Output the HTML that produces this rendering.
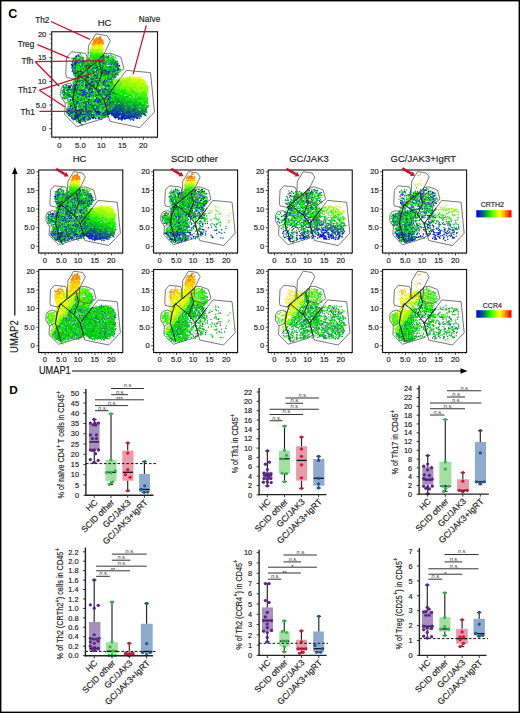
<!DOCTYPE html><html><head><meta charset="utf-8"><style>html,body{margin:0;padding:0;background:#fff;}svg{display:block;} .b{stroke:#1a1a1a;stroke-width:0.16px;}</style></head><body>
<svg width="520" height="713" viewBox="0 0 520 713" font-family='"Liberation Sans", sans-serif'>
<rect x="0" y="0" width="520" height="713" fill="#fff"/>
<defs>
<g id="hc1" stroke-linecap="round" stroke-width="7.5" fill="none">
<path stroke="#0004e5" d="M106 123h0m-6 12h0m53-5h0m4 3h0m93 4h0m-113 0h0m-4 14h0m118 6h0m-94-3h0m-30 9h0m92 8h0m-108-3h0m119 23h0m-16-2h0m-27-1h0m-68-1h0m55 8h0m67-1h0m-3 8h0m-27 14h0m-117 3h0m-2-3h0m11 15h0m-22 1h0m-5 6h0m101 17h0m-68-6h0m-3 14h0m132 5h0m-132 4h0m0 7h0m-9 10h0m13 5h0m12-1h0m116 15h0m-4 6h0m-8 3h0m-6 0h0m-42-4h0m-3 3h0m-30-3h0m-6 6h0m-70 0h0m115 7h0m-89 17h0m26-3h0m181 4h0m-158 4h0m-59-3h0m21 11h0"/>
<path stroke="#000ce3" d="M125 116h0m45 3h0m11-2h0m-85 9h0m-4 4h0m85 9h0m-79 12h0m0-4h0m150 6h0m-82 3h0m-36 0h0m-30 11h0m24-1h0m108 8h0m-22-1h0m21 3h0m-8 12h0m-13-3h0m-95 4h0m-13 8h0m121 8h0m19 5h0m-4 13h0m-102 4h0m111 5h0m-147 3h0m-1 12h0m73-6h0m13 12h0m-131-3h0m-2 10h0m44-4h0m106 4h0m41 3h0m5 1h0m-11 6h0m-116-2h0m-10-2h0m-11 11h0m59 1h0m48 9h0m-13-5h0m-27 5h0m-1-1h0m-2-4h0m-4 4h0m-64-2h0m-2-2h0m-18 5h0m6 7h0m19-6h0m22 4h0m27 6h0m-64 11h0m161 7h0m-166 1h0m-18 6h0m65 0h0m4 0h0m37 4h0m27-4h0m-16 8h0m-5-2h0m-26-1h0m-12 6h0m20 6h0m3 1h0m91-1h0m-75 6h0m-62 18h0"/>
<path stroke="#0015df" d="M106 94h0m63 23h0m0 2h0m17-1h0m-106 14h0m149-3h0m-10 11h0m-52 1h0m-18-2h0m-25 0h0m-1 6h0m6 2h0m75 7h0m-7-2h0m-91 1h0m62 13h0m27-5h0m13 10h0m-69 12h0m70-7h0m33 1h0m13 4h0m-125 6h0m-16 0h0m-12-2h0m98 14h0m-110 16h0m73 2h0m-58 13h0m74-5h0m23 4h0m-67 5h0m-36 0h0m-14 2h0m-25-3h0m21 11h0m22 1h0m39 0h0m24-4h0m7 3h0m67 1h0m9-3h0m-168 21h0m2-4h0m111-2h0m42 6h0m-28 8h0m-3-4h0m-58 7h0m76 3h0m3-5h0m-6 12h0m-65-4h0m-10 1h0m-16-1h0m-36 6h0m58 2h0m64 5h0m15 9h0m-107 6h0m63-1h0m53 6h0m-90 1h0m-37-1h0m-31 2h0m2 8h0m3 0h0m17 4h0m5-7h0m12 2h0m4 2h0m26-4h0m65 4h0m17 1h0m9 0h0m-12 3h0m-80 1h0m-1 5h0m-7-5h0m-38 13h0m10-4h0m44-1h0m46 4h0m1-5h0m1 5h0m8-2h0m68 3h0m-151 7h0m-30-5h0m-18 2h0"/>
<path stroke="#0324cb" d="M228 108h0m-134-2h0m-11 14h0m182 23h0m-101-4h0m-38 0h0m83 6h0m35 14h0m-84-7h0m-46 13h0m118-4h0m-13 7h0m-83 0h0m60 18h0m-103 3h0m127 7h0m-83 11h0m105 15h0m-110 0h0m-59-1h0m50 10h0m94 0h0m-23 1h0m-35 4h0m-59 1h0m-34 3h0m175 2h0m-72 7h0m-9 12h0m53-5h0m-1 11h0m-109-3h0m4 10h0m77 2h0m-86 9h0m-28 4h0m123 1h0m52 3h0m-67 6h0m68 18h0m-5-5h0m-71 6h0m-13-2h0m-9 3h0m-36-4h0m-50 6h0m24 3h0m58 1h0m42-2h0m44 2h0m10 1h0m49 0h0m-22 8h0m-20 1h0m-83 0h0m-44 8h0m28-3h0m17-4h0m127 9h0m-14 1h0m-130 5h0"/>
<path stroke="#0532b7" d="M271 318h0m-34-4h0m2 11h0m1 0h0m19-1h0m16 3h0m69 2h0m-6 5h0m-55-5h0m-35 6h0m31 3h0m3 2h0m2-4h0m4 5h0m1-2h0m3-1h0m16-1h0m1 2h0m6-2h0m5 0h0m6 4h0m-39 3h0"/>
<path stroke="#0841a3" d="M236 291h0m18 11h0m-16 7h0m39 8h0m-19 1h0m-5-3h0m-12 1h0m3 9h0m109 2h0m-44 4h0m-3 7h0m35 6h0m-16 6h0m-17-4h0"/>
<path stroke="#0a4f8e" d="M218 103h0m-20 13h0m-88 5h0m-15 3h0m-14 19h0m57 4h0m22 3h0m-61 46h0m103 12h0m-21 27h0m-20-1h0m-1 5h0m-2-5h0m-46-2h0m114 45h0m-133 14h0m193 5h0m-30 6h0m-32 7h0m6-3h0m3-1h0m2 4h0m3-1h0m38-1h0m16 4h0m35 3h0m-20 5h0m-1-2h0m-18-4h0m-11-1h0m-22 3h0m-161-3h0m172 14h0m21-3h0m4 3h0m2-3h0m42 0h0m24 2h0m-70 5h0m-79 2h0m-130 7h0m247 14h0"/>
<path stroke="#0d5d7a" d="M201 125h0m-41 2h0m-11 0h0m-51 7h0m6-4h0m16 1h0m5 4h0m69-6h0m22 2h0m39 9h0m-56 10h0m26-1h0m43 5h0m-3-1h0m-51 0h0m-8 3h0m-117 6h0m7 3h0m19 7h0m94 6h0m35 3h0m-61 13h0m42-2h0m-9 15h0m-21-6h0m0 0h0m-17-1h0m-13 2h0m-62 11h0m33-4h0m12 2h0m9 4h0m10-6h0m5 0h0m17 4h0m35-2h0m-92 7h0m-6 1h0m-22 4h0m-6 0h0m-31 0h0m-16 6h0m41-3h0m18 5h0m53 7h0m-32-3h0m-44-1h0m-40 6h0m19 7h0m51-2h0m112 10h0m-74-5h0m-88 0h0m70 13h0m11-6h0m72 13h0m-107-3h0m-21 6h0m65 4h0m36 0h0m6 0h0m49-5h0m-13 12h0m-12 0h0m-19-2h0m-84 2h0m104 7h0m8 3h0m32 0h0m4-2h0m23 5h0m-7 0h0m-4 2h0m-1 1h0m-5 2h0m-10-1h0m-2 0h0m-5 0h0m-7 1h0m-15-6h0m-2 2h0m-117 2h0m-23-4h0m49 15h0m31-3h0m52-2h0m23-2h0m9 2h0m5 0h0m4 0h0m3 4h0m10-5h0m9 0h0m1 6h0m76 4h0m-34-3h0m-21 7h0m-7-1h0m-64 0h0m-152 3h0m16-1h0m24 7h0m86-5h0m90 3h0m1-3h0m30 5h0m11-7h0m21 9h0m-14 2h0m-224 1h0m-17-1h0m202 5h0m11 3h0m27 7h0m-153 4h0m-66 3h0m2 6h0"/>
<path stroke="#0f6c66" d="M116 103h0m33 5h0m-32 9h0m137 10h0m-132-3h0m44 5h0m69 11h0m-72-2h0m-7 1h0m-52 3h0m-20 7h0m20-2h0m95 3h0m14-6h0m60 7h0m-85 5h0m-77 1h0m41 9h0m11-1h0m12 0h0m3-5h0m22 2h0m15 11h0m-29 0h0m-87 0h0m3 5h0m104-1h0m25 11h0m-26-4h0m-76 14h0m-42 6h0m-29 10h0m48 0h0m32 0h0m1 7h0m-84 3h0m163 7h0m-88 2h0m-64 1h0m75 13h0m5 7h0m-89-4h0m46 11h0m149 1h0m-132 6h0m-75-3h0m82 9h0m70 4h0m47 8h0m-164 0h0m22 6h0m37-2h0m66-1h0m28 1h0m27 5h0m1-5h0m1 4h0m18-2h0m3-4h0m27 13h0m-40 2h0m-8-1h0m-11-3h0m-144-1h0m-46 12h0m120-3h0m18-1h0m38 0h0m13 1h0m8 3h0m39-6h0m13 7h0m51-5h0m2-2h0m-16 12h0m-16 0h0m-10 2h0m-93-5h0m-14 5h0m-58-2h0m-43-2h0m-28 13h0m124 0h0m14 0h0m75-4h0m19 4h0m41 1h0m-19 6h0m-48-1h0m-68 1h0m-88-4h0m-14 4h0m-5-5h0m-40-1h0m51 9h0m13 14h0m-53-4h0m19 11h0m0-3h0"/>
<path stroke="#0e7f54" d="M219 100h0m-105 7h0m57 10h0m23-5h0m16 5h0m32 6h0m-116 3h0m-4 1h0m137 10h0m-44 5h0m-71-4h0m-22 3h0m-4-2h0m-18 5h0m147 6h0m11 4h0m-51 4h0m-20-1h0m-92 2h0m52 4h0m89 3h0m3 2h0m-33 0h0m-89 9h0m58 6h0m56-4h0m18 4h0m-91 2h0m84 10h0m-130 19h0m29-5h0m9 2h0m64 6h0m-95 14h0m82-3h0m31 6h0m-154-1h0m-13 5h0m-16-6h0m119 11h0m16-1h0m20-1h0m-48 14h0m-17-7h0m-32 7h0m131 1h0m1 0h0m7 2h0m75 7h0m-98 6h0m-21-5h0m-11-2h0m-3 2h0m-23 5h0m70 3h0m12 0h0m10-1h0m20 3h0m10 8h0m-26-1h0m-12 1h0m-19 1h0m-48-3h0m-6-2h0m-92 10h0m76 1h0m48 2h0m26-3h0m1 2h0m18-2h0m9 4h0m20-2h0m9 3h0m38 0h0m31 8h0m-20-5h0m-28 1h0m-23 0h0m-33 4h0m-20-4h0m-78-3h0m-87 15h0m4-5h0m10 0h0m80 4h0m37-1h0m76-2h0m27-1h0m37 2h0m19-3h0m11 12h0m-1 0h0m-30 2h0m-3-4h0m-10 3h0m-3-6h0m-30 2h0m-4 5h0m-199 8h0m64-4h0m42-2h0m9 3h0m112-3h0m36 6h0m23-5h0"/>
<path stroke="#0b9543" d="M229 110h0m-135-2h0m48 10h0m54-1h0m33-2h0m7 7h0m-1 0h0m-26 0h0m-8 3h0m-5-5h0m-45 6h0m-25-6h0m48 9h0m89 5h0m-58 5h0m-1-1h0m-101 10h0m118-2h0m-33 16h0m18 2h0m-91 8h0m-6-4h0m22 10h0m0 5h0m85 3h0m-11 21h0m-21 4h0m65 7h0m-187 1h0m64 12h0m84 0h0m-167 13h0m165 9h0m0 1h0m-86-6h0m41 12h0m71 3h0m74 7h0m0-4h0m-50 2h0m-21-4h0m-73 3h0m-57 4h0m28 7h0m6-6h0m33 0h0m59 5h0m9-1h0m60 2h0m43 6h0m-65-1h0m-31-1h0m-3 1h0m-33 1h0m-58 2h0m-48 3h0m27 0h0m137 5h0m32-2h0m21 0h0m3 2h0m7 1h0m11 0h0m5-3h0m-9 11h0m-5-7h0m-68 6h0m-71-4h0m-50 4h0m-49-1h0m-4-3h0m133 7h0m79 3h0m6 0h0m21-3h0m2 4h0m5-4h0m34 6h0m2-4h0m0 3h0m-268 6h0m-47 3h0m148 6h0m1-5h0m148 0h0m-239 31h0"/>
<path stroke="#08ab32" d="M235 255h0m26 6h0m11-1h0m0-1h0m10 3h0m30 6h0m-11 2h0m-24 0h0m-12 0h0m-3 1h0m-4-4h0m-12-2h0m-10 4h0m45 5h0m10-2h0m-23 11h0m114 19h0m-42-5h0m-72-1h0m66 9h0m5-1h0m24 2h0m3 1h0m9-2h0"/>
<path stroke="#05c121" d="M217 100h0m-55 11h0m-64-2h0m-1-1h0m57 6h0m107 5h0m-39 3h0m-70 0h0m-23 2h0m-13-2h0m-32 5h0m82 1h0m74 5h0m9 0h0m-64 4h0m-54 4h0m-41 1h0m60 4h0m6 5h0m28-1h0m16-3h0m-2 6h0m-18 3h0m-50 6h0m31 3h0m11-4h0m29 1h0m40 5h0m18 5h0m-85-2h0m-13-2h0m-4 6h0m-47 3h0m48 0h0m4 4h0m32 1h0m26-3h0m-59 7h0m-29-1h0m-25 10h0m3 3h0m4-4h0m51-2h0m77 6h0m-144 6h0m99 8h0m43 2h0m-174 5h0m31 10h0m22-4h0m37 2h0m28-2h0m22 1h0m5 3h0m36-4h0m-129 14h0m-2-7h0m-73 8h0m7 0h0m7 7h0m35-7h0m48 3h0m65 1h0m3-2h0m17 4h0m16-4h0m77 10h0m-32 2h0m-2-6h0m-14 0h0m-32 2h0m-185 2h0m8 9h0m140-4h0m33 0h0m10 3h0m79 1h0m15 10h0m-14-2h0m-10-2h0m-2 4h0m-7-2h0m-14 2h0m-33-4h0m-10 2h0m-146 5h0m43-1h0m23 4h0m61 2h0m2-4h0m49-3h0m17 7h0m8-6h0m21 2h0m22 3h0m-12 5h0m-1 1h0m-37-3h0m-13 4h0m15 6h0m29 1h0m14 1h0m15 1h0m10-2h0m3 1h0m0 8h0m-234 6h0m11 2h0m87-1h0m-73 4h0m-19 0h0m78 12h0m1 1h0m-2 4h0m-14 1h0m-52 10h0m-19 5h0m-37 5h0m9 12h0"/>
<path stroke="#03d70f" d="M181 95h0m-6-6h0m-61-1h0m108 22h0m-25-1h0m-36 1h0m-35-5h0m36 12h0m56-3h0m8 1h0m26 6h0m-47 5h0m-22-4h0m-9-2h0m-8 7h0m-1-7h0m-9 5h0m-25 0h0m-45 7h0m43-2h0m28-1h0m8-1h0m100 9h0m-87-1h0m-82 12h0m111-1h0m54 11h0m-17-2h0m-144-3h0m106 7h0m29 7h0m-20 5h0m-13 2h0m-8-2h0m12 13h0m-5 1h0m-1 4h0m-32-5h0m-1 5h0m-17-6h0m-37 9h0m9 2h0m8 0h0m23-2h0m-13 14h0m-14-7h0m-19 6h0m-3-5h0m42 10h0m19-1h0m36-2h0m1 5h0m23 2h0m-128 4h0m-50-1h0m25 13h0m94-5h0m98 13h0m-8-4h0m-108-1h0m-61 4h0m-23-5h0m-12 1h0m-9 0h0m13 11h0m19-2h0m156-3h0m43 2h0m26 6h0m-11 2h0m-3 4h0m-12-1h0m-1 1h0m-18-3h0m-11 4h0m-1 0h0m-155 0h0m-21-5h0m7 7h0m31 2h0m40 0h0m91-1h0m9-2h0m7 1h0m8 1h0m4 4h0m43-3h0m44 2h0m3 1h0m9-1h0m9 8h0m-45 0h0m-104-2h0m-109 5h0m31 2h0m44-1h0m18 1h0m103 3h0m25-3h0m2 1h0m11-3h0m30 6h0m-1 5h0m-2 3h0m-131 0h0m-13-2h0m-2 0h0m-16 2h0m-61-2h0m233 12h0m-19 4h0m-5-3h0m-20 3h0m-114 3h0m-14-5h0m-54 2h0m-21 2h0m-39 3h0m-29 11h0m43 6h0m99 12h0m-88 9h0m25-3h0m1 6h0"/>
<path stroke="#02eb00" d="M170 95h0m-14-2h0m4 3h0m2 2h0m27 2h0m7-1h0m32-3h0m17 3h0m-3 10h0m-16 1h0m-63 1h0m-60-1h0m-8 0h0m3 9h0m39-4h0m28 2h0m18 2h0m68-2h0m-15 8h0m-19 2h0m-20-1h0m-18-6h0m-6 5h0m-18 3h0m31 1h0m57 0h0m23 8h0m-71-1h0m-6 3h0m-23 2h0m-26-5h0m-13 4h0m-10 1h0m6 6h0m5 0h0m12 3h0m10-3h0m22 0h0m61 8h0m-102 0h0m80 11h0m8-4h0m5 0h0m38 7h0m-22 4h0m-116-1h0m-13-4h0m0 3h0m-12 10h0m109 1h0m44-2h0m-32 6h0m-28-1h0m-56 3h0m77 14h0m-38-1h0m-50 6h0m-35-5h0m22 10h0m-25 9h0m74 8h0m73 2h0m32-3h0m21 11h0m-26-4h0m-5-1h0m-145 6h0m63 7h0m8 0h0m24-4h0m34-2h0m78 11h0m-137-2h0m-25 2h0m-68 0h0m-7 10h0m1-5h0m16 1h0m84 0h0m85 0h0m11 3h0m16 1h0m24-5h0m15 5h0m14 1h0m7-5h0m4 6h0m-14 6h0m-11-5h0m-27 2h0m-59-1h0m-52 4h0m-59-6h0m-48 14h0m12-4h0m206 1h0m11 3h0m13-5h0m10-1h0m1 1h0m23 2h0m9 5h0m-14 6h0m-186-5h0m-97 10h0m151-3h0m146 9h0m-183 6h0m-94 0h0m-3 5h0m93-3h0m-90 15h0m54 15h0m-10 0h0m-47-2h0m93 14h0m-75 7h0"/>
<path stroke="#19ef00" d="M179 86h0m18 0h0m-26 9h0m-9-5h0m-1 11h0m42-2h0m34 5h0m-13 1h0m-45 4h0m-19-5h0m-12 4h0m29 11h0m30-6h0m-51 13h0m-37-3h0m-22 0h0m28 10h0m20-2h0m8 0h0m13-1h0m10 0h0m19 2h0m54-1h0m-86 5h0m-73 10h0m18-1h0m102 0h0m48 14h0m-94-5h0m-63 4h0m20 7h0m2-4h0m90 6h0m34-1h0m20-4h0m-16 13h0m-4 0h0m-18-2h0m-1-2h0m-44-3h0m-6 7h0m-38 2h0m15-1h0m41 22h0m6-2h0m44 9h0m-6 1h0m-11-3h0m-31 1h0m-29-3h0m-77 14h0m4-7h0m12 4h0m142 5h0m-165 5h0m33 7h0m132-1h0m42 4h0m-29 2h0m-5-1h0m-21 4h0m0-5h0m-60 4h0m-5-1h0m-8 7h0m65 2h0m31-3h0m2 2h0m1 3h0m68-5h0m-19 8h0m0 4h0m-27-3h0m-26 3h0m-150-1h0m-19 0h0m-17 2h0m-16-6h0m77 14h0m185 0h0m17 0h0m30-4h0m12 11h0m-41-3h0m-73 5h0m-16-2h0m-173 9h0m19-4h0m63-2h0m35 3h0m14 2h0m173-4h0m0 3h0m-149 9h0m-96-2h0m-56 0h0m13 11h0m84-4h0m4 4h0m65-5h0m-61 13h0m-33-5h0m-24 5h0m72 7h0m-75 10h0m-17-5h0m80 13h0m30-7h0m-115 15h0m-3-7h0m7 11h0m30 2h0"/>
<path stroke="#30f200" d="M173 84h0m45 10h0m-15-4h0m-18 7h0m6 1h0m45 4h0m-38 5h0m-46 1h0m16 4h0m12 0h0m66 8h0m-14 1h0m-28 4h0m-34-5h0m-23 2h0m-45 7h0m31 12h0m-43-3h0m-8 7h0m160 0h0m-110 9h0m5 9h0m95 4h0m-12 2h0m-58 0h0m-1-1h0m-7 1h0m-30-1h0m-10 15h0m88-2h0m-52 5h0m-57 0h0m49 13h0m5-6h0m71 6h0m-61 8h0m-4-4h0m-32 6h0m18 5h0m74-4h0m47 3h0m1-1h0m40 3h0m12 5h0m-9-1h0m-124 3h0m-128 2h0m43 1h0m46 1h0m154-2h0m-9 12h0m-51-3h0m-84 4h0m-21-4h0m-2 2h0m-23 9h0m18 0h0m126 1h0m72 1h0m6-4h0m42 4h0m-13 6h0m-15-4h0m-1 5h0m-26-3h0m-8 0h0m-134 3h0m-121-2h0m20 10h0m251-4h0m30 2h0m13 4h0m18 6h0m-4-5h0m-4 1h0m-8 2h0m-28-2h0m-202 3h0m-52 0h0m42 8h0m2 3h0m24-7h0m18 2h0m182 0h0m-99 8h0m-105-1h0m-61 0h0m22 10h0m54-1h0m63-1h0m10 0h0m-14 13h0m-42-5h0m-58 2h0m-7 7h0m66 9h0m44 13h0m-14 0h0m-16 6h0m-97 2h0m1 13h0"/>
<path stroke="#47f600" d="M186 101h0m-10 8h0m-5-2h0m98 105h0m58 8h0m-1 1h0m-51-1h0m13 9h0m7 1h0m2-5h0m6 0h0m14 4h0m4-2h0m61 3h0m-2 9h0m-57-3h0m-10 0h0m-7-4h0m-11 1h0m-21 5h0m-9-6h0m-12 6h0m41 5h0m11 2h0m0-5h0m3 1h0m7 1h0m7 2h0m4 0h0m12 2h0m31 1h0m3-5h0m-8 8h0m-3 0h0m-7 3h0m27 14h0"/>
<path stroke="#5efa00" d="M154 82h0m30 6h0m75 111h0m4 3h0m-10 5h0m-8 5h0m1-2h0m24 1h0m6 1h0m1 3h0m6-5h0m9 4h0m70-6h0m-11 9h0m-5 0h0m-78 3h0m17 6h0m31 0h0m36 1h0m5 3h0m3-2h0m22 9h0m-3-3h0m-45 2h0m-26 1h0m-20-3h0m-2 7h0m22-1h0m36 1h0m19 1h0m2 4h0m0-4h0m5 17h0"/>
<path stroke="#75fd00" d="M182 77h0m-6 2h0m-21 6h0m103 108h0m13 6h0m19-1h0m28 6h0m-23-4h0m-34 4h0m2 5h0m18 2h0m39 0h0m43 0h0m-22 8h0m-6-2h0m-13 1h0m-8 2h0m-8 2h0m-11-4h0m-5-2h0m-19 0h0m68 10h0m13 0h0m1 5h0m14-7h0m6 10h0m-5-1h0m-7 6h0m-5 0h0m-32-4h0m43 10h0"/>
<path stroke="#0004e5" d="M99 101h0m140 4h0m-155 29h0m101-5h0m21 4h0m-22 7h0m-55 5h0m10 0h0m76 6h0m-114 1h0m-17 6h0m53 6h0m21-1h0m34 11h0m-48 5h0m48 3h0m34 1h0m10-2h0m-76 9h0m35 16h0m-38-6h0m60 9h0m40 11h0m-195 3h0m34 3h0m60 4h0m100 7h0m-192 7h0m26 1h0m20-4h0m8 4h0m-17 5h0m-45 8h0m94 10h0m-54 2h0m141 7h0m-17 22h0m-93-3h0m85 21h0m-3-2h0m-112 1h0m-12 2h0m-8 8h0m8-5h0m29 0h0m117 5h0m-14 6h0m-96-1h0m-27 4h0m77 1h0m39 5h0m-21 4h0m-23 0h0m-43 2h0m-4 2h0"/>
<path stroke="#000ce3" d="M98 98h0m18 4h0m-18 12h0m5 4h0m92-4h0m54 3h0m-54 4h0m-34 4h0m-28-5h0m-9 2h0m-27 2h0m0 4h0m50 6h0m44 0h0m6 1h0m48 8h0m-61-4h0m-74-2h0m66 9h0m42 6h0m-98 7h0m57 7h0m37-4h0m4 6h0m-1 6h0m-30 1h0m-64-5h0m-4 7h0m25 2h0m47 11h0m-32-5h0m-12 7h0m-22 17h0m27 1h0m7-2h0m82 3h0m-135 9h0m-7 0h0m-15 8h0m66 0h0m34 1h0m-59 13h0m5 2h0m58 1h0m47-5h0m-8 12h0m-120-3h0m-44 3h0m-4-2h0m25 11h0m3 2h0m83-6h0m50 3h0m28 4h0m-8 2h0m-110 5h0m-2-1h0m-27-1h0m8 5h0m39 0h0m-37 19h0m44 0h0m26 1h0m56 8h0m-100 0h0m-41 0h0m43 5h0m65 0h0m1 8h0m-44 0h0m-17-2h0m-77 2h0m0 11h0m9-2h0m20 0h0m6 2h0m7-3h0m71 0h0m0 0h0m57-2h0m1 3h0m-49 6h0m-55 3h0m-49 2h0m1 6h0m17-4h0m47 4h0m0-4h0m28-1h0m12 1h0m108 8h0m-134-1h0m-60 6h0m-17 1h0"/>
<path stroke="#0015df" d="M198 102h0m48 8h0m-42 6h0m31-1h0m1 10h0m-83 5h0m100 4h0m17 2h0m-70 6h0m-57 1h0m-22 6h0m11 0h0m135-1h0m-45 8h0m-69 2h0m-43-4h0m105 12h0m39-2h0m9 6h0m-158 2h0m83 7h0m8 3h0m30-5h0m1-1h0m22 7h0m-14 4h0m-89-3h0m1 12h0m102 1h0m2 1h0m-21 2h0m-45 5h0m-23-2h0m-50 8h0m27-1h0m69 2h0m22 4h0m-62 2h0m-20 3h0m-79-3h0m-1 4h0m156 14h0m-22 2h0m-15-4h0m-65 0h0m-22 3h0m-19-4h0m-32 8h0m86 5h0m74-2h0m7 0h0m1-4h0m3 12h0m-47 2h0m-5 0h0m-77-2h0m-5 3h0m-24-4h0m34 10h0m43 1h0m103 2h0m-131 7h0m-5 7h0m19 0h0m105 6h0m-25-4h0m-19 11h0m20-1h0m37 13h0m-54-2h0m-55 2h0m-24-1h0m-10 9h0m37-1h0m13-3h0m74 8h0m-11 2h0m-87-1h0m-23-1h0m18 7h0m11 0h0m38-1h0m7-1h0m15 4h0m18 2h0m11-5h0m50 7h0m-8 4h0m-6 3h0m-8-7h0m-2 5h0m-4-4h0m-31 5h0m-19-4h0m-19 0h0m-23 4h0m-1-1h0m-56 4h0m0 2h0m161-3h0m6 6h0m25-4h0m7 10h0m-11 0h0m-14 1h0m-14-5h0m-127 2h0m-25-2h0"/>
<path stroke="#0324cb" d="M92 115h0m86 2h0m48 0h0m-53 18h0m27 2h0m-54 2h0m-32 0h0m-14 5h0m106 0h0m15 4h0m-78 15h0m71 2h0m-37 10h0m-50-2h0m-7 1h0m-16-4h0m-8 11h0m21-1h0m51-4h0m-15 12h0m-43 11h0m100-4h0m-54 19h0m78 7h0m-173 4h0m71 6h0m22-4h0m13 21h0m-120 5h0m7 10h0m58-4h0m80 0h0m50 3h0m-14 14h0m-72 11h0m-18 0h0m31 10h0m-6 9h0m8 17h0m21 4h0m5-6h0m38-1h0m31 6h0m32 2h0m-28 4h0m-8-2h0m-22 1h0m0 1h0m-104 2h0m-5-3h0m-17-3h0m-8 3h0m-26 7h0m21 0h0m69 3h0m21 2h0m15-4h0m58 3h0m16-2h0m4-1h0m4 2h0m32 3h0m-28 3h0m-19-2h0m-155 12h0"/>
<path stroke="#0532b7" d="M242 308h0m17 10h0m-13 1h0m64 13h0m-30-1h0m-27 8h0m38-2h0m11 4h0m29 2h0m3-4h0m-2 5h0m-52 8h0"/>
<path stroke="#0841a3" d="M254 295h0m-24 9h0m26 1h0m40 10h0m-9 1h0m-26 0h0m-6 3h0m-3-7h0m-19 11h0m20 2h0m0-2h0m0-1h0m7 3h0m2-3h0m6 3h0m18-5h0m8 7h0m28 0h0m24 7h0m-13 1h0m-18-1h0m-9 0h0m-25-6h0m-22 3h0m33 6h0m10 2h0m16 2h0m11-4h0m19-1h0m-40 9h0"/>
<path stroke="#0a4f8e" d="M204 106h0m60 47h0m-21 3h0m-13 26h0m-152 51h0m149 22h0m-34-5h0m-89 17h0m10 6h0m56 7h0m-62 5h0m152 7h0m-19 9h0m3 5h0m26-2h0m17 1h0m39 14h0m-20-2h0m-1-1h0m-23 2h0m-7-2h0m-7-3h0m-13 1h0m-14-2h0m-3 1h0m25 12h0m4-3h0m22 4h0m5 1h0m11 0h0m0-3h0m10-1h0m26 0h0m17 2h0m17 9h0m-21-4h0m-6 5h0m-29-1h0m-1-3h0m0 3h0m-9-3h0m-167 3h0m161 4h0m25 3h0m27-3h0"/>
<path stroke="#0d5d7a" d="M203 112h0m25 2h0m-15 10h0m-9-3h0m-20 0h0m-3 4h0m-28 4h0m92 13h0m-4-4h0m-117 5h0m0 5h0m47 3h0m13-5h0m49 7h0m-9-1h0m-110 7h0m-13 6h0m40-4h0m38 1h0m29 2h0m5-2h0m42 2h0m-13 8h0m0 1h0m-59-1h0m-54-4h0m-18 6h0m-21-4h0m4 6h0m11 3h0m15 4h0m15-5h0m44 8h0m-61 8h0m1 10h0m31 11h0m-20 5h0m85 18h0m-121 4h0m3-1h0m48 2h0m49-3h0m47 10h0m-10 1h0m-10-3h0m-37 7h0m-97-1h0m61 2h0m12 4h0m8-4h0m0 4h0m87 3h0m-136 2h0m57 7h0m16 5h0m1 2h0m54-1h0m-4 3h0m-11 4h0m-45 0h0m-47-3h0m-7-1h0m-2 4h0m-62 5h0m76 4h0m58-1h0m10-5h0m19 7h0m5-2h0m5 0h0m66 7h0m-8-4h0m-6 1h0m-11-1h0m-3 0h0m-12 2h0m-199 10h0m138-2h0m53 4h0m16-1h0m15 1h0m9-5h0m11 0h0m11 4h0m9 9h0m-5-5h0m-33 0h0m-10 2h0m-9-3h0m-135 4h0m-68 2h0m153 7h0m76-5h0m2 0h0m66 7h0m-19 6h0m-8 2h0m-5-2h0m-8-5h0m-3 7h0m-28 0h0m-176-4h0m-7 6h0m24 1h0m38-1h0m-96 7h0m20 12h0"/>
<path stroke="#0f6c66" d="M87 113h0m10 3h0m67-4h0m14 3h0m5-2h0m24 7h0m-24 6h0m-30-4h0m-31 9h0m0 1h0m9-4h0m76 9h0m-73 6h0m-36 3h0m9-1h0m35 1h0m44 5h0m49-2h0m16 0h0m-47 10h0m-40-4h0m-50-2h0m27 7h0m1 0h0m47 5h0m23 0h0m41 8h0m-13-3h0m-14 5h0m-4-4h0m-5-1h0m-95 5h0m-2 8h0m64-7h0m-71 38h0m52-4h0m-14 13h0m-27-7h0m-31 1h0m83 22h0m-69-5h0m-25-2h0m-1 10h0m30 2h0m59-2h0m16 0h0m24-1h0m19 1h0m25 13h0m-6-7h0m-34 3h0m-67 3h0m-5-3h0m-67 8h0m27 3h0m27-5h0m33 4h0m11-3h0m3-1h0m54 1h0m16 0h0m-119 9h0m-11 5h0m78 4h0m49-2h0m5 5h0m43 1h0m-54 6h0m-52-6h0m7 12h0m16-1h0m28-1h0m4-1h0m2 5h0m3 0h0m3-5h0m8 3h0m7-2h0m6 4h0m23 1h0m38 6h0m-34-3h0m-23 0h0m-12 5h0m-1-7h0m-71 1h0m-114 8h0m56 2h0m16 2h0m52-4h0m88 3h0m16 1h0m74 3h0m-30 7h0m-6-6h0m-2 1h0m-17 3h0m-7 1h0m-2-2h0m-7-4h0m-105 2h0m-112 13h0m227-2h0m46 0h0m-16 4h0m-154 3h0m-15-2h0m-74 2h0m25 5h0m9 2h0m44-2h0m19 5h0m25-2h0m-99 12h0"/>
<path stroke="#0e7f54" d="M242 109h0m-62 1h0m-69 0h0m107 9h0m-6 6h0m-27-2h0m-26 2h0m-49-1h0m1 4h0m76 6h0m23-6h0m30 9h0m-31 3h0m-3 3h0m-1-1h0m-97-1h0m117 12h0m-38 1h0m-65 5h0m-2-5h0m-16-1h0m-8 8h0m8 2h0m24 0h0m111 9h0m-16-1h0m-15 1h0m-91 5h0m93 0h0m37-1h0m-18 14h0m-133 9h0m124 8h0m-98 4h0m24 3h0m1-5h0m106 11h0m-110-2h0m-4 5h0m-46 7h0m37 3h0m-23-1h0m-13 15h0m42 0h0m86-6h0m-58 8h0m-110 3h0m-3 10h0m205 5h0m-149 2h0m-50-4h0m66 9h0m123 2h0m25 5h0m-20 4h0m-3-3h0m-101 0h0m-24-2h0m-27 4h0m23 8h0m38-3h0m6 6h0m5-1h0m22 1h0m16-2h0m23 0h0m10-5h0m14 0h0m34 7h0m1 0h0m48 6h0m-18-4h0m-20 5h0m-7-6h0m-11 7h0m-6-1h0m-28 0h0m-10-3h0m-1-3h0m-54 7h0m-24 0h0m-18-2h0m-4 1h0m-60-4h0m198 7h0m37 3h0m6 0h0m3 2h0m29-2h0m7-3h0m22 14h0m-17-1h0m-33-4h0m-110 0h0m-84 4h0m-16-6h0m-11 5h0m-10-5h0m-4 3h0m-19 10h0m43 0h0m101-2h0m144-1h0m6-2h0m-8 8h0m-12 5h0m-4-3h0m-131-2h0m-60 5h0m-59-3h0m-15 8h0m26 15h0m10 3h0m7-2h0"/>
<path stroke="#0b9543" d="M224 111h0m-34-5h0m-21 8h0m3 3h0m7-3h0m33 3h0m-3 5h0m-12 1h0m-85 1h0m148 16h0m-52-3h0m-94 10h0m22 3h0m49-5h0m24 6h0m53-4h0m-14 10h0m-28-2h0m-13 0h0m-81 1h0m-14-2h0m37 10h0m53 3h0m60 3h0m-118-2h0m-34 5h0m58 9h0m76-4h0m-122 14h0m3 6h0m13-4h0m18 3h0m22 0h0m12-4h0m43 8h0m6 12h0m-12 6h0m-28 2h0m-58-3h0m90 18h0m-126-4h0m-56 3h0m176 10h0m-105 7h0m-33 1h0m164 10h0m8-4h0m40 10h0m-31-2h0m-6 3h0m-97-3h0m54 8h0m27-3h0m1 4h0m5-3h0m32 6h0m7-7h0m67 12h0m-24-3h0m-19 6h0m-11-3h0m-9 1h0m-15-1h0m-1 1h0m-28 2h0m-133-2h0m-24 6h0m178 2h0m20-4h0m34-1h0m2 5h0m10-2h0m1-1h0m-29 6h0m-12 5h0m-18-5h0m-69 5h0m-8 1h0m-2 0h0m-19-4h0m-96 5h0m87 7h0m141-5h0m20-1h0m5 1h0m39 6h0m-191 2h0m-21 6h0m9 7h0m179 4h0m-137 3h0m-11 3h0m-79 21h0"/>
<path stroke="#08ab32" d="M164 126h0m83 124h0m-14 8h0m28-2h0m25 2h0m12 3h0m20 7h0m-10 3h0m-10-6h0m-33 1h0m-5 0h0m-4-2h0m-5 1h0m-8 0h0m4 10h0m21-2h0m4 3h0m1 1h0m5 1h0m6-1h0m12 2h0m29 2h0m-12-1h0m-1 3h0m-15 2h0m-35-4h0m27 10h0m32 1h0m25-2h0m5 1h0m6 2h0m25 5h0m-28 5h0m-23-2h0m-37 2h0m39 4h0m15 16h0"/>
<path stroke="#05c121" d="M173 103h0m22-7h0m38 13h0m-26-2h0m-54 8h0m38 6h0m-28 6h0m-11 0h0m-31 1h0m10 6h0m13-2h0m94 7h0m-34 1h0m-82 0h0m-30 2h0m46 4h0m101 4h0m5 2h0m-93 7h0m74 13h0m-39 2h0m-3 1h0m-45-2h0m-14-2h0m-4-1h0m-4 1h0m-9 2h0m119 3h0m-85 8h0m-19 2h0m-19 7h0m68 4h0m13-4h0m-57 13h0m-24-3h0m-16 0h0m69 6h0m84 0h0m-12 13h0m-15-3h0m-17-1h0m-34 1h0m-2-2h0m-16 4h0m-74 7h0m36 2h0m153 9h0m-4-2h0m-24 2h0m-92 0h0m82 3h0m21 1h0m-7 5h0m-56 6h0m-43 1h0m-73 0h0m-13 1h0m186 5h0m6-1h0m14-1h0m42 2h0m-4 3h0m-4 3h0m-6-3h0m-5 4h0m-6 2h0m-7 1h0m-13 0h0m-3-4h0m-3-3h0m-8 7h0m-5-1h0m-145 9h0m6-5h0m64 5h0m69-2h0m28-3h0m21-1h0m7 0h0m25-1h0m63 12h0m-19 2h0m-4-5h0m-40 1h0m-34-2h0m-26 0h0m-62 7h0m-20-2h0m-2-3h0m-58 6h0m41 2h0m218 2h0m3 7h0m-1 4h0m-22-5h0m-163-2h0m-41 2h0m-22 5h0m-37-5h0m-1 2h0m8 11h0m72-7h0m0 7h0m48-2h0m25-1h0m92-3h0m40 1h0m-134 10h0m-11 3h0m13 2h0m-149 21h0"/>
<path stroke="#03d70f" d="M237 93h0m-51 1h0m-12 0h0m-19 8h0m0-5h0m12 3h0m8 1h0m21-1h0m20 1h0m4 6h0m-16 2h0m-32 0h0m-10-4h0m-69 4h0m-4 10h0m19-3h0m72 2h0m6-4h0m0 3h0m5-5h0m65 15h0m-37-4h0m-30 1h0m-13 0h0m-1 0h0m-13-3h0m-7 1h0m-3-2h0m-25 10h0m60-2h0m-2 11h0m-61 10h0m2 1h0m37-5h0m53 5h0m10-3h0m7-2h0m-111 17h0m2 5h0m2-3h0m51 1h0m30-2h0m47-2h0m3 8h0m-17 6h0m-5-1h0m-17 1h0m-7-1h0m-2-5h0m-88 6h0m-1-6h0m35 8h0m32 6h0m14 0h0m10 0h0m-100 8h0m-2 0h0m30 6h0m15 0h0m103 10h0m-24-2h0m-4-5h0m-132 8h0m144 9h0m-80 3h0m-101 9h0m103-3h0m14 3h0m1 0h0m1-3h0m6 1h0m65 12h0m-26-7h0m-140 3h0m-7 1h0m-32 7h0m17 0h0m6 3h0m23-1h0m2 2h0m25-4h0m86 3h0m16-6h0m21 7h0m126-1h0m-76 3h0m-21 6h0m-4 0h0m-2-6h0m-1 3h0m-1 0h0m-20 0h0m-61-4h0m-116 2h0m85 10h0m12-3h0m38 2h0m28-3h0m6 1h0m43 4h0m0 2h0m1-1h0m7-3h0m12 0h0m49 10h0m-31 2h0m0-2h0m-15-5h0m-14 0h0m-5 7h0m-6-3h0m-46 0h0m-6-4h0m-23 7h0m-135 2h0m103 4h0m44-4h0m33 3h0m10 3h0m116-3h0m1 2h0m-4 2h0m-20 1h0m-73 4h0m-71 2h0m-56 0h0m-18-7h0m-2 7h0m-13 0h0m-9 5h0m80 1h0m31 1h0m97-6h0m51 3h0m1 3h0m3-1h0m0-2h0m1 1h0m-1 8h0m-161 1h0m-11-5h0m-27 3h0m-57 5h0m15 0h0m94 1h0m17 4h0m4 10h0m-156-3h0m124 11h0m-59 1h0m-65 10h0m54-2h0m-18 17h0"/>
<path stroke="#02eb00" d="M201 91h0m-10 1h0m0-3h0m-18 1h0m12 12h0m13 1h0m35 5h0m-23-3h0m-17 4h0m-3-5h0m-3 2h0m-13-2h0m-81 3h0m-12 0h0m5 7h0m101 5h0m22-6h0m9 1h0m47 13h0m-79-3h0m-84-2h0m32 7h0m24 3h0m32 1h0m21 0h0m10-3h0m-12 13h0m-76-7h0m-6 1h0m-19 13h0m7-6h0m9 7h0m28-1h0m61-6h0m57 10h0m-80 0h0m-21 4h0m-3-6h0m-12 3h0m-5-3h0m-12 4h0m-6-2h0m-4 2h0m-13 4h0m4 5h0m32-3h0m42-2h0m27 7h0m12-5h0m32 2h0m-17 6h0m-37 0h0m-39 3h0m-44-1h0m86 10h0m3-3h0m-108 8h0m-4 6h0m61 2h0m4 3h0m78 5h0m-29-1h0m-22 0h0m-27 0h0m-35-1h0m-2 2h0m-6-2h0m-25 3h0m0 2h0m54 7h0m45-5h0m19 0h0m30 11h0m-8 2h0m-2-1h0m-8 2h0m-142 0h0m10 2h0m37 5h0m12 2h0m10-1h0m47-2h0m85 3h0m6 3h0m-5 5h0m-22-7h0m-85 2h0m-4 0h0m-110-1h0m156 13h0m49-6h0m5 2h0m37 3h0m23 5h0m-61-1h0m-19 5h0m-27-2h0m-2 2h0m-104-5h0m-17 0h0m-41 14h0m45-3h0m30 3h0m38 0h0m42 0h0m26-1h0m41-1h0m14 0h0m29-4h0m43 3h0m-7 10h0m-77 0h0m-17 1h0m-34-4h0m-8-3h0m-1 6h0m-23-2h0m-47-4h0m-38 3h0m-27-1h0m24 10h0m5-2h0m213-1h0m-20 14h0m-250 0h0m130 2h0m-134 17h0m49-2h0m7 2h0m78 4h0m41-4h0m-90 6h0m41 10h0m-78 15h0m98 3h0m-96 6h0m-5 5h0m-13-1h0m10 2h0"/>
<path stroke="#19ef00" d="M195 86h0m-22 17h0m63 4h0m-43 3h0m-1-4h0m-5 2h0m-31-4h0m-36 6h0m-30 6h0m102 0h0m12 5h0m-17 4h0m-5-1h0m-25-4h0m-55 14h0m105-2h0m41 1h0m-9 10h0m-27-6h0m-63-1h0m23 13h0m18-1h0m31 3h0m40 4h0m-148-3h0m11 11h0m13 1h0m94 8h0m-42 0h0m-53 5h0m3 2h0m24-2h0m69 6h0m2-3h0m-25 10h0m-34-1h0m-23 0h0m-51 4h0m29 5h0m81 4h0m-113 7h0m154 2h0m-14 5h0m-40 6h0m-9-5h0m-77 5h0m-9-2h0m134 6h0m3 0h0m10 2h0m30-3h0m38 12h0m-27 0h0m0 1h0m-9-5h0m-5 3h0m-36-2h0m-1 5h0m-38-3h0m-21-1h0m-5 1h0m-70 6h0m133-2h0m125 8h0m-35 1h0m-33-1h0m-22 3h0m-11 1h0m-55-4h0m-36 4h0m-90-1h0m-11 3h0m-15-1h0m-2 8h0m25-1h0m18 0h0m159-4h0m106 4h0m10 5h0m-9 1h0m-14 1h0m-7 4h0m-24-1h0m-169-4h0m100 10h0m64-2h0m21 2h0m14-4h0m18 2h0m1 5h0m5-5h0m-11 11h0m-157 1h0m-34-6h0m-67 7h0m-11-5h0m-22 9h0m8 0h0m73 2h0m12-3h0m52-2h0m-8 10h0m-48 3h0m-53-5h0m49 12h0m75-2h0m-97 14h0m64 1h0m26 10h0m-25 4h0m-136-7h0m64 9h0m51 0h0m23 3h0"/>
<path stroke="#30f200" d="M163 89h0m-2 10h0m2-2h0m77 11h0m-144-3h0m71 14h0m4-4h0m24 0h0m59 4h0m-70 1h0m-23 2h0m-10 1h0m32 7h0m84 13h0m-12-1h0m-131-2h0m-24 11h0m32-1h0m-25 9h0m2 6h0m7-2h0m2 2h0m85 2h0m18-3h0m-62 5h0m-33 5h0m57 6h0m0 1h0m6-3h0m22 10h0m-8-4h0m-9 0h0m-30 0h0m-45 3h0m58 19h0m-34-5h0m104 12h0m20 0h0m-24 6h0m-2 1h0m-41 0h0m-69-3h0m-1 6h0m-8-2h0m-21-3h0m-31 5h0m-5-2h0m-6 6h0m43-3h0m16 1h0m4 3h0m24 0h0m115 1h0m4-1h0m3 0h0m44 2h0m10 7h0m-18 2h0m-32-3h0m-14 1h0m-16-3h0m-25 7h0m96 4h0m1 2h0m4-1h0m5-3h0m18-2h0m27 6h0m2-3h0m5 3h0m-14 7h0m-18 0h0m-42-5h0m-5 0h0m-86 0h0m-92 1h0m-16 0h0m-14-1h0m-20 4h0m21 9h0m20-3h0m8 2h0m3 1h0m1-6h0m7 0h0m35 6h0m18 0h0m55-5h0m110 5h0m27-6h0m-13 8h0m-1 1h0m-4 4h0m-7-5h0m-216 1h0m-4 12h0m12-3h0m204-2h0m26 4h0m7-1h0m-211 5h0m-92 15h0m31-6h0m75 3h0m34-4h0m33 0h0m0 4h0m-81 11h0m-13-3h0m-52 8h0m3 3h0m12-1h0m3-2h0m26 1h0m65 3h0m-6 3h0m-108-1h0m6 9h0"/>
<path stroke="#47f600" d="M148 85h0m39 2h0m13 2h0m-11 1h0m-30-2h0m116 115h0m-36 5h0m59 8h0m-26 7h0m-9-1h0m-14-1h0m-1 5h0m60 4h0m32 2h0m-15 6h0m-1-3h0m-8-1h0m-19 2h0m-4-4h0m-11 0h0m1 9h0m35 2h0m20-1h0m24 0h0m-11 13h0m-43-5h0m41 6h0m24 5h0"/>
<path stroke="#5efa00" d="M178 84h0m109 111h0m16 7h0m-30 0h0m-5 1h0m10 6h0m24 6h0m70 7h0m-68-1h0m-13-3h0m-1 4h0m-1-4h0m-4 3h0m-24 3h0m24 1h0m12-1h0m18 1h0m44 11h0m-17 3h0m0 5h0m29 3h0m-2 15h0"/>
<path stroke="#75fd00" d="M172 79h0m-8 6h0m9 4h0m150 112h0m-8 0h0m-10 1h0m-3 2h0m-14 2h0m-16 3h0m11 1h0m10 4h0m32-6h0m25 7h0m4-3h0m3 3h0m10-1h0m-16 7h0m-7-1h0m-15 2h0m-39-5h0m-21-1h0m42 15h0m32-5h0m29 1h0m10-1h0m-5 11h0m-3 1h0m-52-6h0"/>
<path stroke="#0004e5" d="M260 127h0m-68-6h0m-31 1h0m-1 1h0m-68 2h0m146 14h0m-143-3h0m169 16h0m-37 7h0m-12-5h0m-93 3h0m-16 3h0m111 2h0m25 11h0m-16 2h0m-1-4h0m-53 4h0m-50-3h0m22 9h0m53-4h0m51-1h0m-111 13h0m79 12h0m-9 1h0m-44 17h0m-77 2h0m-17 1h0m92 13h0m-45-1h0m44 9h0m41 7h0m-140-1h0m88 7h0m77 12h0m-36 3h0m-105 8h0m66-7h0m24 3h0m64-2h0m-38 14h0m-104 11h0m-15 12h0m138 4h0m-36 5h0m-13-6h0m-21 6h0m-29-3h0m-11 2h0m76 5h0m5 2h0m-96 16h0m70-1h0m-71 8h0"/>
<path stroke="#000ce3" d="M205 97h0m-82 13h0m-18 3h0m-5 9h0m43 11h0m95-4h0m-4 10h0m-93-3h0m-1 1h0m24 13h0m-38 9h0m-37 5h0m61-4h0m51 6h0m44 9h0m-111 0h0m-12-1h0m-27-6h0m13 15h0m11-1h0m12-1h0m52 0h0m66 0h0m-73 4h0m13 8h0m13 7h0m-51 7h0m-6-3h0m-5-2h0m81 9h0m-80 8h0m-23-1h0m-47 1h0m166 19h0m-106-1h0m-42 0h0m-19 1h0m160 4h0m16 3h0m-78 8h0m-110 6h0m15-2h0m152 14h0m11 15h0m-135-1h0m121 10h0m5 4h0m-21-2h0m-42 2h0m-69 1h0m-17-3h0m155 22h0m-20 0h0m-4-1h0m-5-1h0m-78-4h0m-59 4h0m49 10h0m2-2h0m6-1h0m19 3h0m14-5h0m12 5h0m13-4h0m42 4h0m41-4h0m-36 5h0m-4 1h0m-32 0h0m-44 1h0m-8-2h0m-33 7h0m27 3h0m-18 13h0m-22-4h0m-3 0h0"/>
<path stroke="#0015df" d="M248 132h0m14 1h0m-86 8h0m-50 8h0m75 2h0m52 5h0m0-3h0m-39 2h0m-99 3h0m15 6h0m96 2h0m7-4h0m11 0h0m-84 29h0m55 8h0m34-4h0m-28 8h0m-56-3h0m-67 11h0m38 3h0m72-6h0m19 12h0m-153 3h0m14 7h0m6-2h0m10 0h0m48 2h0m1-5h0m7 6h0m-10 4h0m-84-3h0m26 10h0m61 2h0m72-1h0m0-1h0m30 5h0m-22 3h0m-56 3h0m-24 1h0m-12 1h0m-8-3h0m-8-1h0m-9 3h0m-11 9h0m16-5h0m30 1h0m47 3h0m34 1h0m4 0h0m-57 2h0m-94 5h0m30 5h0m55 2h0m15 4h0m-37 4h0m93 15h0m-89 1h0m-18-3h0m-57-1h0m40 11h0m1 2h0m122 8h0m-51 0h0m-18-1h0m-5-3h0m-61 1h0m-32 3h0m-7 6h0m20 3h0m53-7h0m85 9h0m-26 2h0m-38 0h0m-21-3h0m-70 6h0m26 2h0m14 4h0m2 0h0m20 2h0m31-6h0m98 5h0m-132 7h0m-27 1h0m-6-5h0"/>
<path stroke="#0324cb" d="M224 104h0m-16 2h0m-4 20h0m-47-4h0m22 20h0m-24-4h0m-13-2h0m-58 3h0m108 15h0m-69 4h0m-33-2h0m28 4h0m5 2h0m74 3h0m-89 6h0m-1 9h0m134 18h0m13 7h0m-90 9h0m66-4h0m-14 7h0m-2 12h0m35-3h0m-60 11h0m-42-5h0m0 0h0m62 19h0m-86 3h0m-52-2h0m-5 4h0m124 5h0m40-3h0m-50 11h0m-64-1h0m-41 4h0m162 3h0m7 8h0m-103-2h0m-67 3h0m79 7h0m-84 17h0m84-2h0m15 0h0m132 13h0m-71-1h0m-5-3h0m-127 0h0m-24 4h0m43 1h0m23 2h0m68 3h0m37 2h0m20-3h0m8 10h0m-62 0h0m-9-5h0m-31 6h0m-60-3h0m-38-3h0m186 12h0m24-1h0m8 3h0m20 1h0m-41 1h0m-115 3h0m-55 3h0m-3-4h0m17 9h0"/>
<path stroke="#0532b7" d="M250 315h0m15 10h0m27 1h0m11 9h0m-17-7h0m-14 1h0m-16 3h0m-3-4h0m35 11h0m28 3h0m7-4h0m17 5h0m4 0h0m-29 8h0m-37-1h0"/>
<path stroke="#0841a3" d="M240 291h0m-6 17h0m96 6h0m-15 5h0m-16 0h0m-7-3h0m-23 2h0m-24 1h0m-7-1h0m24 4h0m21 0h0m63 12h0m-13-1h0m-25 0h0m-16 0h0m-21 2h0m-26-2h0m19 5h0m42 2h0m10-2h0m8-2h0m18 10h0m-38-1h0"/>
<path stroke="#0a4f8e" d="M226 102h0m-65 12h0m17 13h0m25 8h0m-111 12h0m123 17h0m-18 8h0m-11 2h0m-6 28h0m-16 22h0m-53 26h0m-59-1h0m182 38h0m-98 8h0m103-6h0m37 12h0m-39 1h0m-6-1h0m-95 0h0m46 6h0m76-1h0m21 1h0m3 2h0m13 9h0m-168 4h0m67 2h0m81 1h0m34 1h0m1-4h0m7 1h0m13 3h0m27 0h0m-10 8h0m-7 1h0m-1-2h0m-6-3h0m-12 4h0m14 5h0m21-1h0"/>
<path stroke="#0d5d7a" d="M226 99h0m-75 12h0m-28-6h0m-28 2h0m-7 0h0m114 7h0m54 5h0m-12 6h0m-51 1h0m-85 8h0m70-5h0m48 13h0m-30-6h0m-107 1h0m2 7h0m77 1h0m15-1h0m82 4h0m-128 7h0m80 11h0m-71 5h0m-46 5h0m38 5h0m95-4h0m4 11h0m-69 0h0m-49 2h0m-7 9h0m2-7h0m60 6h0m73 4h0m-61 13h0m-1 6h0m-14-4h0m-12 0h0m-5 2h0m-51 3h0m-55 1h0m6 1h0m18 7h0m14-6h0m90 1h0m8-1h0m24 12h0m-96 0h0m-56 9h0m164-1h0m5-2h0m21 3h0m-4 7h0m-18-4h0m-124 0h0m-6 0h0m113 21h0m-27 0h0m-76 6h0m137 5h0m-126 12h0m7 0h0m42 2h0m52-5h0m8 2h0m11-3h0m6 6h0m14-4h0m27 5h0m-24 7h0m-26-7h0m-24 7h0m-37-7h0m-13 4h0m-45 11h0m132-1h0m14-3h0m10 4h0m2-1h0m4-5h0m49 5h0m4 2h0m-20 7h0m-27-6h0m-4 2h0m-11 0h0m-51 1h0m-7 2h0m-97 6h0m74 3h0m146-6h0m11 5h0m4 0h0m7-4h0m1-2h0m16 6h0m2 2h0m-23 2h0m-40-1h0m-144 3h0m-48 1h0m27 19h0m-24 19h0"/>
<path stroke="#0f6c66" d="M107 98h0m3 1h0m92 4h0m7-6h0m-45 14h0m95 10h0m-43 0h0m-45 6h0m-61-7h0m32 11h0m35-2h0m75-1h0m7 13h0m-38 0h0m-34-3h0m-38 4h0m-1 0h0m-15-5h0m118 10h0m15-1h0m-60 10h0m-25-3h0m-57 6h0m-7-7h0m-15 2h0m-19 4h0m24 5h0m57-3h0m5 2h0m9-2h0m13 0h0m47 1h0m20 3h0m-47 6h0m-112 4h0m-1 9h0m28-3h0m108 0h0m-89 9h0m-52 4h0m13 6h0m27-4h0m9-3h0m55 12h0m-58 2h0m-61 9h0m13-4h0m53-2h0m4 4h0m39-1h0m48-3h0m-83 10h0m-6 2h0m-59-3h0m56 6h0m31 5h0m6-1h0m49 1h0m3 1h0m-154 9h0m-25 4h0m65 1h0m46-2h0m85 4h0m-93 8h0m-11-6h0m-65 13h0m126 5h0m-117 13h0m9-5h0m35 5h0m146 6h0m-22-1h0m-1 3h0m-9-1h0m-6 0h0m0-4h0m-42-1h0m-70 4h0m-30 8h0m75 0h0m60 0h0m3 2h0m10 0h0m19-2h0m7 0h0m36 2h0m-23 8h0m-23-6h0m-9 0h0m-1 3h0m-63 3h0m-8-4h0m-29 4h0m-81 6h0m95-1h0m112-4h0m23 1h0m2 0h0m29 1h0m5 10h0m-7-3h0m-2-1h0m-27 4h0m-7-2h0m-6-2h0m-198 6h0m58 5h0m6 0h0m136 1h0m3 2h0m52-3h0m8 10h0m-4 0h0m-1-2h0m-135-3h0m-70 0h0m-40 4h0m-18 0h0m32 6h0m23 1h0m8 0h0m207-2h0m-255 11h0"/>
<path stroke="#0e7f54" d="M123 105h0m49 10h0m71 11h0m-121-5h0m-2 0h0m-16 11h0m42 3h0m110 1h0m-105 1h0m24 8h0m-31 9h0m-26 11h0m8-3h0m68 0h0m11 2h0m9 9h0m-83-4h0m-27 8h0m42 0h0m81 7h0m-103 2h0m-1 6h0m71 5h0m46 0h0m-19 7h0m-37-2h0m-59-1h0m80 10h0m13 4h0m2 0h0m-4 7h0m9 9h0m-21 2h0m-53 3h0m-60-3h0m92 14h0m20-3h0m2 9h0m-53 0h0m-6-1h0m-75 3h0m-12-4h0m71 10h0m7-4h0m129 14h0m-126-6h0m113 14h0m13-5h0m-1 6h0m-7 3h0m-12-1h0m-3 2h0m83 14h0m-14 4h0m-9-1h0m-2 1h0m-19-4h0m-30 4h0m-16-2h0m-6 0h0m-43 2h0m-69-6h0m0 0h0m-28 4h0m-9-3h0m89 9h0m138 3h0m8-1h0m46 5h0m-5 1h0m-7 5h0m-123-5h0m-147-2h0m-8 14h0m34-1h0m4 0h0m43 0h0m1-2h0m17 2h0m151-5h0m30 5h0m13-5h0m6 12h0m-217-1h0m-8 1h0m-48-1h0m5 6h0m112 0h0m-96 13h0"/>
<path stroke="#0b9543" d="M150 113h0m79 4h0m9 1h0m13 5h0m-85-3h0m-37 6h0m19 2h0m28 1h0m49 13h0m-102-2h0m-38 8h0m40 3h0m113 3h0m-76-1h0m-5-1h0m-20 7h0m-3 3h0m42 4h0m33-3h0m47 4h0m-150 4h0m58 10h0m78 24h0m6 15h0m-168 11h0m67-5h0m-60 9h0m-19 6h0m25 6h0m25-2h0m65 3h0m-20 7h0m-75-1h0m-27-1h0m72 9h0m23-5h0m77-1h0m17 2h0m36 9h0m-3 0h0m-21 3h0m-18-5h0m-6 3h0m-5 1h0m-11 1h0m-24 0h0m-28 1h0m-54 0h0m-30-6h0m-33 3h0m167 5h0m15 3h0m58 3h0m-9 5h0m-11 0h0m-1-2h0m-57 0h0m-104 4h0m-23 9h0m161-5h0m54-1h0m29 5h0m35 2h0m-26 0h0m-24 4h0m-2-1h0m-26-2h0m-102 2h0m-119 10h0m134-5h0m144 0h0m10 0h0m13 6h0m-1 7h0m-10-3h0m-19 3h0m-47 1h0m-154 8h0m17-2h0m10-3h0m192 1h0m22-1h0m-215 14h0m-47 2h0m15 1h0m32 0h0"/>
<path stroke="#08ab32" d="M175 115h0m65 134h0m32 10h0m5-1h0m3-2h0m-29 9h0m19 10h0m12 0h0m7-2h0m19 1h0m30 8h0m-17 1h0m-4-1h0m-10-2h0m-51 3h0m-17 3h0m23 5h0m44-2h0m5 5h0m24-6h0m3 4h0m4 1h0m11-5h0m29 8h0m-16 3h0m-1-2h0m-49 13h0m44-6h0m5 1h0m7 8h0"/>
<path stroke="#05c121" d="M115 102h0m95-3h0m-32 12h0m-83-7h0m52 8h0m14 7h0m82-3h0m18 8h0m-20 3h0m-13-7h0m-10 0h0m-48 7h0m-53-7h0m-30 8h0m85 1h0m11 3h0m32 0h0m-28 11h0m-44-2h0m-38 2h0m49 7h0m67-5h0m8 1h0m9 3h0m-12 5h0m-27-1h0m-7 2h0m-68 2h0m-26-3h0m-3 4h0m-6 3h0m40 2h0m117 0h0m-130 6h0m5 8h0m77 1h0m51 3h0m-24 7h0m-52-4h0m0 5h0m-30 2h0m-12-4h0m-40 7h0m42 2h0m22-3h0m14 4h0m70-1h0m5-1h0m-103 10h0m77 5h0m-125 12h0m-42 3h0m64 0h0m18 1h0m37 1h0m3 3h0m63-6h0m18 12h0m-122-4h0m-58 11h0m13-2h0m13 0h0m83-1h0m1 3h0m15 3h0m24-1h0m40 9h0m-11 1h0m-4-3h0m-5-2h0m-5-2h0m-66 3h0m-3-3h0m-74 5h0m-18 3h0m36 2h0m2 3h0m2-2h0m43-2h0m85 6h0m0-5h0m10-2h0m3 3h0m45-1h0m-13 9h0m-33-2h0m-18-1h0m-33 1h0m-19-1h0m-98 1h0m-6 9h0m77-2h0m1 0h0m57 5h0m66 0h0m22-3h0m4-1h0m3-1h0m2 2h0m5 5h0m18 0h0m0-7h0m0 0h0m44 11h0m-46 1h0m-5 0h0m-34-2h0m-12 0h0m-59 0h0m-27 3h0m-122 5h0m21 5h0m19-7h0m32 7h0m87-2h0m15-3h0m56 4h0m24-3h0m13-1h0m24 4h0m3-6h0m-11 12h0m-6 0h0m-14 1h0m-20 1h0m-4-6h0m-18 4h0m-68 1h0m-5-1h0m-35 3h0m-79-7h0m37 11h0m10-1h0m187 4h0m-165 2h0m-19 2h0m-17 4h0m-58-5h0m84 11h0m-97 13h0m39 5h0"/>
<path stroke="#03d70f" d="M164 91h0m-51 9h0m74-2h0m2 1h0m1-1h0m2 2h0m35 7h0m-2 1h0m-58 3h0m-10-1h0m-55 7h0m68-3h0m4-2h0m66 2h0m-5 12h0m-51-6h0m-84 12h0m28 0h0m71 1h0m0-5h0m-74 15h0m24 4h0m54 0h0m-8 5h0m-46 5h0m-11-2h0m-10 3h0m109 17h0m-2 0h0m-133 7h0m14-6h0m130 9h0m-51-1h0m53 22h0m-2-5h0m-134 6h0m128 15h0m-28-5h0m-106 10h0m11 2h0m56 0h0m70 9h0m-137-4h0m-29 7h0m39 1h0m31-2h0m106 2h0m8 5h0m2 0h0m7-3h0m13 1h0m36 10h0m-38-4h0m-23 1h0m-34 1h0m-3-5h0m-13 5h0m-30-5h0m-59 11h0m11 1h0m30-1h0m94-2h0m22-1h0m31 0h0m51 12h0m-7-3h0m-3 3h0m-4 0h0m-7 3h0m-15-1h0m-20 0h0m-1-4h0m-6 2h0m-1 3h0m-6-7h0m-3 3h0m-44-2h0m-141 9h0m53 1h0m57 2h0m31-4h0m69 2h0m12 4h0m8-2h0m2 1h0m11-6h0m16 10h0m-1 0h0m-3 0h0m-61 0h0m-86 5h0m-31 0h0m-92 2h0m31 4h0m69-2h0m131-1h0m63 6h0m-153 4h0m-160-1h0m51 7h0m26 0h0m4 1h0m45 4h0m6-6h0m167-1h0m-134 10h0m-23 4h0m-9 0h0m-129 3h0m16 6h0m1 16h0m110-2h0m18-1h0m-74 9h0"/>
<path stroke="#02eb00" d="M162 89h0m12 13h0m4-1h0m61 2h0m16 0h0m-64 3h0m-1 2h0m-3-1h0m-19-3h0m-43 7h0m-23 0h0m-12 3h0m3 5h0m50-4h0m39 0h0m70 2h0m-39 3h0m-43 5h0m-1 0h0m-14-5h0m-21 5h0m21 3h0m13 1h0m16 1h0m66 5h0m-6 7h0m-24-1h0m-17-4h0m-6 1h0m-24 0h0m-66 3h0m-7 7h0m2 1h0m9 2h0m54 0h0m57-1h0m-67 9h0m36 1h0m56 14h0m-57 1h0m-37-4h0m-27-2h0m-27 3h0m-8 1h0m32 3h0m7 2h0m33 4h0m35-2h0m18-1h0m14 1h0m2 2h0m1-1h0m1-1h0m-46 11h0m-43-2h0m-47 4h0m150 7h0m-30 3h0m-24 0h0m-46 0h0m-33 10h0m65-3h0m53-1h0m-46 11h0m-11-3h0m-29 2h0m-62 6h0m135-1h0m8 0h0m11 0h0m6 1h0m38 12h0m-28-4h0m-5 4h0m-16-3h0m-76 0h0m73 8h0m50 2h0m5-4h0m11 3h0m1-1h0m15 12h0m-24-6h0m-20 2h0m-86-1h0m-13 1h0m-27 2h0m-43 1h0m-19 0h0m-27 5h0m191 4h0m20-4h0m13 2h0m71 3h0m20 8h0m-40-4h0m-27-1h0m-93 5h0m-45-5h0m-64 2h0m-36 6h0m102-2h0m154 1h0m38-1h0m22 2h0m3 11h0m-8-2h0m-173-1h0m-39 1h0m-22 1h0m-71-2h0m99 7h0m205-1h0m1 2h0m10 6h0m-29 5h0m-156-2h0m-114-3h0m125 15h0m-86 6h0m6 7h0m6 11h0m-52 0h0m69 4h0m53 1h0m-86 17h0"/>
<path stroke="#19ef00" d="M191 95h0m-20-1h0m-53 7h0m44-2h0m22 4h0m65 6h0m-19-3h0m-13 5h0m-17-5h0m-40 2h0m-3 2h0m-38-2h0m-9 11h0m27-1h0m55-4h0m31 3h0m9 0h0m-35 10h0m-18-3h0m-3-3h0m-10 5h0m0-1h0m-24 4h0m25 0h0m71 8h0m-129 2h0m-8 1h0m-1 1h0m-10-4h0m18 12h0m14 0h0m10 1h0m122-2h0m-17 15h0m21-2h0m-143 12h0m-18 9h0m31 1h0m26-2h0m8 1h0m39 6h0m-85 0h0m86 11h0m-105 5h0m28 4h0m39 0h0m35 1h0m36 3h0m15 9h0m-85 1h0m-44-2h0m-7-1h0m166 8h0m37 12h0m-19 0h0m-7 0h0m-24-5h0m-2-2h0m-176 9h0m4 5h0m17-5h0m56 6h0m29-1h0m64-4h0m7 0h0m25 4h0m82 8h0m-14-3h0m-3-3h0m-23 3h0m-1 2h0m-13-3h0m-18 1h0m-4-3h0m-58 7h0m-44 0h0m-51-2h0m-54-5h0m-34 0h0m5 11h0m26 0h0m77 4h0m24-3h0m5 3h0m6-1h0m8-6h0m36 3h0m23 1h0m80-2h0m23 4h0m12 3h0m-5 6h0m-8 0h0m-26-1h0m-21-4h0m-154 3h0m-53-5h0m-50 3h0m142 11h0m10 1h0m129-3h0m17-1h0m10-1h0m8 0h0m-3 11h0m-286 2h0m-17-5h0m166 21h0m-86-4h0m-62-1h0m103 8h0m16 2h0m-142 13h0m100 4h0m28 4h0m-24 3h0m-85-4h0m31 15h0m-18 9h0"/>
<path stroke="#30f200" d="M157 82h0m0 3h0m28 8h0m-1 0h0m-3-4h0m-63 9h0m53-1h0m70 7h0m-10 4h0m-70 1h0m-3 2h0m21 2h0m1 8h0m-72 10h0m81 4h0m12-6h0m42 5h0m-116 7h0m13 6h0m-11 12h0m-7-4h0m-15-3h0m29 9h0m1 1h0m22 2h0m15 3h0m65 4h0m-9 3h0m-39-4h0m-57-1h0m-1-1h0m55 11h0m33-1h0m-17 13h0m-1-6h0m-81 4h0m-7 1h0m39 4h0m67 13h0m-2 0h0m-115-2h0m93 6h0m33-3h0m51 14h0m-13-2h0m-10-3h0m-1 4h0m-3-5h0m-79 1h0m10 7h0m61 2h0m8 1h0m0-2h0m12 0h0m4 6h0m48-2h0m-50 9h0m-33-2h0m-161 2h0m-5-1h0m103 3h0m57 6h0m40-5h0m65 3h0m14 1h0m31 3h0m-24 4h0m-1 1h0m-75-3h0m-29 2h0m-53 3h0m-149 4h0m67 1h0m56-4h0m194 2h0m-41 12h0m-17 0h0m-112-5h0m-85 1h0m-18 0h0m-8 12h0m24-4h0m27 1h0m103-1h0m16 11h0m-100 1h0m-83-2h0m33 10h0m20 0h0m122 2h0m-39 1h0m-34 2h0m-52-3h0m86 21h0m-5 2h0m-34-2h0m-45 8h0m52 14h0m15-1h0m-86 17h0"/>
<path stroke="#47f600" d="M173 85h0m20-3h0m9 3h0m-7 6h0m-33 0h0m26 14h0m-28 3h0m100 94h0m12 11h0m13-1h0m-9 10h0m-10 1h0m-21-4h0m-4 5h0m19 7h0m68 0h0m29 6h0m-1-1h0m-1-3h0m-13 6h0m-17-4h0m-11 4h0m-2-5h0m-12 2h0m0 3h0m0-5h0m-43 6h0m49 2h0m3 3h0m7 2h0m6-6h0m25-1h0m18 7h0m14 3h0m-10 3h0m-7-4h0m-1 3h0m-78-1h0m60 6h0m37 5h0"/>
<path stroke="#5efa00" d="M169 86h0m16-6h0m8 7h0m55 106h0m4 4h0m6-1h0m4 2h0m34-6h0m-1 9h0m-40 4h0m7 8h0m16-5h0m59 3h0m-69 5h0m-1 1h0m-4 1h0m45 8h0m28 0h0m4 2h0m13 2h0m-41 3h0m-8-1h0m53 18h0m-4 0h0m-5 1h0m31 5h0"/>
<path stroke="#75fd00" d="M179 75h0m13 9h0m56 113h0m12-2h0m36 8h0m-13 3h0m-34-6h0m-2 7h0m63 5h0m3 1h0m37 4h0m-21-1h0m-53 4h0m60 6h0m9 4h0m23 1h0m-17 12h0"/>
<path stroke="#8aff00" d="M178 71h0m-18 4h0m15 5h0m99 117h0m12-1h0m17-2h0m63 13h0m-44 0h0m-7-1h0m-54 9h0m36-3h0m3-3h0m13 3h0m2 0h0m31 1h0m0 2h0m2 0h0m32 1h0m-11 6h0m-9-3h0m-2 1h0m-31 7h0m23 1h0m5 0h0m12 0h0m11 1h0m-27 12h0"/>
<path stroke="#9eff00" d="M161 68h0m17 2h0m10 7h0m-12-3h0m-7 0h0m-1 4h0m-12-6h0m156 115h0m-2 1h0m-22 11h0m9-2h0m1-3h0m72 11h0m-4-2h0m-20-3h0m-11 1h0m-31-1h0m-10 11h0m19 1h0m23-1h0m13 3h0m35 8h0m-37-4h0m22 7h0m2-1h0m-5 9h0m-1 1h0m-9-2h0"/>
<path stroke="#b2ff00" d="M175 70h0m10 6h0m128 103h0m10 9h0m-17-1h0m-26 8h0m37 2h0m18-5h0m12 6h0m14 0h0m-2 3h0m-9 1h0m-10 0h0m0 1h0m-2 2h0m-4-4h0m-4-1h0m-43 10h0m42-2h0m29 2h0m9 4h0m-11 12h0"/>
<path stroke="#c5ff00" d="M168 67h0m16 2h0m1 2h0m170 119h0m-6 0h0m-10-4h0m-1 3h0m-23 2h0m6 1h0m35 5h0m5 0h0m3-5h0m-7 10h0m-21 6h0m36 2h0m-20 12h0m8 3h0"/>
<path stroke="#d9ff00" d="M194 57h0m-20 2h0m-13 3h0m14 3h0m169 125h0m-7-1h0m-12 0h0m-4-1h0m43 15h0"/>
<path stroke="#edff00" d="M179 66h0m171 124h0m-10 3h0"/>
<path stroke="#fffd00" d="M163 51h0m30 4h0m0 5h0m-7 2h0m10 10h0m144 112h0m-2 12h0"/>
<path stroke="#ffed00" d="M169 54h0m3-1h0m6 2h0m2 1h0"/>
<path stroke="#ffcd00" d="M180 49h0m16 2h0"/>
<path stroke="#ffbd00" d="M189 25h0m-11 7h0m25 2h0m-3 9h0m-13 2h0m-24 2h0m9 8h0"/>
<path stroke="#ffad00" d="M184 30h0m22 16h0m-29-4h0m-14 8h0m6 0h0"/>
<path stroke="#ff9900" d="M171 39h0m19-2h0m1 0h0m0-2h0m5-3h0m5 3h0m-7 9h0m-15 4h0"/>
<path stroke="#ff8100" d="M190 31h0m-4-3h0m1 11h0m7-4h0"/>
<path stroke="#ff6800" d="M195 30h0m-16-4h0m21 13h0m3-3h0"/>
<path stroke="#8aff00" d="M201 73h0m-34 3h0m-2 2h0m-1-5h0m-1 4h0m122 120h0m61 7h0m-11 2h0m-7-4h0m-15 4h0m0-1h0m-17 2h0m-26-6h0m39 9h0m9 2h0m3 0h0m11-2h0m42 11h0m-3-3h0m-10-2h0m-2 5h0m-8-5h0m-2 2h0m-3 4h0m-12-3h0m-1-1h0m0 3h0m-5-5h0m-44 9h0m17 2h0m6 3h0m15-4h0m25-1h0m14-1h0m20 8h0m-22 5h0m-21 4h0"/>
<path stroke="#9eff00" d="M315 187h0m-46 7h0m19 1h0m14-1h0m12 1h0m0-3h0m1 5h0m9-5h0m3 4h0m23-2h0m-5 9h0m-43-1h0m-7 0h0m16 6h0m34 7h0m13-2h0m16 2h0m5 8h0m-31-5h0m-20-1h0m-25-1h0m0 1h0m56 13h0"/>
<path stroke="#b2ff00" d="M164 70h0m18 4h0m163 116h0m-16-4h0m-19 10h0m0-3h0m58 6h0m-5 2h0m-43-1h0m-2 1h0m28 7h0m3 1h0m22 1h0m7 10h0m-7 0h0m0 3h0"/>
<path stroke="#c5ff00" d="M171 66h0m14 4h0m7 0h0m7-4h0m2 2h0m148 117h0m-24 6h0m-6-4h0m-32-1h0m-5 6h0m16 2h0m63 5h0m-10 4h0m-42-2h0m43 14h0m15-2h0"/>
<path stroke="#d9ff00" d="M188 63h0m0 4h0m137 115h0m10 4h0m-31 5h0m0-6h0m46 10h0m16 5h0m10 16h0"/>
<path stroke="#edff00" d="M187 63h0m-19 1h0m32 0h0m160 118h0m-13 2h0m17 8h0"/>
<path stroke="#fffd00" d="M176 52h0m-2 9h0m-10-4h0m171 126h0"/>
<path stroke="#ffed00" d="M174 48h0m9 13h0m-7-4h0m-5 0h0"/>
<path stroke="#ffdd00" d="M187 54h0"/>
<path stroke="#ffcd00" d="M180 47h0m-3-2h0"/>
<path stroke="#ffbd00" d="M184 43h0m-1 4h0m-16 7h0m11-5h0"/>
<path stroke="#ffad00" d="M167 29h0m32 11h0m6 9h0"/>
<path stroke="#ff9900" d="M184 31h0m-10 0h0m19 1h0m-3 15h0m-3-5h0m-14 3h0m-6 1h0m3 2h0"/>
<path stroke="#ff8100" d="M177 38h0m7 8h0m-15-1h0"/>
<path stroke="#ff6800" d="M170 39h0m29 2h0"/>
<path stroke="#ff5000" d="M194 25h0m-2 2h0"/>
<path stroke="#8aff00" d="M189 76h0m-6 0h0m-9 0h0m-2 6h0m32-2h0m66 110h0m-5 1h0m13 8h0m9-7h0m49 15h0m-30-2h0m-5 0h0m-45-1h0m-5-1h0m124 9h0m-63 4h0m-31 1h0m68 7h0m9 5h0m12-5h0m1 6h0m8 6h0m-67-4h0m71 8h0"/>
<path stroke="#9eff00" d="M197 75h0m-12 2h0m-10-3h0m-7 0h0m138 117h0m-8-6h0m-11 6h0m-40 7h0m7-1h0m38-5h0m12 3h0m8-3h0m12 1h0m19 9h0m-14 1h0m-2-1h0m-1 4h0m-12-1h0m-6-3h0m-19 11h0m30-4h0m57 3h0m0 7h0m-1-2h0m-59 3h0"/>
<path stroke="#b2ff00" d="M170 69h0m19 2h0m-15 2h0m124 118h0m-20-1h0m5 5h0m39 4h0m17-6h0m7 4h0m14-3h0m1 0h0m-10 6h0m21 18h0m-4-1h0m-24 1h0m-2 7h0"/>
<path stroke="#c5ff00" d="M186 64h0m128 119h0m30 7h0m0-2h0m-11 3h0m-17-3h0m-27 0h0m34 6h0m11 5h0m34-3h0m7 5h0m-51-1h0m25 13h0m24-4h0m-6 9h0"/>
<path stroke="#d9ff00" d="M178 63h0m12 1h0m6 6h0m9-1h0m153 122h0m4 8h0m-5 1h0m-33 1h0"/>
<path stroke="#edff00" d="M200 63h0m0-3h0m-5-4h0m-17 3h0m-7 4h0m-12 2h0m17 2h0m22-3h0m1 3h0m139 122h0m-12-1h0m12 6h0"/>
<path stroke="#fffd00" d="M204 63h0m-4-6h0m0 2h0m-20 4h0m168 120h0"/>
<path stroke="#ffed00" d="M174 55h0m18 1h0m-30 8h0"/>
<path stroke="#ffdd00" d="M190 53h0m4-1h0m7 5h0"/>
<path stroke="#ffcd00" d="M195 46h0m-32 9h0m10 0h0"/>
<path stroke="#ffbd00" d="M168 35h0m15-2h0m18 6h0m-19 5h0m-3 4h0m14 1h0m0-1h0"/>
<path stroke="#ffad00" d="M179 32h0m-8 11h0"/>
<path stroke="#ff9900" d="M189 28h0m-5 0h0m-5 8h0m-5 8h0m-1 4h0"/>
<path stroke="#ff8100" d="M194 20h0m-6 8h0m-6 0h0m-10 6h0m11 0h0m0 0h0m10-2h0m4 1h0m3 4h0m4 5h0m-1 3h0m-5-5h0"/>
<path stroke="#ff6800" d="M172 39h0"/>
<path stroke="#ff5000" d="M190 45h0"/>
</g>
</defs>
<use href="#hc1" transform="translate(51.75,31.75) scale(0.25,0.25)"/>
<polygon points="95.81,33.83 106.91,35.53 110.38,40.82 103.81,54.67 99.96,59.68 88.4,68.9 87.68,62.09 88.48,45.83" fill="none" stroke="#555" stroke-width="0.8" stroke-linejoin="round"/>
<polygon points="71.52,51.79 85.38,53.35 86.93,56.33 86.64,68.95 75.66,79.25 66.62,77.45 65.78,73.82 66.62,57.27" fill="none" stroke="#555" stroke-width="0.8" stroke-linejoin="round"/>
<polygon points="103.52,53.78 110.38,53.16 120.81,57.18 124,68.85 114.99,75.14 102.3,71.64" fill="none" stroke="#555" stroke-width="0.8" stroke-linejoin="round"/>
<polygon points="126.3,70.37 150.51,72.63 151.3,80.2 154.48,112.01 139.78,127.65 109.8,121.32 108.08,114.89 104.02,99.86 119.01,80.2" fill="none" stroke="#555" stroke-width="0.8" stroke-linejoin="round"/>
<polygon points="63.52,85.02 69.3,83.27 74.49,85.58 72.82,99.43 65.32,103.54 60.71,96.03 61.01,88.99" fill="none" stroke="#555" stroke-width="0.8" stroke-linejoin="round"/>
<polyline points="65.32,103.54 64.69,114.51 76.79,126.66 102.8,118.62 108.08,114.89" fill="none" stroke="#555" stroke-width="0.8" stroke-linejoin="round"/>
<polyline points="79.68,123.25 72.82,100.05 74.99,87.9 79.1,75.14" fill="none" stroke="#111" stroke-width="0.9" stroke-linejoin="round"/>
<polyline points="75.66,79.25 86.93,69.56 103.81,54.67" fill="none" stroke="#111" stroke-width="0.9" stroke-linejoin="round"/>
<polyline points="99.2,60.91 100.79,70.13 102.3,71.64" fill="none" stroke="#111" stroke-width="0.9" stroke-linejoin="round"/>
<polyline points="79.1,75.14 95.81,88.99 104.02,99.86 108.08,114.89" fill="none" stroke="#111" stroke-width="0.9" stroke-linejoin="round"/>
<polyline points="95.81,88.99 101.59,75.14 102.3,71.64" fill="none" stroke="#111" stroke-width="0.9" stroke-linejoin="round"/>
<polyline points="104.02,99.86 119.01,80.2" fill="none" stroke="#111" stroke-width="0.9" stroke-linejoin="round"/>
<rect x="51.75" y="31.75" width="105.75" height="105.4" fill="none" stroke="#111" stroke-width="1.1"/>
<line x1="50.55" y1="133.37" x2="51.75" y2="133.37" stroke="#111" stroke-width="0.8" />
<line x1="49.35" y1="128.64" x2="51.75" y2="128.64" stroke="#111" stroke-width="0.8" />
<line x1="50.55" y1="123.92" x2="51.75" y2="123.92" stroke="#111" stroke-width="0.8" />
<line x1="50.55" y1="119.19" x2="51.75" y2="119.19" stroke="#111" stroke-width="0.8" />
<line x1="50.55" y1="114.46" x2="51.75" y2="114.46" stroke="#111" stroke-width="0.8" />
<line x1="50.55" y1="109.74" x2="51.75" y2="109.74" stroke="#111" stroke-width="0.8" />
<line x1="49.35" y1="105.01" x2="51.75" y2="105.01" stroke="#111" stroke-width="0.8" />
<line x1="50.55" y1="100.28" x2="51.75" y2="100.28" stroke="#111" stroke-width="0.8" />
<line x1="50.55" y1="95.56" x2="51.75" y2="95.56" stroke="#111" stroke-width="0.8" />
<line x1="50.55" y1="90.83" x2="51.75" y2="90.83" stroke="#111" stroke-width="0.8" />
<line x1="50.55" y1="86.1" x2="51.75" y2="86.1" stroke="#111" stroke-width="0.8" />
<line x1="49.35" y1="81.38" x2="51.75" y2="81.38" stroke="#111" stroke-width="0.8" />
<line x1="50.55" y1="76.65" x2="51.75" y2="76.65" stroke="#111" stroke-width="0.8" />
<line x1="50.55" y1="71.92" x2="51.75" y2="71.92" stroke="#111" stroke-width="0.8" />
<line x1="50.55" y1="67.2" x2="51.75" y2="67.2" stroke="#111" stroke-width="0.8" />
<line x1="50.55" y1="62.47" x2="51.75" y2="62.47" stroke="#111" stroke-width="0.8" />
<line x1="49.35" y1="57.75" x2="51.75" y2="57.75" stroke="#111" stroke-width="0.8" />
<line x1="50.55" y1="53.02" x2="51.75" y2="53.02" stroke="#111" stroke-width="0.8" />
<line x1="50.55" y1="48.29" x2="51.75" y2="48.29" stroke="#111" stroke-width="0.8" />
<line x1="50.55" y1="43.57" x2="51.75" y2="43.57" stroke="#111" stroke-width="0.8" />
<line x1="50.55" y1="38.84" x2="51.75" y2="38.84" stroke="#111" stroke-width="0.8" />
<line x1="49.35" y1="34.11" x2="51.75" y2="34.11" stroke="#111" stroke-width="0.8" />
<line x1="55.52" y1="137.15" x2="55.52" y2="138.35" stroke="#111" stroke-width="0.8" />
<line x1="59.71" y1="137.15" x2="59.71" y2="139.55" stroke="#111" stroke-width="0.8" />
<line x1="63.9" y1="137.15" x2="63.9" y2="138.35" stroke="#111" stroke-width="0.8" />
<line x1="68.08" y1="137.15" x2="68.08" y2="138.35" stroke="#111" stroke-width="0.8" />
<line x1="72.27" y1="137.15" x2="72.27" y2="138.35" stroke="#111" stroke-width="0.8" />
<line x1="76.46" y1="137.15" x2="76.46" y2="138.35" stroke="#111" stroke-width="0.8" />
<line x1="80.65" y1="137.15" x2="80.65" y2="139.55" stroke="#111" stroke-width="0.8" />
<line x1="84.84" y1="137.15" x2="84.84" y2="138.35" stroke="#111" stroke-width="0.8" />
<line x1="89.02" y1="137.15" x2="89.02" y2="138.35" stroke="#111" stroke-width="0.8" />
<line x1="93.21" y1="137.15" x2="93.21" y2="138.35" stroke="#111" stroke-width="0.8" />
<line x1="97.4" y1="137.15" x2="97.4" y2="138.35" stroke="#111" stroke-width="0.8" />
<line x1="101.59" y1="137.15" x2="101.59" y2="139.55" stroke="#111" stroke-width="0.8" />
<line x1="105.78" y1="137.15" x2="105.78" y2="138.35" stroke="#111" stroke-width="0.8" />
<line x1="109.96" y1="137.15" x2="109.96" y2="138.35" stroke="#111" stroke-width="0.8" />
<line x1="114.15" y1="137.15" x2="114.15" y2="138.35" stroke="#111" stroke-width="0.8" />
<line x1="118.34" y1="137.15" x2="118.34" y2="138.35" stroke="#111" stroke-width="0.8" />
<line x1="122.53" y1="137.15" x2="122.53" y2="139.55" stroke="#111" stroke-width="0.8" />
<line x1="126.72" y1="137.15" x2="126.72" y2="138.35" stroke="#111" stroke-width="0.8" />
<line x1="130.91" y1="137.15" x2="130.91" y2="138.35" stroke="#111" stroke-width="0.8" />
<line x1="135.09" y1="137.15" x2="135.09" y2="138.35" stroke="#111" stroke-width="0.8" />
<line x1="139.28" y1="137.15" x2="139.28" y2="138.35" stroke="#111" stroke-width="0.8" />
<line x1="143.47" y1="137.15" x2="143.47" y2="139.55" stroke="#111" stroke-width="0.8" />
<line x1="147.66" y1="137.15" x2="147.66" y2="138.35" stroke="#111" stroke-width="0.8" />
<line x1="151.85" y1="137.15" x2="151.85" y2="138.35" stroke="#111" stroke-width="0.8" />
<line x1="156.03" y1="137.15" x2="156.03" y2="138.35" stroke="#111" stroke-width="0.8" />
<text x="46.35" y="131.24" font-size="7.6" text-anchor="end" fill="#1a1a1a" class="b" >0</text>
<text x="59.41" y="147.55" font-size="7.6" text-anchor="middle" fill="#1a1a1a" class="b" >0</text>
<text x="46.35" y="107.61" font-size="7.6" text-anchor="end" fill="#1a1a1a" class="b" >5.0</text>
<text x="80.35" y="147.55" font-size="7.6" text-anchor="middle" fill="#1a1a1a" class="b" >5.0</text>
<text x="46.35" y="83.98" font-size="7.6" text-anchor="end" fill="#1a1a1a" class="b" >10</text>
<text x="101.29" y="147.55" font-size="7.6" text-anchor="middle" fill="#1a1a1a" class="b" >10</text>
<text x="46.35" y="60.35" font-size="7.6" text-anchor="end" fill="#1a1a1a" class="b" >15</text>
<text x="122.23" y="147.55" font-size="7.6" text-anchor="middle" fill="#1a1a1a" class="b" >15</text>
<text x="46.35" y="36.71" font-size="7.6" text-anchor="end" fill="#1a1a1a" class="b" >20</text>
<text x="143.17" y="147.55" font-size="7.6" text-anchor="middle" fill="#1a1a1a" class="b" >20</text>
<text x="104.5" y="25.8" font-size="9.5" text-anchor="middle" fill="#222" class="b" >HC</text>
<text x="8.2" y="17.7" font-size="12.5" text-anchor="start" fill="#000" font-weight="bold" >C</text>
<text x="35.2" y="22.6" font-size="8.2" text-anchor="start" fill="#222" class="b" >Th2</text>
<text x="17.7" y="47" font-size="8.2" text-anchor="start" fill="#222" class="b" >Treg</text>
<text x="21.4" y="64.1" font-size="8.2" text-anchor="start" fill="#222" class="b" >Tfh</text>
<text x="17.9" y="93.4" font-size="8.2" text-anchor="start" fill="#222" class="b" >Th17</text>
<text x="20.6" y="114.5" font-size="8.2" text-anchor="start" fill="#222" class="b" >Th1</text>
<text x="138.8" y="22.2" font-size="8.2" text-anchor="start" fill="#222" class="b" >Naïve</text>
<line x1="51" y1="21.5" x2="90" y2="39.4" stroke="#c8102e" stroke-width="1.25" />
<line x1="37.5" y1="44.6" x2="69.6" y2="58.1" stroke="#c8102e" stroke-width="1.25" />
<line x1="35.2" y1="61.7" x2="105" y2="60.6" stroke="#c8102e" stroke-width="1.25" />
<line x1="35.2" y1="61.7" x2="59.2" y2="86.2" stroke="#c8102e" stroke-width="1.25" />
<line x1="39.4" y1="90.2" x2="92.7" y2="73.3" stroke="#c8102e" stroke-width="1.25" />
<line x1="39.4" y1="90.2" x2="65" y2="106.9" stroke="#c8102e" stroke-width="1.25" />
<line x1="39.4" y1="111.3" x2="90" y2="111.3" stroke="#c8102e" stroke-width="1.25" />
<line x1="146.3" y1="25.4" x2="133.1" y2="74.4" stroke="#c8102e" stroke-width="1.25" />
<use href="#hc1" transform="translate(38.75,170) scale(0.2)"/>
<polygon points="73.75,171.64 82.56,172.98 85.32,177.15 80.1,188.05 77.04,192 67.86,199.25 67.29,193.9 67.93,181.09" fill="none" stroke="#555" stroke-width="0.8" stroke-linejoin="round"/>
<polygon points="54.45,185.78 65.46,187.01 66.69,189.35 66.46,199.29 57.75,207.41 50.56,205.99 49.89,203.13 50.56,190.1" fill="none" stroke="#555" stroke-width="0.8" stroke-linejoin="round"/>
<polygon points="79.87,187.34 85.32,186.86 93.61,190.02 96.14,199.22 88.98,204.17 78.9,201.41" fill="none" stroke="#555" stroke-width="0.8" stroke-linejoin="round"/>
<polygon points="97.97,200.41 117.19,202.2 117.83,208.15 120.35,233.2 108.68,245.52 84.86,240.53 83.49,235.47 80.27,223.63 92.18,208.15" fill="none" stroke="#555" stroke-width="0.8" stroke-linejoin="round"/>
<polygon points="48.1,211.95 52.69,210.57 56.81,212.39 55.48,223.3 49.53,226.54 45.87,220.62 46.1,215.07" fill="none" stroke="#555" stroke-width="0.8" stroke-linejoin="round"/>
<polyline points="49.53,226.54 49.03,235.17 58.64,244.74 79.3,238.41 83.49,235.47" fill="none" stroke="#555" stroke-width="0.8" stroke-linejoin="round"/>
<polyline points="60.94,242.06 55.48,223.78 57.21,214.22 60.47,204.17" fill="none" stroke="#111" stroke-width="0.9" stroke-linejoin="round"/>
<polyline points="57.75,207.41 66.69,199.78 80.1,188.05" fill="none" stroke="#111" stroke-width="0.9" stroke-linejoin="round"/>
<polyline points="76.44,192.96 77.71,200.22 78.9,201.41" fill="none" stroke="#111" stroke-width="0.9" stroke-linejoin="round"/>
<polyline points="60.47,204.17 73.75,215.07 80.27,223.63 83.49,235.47" fill="none" stroke="#111" stroke-width="0.9" stroke-linejoin="round"/>
<polyline points="73.75,215.07 78.34,204.17 78.9,201.41" fill="none" stroke="#111" stroke-width="0.9" stroke-linejoin="round"/>
<polyline points="80.27,223.63 92.18,208.15" fill="none" stroke="#111" stroke-width="0.9" stroke-linejoin="round"/>
<rect x="38.75" y="170" width="84" height="83" fill="none" stroke="#111" stroke-width="1.1"/>
<line x1="37.55" y1="250.02" x2="38.75" y2="250.02" stroke="#111" stroke-width="0.8" />
<line x1="36.35" y1="246.3" x2="38.75" y2="246.3" stroke="#111" stroke-width="0.8" />
<line x1="37.55" y1="242.58" x2="38.75" y2="242.58" stroke="#111" stroke-width="0.8" />
<line x1="37.55" y1="238.86" x2="38.75" y2="238.86" stroke="#111" stroke-width="0.8" />
<line x1="37.55" y1="235.13" x2="38.75" y2="235.13" stroke="#111" stroke-width="0.8" />
<line x1="37.55" y1="231.41" x2="38.75" y2="231.41" stroke="#111" stroke-width="0.8" />
<line x1="36.35" y1="227.69" x2="38.75" y2="227.69" stroke="#111" stroke-width="0.8" />
<line x1="37.55" y1="223.97" x2="38.75" y2="223.97" stroke="#111" stroke-width="0.8" />
<line x1="37.55" y1="220.25" x2="38.75" y2="220.25" stroke="#111" stroke-width="0.8" />
<line x1="37.55" y1="216.52" x2="38.75" y2="216.52" stroke="#111" stroke-width="0.8" />
<line x1="37.55" y1="212.8" x2="38.75" y2="212.8" stroke="#111" stroke-width="0.8" />
<line x1="36.35" y1="209.08" x2="38.75" y2="209.08" stroke="#111" stroke-width="0.8" />
<line x1="37.55" y1="205.36" x2="38.75" y2="205.36" stroke="#111" stroke-width="0.8" />
<line x1="37.55" y1="201.64" x2="38.75" y2="201.64" stroke="#111" stroke-width="0.8" />
<line x1="37.55" y1="197.91" x2="38.75" y2="197.91" stroke="#111" stroke-width="0.8" />
<line x1="37.55" y1="194.19" x2="38.75" y2="194.19" stroke="#111" stroke-width="0.8" />
<line x1="36.35" y1="190.47" x2="38.75" y2="190.47" stroke="#111" stroke-width="0.8" />
<line x1="37.55" y1="186.75" x2="38.75" y2="186.75" stroke="#111" stroke-width="0.8" />
<line x1="37.55" y1="183.03" x2="38.75" y2="183.03" stroke="#111" stroke-width="0.8" />
<line x1="37.55" y1="179.3" x2="38.75" y2="179.3" stroke="#111" stroke-width="0.8" />
<line x1="37.55" y1="175.58" x2="38.75" y2="175.58" stroke="#111" stroke-width="0.8" />
<line x1="36.35" y1="171.86" x2="38.75" y2="171.86" stroke="#111" stroke-width="0.8" />
<line x1="41.74" y1="253" x2="41.74" y2="254.2" stroke="#111" stroke-width="0.8" />
<line x1="45.07" y1="253" x2="45.07" y2="255.4" stroke="#111" stroke-width="0.8" />
<line x1="48.4" y1="253" x2="48.4" y2="254.2" stroke="#111" stroke-width="0.8" />
<line x1="51.72" y1="253" x2="51.72" y2="254.2" stroke="#111" stroke-width="0.8" />
<line x1="55.05" y1="253" x2="55.05" y2="254.2" stroke="#111" stroke-width="0.8" />
<line x1="58.38" y1="253" x2="58.38" y2="254.2" stroke="#111" stroke-width="0.8" />
<line x1="61.7" y1="253" x2="61.7" y2="255.4" stroke="#111" stroke-width="0.8" />
<line x1="65.03" y1="253" x2="65.03" y2="254.2" stroke="#111" stroke-width="0.8" />
<line x1="68.36" y1="253" x2="68.36" y2="254.2" stroke="#111" stroke-width="0.8" />
<line x1="71.68" y1="253" x2="71.68" y2="254.2" stroke="#111" stroke-width="0.8" />
<line x1="75.01" y1="253" x2="75.01" y2="254.2" stroke="#111" stroke-width="0.8" />
<line x1="78.34" y1="253" x2="78.34" y2="255.4" stroke="#111" stroke-width="0.8" />
<line x1="81.66" y1="253" x2="81.66" y2="254.2" stroke="#111" stroke-width="0.8" />
<line x1="84.99" y1="253" x2="84.99" y2="254.2" stroke="#111" stroke-width="0.8" />
<line x1="88.32" y1="253" x2="88.32" y2="254.2" stroke="#111" stroke-width="0.8" />
<line x1="91.65" y1="253" x2="91.65" y2="254.2" stroke="#111" stroke-width="0.8" />
<line x1="94.97" y1="253" x2="94.97" y2="255.4" stroke="#111" stroke-width="0.8" />
<line x1="98.3" y1="253" x2="98.3" y2="254.2" stroke="#111" stroke-width="0.8" />
<line x1="101.63" y1="253" x2="101.63" y2="254.2" stroke="#111" stroke-width="0.8" />
<line x1="104.95" y1="253" x2="104.95" y2="254.2" stroke="#111" stroke-width="0.8" />
<line x1="108.28" y1="253" x2="108.28" y2="254.2" stroke="#111" stroke-width="0.8" />
<line x1="111.61" y1="253" x2="111.61" y2="255.4" stroke="#111" stroke-width="0.8" />
<line x1="114.93" y1="253" x2="114.93" y2="254.2" stroke="#111" stroke-width="0.8" />
<line x1="118.26" y1="253" x2="118.26" y2="254.2" stroke="#111" stroke-width="0.8" />
<line x1="121.59" y1="253" x2="121.59" y2="254.2" stroke="#111" stroke-width="0.8" />
<text x="34.85" y="248.9" font-size="7.6" text-anchor="end" fill="#1a1a1a" class="b" >0</text>
<text x="44.77" y="262.6" font-size="7.6" text-anchor="middle" fill="#1a1a1a" class="b" >0</text>
<text x="34.85" y="230.29" font-size="7.6" text-anchor="end" fill="#1a1a1a" class="b" >5.0</text>
<text x="61.4" y="262.6" font-size="7.6" text-anchor="middle" fill="#1a1a1a" class="b" >5.0</text>
<text x="34.85" y="211.68" font-size="7.6" text-anchor="end" fill="#1a1a1a" class="b" >10</text>
<text x="78.04" y="262.6" font-size="7.6" text-anchor="middle" fill="#1a1a1a" class="b" >10</text>
<text x="34.85" y="193.07" font-size="7.6" text-anchor="end" fill="#1a1a1a" class="b" >15</text>
<text x="94.67" y="262.6" font-size="7.6" text-anchor="middle" fill="#1a1a1a" class="b" >15</text>
<text x="34.85" y="174.46" font-size="7.6" text-anchor="end" fill="#1a1a1a" class="b" >20</text>
<text x="111.31" y="262.6" font-size="7.6" text-anchor="middle" fill="#1a1a1a" class="b" >20</text>
<line x1="56.2" y1="168.8" x2="64.94" y2="174.27" stroke="#c8102e" stroke-width="2.6" />
<polygon points="68.5,176.5 63.56,176.48 66.32,172.07" fill="#c8102e"/>
<g transform="translate(38.75,269.5) scale(0.2)">
<g stroke-linecap="round" stroke-width="7.5" fill="none">
<path stroke="#0841a3" d="M321 265h0"/>
<path stroke="#0a4f8e" d="M301 215h0m81 15h0m-133 12h0m-72 13h0m177 7h0m-42 6h0m-4 2h0m-114 12h0m97 15h0m-53 11h0m123-2h0m-115 11h0m-5-5h0m-63 1h0"/>
<path stroke="#0d5d7a" d="M186 118h0m23 58h0m22 0h0m82 3h0m10 9h0m-13 0h0m-110 11h0m71 0h0m19-1h0m13-4h0m67 11h0m-4-2h0m-74 11h0m88 2h0m-39 3h0m-139 10h0m155 1h0m23 9h0m-88-7h0m-28 7h0m-8-5h0m-84 7h0m146 11h0m-18-4h0m-16 0h0m-99 5h0m17 7h0m34 3h0m46-1h0m41-1h0m49 8h0m-124-5h0m-89 14h0m167-3h0m22 3h0m0-6h0m30 6h0m-91 6h0m-80 3h0m-62-6h0m-49 3h0m119 9h0m46-3h0m22-2h0m67 4h0m10 11h0m-20-5h0m-60 1h0m-26 3h0m-24 0h0m-107 6h0m165-3h0m4 6h0m55 5h0m-40 3h0m-54-4h0m-19-1h0m-59 2h0m-94 1h0m160 8h0m48 1h0m46-3h0m10-3h0m-62 9h0m-188 14h0m62-3h0m3 1h0m160-4h0m-144 9h0m-32 2h0"/>
<path stroke="#0f6c66" d="M219 171h0m-11 0h0m34 6h0m102 13h0m-130-1h0m-4-4h0m-36 10h0m67-1h0m33 3h0m23 0h0m20 0h0m30 1h0m-7 4h0m-6-1h0m-4-1h0m-107 5h0m19 5h0m35 5h0m23-6h0m46 6h0m2 0h0m10-5h0m14 0h0m-14 10h0m-52 2h0m-38-2h0m-30 3h0m-27-7h0m-48 1h0m154 12h0m35-3h0m15 2h0m11 1h0m-44 7h0m-87-4h0m-112 2h0m38 10h0m67 1h0m0-4h0m129 6h0m-8 3h0m-5 2h0m-83 2h0m-79 3h0m49 6h0m51-1h0m24-5h0m4 0h0m61 12h0m-39 1h0m-11-5h0m-56 5h0m-19-3h0m-20 1h0m-1 2h0m-32-3h0m-84 1h0m-15 4h0m0 7h0m41-5h0m76 3h0m12-3h0m100 0h0m29 1h0m15 1h0m-43 7h0m-56 0h0m-60 1h0m-56-2h0m-63 6h0m9 6h0m13-2h0m137 3h0m2-1h0m29 1h0m54 0h0m23-3h0m17 4h0m-3 6h0m-41 1h0m-1-6h0m-76 4h0m-78 6h0m62-3h0m18 2h0m3 4h0m10-5h0m97 5h0m-38 5h0m-61-3h0m-19 6h0m-17-2h0m-21 1h0m-81 2h0m-70 0h0m115 7h0m56 0h0m53-3h0m-4 7h0m-22 4h0m41 3h0m18 4h0m-1 9h0m-33-5h0m-207 0h0m21 11h0"/>
<path stroke="#0e7f54" d="M195 161h0m14 17h0m131 6h0m-117 4h0m-36 0h0m51 14h0m23 13h0m33-4h0m42-3h0m26 0h0m-183 17h0m39 6h0m147 3h0m-112 4h0m-16-1h0m25 6h0m105 2h0m14 22h0m-14 0h0m-28-2h0m-228 1h0m-11 11h0m253-3h0m-186 13h0m-1-1h0m-6 0h0m-5-6h0m-26 0h0m-36 6h0m4 3h0m25 4h0m113-1h0m36 2h0m102 3h0m-2 4h0m-103 1h0m-118-4h0m-64 11h0m172 1h0m81-6h0m-113 13h0m78 5h0m13 5h0m2-6h0m36 6h0m-11 2h0m-5 5h0m-218 6h0m192-4h0m14 17h0"/>
<path stroke="#0b9543" d="M243 129h0m-44 21h0m-11 6h0m67 25h0m-25 10h0m-14-5h0m4 10h0m43 6h0m-23 4h0m-45-5h0m29 10h0m128 11h0m-25-2h0m-78-2h0m-113 9h0m81 4h0m143-6h0m-179 10h0m-20-1h0m-30 1h0m10 12h0m27-4h0m61 12h0m-92 8h0m23-2h0m78-5h0m8 2h0m18 13h0m-44-1h0m-8-3h0m-10-1h0m-95 5h0m67 1h0m23 6h0m109-3h0m-83 9h0m-10 0h0m-9-2h0m-106 3h0m138 6h0m50 5h0m-18 0h0m-161 2h0m-14-2h0m-8 10h0m57 5h0m82-2h0m23 7h0m-102-3h0m-64 2h0m22 12h0m29-4h0m54 0h0m44 2h0m108 9h0m-109-6h0m-65 7h0m-15-7h0m-46 14h0m17 1h0m45-7h0m38 5h0m1-5h0m98 8h0m-202 0h0"/>
<path stroke="#08ab32" d="M237 104h0m12 29h0m12 25h0m-10-1h0m-44 1h0m-20-1h0m32 11h0m-9 5h0m-35 10h0m31-6h0m-1 7h0m-9 2h0m-28-1h0m15 9h0m42-2h0m17 3h0m119 3h0m-26 3h0m-13 6h0m-61-3h0m-45 3h0m-21-6h0m-17-1h0m-13 2h0m2 7h0m5 0h0m12 2h0m85 1h0m1-1h0m6 1h0m70 1h0m38 9h0m-109-2h0m-33 2h0m53 8h0m2-5h0m55 2h0m27 7h0m-6 0h0m-5-1h0m-45 3h0m-129-4h0m-34 7h0m-1-3h0m7 5h0m18 1h0m90 11h0m-36-3h0m-30 4h0m-27-4h0m-12-1h0m-14 1h0m-9 4h0m-7-6h0m9 9h0m65-1h0m26 0h0m68 3h0m56 2h0m-5 3h0m-44 3h0m-6-1h0m-3 3h0m-4 1h0m-93 1h0m-43 0h0m-45-3h0m-7-1h0m-6 7h0m86 3h0m6 0h0m27 0h0m21-3h0m34 0h0m96 9h0m-133 3h0m-62-4h0m-62 2h0m-27 7h0m9 1h0m5-3h0m98 0h0m27 5h0m32 0h0m16-2h0m91 1h0m-193 6h0m-20-3h0m-42 4h0m-22-2h0m71 12h0m16-3h0m18-1h0m34-1h0m128 0h0m2-1h0m2 11h0m-38-1h0m-21 3h0m-29 0h0m-6 1h0m-101 0h0m-13-2h0m-45-1h0m-26 9h0m22-4h0m19 7h0m1-4h0m16 2h0m6-5h0m46 3h0m11 1h0m8 0h0m138 3h0m13 2h0m-186 2h0m-31-2h0m-1 5h0m-7-5h0m-4 5h0m-32 5h0m8-1h0m44-1h0m48 4h0m8-2h0m38 1h0m30 2h0m-133 9h0m-18-2h0"/>
<path stroke="#05c121" d="M236 102h0m-36 45h0m73 4h0m-73 11h0m39 6h0m-53 5h0m164 17h0m-29-2h0m-90 0h0m-26 19h0m-55 4h0m7 4h0m32-2h0m13-5h0m161 3h0m-16 7h0m-1-1h0m-20 4h0m-13-1h0m-9-1h0m-14-3h0m-40 1h0m-36 0h0m-73 9h0m60 2h0m49 0h0m35-2h0m39 9h0m-38 1h0m-49-4h0m-5 2h0m-74 0h0m-35 10h0m19 1h0m62-4h0m37 1h0m0 0h0m74 0h0m7 2h0m4 0h0m12 2h0m-20 6h0m-6 1h0m-42-5h0m-26 7h0m-88 0h0m89 1h0m7 6h0m8-4h0m7 0h0m5 2h0m79 1h0m14 2h0m-142 4h0m-32-3h0m-3 2h0m-61 8h0m18-1h0m12 4h0m27-1h0m42-4h0m7 5h0m44-1h0m3-4h0m22 6h0m39-5h0m4 11h0m-96 0h0m0-2h0m-19 3h0m-54-5h0m-37 10h0m21 1h0m33-1h0m15 3h0m16-2h0m3-2h0m7 1h0m11 3h0m17 1h0m6-2h0m14 0h0m47 3h0m37 5h0m-77-1h0m-5-2h0m-5 3h0m-5 2h0m-18 0h0m-5-3h0m-24 4h0m-4-1h0m-26-4h0m-99 3h0m104 8h0m23-3h0m10 3h0m2-3h0m13 1h0m7-1h0m21 1h0m27-1h0m37 2h0m33-3h0m-44 7h0m-182 2h0m-1 5h0m-36-6h0m-18-1h0m-11 11h0m2 4h0m1-4h0m6 4h0m28-5h0m4 2h0m45 3h0m17 0h0m37 0h0m52 0h0m59 0h0m25-2h0m19-3h0m-130 13h0m-1 0h0m-72-6h0m-35 6h0m-64-7h0m208 8h0m4 5h0m21-2h0m6-2h0m-233 9h0m29 8h0m3 10h0"/>
<path stroke="#03d70f" d="M226 110h0m-40 19h0m54 4h0m-33 14h0m-19 15h0m44-1h0m35 1h0m-5 7h0m-15 6h0m-27-6h0m-18 12h0m6 1h0m-7 4h0m-9-1h0m10 11h0m164 11h0m-2-4h0m-46 1h0m-23-4h0m-66 3h0m-32 9h0m16-2h0m47 3h0m1-1h0m59-1h0m31 6h0m-195 10h0m10-1h0m18-1h0m82 3h0m29-4h0m26 3h0m39 1h0m7-4h0m15 13h0m-95 2h0m-26-4h0m-84 1h0m-14 2h0m-23 5h0m34 4h0m100-5h0m34-2h0m23 1h0m38 5h0m3-4h0m-83 8h0m-3 4h0m0 0h0m-114-1h0m-16-1h0m-102-2h0m80 12h0m29-2h0m19-2h0m19-1h0m33 6h0m27-2h0m11-2h0m6 2h0m69 2h0m7-5h0m12 0h0m4 1h0m8 10h0m-40 2h0m-14-2h0m-12 2h0m-54-3h0m-10 1h0m-11-5h0m-14 7h0m-59-4h0m-62 7h0m12-2h0m13 4h0m79 1h0m23 2h0m2-4h0m17-3h0m9 1h0m34-1h0m14 1h0m30 11h0m-50 1h0m-50-1h0m-4 0h0m-1 1h0m-17 1h0m-58 0h0m-71 4h0m7 4h0m60-6h0m13 2h0m139 2h0m21 0h0m3 2h0m7 1h0m24-1h0m-22 2h0m-24 3h0m-2 2h0m-40 2h0m-8-2h0m-6 2h0m-20-4h0m-1-3h0m-54 1h0m-34 5h0m-24-3h0m50 9h0m54-3h0m11 4h0m24-3h0m14 1h0m13 4h0m8-7h0m43 1h0m23 1h0m11 5h0m2-4h0m-4 10h0m-1 0h0m-40-1h0m-3 2h0m-25 0h0m-8-4h0m-7-1h0m-33 2h0m-16-2h0m-2 1h0m-9-1h0m-46 2h0m-74 1h0m-2-2h0m-19 7h0m69 2h0m54-3h0m3 2h0m9 3h0m10 0h0m7 0h0m1 0h0m19-1h0m28-1h0m4 3h0m67 2h0m-6 3h0m-43 0h0m-86 3h0m-3-5h0m-119 6h0m-3-7h0m-18 11h0m68 1h0m1 0h0m130-2h0m3 2h0m7-1h0m3-1h0m14 0h0m35 6h0m-54 0h0m-9 2h0m-80 4h0m-12-3h0m-36-1h0m-15-1h0m-29 10h0"/>
<path stroke="#02eb00" d="M229 110h0m32 9h0m-9 2h0m-16 1h0m-39 4h0m69 11h0m-77 2h0m-4-2h0m59 22h0m-9 8h0m-6 6h0m-23-5h0m-12 4h0m-10-4h0m-6 7h0m16 7h0m161 8h0m-6 0h0m-10-4h0m-27 1h0m-6 0h0m-86-1h0m-20 4h0m-39-4h0m4 6h0m77 6h0m16-5h0m1 6h0m27-3h0m12-2h0m37-2h0m21 5h0m8-5h0m-5 9h0m-9 1h0m-4-2h0m-31 6h0m-11-6h0m-51 7h0m-55-3h0m-29-3h0m-12 6h0m8 3h0m36-2h0m24 7h0m56-4h0m2-1h0m86 12h0m-9-3h0m-25-2h0m-13 1h0m-142 4h0m-113 1h0m-15 1h0m182 7h0m69-6h0m13 1h0m39 2h0m-42 8h0m-7-4h0m-11 1h0m-32 1h0m-5-1h0m-110 1h0m-70-1h0m-29-1h0m133 15h0m24-4h0m2-1h0m21 2h0m2-4h0m29 1h0m61 5h0m6-4h0m17-1h0m19 1h0m2 4h0m0-4h0m-1 8h0m-10 3h0m-13-5h0m-1 5h0m-26-3h0m-2-1h0m-57 2h0m-12 4h0m-8 0h0m-113-7h0m-49 6h0m72 5h0m89-2h0m2 1h0m8 2h0m8-3h0m12 5h0m55 0h0m14 0h0m3 0h0m16-3h0m27 5h0m-4 1h0m-48 4h0m-21-2h0m-15 4h0m-26-1h0m-3 1h0m-4-4h0m-12-2h0m-10 4h0m-100-5h0m-36 10h0m35 4h0m10-4h0m8-2h0m4 0h0m11 5h0m24-2h0m15-1h0m103 3h0m27-2h0m3-3h0m39 1h0m-4 13h0m-2-6h0m-75 1h0m-30 2h0m-7 0h0m-7-1h0m-8 1h0m-2 3h0m-15-2h0m-80-3h0m-15 8h0m99 1h0m20 0h0m76 2h0m14 1h0m-81 9h0m-5-1h0m-7 1h0m-17-4h0m-20 0h0m-23 5h0m-7-1h0m-33-5h0m-54 6h0m-3 5h0m23-2h0m21 1h0m93-1h0m8 2h0m68 0h0m4 3h0m2-3h0m21-3h0m2 4h0m31-2h0m-25 12h0m-16-7h0m-4 6h0m-11 1h0m-71-1h0m-25 0h0m-101-4h0m-10 6h0m10 2h0m96 5h0m0-2h0m12-1h0m23 1h0m22 1h0m32-3h0m5 2h0m55-5h0m-67 13h0m-79 1h0m-62 1h0m-15-5h0m-7 2h0m-12-3h0m-5 2h0m-18 2h0m31 10h0m11-2h0m189-2h0m27 7h0m-43 0h0m-189 5h0m-19-2h0m-2 1h0m-11-3h0"/>
<path stroke="#19ef00" d="M242 109h0m-24 5h0m33 3h0m-5 3h0m-37 2h0m56 21h0m0-6h0m-70-1h0m-17 0h0m47 13h0m33 10h0m0-5h0m-10-1h0m-15 2h0m-53 1h0m31 10h0m30 1h0m6-1h0m4 9h0m-19-1h0m-4-3h0m3 8h0m13 2h0m94 8h0m-1 0h0m-22 2h0m-109-6h0m-39 5h0m-25 9h0m54-1h0m22 1h0m70 0h0m33-7h0m40 5h0m-4 5h0m-17 1h0m-2 2h0m-92 0h0m-33-3h0m-38-1h0m27 12h0m38 1h0m5-2h0m1-2h0m17-1h0m34 3h0m16 0h0m2 0h0m14-4h0m7 3h0m13 3h0m18 0h0m-53 6h0m-19-2h0m-24-2h0m-224 2h0m4 11h0m67 0h0m1-4h0m42 4h0m45-3h0m4 5h0m37-6h0m41 4h0m39-2h0m12-1h0m11 2h0m3 3h0m16-6h0m2-1h0m-5 9h0m-5 6h0m-5 0h0m-48-2h0m-43-5h0m-9 3h0m-84 0h0m-21 2h0m-85 3h0m98 2h0m41 2h0m20 2h0m38 0h0m42-1h0m0-5h0m3 1h0m-2 9h0m-21 0h0m-77 3h0m-151-5h0m-4 4h0m284 14h0m-89 3h0m-1-3h0m-52 4h0m-150-5h0m84 14h0m12-7h0m30 2h0m18-1h0m53 3h0m55 3h0m20-1h0m13-5h0m29 13h0m-207-2h0m-18-1h0m-46-2h0m87 9h0m4 4h0m48-6h0m10 1h0m63 2h0m61 6h0m-20 3h0m-203 2h0m-12 0h0m22 7h0m38-4h0m12 4h0m37-1h0m99-3h0m-43 14h0m-129-7h0m-6 4h0m-13-4h0m-20 7h0m-53-3h0m128 5h0m18-1h0m-4 8h0m-2 4h0m-4-2h0m-10 4h0m-75 0h0m33 6h0m-14 11h0m-34 7h0m26-5h0m2 6h0"/>
<path stroke="#30f200" d="M217 100h0m-7 17h0m16-2h0m28 12h0m-19-5h0m-34 3h0m28 4h0m20 2h0m10 6h0m-9 0h0m-45 2h0m-21 11h0m63 0h0m21 4h0m-3-1h0m-21 3h0m-40-2h0m-6-1h0m-30 13h0m10-6h0m28 4h0m53 8h0m-44 0h0m5 7h0m32 1h0m73 9h0m-45 6h0m60-2h0m-187 10h0m-12 6h0m7 2h0m165 1h0m-240 9h0m-11-2h0m149 10h0m145-3h0m0 6h0m-68 2h0m-14 4h0m-39-5h0m-123-1h0m-36 6h0m-33 6h0m7-4h0m6 5h0m10 2h0m183-2h0m37-4h0m8 2h0m57-2h0m-92 12h0m-150-4h0m-52 1h0m39 6h0m10 7h0m31 5h0m36 13h0m-93 5h0m30 5h0m134-2h0m-85 11h0m-60 5h0m-3 15h0m130 8h0m-99 9h0m-20 25h0"/>
<path stroke="#47f600" d="M218 94h0m0 9h0m10 5h0m-21 5h0m22 2h0m13 8h0m-6 2h0m-32 0h0m-8-5h0m67 14h0m-28 6h0m-16 0h0m-4 2h0m-6 3h0m12 1h0m-7 7h0m-8 3h0m7 11h0m23-1h0m4 7h0m-83 1h0m92 9h0m-99 3h0m-11 28h0m148-4h0m-157 23h0m-49-1h0m-15 2h0m-2-1h0m-21 1h0m0 6h0m74 5h0m-56 16h0m10 0h0m3-4h0m8 37h0m17 42h0"/>
<path stroke="#5efa00" d="M245 99h0m-96 9h0m83 13h0m-27 5h0m-4-1h0m-7 4h0m-17 10h0m22 11h0m43-5h0m-111 10h0m93 7h0m8 5h0m-79 26h0m185 3h0m-201 11h0m-71 12h0m-11 5h0m17 7h0m51 0h0m7 2h0m-70 0h0m-8 1h0m29 10h0m26 11h0m-56-4h0m27 32h0m-8 6h0m6 2h0m-5 20h0m4-5h0"/>
<path stroke="#75fd00" d="M219 100h0m9-4h0m-6 14h0m-41 7h0m15 0h0m2-1h0m24 6h0m-5 5h0m-43 2h0m21 3h0m-28 9h0m-40 22h0m45-2h0m34-1h0m-44 9h0m-1-1h0m1 13h0m-60 16h0m38 10h0m-82 7h0m58 18h0m-69 8h0m28 3h0m30 1h0m6-4h0m-2 12h0m-42-2h0m0 0h0m36 11h0m2-2h0m-17 19h0m6 4h0m-33 37h0m1 2h0"/>
<path stroke="#0a4f8e" d="M184 140h0m119 62h0m51 10h0m13 2h0m-78 17h0m-101 14h0m110 16h0m78-1h0m-85 12h0m-154 30h0m-23 19h0m103 11h0"/>
<path stroke="#0d5d7a" d="M185 129h0m15 13h0m-8 40h0m123 5h0m-30 10h0m61 7h0m-161 1h0m-23-2h0m163 5h0m46 10h0m-20 3h0m-53-5h0m-18 9h0m32 5h0m28 2h0m-49 6h0m-89 0h0m-77 4h0m10 4h0m74-2h0m114-1h0m39-1h0m6 5h0m-39 2h0m-82 1h0m-27 2h0m-47 2h0m60 4h0m18 5h0m82-6h0m29 3h0m10 5h0m-3 5h0m-23-1h0m-38 2h0m-52-4h0m-8-3h0m-137 7h0m14 7h0m118-4h0m5 5h0m123-3h0m-3 4h0m-43 1h0m-10 6h0m-83-2h0m-77 8h0m105-1h0m32 3h0m34-7h0m10 13h0m-18-4h0m-50 1h0m-27 3h0m-145 1h0m43 5h0m103 1h0m28-4h0m107 8h0m-71 5h0m-47 1h0m-98-3h0m161 12h0m36-2h0m10 2h0m-121 6h0m-161 8h0m92-5h0m32 5h0m-21 4h0m-85 5h0"/>
<path stroke="#0f6c66" d="M184 139h0m33 35h0m-29 5h0m137 3h0m-134 8h0m58 7h0m61-1h0m4-1h0m0-3h0m36 3h0m-37 11h0m-83-6h0m-73 0h0m51 12h0m9-3h0m24 2h0m42-1h0m62 5h0m-12 3h0m-29 3h0m-14 1h0m-1-4h0m-40 3h0m-19-5h0m-80 12h0m6 2h0m28-1h0m56-3h0m28 2h0m36 11h0m-7-3h0m-41 1h0m-32-1h0m-8 8h0m19-4h0m78 5h0m5 1h0m20-4h0m-60 7h0m-14 0h0m-1 3h0m-124 10h0m81-2h0m58 2h0m7-3h0m19 2h0m42 1h0m14 2h0m-70 3h0m-4-3h0m-13 6h0m-22-5h0m-11 1h0m-90 2h0m-20 3h0m-24 7h0m3-4h0m39 0h0m89 3h0m9-5h0m1 4h0m30-3h0m1 5h0m31-6h0m44 14h0m-58-1h0m-15-1h0m-43 2h0m-32-6h0m-94 13h0m70 1h0m51 1h0m4-5h0m85 2h0m44-1h0m-55 5h0m-50 0h0m-17 7h0m-54-2h0m-79 1h0m27 8h0m62-5h0m5 2h0m56 3h0m43-1h0m7-1h0m9 2h0m28 9h0m-135-2h0m-3-2h0m-4 0h0m-108 1h0m-20 10h0m8-5h0m146 5h0m6-5h0m1 3h0m67 3h0m44 6h0m-8 2h0m-13-7h0m-9 6h0m-10-3h0m-29 0h0m-18-1h0m-168 5h0m9 2h0m68-1h0m90 6h0m41-1h0m30 3h0m-64 5h0m-14-5h0m-88 1h0m-2-1h0m-41 3h0m-4 2h0"/>
<path stroke="#0e7f54" d="M195 121h0m-4 13h0m22 28h0m5 6h0m-31 7h0m9 7h0m30-5h0m23 6h0m86 0h0m-31 2h0m-17 1h0m-77 9h0m41 3h0m-56 8h0m-43 4h0m7-2h0m189 10h0m-45-2h0m-46 4h0m-89-2h0m-20 3h0m100 5h0m74 0h0m37 4h0m-229 14h0m97 8h0m-59 2h0m2 3h0m189 8h0m-11-1h0m-56 6h0m-11 1h0m-15 0h0m-13 0h0m-11-7h0m-114 6h0m206 6h0m32-2h0m11 1h0m-102 5h0m-107 14h0m18-3h0m20-1h0m160 4h0m3-1h0m-71 8h0m-18-5h0m-43 6h0m-17-3h0m-93-3h0m-27 15h0m50-4h0m164-2h0m-1 11h0m-39-4h0m-189 6h0m-9 6h0m20 0h0m84-1h0m117 12h0m-176-4h0m181 8h0"/>
<path stroke="#0b9543" d="M205 142h0m59 11h0m-52 12h0m51 5h0m-24 2h0m-13 3h0m-9-5h0m-25 4h0m-15 1h0m7 1h0m103 19h0m63-1h0m-117 7h0m-88 42h0m25-1h0m24-2h0m173 6h0m-3 2h0m-137 7h0m-79 1h0m14 5h0m6-1h0m8-3h0m70 1h0m10-2h0m5 0h0m57 12h0m-19 1h0m-1-4h0m-104 11h0m53 2h0m4 7h0m-2-5h0m-19 4h0m-45-4h0m-52 1h0m24 8h0m46 13h0m-68 0h0m72 4h0m6 11h0m-69-4h0m-35 10h0m12-1h0m76-1h0m13 5h0m165 8h0m-21-4h0m-8 4h0m-97-6h0m-75 2h0m-38 4h0m-42 5h0m56-2h0m20 4h0m116-3h0m12 7h0m-171 1h0m-25-2h0"/>
<path stroke="#08ab32" d="M183 113h0m2 10h0m-1-2h0m-1 5h0m4 8h0m-3 12h0m2 5h0m3 14h0m51 5h0m-32 2h0m-25 0h0m52 15h0m-6 3h0m-50-4h0m-1 11h0m137 0h0m12-1h0m-39 10h0m-20-3h0m-48 4h0m-74 7h0m4 1h0m89-7h0m54 6h0m68 2h0m-2 5h0m-10-3h0m-96 2h0m-19 1h0m-35 0h0m-45 6h0m143-3h0m77 14h0m-159 0h0m-28-4h0m-51 13h0m81-7h0m12 2h0m132 12h0m-65-6h0m-42 7h0m-6-7h0m-13 0h0m-4 3h0m-17 0h0m-30 4h0m-17-7h0m-3 1h0m-22 2h0m50 8h0m63 4h0m42-4h0m76-3h0m-58 15h0m-50-5h0m-9-2h0m-15 3h0m-122-2h0m-12 4h0m7 4h0m9 1h0m105 2h0m18 0h0m103 5h0m-45 3h0m-13-4h0m-87 6h0m-57-4h0m-16 3h0m-8-5h0m-15 5h0m-12-1h0m23 8h0m26 2h0m18 1h0m27 0h0m2-3h0m14 1h0m2-2h0m21 2h0m8 0h0m17 2h0m9-5h0m76 0h0m7 0h0m-46 6h0m-20 0h0m-44 3h0m-1-3h0m-46 1h0m-19 2h0m-1-2h0m-12 6h0m-18-2h0m-5 2h0m13 6h0m83-5h0m10 2h0m47-1h0m4 5h0m43-6h0m14 4h0m7-3h0m-16 9h0m-8 4h0m-76 1h0m-9 0h0m-22-4h0m-157 11h0m35 0h0m30-4h0m39 1h0m9 0h0m12 4h0m74-1h0m101-6h0m-69 8h0m-27 0h0m-8 4h0m-70-2h0m-16 0h0m-27 3h0m-16 0h0m-28-2h0m-21 4h0m-5 3h0m110-1h0m10 3h0m91-3h0m38 0h0m2 6h0m-213 14h0"/>
<path stroke="#05c121" d="M209 113h0m44 21h0m17 2h0m-25 6h0m-60 3h0m77 2h0m-1 8h0m-74-1h0m76 10h0m-6 5h0m-56 14h0m29-1h0m-40 11h0m133 8h0m-5 0h0m-16 1h0m-73-2h0m-34 2h0m-41 11h0m2 1h0m0-5h0m9 1h0m146-2h0m7 4h0m54 10h0m-1-2h0m-25 2h0m-77-6h0m-71 6h0m-37-2h0m-10 3h0m-8-5h0m61 10h0m111-3h0m-20 9h0m-5 5h0m-31 0h0m-57-3h0m112 11h0m2-2h0m2-2h0m52 1h0m1 3h0m-32 3h0m-48-1h0m-21 6h0m-28-3h0m-1-2h0m-48 0h0m-46 4h0m-18 3h0m31 3h0m3 2h0m5-6h0m5 2h0m57 0h0m12 4h0m14-3h0m3 0h0m27-1h0m-18 9h0m-21-3h0m-120 3h0m-3 0h0m-8 5h0m60 0h0m36 1h0m35 2h0m25 1h0m1 1h0m75-5h0m24 12h0m-14 0h0m-24-3h0m-37 4h0m-26-4h0m-9 0h0m-11 6h0m-3-5h0m-61 3h0m-17-5h0m-14 7h0m-16-5h0m-2 5h0m-23 0h0m-23-5h0m15 6h0m56 2h0m50-2h0m27 1h0m98 2h0m19 2h0m12-2h0m13 7h0m-52 3h0m-22-1h0m-10 2h0m-4-5h0m-11-1h0m-37 6h0m-45 0h0m-19-4h0m-1 5h0m-50 4h0m32-1h0m93-1h0m44 0h0m11 0h0m11 4h0m4 10h0m0-6h0m-4 4h0m-7 1h0m-10-2h0m-9-1h0m-9 1h0m-5 2h0m-7-2h0m-14 0h0m-20-4h0m-138 3h0m30 5h0m37 1h0m5 5h0m17-2h0m25-1h0m4-2h0m14-1h0m18 3h0m0-1h0m10 3h0m26 1h0m5 1h0m21-4h0m26 0h0m13 7h0m-6 5h0m-12-2h0m-3 2h0m-23-3h0m-53 3h0m-14-6h0m-3 3h0m-28 2h0m-23-4h0m-58 1h0m-17-3h0m-21 2h0m1 7h0m7 1h0m49 3h0m26-4h0m15 6h0m64-7h0m33 5h0m15-3h0m31 1h0m14-3h0m-28 8h0m-12 1h0m-15 3h0m-11 0h0m-195 3h0"/>
<path stroke="#03d70f" d="M191 121h0m-8 9h0m72 12h0m-10 1h0m-29 7h0m19-1h0m0 25h0m-13-3h0m-13-2h0m-20 3h0m43 11h0m113 7h0m-134-2h0m104 13h0m-6 0h0m-4 1h0m-3 2h0m-27-1h0m-42 2h0m-65-3h0m79 11h0m20 0h0m83 2h0m7 0h0m19 1h0m-2 5h0m-71-4h0m-55 2h0m-8 2h0m-2-5h0m-49 1h0m-54 12h0m11-1h0m17-2h0m14 3h0m1 0h0m204-3h0m-23 10h0m-37 1h0m-4 0h0m-36-4h0m-14-1h0m-18 7h0m-19 0h0m-55 0h0m10 3h0m24-1h0m7 0h0m4 1h0m1-1h0m17-1h0m35 0h0m67 1h0m34 6h0m-112 5h0m-42-4h0m-11 1h0m-2-1h0m-29 6h0m-7-2h0m-52 0h0m-66 11h0m174-7h0m70 5h0m-4 3h0m-10 0h0m-22 6h0m-2-4h0m-10 1h0m-17-3h0m-1 6h0m-32 1h0m-38-7h0m-3 15h0m9-2h0m24 0h0m1 2h0m26-4h0m30 1h0m35 3h0m86-3h0m2 2h0m-59 2h0m-1 3h0m-33 2h0m-36-4h0m-95 6h0m-54 4h0m86 1h0m19-3h0m4 4h0m11-5h0m3 6h0m25-1h0m6-4h0m8 3h0m13 2h0m18 1h0m5-6h0m36 4h0m23-2h0m15 1h0m-70 6h0m-2 5h0m-3-7h0m-80 5h0m-125 2h0m18 8h0m9-7h0m15 0h0m45 6h0m57-4h0m14 0h0m32 3h0m57-2h0m6-2h0m39 6h0m-1 8h0m-17-1h0m-19-5h0m-48 0h0m-25 0h0m-13 1h0m-3-2h0m-65 1h0m-21 6h0m-40-3h0m-30-4h0m81 8h0m20 1h0m14 6h0m49-2h0m2-3h0m6 3h0m18-5h0m14 0h0m2 0h0m3 4h0m11 1h0m46 0h0m-44 6h0m0 3h0m-3 0h0m-9 0h0m-25-6h0m-11 4h0m-30-1h0m-48 1h0m-40 1h0m-1 1h0m-9 0h0m-39-2h0m-25 6h0m35-1h0m13 0h0m11 2h0m44-2h0m19 5h0m6-3h0m58 3h0m16-2h0m4-1h0m34 2h0m10 0h0m27-3h0m-63 9h0m-19-2h0m-158 1h0m-11 7h0m19 0h0m157-1h0"/>
<path stroke="#02eb00" d="M237 93h0m5 16h0m-56 8h0m50 8h0m-46 8h0m77 10h0m-7-3h0m-20-3h0m-50 11h0m61 1h0m-26 4h0m-7-1h0m-26 8h0m27 7h0m35-6h0m-14 14h0m-15-3h0m-39 2h0m-3 1h0m0 5h0m0 1h0m4 2h0m2-5h0m22 5h0m1-1h0m137 3h0m-20 1h0m-126-2h0m-9 0h0m-30 11h0m4 3h0m16-5h0m118 1h0m22-2h0m44 7h0m-5 2h0m-18 2h0m-10 3h0m-7-4h0m-15 3h0m-40-3h0m-16 5h0m-11-4h0m-69 3h0m62 7h0m1-4h0m38 0h0m24 6h0m7-5h0m23 0h0m26 3h0m16 2h0m-23 1h0m-7 4h0m-10-1h0m-5 3h0m-38-4h0m-6 3h0m-13 2h0m-29-4h0m-2-2h0m-3 3h0m-8 2h0m-2 0h0m-15-3h0m-13 1h0m-4-2h0m-136 11h0m87 2h0m90-5h0m13 2h0m11 1h0m4-1h0m43 2h0m35-4h0m18-2h0m11 3h0m5 10h0m-35 2h0m-17-1h0m-1-3h0m-8-1h0m-25 3h0m-14-1h0m-22 1h0m-14-3h0m-1 5h0m-9-3h0m-50-1h0m-2-1h0m-3 2h0m-127 5h0m155 5h0m16-6h0m21 7h0m38-5h0m64 12h0m-77 1h0m-4-3h0m-30 0h0m-106-3h0m-70 4h0m57 7h0m4 1h0m3 1h0m30-2h0m31 3h0m19-4h0m36-2h0m0 4h0m6-1h0m35 1h0m0 2h0m96-2h0m-10 5h0m-14 1h0m-34 2h0m-15-5h0m-21 4h0m-36-3h0m-14 3h0m-103 6h0m2 3h0m117-1h0m7-3h0m3 6h0m13-6h0m16 4h0m0-4h0m12 6h0m43-6h0m28 6h0m5-5h0m-24 7h0m-39 1h0m-122 5h0m-20-2h0m-39 2h0m-25 0h0m2 2h0m134-1h0m3 6h0m3 0h0m8-6h0m19 5h0m16 2h0m1-4h0m81 1h0m-1 7h0m-1 4h0m-14 0h0m-8-5h0m-15 3h0m-51 2h0m-6-1h0m-1-4h0m-12 5h0m-54-5h0m-10-2h0m-14 0h0m-17 7h0m-24-5h0m-22 5h0m-14-7h0m-16 15h0m31-5h0m24 3h0m10-1h0m7-4h0m48 5h0m25-1h0m4 1h0m34-4h0m14 3h0m29 0h0m51-2h0m-40 8h0m-21-2h0m-23 3h0m-40 4h0m-5-6h0m-28-1h0m-6 3h0m-3-1h0m-51-2h0m-33 0h0m-21 2h0m-25 4h0m2 7h0m16 2h0m144-4h0m2-2h0m18 4h0m14-3h0m27 5h0m67-5h0m-2 6h0m-13 1h0m-3 1h0m-18 5h0m-66-4h0m-42 2h0m-96-2h0m7 6h0m10 1h0m3-2h0m36 1h0m29-1h0m19 4h0m28-1h0m39-2h0m-182 14h0m-10 5h0m14 0h0"/>
<path stroke="#19ef00" d="M246 110h0m-6-2h0m-31 14h0m-12 13h0m12 8h0m-5-3h0m-19-1h0m24 12h0m4-7h0m57 10h0m-22 3h0m-4-5h0m-54 2h0m18 10h0m6-2h0m17 0h0m15 8h0m-37 0h0m6 9h0m11 4h0m18-5h0m116 4h0m-13 2h0m-12 2h0m-10 5h0m-6-4h0m-144 2h0m-22-1h0m116 6h0m19 1h0m22-2h0m51 6h0m-10 4h0m-31-3h0m-24 7h0m-26-6h0m-53 1h0m-6 0h0m-12 6h0m53 3h0m20-2h0m49 3h0m25-4h0m3 1h0m22 1h0m8 13h0m-1-3h0m-45 1h0m-5-4h0m0-1h0m-38 1h0m-27 5h0m-22-2h0m-14-1h0m-67-2h0m-3 13h0m104-6h0m24 1h0m26 6h0m36-6h0m34 7h0m-88 0h0m-11 0h0m-10 4h0m-14 1h0m-16-3h0m-18-2h0m-41 2h0m-44 5h0m-17-5h0m-58 10h0m161 2h0m0-1h0m17-2h0m41-2h0m59 3h0m9 11h0m-50-6h0m-5 0h0m-22 2h0m-15 3h0m-29 0h0m-94 1h0m-18-5h0m-47 4h0m-3-1h0m60 3h0m15 7h0m91-6h0m56 4h0m59-5h0m20 6h0m-14 7h0m-13 2h0m-67-3h0m-36 3h0m-5-1h0m-25-2h0m-44-1h0m-16-1h0m79 11h0m28-3h0m57 0h0m31-2h0m17 13h0m-191-5h0m-4 0h0m-1 2h0m-59 10h0m42-2h0m3 3h0m35 0h0m29-5h0m32 0h0m67 0h0m55 12h0m-161 1h0m-49 0h0m-6-1h0m-70-2h0m-1 2h0m19 8h0m15 2h0m46 1h0m37-1h0m23-5h0m11 11h0m-11 3h0m-5-5h0m-78 2h0m-6 2h0m-27-1h0m-14-2h0m24 10h0m108 0h0m123 8h0m-124-2h0m-11-3h0m-126 14h0m28-5h0m97 3h0m-104 12h0m14 2h0m5-2h0m1 5h0"/>
<path stroke="#30f200" d="M216 101h0m8 10h0m-4-4h0m-16 2h0m-9 6h0m40 0h0m19 4h0m11 8h0m-9 0h0m-45 6h0m4 18h0m6-3h0m46 0h0m-24 8h0m-21 0h0m-53 2h0m38 5h0m47 1h0m8 6h0m-9 3h0m-11-1h0m0 1h0m-24 2h0m-8 2h0m16-1h0m1 0h0m7 4h0m70 11h0m-145-6h0m-20 12h0m32 0h0m111-5h0m16 2h0m66-2h0m2 8h0m-71 2h0m-176 2h0m99 4h0m134 7h0m15-2h0m4 10h0m-209-4h0m-18 2h0m-75-3h0m-1 4h0m50 3h0m61 1h0m6 1h0m116 0h0m6 3h0m52 7h0m-37-5h0m-277 11h0m23 3h0m50-1h0m190 5h0m-127-2h0m-127 13h0m43-1h0m5 2h0m7-3h0m12-3h0m41 1h0m19 5h0m42 1h0m26-1h0m69 8h0m-43 1h0m-143-6h0m-75 0h0m64 11h0m19-2h0m179 13h0m-44-2h0m-71 2h0m-74-7h0m-12 5h0m129 7h0m-182 14h0m49-2h0m5 4h0m208-3h0m-240 11h0m15 7h0m89-1h0m157 1h0m-150 12h0m-46-7h0m-90 0h0m25 10h0m10 12h0"/>
<path stroke="#47f600" d="M236 107h0m-3 1h0m0 1h0m-54 5h0m16 0h0m23 0h0m10 0h0m21 3h0m-36 7h0m-16-1h0m-21 1h0m34 4h0m38 5h0m-7 5h0m-2 5h0m-30-3h0m24 13h0m-26 2h0m-5 12h0m1 0h0m18-3h0m34 0h0m-24 8h0m-61 1h0m39 17h0m-45-6h0m-4 6h0m-6 7h0m-93 28h0m223 0h0m-206 8h0m-1 3h0m-8-3h0m-20 2h0m289 6h0m-236 9h0m-20 1h0m-32 5h0m62 3h0m-11 10h0m-4-3h0m-32 7h0m5 18h0"/>
<path stroke="#5efa00" d="M198 102h0m41 3h0m-59 5h0m-2 5h0m13-3h0m13 4h0m22 1h0m-14 8h0m-5-5h0m-26 5h0m26 7h0m31 7h0m-32 4h0m-6-6h0m26 10h0m7-2h0m-9 7h0m-47 14h0m38 0h0m-47 16h0m-21 14h0m-4 5h0m4 8h0m-17 11h0m-8 1h0m-34 1h0m-23-1h0m-6 6h0m11 1h0m52 0h0m-59 24h0m0 3h0m-1-4h0m-15 2h0m9 5h0m19 1h0m148 5h0m-127 6h0m-7 9h0m-9 65h0"/>
<path stroke="#75fd00" d="M204 106h0m8 11h0m6 2h0m1 4h0m-88 11h0m75-1h0m15-3h0m-9 7h0m-86 13h0m80-6h0m15 7h0m2 20h0m-64-2h0m4 8h0m5-1h0m-16 13h0m-5 3h0m9 5h0m-94 26h0m38 14h0m-19-4h0m30 11h0m-2 5h0m-2 0h0m-6 1h0m-36 0h0m-6 0h0m-5 2h0m-3 10h0m17 1h0m36 4h0m-35 41h0"/>
<path stroke="#0a4f8e" d="M226 175h0m-73 69h0m127 12h0m3 11h0m-57 1h0m74 51h0"/>
<path stroke="#0d5d7a" d="M192 121h0m-9 60h0m6 12h0m135 0h0m36 1h0m-153 8h0m-56 5h0m57 1h0m77 4h0m25 0h0m19 4h0m-72 5h0m-3-5h0m-15 8h0m41 3h0m60 1h0m15 5h0m-30 2h0m-8 4h0m-34-2h0m-18-5h0m-22 6h0m-18 4h0m5 0h0m31 5h0m9-3h0m13 1h0m3-5h0m62 5h0m11 6h0m-107 4h0m-12-6h0m-39 1h0m-24 3h0m-9 0h0m-19 3h0m49 6h0m57-6h0m48 2h0m-37 13h0m-22-6h0m-65 0h0m60 8h0m69 1h0m72 0h0m-42 8h0m-102 4h0m-2 1h0m-33 0h0m-100-2h0m172 8h0m92 4h0m-39 1h0m-192 0h0m-37 0h0m-15 12h0m242 0h0m-115 8h0m-25 1h0m-13-6h0m-21 6h0m-7 8h0m149-1h0m65 0h0m-24 7h0m-108-4h0m-117 6h0"/>
<path stroke="#0f6c66" d="M201 166h0m24 5h0m89 12h0m30 7h0m-66 0h0m-8 0h0m-55 9h0m77-7h0m83 9h0m-46 2h0m-2-1h0m-21 3h0m-51 0h0m-39-4h0m-14-1h0m19 11h0m57-3h0m35 5h0m6-4h0m49 8h0m-102 6h0m-103-4h0m-10 6h0m7 6h0m176-5h0m43 10h0m-67-2h0m-12 2h0m-9 3h0m-54-1h0m-76-3h0m-30 2h0m29 6h0m65 0h0m21 2h0m9 2h0m128-7h0m-64 10h0m-18 1h0m-4-3h0m-28 2h0m-11 2h0m-25-2h0m-80 4h0m-12 1h0m-8-3h0m-12 6h0m124 0h0m13 1h0m18-3h0m2 4h0m90 11h0m-31 0h0m-8-4h0m-27 3h0m-14-6h0m-3 3h0m-23 3h0m-11-5h0m-26 6h0m-110 4h0m55 2h0m5-2h0m163 4h0m5-7h0m29 2h0m8 0h0m-49 10h0m-58 0h0m-27-2h0m-5 0h0m-19 13h0m12-2h0m72-4h0m5 5h0m21 0h0m3-6h0m6 8h0m-29 6h0m-58-5h0m-13 3h0m-35-3h0m-54 4h0m-57-1h0m22 8h0m1 2h0m141-3h0m12 3h0m4-5h0m27 0h0m14 3h0m30-4h0m14 0h0m2 9h0m-5 1h0m-26-1h0m-2-1h0m-27 4h0m-69 3h0m-13-5h0m-16 3h0m-83-1h0m65 7h0m5 2h0m53 2h0m86-1h0m1-5h0m21 4h0m27-4h0m-70 8h0m-53 3h0m-107-2h0m-54 11h0m70-1h0m141 0h0m29-1h0m7 7h0m-225 5h0m-22-4h0m-1 1h0"/>
<path stroke="#0e7f54" d="M217 162h0m-20 15h0m129 11h0m-150-3h0m71 13h0m110 2h0m-101 4h0m-9 3h0m102 6h0m24-4h0m-57 11h0m-164 10h0m89-6h0m-37 9h0m112 14h0m35-4h0m2 7h0m-202 22h0m34 9h0m169 19h0m-127-1h0m-63 0h0m105 12h0m20 1h0m-179 6h0m6 9h0m2-2h0m64-2h0m89 12h0m-78-6h0m-101 18h0"/>
<path stroke="#0b9543" d="M201 151h0m-10 9h0m6 5h0m43 32h0m8-4h0m47 8h0m-98 3h0m-17-2h0m-15-2h0m21 15h0m62 5h0m-32-3h0m9 14h0m7-1h0m-81 6h0m32 11h0m196 1h0m-23 0h0m-151 5h0m-89 1h0m116 9h0m4 0h0m41-5h0m-87 13h0m-50-6h0m80 8h0m17 2h0m145 8h0m-138 0h0m-45-2h0m-63 14h0m17-4h0m63-1h0m31 5h0m62 0h0m58 1h0m-11 5h0m-120-1h0m-6 0h0m-40 3h0m-100-3h0m240 14h0m-80 1h0m-10 3h0m-16-3h0m-98-2h0m-21 2h0m64 12h0m96-4h0m-126 5h0m-44 8h0m14 4h0m2 0h0m-10 9h0"/>
<path stroke="#08ab32" d="M225 142h0m-38-4h0m19 18h0m-14-2h0m-11-1h0m36 13h0m-20 6h0m-11 2h0m120 17h0m-132 7h0m20-1h0m47 1h0m3-3h0m43-3h0m25 0h0m34 5h0m-92 8h0m-7-3h0m-26 1h0m-37-1h0m34 13h0m2 0h0m52-2h0m4 9h0m-18-5h0m-31 3h0m-11 2h0m-45-5h0m-17 2h0m-2 0h0m-5 0h0m29 7h0m8-1h0m30 4h0m15 0h0m20-3h0m87 0h0m-38 13h0m-31-5h0m-120-2h0m73 13h0m5-2h0m21 3h0m3 0h0m4-4h0m28 2h0m84 3h0m8 7h0m-84-6h0m-8 3h0m-38-1h0m-1 3h0m-18-4h0m-68 5h0m-4-1h0m-7-5h0m-20 3h0m12 6h0m93 1h0m139 13h0m-47-1h0m-115 0h0m-9 0h0m-18-1h0m-64-1h0m-12 8h0m29 3h0m156-6h0m4 6h0m22-5h0m43-2h0m-3 10h0m-34 1h0m-4-1h0m-33 2h0m-26-1h0m-1 1h0m-10 2h0m-48-1h0m-51 0h0m-7-4h0m33 12h0m66-2h0m128 3h0m14 2h0m-130 6h0m-44 1h0m-26-4h0m-29 4h0m-17-2h0m32 5h0m77 4h0m34-3h0m54-1h0m36 4h0m-31 6h0m-10-4h0m-13 7h0m-7 0h0m-79-1h0m-16 1h0m-47-5h0m-69 1h0m-24 3h0m0 1h0m13 8h0m30-7h0m23 2h0m18 0h0m67 5h0m40-3h0m78 2h0m30 2h0m-143 0h0m-28 1h0m-3 2h0m-57-3h0m-31 4h0m-38-3h0m40 13h0m19 0h0m4-4h0m27-2h0m120 4h0m41-2h0m-195 10h0m-29 3h0m-3-4h0m-1-3h0"/>
<path stroke="#05c121" d="M232 117h0m-48 13h0m13 8h0m-14 6h0m46 2h0m-35 16h0m22 17h0m17 2h0m0-4h0m83 11h0m-79 0h0m-69 0h0m34 11h0m47-4h0m5 2h0m42-5h0m38 7h0m-33 6h0m-53-5h0m-2 1h0m-25 6h0m-2 0h0m-1-4h0m-54 11h0m16-4h0m7 2h0m10-1h0m2-2h0m31 1h0m5-1h0m-50 12h0m-26-4h0m-16 7h0m21 0h0m9 6h0m7-2h0m74-1h0m0-2h0m117 5h0m-71 4h0m-46 2h0m-46 1h0m-19 0h0m-42-5h0m17 10h0m39 2h0m56-2h0m7 0h0m25 4h0m6-3h0m9-1h0m51 8h0m-38 5h0m-95-2h0m-15-2h0m-63 1h0m-23 2h0m-4 5h0m11 2h0m60 0h0m55 2h0m135-1h0m-29 3h0m-30 1h0m-19 0h0m-16 1h0m-29-2h0m-18-1h0m-33 2h0m-26 4h0m-16-4h0m71 10h0m31-2h0m18 3h0m38 2h0m8-2h0m-45 5h0m-6 3h0m-38-4h0m-112 4h0m-18 1h0m-20 1h0m-3 8h0m11-2h0m16 0h0m7 0h0m42 2h0m60-3h0m13 3h0m2-6h0m16 2h0m83 1h0m36-4h0m-92 8h0m-6 5h0m-89 1h0m-29-2h0m-40-4h0m0 0h0m-32 0h0m84 10h0m64 2h0m24-2h0m24 3h0m74-5h0m9 1h0m-66 14h0m-7-3h0m-15-1h0m-75 4h0m-13-1h0m-18-1h0m-91-5h0m-14 12h0m40 1h0m43-2h0m6 1h0m14 1h0m25-1h0m13 1h0m58 0h0m10 0h0m78-3h0m1-2h0m16 6h0m-23 8h0m-1 0h0m-13-4h0m-12 4h0m-18 1h0m-17-7h0m-14 6h0m-48-5h0m-14 5h0m-40 1h0m-10-4h0m-16-3h0m-46 3h0m-12 1h0m-17 2h0m191 7h0m30 2h0m26-1h0m8-6h0m16 7h0m4 0h0m12-5h0m-41 13h0m-5-7h0m-156 4h0m-53 0h0m12 8h0"/>
<path stroke="#03d70f" d="M255 103h0m6 21h0m-26 2h0m-17-6h0m25 14h0m19-1h0m-6 3h0m-53 11h0m19 3h0m29-3h0m2 6h0m-54 0h0m-8 7h0m18 3h0m49-2h0m0 3h0m-28 10h0m-40 1h0m8 5h0m0-2h0m34 4h0m2-2h0m15 1h0m0 0h0m-45 10h0m-9-7h0m-7 7h0m64 6h0m6-1h0m2 6h0m-18 3h0m-21-1h0m-27-1h0m-46 10h0m16-5h0m41 3h0m84 2h0m48-2h0m38 1h0m-25 5h0m-6 1h0m-63 4h0m-135-1h0m28 8h0m11-5h0m133 5h0m24-4h0m15 12h0m-1-1h0m-44-4h0m-57 1h0m-105 2h0m-18-3h0m15 8h0m19 7h0m29-1h0m4 0h0m99-4h0m36 2h0m13-4h0m32 10h0m-24 2h0m-23 1h0m-19 1h0m-50 0h0m-13-2h0m-2 0h0m-9 3h0m-61-7h0m-15 7h0m-19-2h0m-29 8h0m0-1h0m36-1h0m99-1h0m22 1h0m35-3h0m39 2h0m3 5h0m20-1h0m12 3h0m-23 3h0m-10 0h0m-4 0h0m-122 2h0m-13 1h0m-3-6h0m-39 4h0m-53-5h0m21 11h0m25-3h0m46 6h0m12-1h0m20-3h0m3-1h0m12 6h0m67 0h0m18-7h0m0 0h0m-2 12h0m-29-4h0m-35 2h0m-7-2h0m-9 7h0m-2-2h0m-13 1h0m-15-4h0m-18 5h0m-45-4h0m-14 12h0m86-6h0m6 6h0m25-2h0m37-4h0m4 5h0m46-6h0m18 0h0m-5 11h0m-50-3h0m-18 4h0m-12 3h0m-28 0h0m-18 0h0m-3-1h0m-5-6h0m-1 5h0m-5-1h0m-55-4h0m-24 11h0m6-1h0m14 2h0m15-1h0m20-3h0m9 7h0m0-3h0m93-3h0m41 5h0m23 7h0m-73 1h0m-14-5h0m-12 5h0m-31 0h0m-23-2h0m-7 2h0m-122-5h0m25 11h0m12 1h0m1-1h0m3-2h0m11 4h0m1-6h0m15 3h0m108-1h0m21 0h0m26 4h0m1-4h0m7 1h0m29 0h0m0 3h0m19-6h0m-16 11h0m0-1h0m-9 5h0m-1-2h0m-31 0h0m-16 0h0m-20-4h0m-19-1h0m-39 0h0m-17 1h0m-24 3h0m-19-1h0m-17 4h0m-33-3h0m-17 11h0m16-6h0m38 2h0m56 2h0m10-1h0m8 0h0m0-3h0m43 4h0m30-2h0m28-1h0m-47 7h0m-150 5h0"/>
<path stroke="#02eb00" d="M226 99h0m-44 16h0m47 2h0m9 1h0m18 1h0m4 8h0m-19 0h0m-7 12h0m31 9h0m1-2h0m-40 8h0m-31-2h0m-3 3h0m45 8h0m2 8h0m-48-1h0m-3 9h0m156 9h0m-46-3h0m-11 6h0m-41-6h0m-21 3h0m-24 0h0m-28-4h0m0 5h0m-4 8h0m70-1h0m9 1h0m12-2h0m2 3h0m42-3h0m35-2h0m22 1h0m7 2h0m-17 4h0m-8 2h0m-7 5h0m-10-1h0m-30-3h0m-48 3h0m-18 2h0m3 1h0m29 4h0m114-1h0m-1 5h0m-107 3h0m-92-3h0m-1 0h0m-28 9h0m81-2h0m17 1h0m21 0h0m4 6h0m38-5h0m20 5h0m25-1h0m15 1h0m2-7h0m-28 15h0m-92-2h0m-15-1h0m-1-2h0m-76 0h0m-71 1h0m85 5h0m91 7h0m106 6h0m-7-4h0m-8 4h0m-21-2h0m-95-3h0m-55 1h0m-11 2h0m-3-3h0m-108 5h0m-2-2h0m-5 7h0m59 0h0m43-1h0m4 2h0m0-2h0m4 6h0m7-7h0m22 7h0m6-1h0m8-6h0m26 0h0m10 3h0m122-1h0m11 13h0m-69-1h0m-6-4h0m-6 2h0m-1 3h0m-4-4h0m-52 1h0m-5 1h0m-38-4h0m-8-1h0m-71 7h0m-63-3h0m11 6h0m44 0h0m45 1h0m57 2h0m6 2h0m54-4h0m12 0h0m24-1h0m4 1h0m0-2h0m3-1h0m7 1h0m12 5h0m30-3h0m21 10h0m-8-2h0m-16-1h0m-1 0h0m-61 0h0m-54 2h0m-28-2h0m-61 4h0m-13-2h0m-43 11h0m6-1h0m20 0h0m45-5h0m67 4h0m95-2h0m11 2h0m2-3h0m31 0h0m4 6h0m-19 4h0m-20 1h0m-23-1h0m-2-1h0m-12 2h0m-2 1h0m-12-5h0m-7 1h0m-19-1h0m-10 3h0m-7-4h0m-59 3h0m-33 0h0m-33-3h0m-29 2h0m66 8h0m34 5h0m3-5h0m3-1h0m81-1h0m29 5h0m64 4h0m-14 1h0m-8 5h0m-11-2h0m-44-3h0m-29 1h0m-21 4h0m-18-5h0m-19 4h0m-9 0h0m-31-1h0m-7-3h0m-36 3h0m-56 4h0m3 5h0m59-2h0m22 1h0m17-1h0m187-2h0m14 10h0m-17 1h0m-4 0h0m-185-1h0m-1 3h0m-18-3h0m-58-4h0m-3 7h0m-12 2h0m44 0h0m1 1h0m14 0h0m17 1h0m15-1h0m26 0h0m74 0h0m92-1h0m-52 8h0m-26 5h0m-137-1h0m-40 3h0m3 3h0m17 2h0"/>
<path stroke="#19ef00" d="M225 108h0m26 15h0m-8 3h0m-54 9h0m61 0h0m2-7h0m-26 14h0m-6-1h0m-17-4h0m35 24h0m6 1h0m-2 11h0m-21 5h0m9 2h0m4 0h0m14-4h0m110 15h0m-25 0h0m-35 0h0m-33 0h0m-62-6h0m-58 4h0m133 10h0m5-4h0m39 4h0m1-5h0m39 5h0m-48 6h0m-6-3h0m-25 4h0m-34-6h0m-31 10h0m158 9h0m-4-1h0m-60-2h0m-36 4h0m-8-4h0m-1 1h0m-4 1h0m-18 1h0m-5 3h0m-28-5h0m-141 2h0m-23 4h0m32 8h0m93-2h0m47-5h0m26 2h0m14 5h0m85-1h0m4-6h0m9 5h0m-44 10h0m-2-6h0m-8-1h0m-4 7h0m-32-1h0m-212 8h0m60-4h0m67-2h0m46 6h0m40-5h0m40 4h0m13-4h0m39 11h0m-13-1h0m-127-3h0m-13 5h0m-11 2h0m-2 0h0m-12-7h0m-40 4h0m-72 0h0m46 7h0m13 1h0m124-3h0m11 1h0m78-1h0m36-1h0m-37 14h0m-101-5h0m-131 1h0m56 6h0m179 4h0m32 9h0m-83-3h0m-38 1h0m-54-1h0m-25 5h0m-61 6h0m1-5h0m68 3h0m64-1h0m67 0h0m69 6h0m-65 6h0m-90-1h0m-23-4h0m-17 6h0m-17-4h0m-30 7h0m5 1h0m168 3h0m49-6h0m-158 13h0m-27-5h0m-36 6h0m-74 3h0m16 6h0m24-2h0m55-4h0m6 4h0m120-1h0m3 2h0m28-6h0m-77 13h0m-128 0h0m2 10h0m35-4h0m-10 13h0m-24 19h0"/>
<path stroke="#30f200" d="M205 97h0m4 0h0m30 6h0m-8 5h0m-4-1h0m-3-3h0m-16 2h0m44 11h0m7 4h0m-15 21h0m-57 1h0m-11-2h0m78 7h0m10 4h0m-26 2h0m-1 21h0m111 8h0m-10 6h0m-49-1h0m-144 1h0m179 11h0m0 1h0m-73 2h0m-173 12h0m58-1h0m99-2h0m132 6h0m-86-1h0m-31 4h0m-85 1h0m-93 9h0m98-4h0m66-3h0m-162 19h0m36-2h0m74 2h0m39 2h0m8-3h0m26-2h0m26 11h0m-4-1h0m-109 0h0m-114-2h0m2 11h0m75 3h0m112 0h0m21-2h0m58 10h0m-154 1h0m-70-3h0m-8-2h0m-7 13h0m76-7h0m78 14h0m12 4h0m11 1h0m-37 9h0m-25-1h0m-89-3h0m-30 1h0m211 21h0m-61-4h0m-140 4h0m64 5h0m30 4h0m-10 12h0"/>
<path stroke="#47f600" d="M249 109h0m-8-5h0m-18 13h0m21 8h0m-31-5h0m-10 15h0m12-3h0m23 5h0m0 2h0m-17 6h0m32 11h0m-39-1h0m-36 5h0m37 4h0m11 2h0m20-3h0m10 4h0m-21 8h0m-93 17h0m12 2h0m1-1h0m183 1h0m-151 26h0m-70 9h0m-47 9h0m-1-1h0m49 8h0m-52 11h0m11 0h0m3 5h0m108-1h0m-99 5h0m-25 2h0m11 5h0m-1 10h0m-8 17h0m6 10h0m41 2h0m4-5h0"/>
<path stroke="#5efa00" d="M230 106h0m-13 5h0m-17-5h0m-36 5h0m15 2h0m61 1h0m-12 6h0m-12 1h0m-12 5h0m-56 2h0m51 0h0m39 1h0m10 3h0m11 9h0m-38 0h0m17 8h0m-23 5h0m-10 10h0m42 10h0m-36-4h0m-78-2h0m-2 13h0m96 3h0m-84 7h0m-45 2h0m50 10h0m-7 2h0m-90 20h0m23 13h0m-21 5h0m15-2h0m43 9h0m-40 5h0m-10 4h0m12-2h0m11 21h0m5 1h0m-12 11h0m-9 19h0"/>
<path stroke="#75fd00" d="M226 102h0m-33 24h0m-16 3h0m22 4h0m-3 3h0m-52 18h0m89 8h0m-19 11h0m-91 3h0m41 5h0m-50 11h0m31 12h0m-6 2h0m-18 14h0m-47 3h0m-20 1h0m79 2h0m-21 11h0m-34 2h0m-12-7h0m52 12h0m-28 4h0m-29 1h0m-9 0h0m-4 10h0m57 4h0m-22 11h0m17 0h0m-26 10h0"/>
<path stroke="#8aff00" d="M168 112h0m11 8h0m37 11h0m39 9h0m-92-2h0m-7 1h0m-32 0h0m86 6h0m3-1h0m-38 21h0m26-3h0m18 0h0m-17 12h0m-41-6h0m-6 8h0m-5 8h0m-25 23h0m13 7h0m1 7h0m-7-3h0m-6 1h0m0 12h0m2 4h0m-41-1h0m-22 4h0m-8 9h0m46-2h0m-15 7h0m-36 8h0m31-1h0m-7 28h0m-13 36h0"/>
<path stroke="#9eff00" d="M224 105h0m-62 6h0m-8 3h0m40-2h0m-72 29h0m11 10h0m-37 14h0m41-2h0m26 2h0m52 8h0m-41-3h0m-50 2h0m7 6h0m27 7h0m-22 24h0m10 2h0m-54 5h0m18 15h0m-7 33h0m-18 4h0m9 6h0"/>
<path stroke="#b2ff00" d="M175 89h0m-6 28h0m0 2h0m-3 8h0m-21 4h0m59 7h0m-41-2h0m-3 14h0m37 2h0m-43 17h0m-39 3h0m0 0h0m43 5h0m-43 12h0m-22-3h0m20 7h0m16 5h0m18-5h0m-43 8h0m-1 12h0m-11 13h0m27 5h0m-1 8h0m-33-3h0m14 11h0m-1 11h0"/>
<path stroke="#c5ff00" d="M137 115h0m28 5h0m-13 2h0m5 7h0m9-1h0m-43 19h0m49 0h0m-6 9h0m-2-2h0m-41 7h0m7 1h0m17 1h0m-48 18h0m11-4h0m4 6h0m3-6h0m22 6h0m1-6h0m-38 8h0m-9 4h0m17 9h0m4-4h0m8 1h0m-26 13h0m12 4h0m4 2h0m9-5h0m-26 16h0m10 5h0m-6 4h0m-11 21h0m-13 23h0m17-5h0m-31 37h0"/>
<path stroke="#d9ff00" d="M197 86h0m-35 31h0m8 2h0m7 0h0m6 3h0m-27 3h0m-5 1h0m-4-4h0m-21 4h0m-6 5h0m45-3h0m1 2h0m0-1h0m-2 10h0m-24-3h0m-23 5h0m11 6h0m10 0h0m12-1h0m10 6h0m-3 2h0m-46 3h0m-10 1h0m-6 1h0m5 8h0m21-2h0m15 3h0m-12 0h0m-13 3h0m-2-3h0m22 15h0m5 5h0m-4-3h0m-2 2h0m-31 9h0m8-1h0m-9 9h0m14 8h0m20 10h0m-28 1h0m-17-2h0m5 19h0m-11 23h0m0-1h0"/>
<path stroke="#edff00" d="M179 86h0m18 23h0m-71-4h0m48 15h0m-1 5h0m-47-5h0m-16 1h0m-12 13h0m27 1h0m0-2h0m28-2h0m0-1h0m2-2h0m11 13h0m-39-1h0m-43 9h0m14 2h0m0-4h0m6 0h0m4-2h0m42 2h0m-20 9h0m-24-3h0m8 12h0m-3 3h0m-12 5h0m20 14h0m-5 0h0m12 13h0m-39 4h0m19 10h0m-8 9h0m-1-4h0m-3 0h0m3 10h0m3 6h0m0 2h0m-13 1h0m-5 19h0"/>
<path stroke="#fffd00" d="M163 51h0m30 4h0m1 2h0m-20 2h0m-13 9h0m17 3h0m-5 13h0m8 11h0m-19 3h0m1 13h0m-21 7h0m23-1h0m6 0h0m12 2h0m-23 8h0m-11 0h0m27 3h0m-27 9h0m-5-1h0m-7-1h0m-6 4h0m-13-2h0m-14 3h0m-8 6h0m4-4h0m40 6h0m16 1h0m-32 15h0m37-1h0m-50 3h0m19 27h0m-40 20h0m-5 7h0m18 9h0"/>
<path stroke="#ffed00" d="M178 70h0m4 7h0m-22-2h0m-4-3h0m-2 10h0m49 8h0m-33 5h0m-8-5h0m-6 3h0m4 3h0m29 4h0m7-1h0m-35 11h0m-58 0h0m14 7h0m39 9h0m-40-4h0m-16 13h0m29-5h0m28 3h0m-24 8h0m-51 4h0m50 9h0m-25 52h0m-15 9h0m-2 37h0"/>
<path stroke="#ffdd00" d="M178 32h0m25 2h0m-3 9h0m-28 10h0m-11 9h0m14 8h0m1 9h0m27 20h0m-24 10h0m-19-5h0m-12 4h0m-26 16h0m-16-1h0m-9 0h0m-1 3h0m-1-2h0m-11 3h0m8 3h0m10-1h0m2 1h0m-14 16h0m33-1h0m-23 8h0m52 13h0m-62 36h0"/>
<path stroke="#ffcd00" d="M189 25h0m-2 20h0m-10-3h0m-8 12h0m9 1h0m2-6h0m13 11h0m-25 7h0m7-2h0m13 12h0m-12-3h0m-7 0h0m2 21h0m-65-1h0m55 7h0m37 6h0m-73 9h0m4 8h0m-46-4h0m3 12h0m-5 11h0m48 4h0m-27 31h0"/>
<path stroke="#ffbd00" d="M184 30h0m-13 9h0m19-2h0m1-2h0m-28 12h0m33 4h0m-10 11h0m-6-6h0m4 13h0m-16 9h0m7 2h0m9 8h0m-70 0h0m71 9h0m6 1h0m-39 10h0m-58 0h0m4 11h0m82-7h0m-10 8h0m-39 5h0m-9 2h0m-3-4h0m-29 19h0m0-4h0m-1 24h0"/>
<path stroke="#ffad00" d="M191 37h0m10-2h0m5 11h0m-12-2h0m-15 22h0m6 5h0m0 5h0m-30 9h0m-39 18h0m60 6h0m-5-2h0m-57 0h0m-16 2h0m-4-3h0m32 33h0m-23 9h0"/>
<path stroke="#ff9900" d="M187 39h0m9-7h0m-33 18h0m23 51h0m-89 7h0m-2 2h0m-15 22h0"/>
<path stroke="#ff8100" d="M190 31h0m-4-3h0m8 7h0m6 4h0m3-3h0m-34 14h0m10-2h0"/>
<path stroke="#ff6800" d="M195 30h0m-16-4h0m-7 29h0"/>
<path stroke="#ff5000" d="M196 72h0"/>
<path stroke="#8aff00" d="M203 112h0m1 9h0m0 0h0m-32 28h0m67 1h0m-19 5h0m-16 4h0m-50-4h0m-28 9h0m24-2h0m64 3h0m22 16h0m11-5h0m-136 15h0m-11 13h0m39 6h0m-69 13h0m11 19h0m29-1h0m-23 13h0m9 7h0m-22 34h0m-7 20h0"/>
<path stroke="#9eff00" d="M210 105h0m-3 2h0m-17-1h0m-12 11h0m-14 9h0m44 11h0m-1 0h0m-80 0h0m12 8h0m37 1h0m-49 10h0m-18 9h0m70-3h0m32 12h0m-82-6h0m-3 4h0m-30 9h0m21-4h0m3 6h0m0 0h0m35-6h0m-9 7h0m-46 22h0m-2 3h0m27 0h0m16 9h0m-2 5h0m-8-6h0m1 14h0m-2 2h0m-68 10h0m32 4h0m12-5h0m-17 20h0m6 12h0m-20 24h0m0 7h0"/>
<path stroke="#b2ff00" d="M167 119h0m4-4h0m-12 10h0m-6 5h0m20 5h0m-49 14h0m8 0h0m4 1h0m27-5h0m8 6h0m-40 3h0m-17-1h0m2 10h0m2 2h0m19-1h0m5-4h0m16 3h0m19 2h0m-51 9h0m-3-4h0m-1 5h0m-12-2h0m7 7h0m19-3h0m-27 14h0m-6 2h0m0 10h0m27 20h0m-46 5h0m9 2h0m13 0h0m1 2h0m-2 0h0m-23 0h0m12 10h0m24 1h0m-34 18h0m3 2h0m-18 27h0"/>
<path stroke="#c5ff00" d="M161 125h0m-8-3h0m-1-2h0m-8 12h0m9-3h0m5 3h0m-25 4h0m-25 5h0m-1 4h0m25 5h0m20 0h0m14 2h0m-13 6h0m-4-6h0m-29 2h0m-16 9h0m10-3h0m14 3h0m-1 10h0m-7-3h0m-9 4h0m-4-1h0m-3-3h0m15 7h0m-22 31h0m25 3h0m2 5h0m-12 6h0m-6-2h0m-7 0h0m3 4h0m5 10h0m-16 11h0m6-4h0m-11 14h0"/>
<path stroke="#d9ff00" d="M173 103h0m22-7h0m-42 19h0m16-1h0m11 4h0m6-4h0m3 10h0m-14 0h0m-12 3h0m-1-6h0m-7 1h0m32 6h0m-38 8h0m-15 7h0m-10 8h0m14-5h0m4 0h0m-5 10h0m-11 0h0m-4 3h0m-2 0h0m-6 0h0m-2-5h0m-8-1h0m-3 12h0m23-2h0m19 0h0m-5 10h0m-18 1h0m-26 2h0m11 3h0m39 0h0m-3 5h0m-19 2h0m3 12h0m6 5h0m-44 0h0m25 8h0m1 3h0m-17 12h0m-12 9h0m9 12h0m-2 5h0m-3-3h0m-1 4h0m-9 38h0"/>
<path stroke="#edff00" d="M195 86h0m6 5h0m-10 1h0m0-3h0m-5 5h0m-12 0h0m-19 3h0m20 4h0m21-1h0m-24 9h0m-8 3h0m8 5h0m15 2h0m-54 1h0m-36 8h0m34 0h0m3 1h0m12 10h0m-32 0h0m-22 3h0m8 9h0m8-1h0m16-2h0m5-3h0m-28 7h0m21 10h0m15 2h0m4-4h0m0 1h0m8 3h0m-5 4h0m-20 3h0m-3 4h0m-1-6h0m-15 3h0m30 6h0m9 1h0m-37 8h0m11 7h0m4-2h0m16 2h0m-11 12h0m-24 14h0m-2-2h0m-8-1h0m-3 28h0m-21 42h0"/>
<path stroke="#fffd00" d="M174 48h0m2 4h0m-3 38h0m-18 12h0m12-2h0m31 3h0m-5 6h0m-31-4h0m24 19h0m-74 0h0m-2 0h0m1 4h0m16 2h0m20 4h0m-4 9h0m-19-3h0m-2 0h0m-12-3h0m41 22h0m-55 2h0m28 6h0m-8 4h0m-26-1h0m49 9h0m-43 20h0m5-6h0m29 5h0m3 3h0m-54 59h0"/>
<path stroke="#ffed00" d="M164 70h0m35-4h0m2 7h0m-37 0h0m-16 12h0m37 17h0m7 4h0m-2-2h0m-3 2h0m-13-2h0m-66 12h0m84 0h0m-5 9h0m-5-1h0m-30 3h0m-31 1h0m1 4h0m2 11h0m-26 3h0m23 3h0m43 6h0m-51-3h0m-3 2h0m-3 5h0m-4 34h0m7 6h0m15 2h0m-27 23h0"/>
<path stroke="#ffdd00" d="M184 43h0m-4 4h0m-3-2h0m11 18h0m-24-6h0m7 9h0m1 13h0m-5-3h0m-4 1h0m15 7h0m9 3h0m-24 2h0m10 14h0m20 7h0m-6-2h0m-67 2h0m-27-1h0m-4 10h0m9-5h0m59 6h0m-57 24h0m15 0h0m-31 14h0m35 29h0"/>
<path stroke="#ffcd00" d="M199 40h0m-12 14h0m0 9h0m-19 1h0m17 6h0m16-2h0m-1 21h0m-41-1h0m-3 16h0m-45 6h0m-14 6h0m87 4h0m-23 2h0m-10 1h0m-27-1h0m-27 2h0m-13 10h0m34 31h0"/>
<path stroke="#ffbd00" d="M167 29h0m16 18h0m-7 10h0m-2 4h0m14 6h0m4 3h0m8-6h0m-18 10h0m-17 4h0m24 12h0m-28 9h0m2-2h0m-67 8h0m-9 8h0m5 2h0m11 3h0m19 13h0m-8 16h0"/>
<path stroke="#ffad00" d="M184 31h0m-10 0h0m19 1h0m-6 10h0m-9 7h0m-7 8h0m-7 28h0m-78 29h0m16 8h0m0 12h0"/>
<path stroke="#ff9900" d="M173 45h0m-6 1h0m16 15h0m-10 28h0m-75 9h0m18 4h0m-23 5h0"/>
<path stroke="#ff8100" d="M177 38h0m22 3h0m-9 6h0m-23 7h0m38-5h0m-115 67h0"/>
<path stroke="#ff6800" d="M170 39h0m14 7h0m-15-1h0m1 3h0m-71 53h0"/>
<path stroke="#ff5000" d="M81 107h0"/>
<path stroke="#ff3800" d="M194 25h0m-2 2h0"/>
<path stroke="#8aff00" d="M202 103h0m0 11h0m41 2h0m-64 8h0m-1 3h0m-2 2h0m2 0h0m-37 7h0m23 14h0m63 9h0m18 16h0m-73 0h0m-18 6h0m8 1h0m-2 9h0m-67 2h0m19 6h0m32 10h0m-3 10h0m-72 3h0m47 12h0m-16 19h0m0-4h0m-15 21h0m13 4h0m-29 34h0m-2 9h0"/>
<path stroke="#9eff00" d="M210 99h0m-35 16h0m-15 8h0m-26 2h0m67 4h0m-68 8h0m42 8h0m-13 8h0m12 14h0m-66 16h0m11-1h0m7-2h0m-33 42h0m13 12h0m-21 55h0m-7 8h0m-1 0h0"/>
<path stroke="#b2ff00" d="M143 115h0m29 0h0m-2 12h0m0-2h0m-41 1h0m-1 6h0m55 0h0m-4 10h0m-28-5h0m-9-1h0m-19 4h0m-12 11h0m43-1h0m3 2h0m-8 5h0m-11-2h0m-1 4h0m-9-1h0m-2 1h0m-36-3h0m28 9h0m16-3h0m2-1h0m1 1h0m32 0h0m7 4h0m-30 5h0m-15-2h0m-9 3h0m-6-3h0m-25 4h0m25 3h0m8 10h0m-2 3h0m-7 1h0m8 2h0m10 3h0m-29 33h0m-15 9h0m3 5h0"/>
<path stroke="#c5ff00" d="M178 111h0m-21-1h0m4 9h0m9-5h0m-9 8h0m-21 15h0m25 14h0m-10 8h0m-31 0h0m-2-2h0m-33 4h0m34 1h0m3 0h0m4 2h0m20-4h0m14 0h0m-30 9h0m-13 8h0m7 6h0m16-2h0m19 1h0m-44 8h0m-3-2h0m-25 6h0m49 8h0m-36 3h0m10 14h0m-11 3h0m-18 3h0m21 2h0m-15 6h0m-14 8h0m10 0h0m2 0h0m4 5h0m2 7h0m-14 0h0"/>
<path stroke="#d9ff00" d="M164 91h0m-17 21h0m24 15h0m-5-7h0m-9 2h0m-57 10h0m42-1h0m0-2h0m1 4h0m25-4h0m4 0h0m-45 12h0m-2 2h0m-23 6h0m38-2h0m-11 12h0m30 5h0m-25 11h0m-12-1h0m-7-1h0m-16 1h0m38 15h0m-4 7h0m-8 5h0m-27 10h0m27-3h0m-7 10h0m-32 3h0m0 4h0m2 5h0m6-2h0m-1 19h0m7-6h0m-12 13h0m-2 11h0m-16 17h0"/>
<path stroke="#edff00" d="M157 82h0m5 7h0m25 9h0m2 1h0m-22 12h0m-16 0h0m-14 7h0m13-5h0m11 1h0m13-2h0m10 8h0m-15 5h0m-14-5h0m-51 12h0m4-1h0m38 4h0m9-7h0m18 10h0m-18 0h0m-7 4h0m-56 5h0m8 1h0m8 1h0m14 0h0m4 0h0m6 1h0m17-3h0m-25 10h0m-1 1h0m-6-6h0m-2 6h0m-8-6h0m-1 8h0m1 3h0m11-3h0m35 11h0m-45 0h0m-9 1h0m-4-4h0m3 15h0m2-7h0m2 6h0m36-1h0m-7 6h0m-34 17h0m18 21h0m-21 24h0m-23 35h0"/>
<path stroke="#fffd00" d="M179 75h0m-22 10h0m36-3h0m-19 20h0m16-4h0m2 2h0m-1 6h0m-1 2h0m-3-1h0m-30 3h0m-64 9h0m104 8h0m-54 14h0m-38 2h0m20 8h0m12 4h0m-15 0h0m-20-1h0m-7 4h0m-6 6h0m40-1h0m-3 6h0m-22 8h0m26 1h0m-24 21h0m6 8h0m3 6h0m-28 5h0m0 41h0"/>
<path stroke="#ffed00" d="M168 35h0m27 21h0m-17 3h0m8 5h0m-1 16h0m17 5h0m-21 4h0m-63 9h0m60 3h0m-10 3h0m-45 1h0m0 0h0m53 16h0m-10 5h0m0-1h0m-46-4h0m-3-1h0m50 9h0m-18 13h0m-40-3h0m-8 1h0m-17-1h0m1 9h0m-2 10h0m23 13h0m-9 11h0m10-2h0m-16 31h0"/>
<path stroke="#ffdd00" d="M183 33h0m18 6h0m-6 7h0m-13-2h0m-8 11h0m20-3h0m6 5h0m0 3h0m-22 3h0m-8 6h0m19 2h0m1-7h0m-1 12h0m-6 0h0m-10 9h0m-2 9h0m-9 5h0m22 4h0m-24 5h0m-41 0h0m-24-4h0m-5 10h0m102 0h0m-12 7h0m-58 0h0m-35 7h0m21 6h0m-1 7h0m-12-5h0m73 9h0m-22 32h0"/>
<path stroke="#ffcd00" d="M171 43h0m19 10h0m10 10h0m0-4h0m-29 4h0m26 12h0m-22-1h0m-1-1h0m0 3h0m-6-2h0m36 6h0m-13 15h0m-6-2h0m-27 18h0m-33 0h0m-35 26h0m-1 0h0m2 7h0m7 10h0"/>
<path stroke="#ffbd00" d="M179 36h0m0-4h0m0 16h0m14 1h0m-1 7h0m-33 9h0m39-1h0m7 5h0m-20 8h0m-16 9h0m23-2h0m1 3h0m-9 6h0m-22-2h0m-47 11h0m46 7h0m-59 8h0m-2 24h0"/>
<path stroke="#ffad00" d="M189 28h0m-5 0h0m-10 16h0m-11 11h0m30-7h0m11 15h0m-3-6h0m-21 6h0m-4 4h0m20 3h0m3-3h0m-27 15h0m23 9h0m-88 7h0m11 3h0m53-4h0m-11 11h0m-37 2h0m-13 10h0m-18 5h0"/>
<path stroke="#ff9900" d="M182 28h0m-10 6h0m11 0h0m10-2h0m4 1h0m3 4h0m4 5h0m-6-2h0m-25 15h0m-63 44h0m78 6h0m-86 6h0m-14-4h0m22 12h0m-10 3h0"/>
<path stroke="#ff8100" d="M194 20h0m-6 8h0m-5 6h0m20 11h0m-30 3h0m-11 16h0m-49 36h0m-18 7h0m10 6h0"/>
<path stroke="#ff6800" d="M172 39h0"/>
<path stroke="#ff2000" d="M190 45h0"/>
</g>
</g>
<polygon points="73.75,271.14 82.56,272.48 85.32,276.65 80.1,287.55 77.04,291.5 67.86,298.75 67.29,293.4 67.93,280.59" fill="none" stroke="#555" stroke-width="0.8" stroke-linejoin="round"/>
<polygon points="54.45,285.28 65.46,286.51 66.69,288.85 66.46,298.79 57.75,306.91 50.56,305.49 49.89,302.63 50.56,289.6" fill="none" stroke="#555" stroke-width="0.8" stroke-linejoin="round"/>
<polygon points="79.87,286.84 85.32,286.36 93.61,289.52 96.14,298.72 88.98,303.67 78.9,300.91" fill="none" stroke="#555" stroke-width="0.8" stroke-linejoin="round"/>
<polygon points="97.97,299.91 117.19,301.7 117.83,307.65 120.35,332.7 108.68,345.02 84.86,340.03 83.49,334.97 80.27,323.13 92.18,307.65" fill="none" stroke="#555" stroke-width="0.8" stroke-linejoin="round"/>
<polygon points="48.1,311.45 52.69,310.07 56.81,311.89 55.48,322.8 49.53,326.04 45.87,320.12 46.1,314.57" fill="none" stroke="#555" stroke-width="0.8" stroke-linejoin="round"/>
<polyline points="49.53,326.04 49.03,334.67 58.64,344.24 79.3,337.91 83.49,334.97" fill="none" stroke="#555" stroke-width="0.8" stroke-linejoin="round"/>
<polyline points="60.94,341.56 55.48,323.28 57.21,313.72 60.47,303.67" fill="none" stroke="#111" stroke-width="0.9" stroke-linejoin="round"/>
<polyline points="57.75,306.91 66.69,299.28 80.1,287.55" fill="none" stroke="#111" stroke-width="0.9" stroke-linejoin="round"/>
<polyline points="76.44,292.46 77.71,299.72 78.9,300.91" fill="none" stroke="#111" stroke-width="0.9" stroke-linejoin="round"/>
<polyline points="60.47,303.67 73.75,314.57 80.27,323.13 83.49,334.97" fill="none" stroke="#111" stroke-width="0.9" stroke-linejoin="round"/>
<polyline points="73.75,314.57 78.34,303.67 78.9,300.91" fill="none" stroke="#111" stroke-width="0.9" stroke-linejoin="round"/>
<polyline points="80.27,323.13 92.18,307.65" fill="none" stroke="#111" stroke-width="0.9" stroke-linejoin="round"/>
<rect x="38.75" y="269.5" width="84" height="83" fill="none" stroke="#111" stroke-width="1.1"/>
<line x1="37.55" y1="349.52" x2="38.75" y2="349.52" stroke="#111" stroke-width="0.8" />
<line x1="36.35" y1="345.8" x2="38.75" y2="345.8" stroke="#111" stroke-width="0.8" />
<line x1="37.55" y1="342.08" x2="38.75" y2="342.08" stroke="#111" stroke-width="0.8" />
<line x1="37.55" y1="338.36" x2="38.75" y2="338.36" stroke="#111" stroke-width="0.8" />
<line x1="37.55" y1="334.63" x2="38.75" y2="334.63" stroke="#111" stroke-width="0.8" />
<line x1="37.55" y1="330.91" x2="38.75" y2="330.91" stroke="#111" stroke-width="0.8" />
<line x1="36.35" y1="327.19" x2="38.75" y2="327.19" stroke="#111" stroke-width="0.8" />
<line x1="37.55" y1="323.47" x2="38.75" y2="323.47" stroke="#111" stroke-width="0.8" />
<line x1="37.55" y1="319.75" x2="38.75" y2="319.75" stroke="#111" stroke-width="0.8" />
<line x1="37.55" y1="316.02" x2="38.75" y2="316.02" stroke="#111" stroke-width="0.8" />
<line x1="37.55" y1="312.3" x2="38.75" y2="312.3" stroke="#111" stroke-width="0.8" />
<line x1="36.35" y1="308.58" x2="38.75" y2="308.58" stroke="#111" stroke-width="0.8" />
<line x1="37.55" y1="304.86" x2="38.75" y2="304.86" stroke="#111" stroke-width="0.8" />
<line x1="37.55" y1="301.14" x2="38.75" y2="301.14" stroke="#111" stroke-width="0.8" />
<line x1="37.55" y1="297.41" x2="38.75" y2="297.41" stroke="#111" stroke-width="0.8" />
<line x1="37.55" y1="293.69" x2="38.75" y2="293.69" stroke="#111" stroke-width="0.8" />
<line x1="36.35" y1="289.97" x2="38.75" y2="289.97" stroke="#111" stroke-width="0.8" />
<line x1="37.55" y1="286.25" x2="38.75" y2="286.25" stroke="#111" stroke-width="0.8" />
<line x1="37.55" y1="282.53" x2="38.75" y2="282.53" stroke="#111" stroke-width="0.8" />
<line x1="37.55" y1="278.8" x2="38.75" y2="278.8" stroke="#111" stroke-width="0.8" />
<line x1="37.55" y1="275.08" x2="38.75" y2="275.08" stroke="#111" stroke-width="0.8" />
<line x1="36.35" y1="271.36" x2="38.75" y2="271.36" stroke="#111" stroke-width="0.8" />
<line x1="41.74" y1="352.5" x2="41.74" y2="353.7" stroke="#111" stroke-width="0.8" />
<line x1="45.07" y1="352.5" x2="45.07" y2="354.9" stroke="#111" stroke-width="0.8" />
<line x1="48.4" y1="352.5" x2="48.4" y2="353.7" stroke="#111" stroke-width="0.8" />
<line x1="51.72" y1="352.5" x2="51.72" y2="353.7" stroke="#111" stroke-width="0.8" />
<line x1="55.05" y1="352.5" x2="55.05" y2="353.7" stroke="#111" stroke-width="0.8" />
<line x1="58.38" y1="352.5" x2="58.38" y2="353.7" stroke="#111" stroke-width="0.8" />
<line x1="61.7" y1="352.5" x2="61.7" y2="354.9" stroke="#111" stroke-width="0.8" />
<line x1="65.03" y1="352.5" x2="65.03" y2="353.7" stroke="#111" stroke-width="0.8" />
<line x1="68.36" y1="352.5" x2="68.36" y2="353.7" stroke="#111" stroke-width="0.8" />
<line x1="71.68" y1="352.5" x2="71.68" y2="353.7" stroke="#111" stroke-width="0.8" />
<line x1="75.01" y1="352.5" x2="75.01" y2="353.7" stroke="#111" stroke-width="0.8" />
<line x1="78.34" y1="352.5" x2="78.34" y2="354.9" stroke="#111" stroke-width="0.8" />
<line x1="81.66" y1="352.5" x2="81.66" y2="353.7" stroke="#111" stroke-width="0.8" />
<line x1="84.99" y1="352.5" x2="84.99" y2="353.7" stroke="#111" stroke-width="0.8" />
<line x1="88.32" y1="352.5" x2="88.32" y2="353.7" stroke="#111" stroke-width="0.8" />
<line x1="91.65" y1="352.5" x2="91.65" y2="353.7" stroke="#111" stroke-width="0.8" />
<line x1="94.97" y1="352.5" x2="94.97" y2="354.9" stroke="#111" stroke-width="0.8" />
<line x1="98.3" y1="352.5" x2="98.3" y2="353.7" stroke="#111" stroke-width="0.8" />
<line x1="101.63" y1="352.5" x2="101.63" y2="353.7" stroke="#111" stroke-width="0.8" />
<line x1="104.95" y1="352.5" x2="104.95" y2="353.7" stroke="#111" stroke-width="0.8" />
<line x1="108.28" y1="352.5" x2="108.28" y2="353.7" stroke="#111" stroke-width="0.8" />
<line x1="111.61" y1="352.5" x2="111.61" y2="354.9" stroke="#111" stroke-width="0.8" />
<line x1="114.93" y1="352.5" x2="114.93" y2="353.7" stroke="#111" stroke-width="0.8" />
<line x1="118.26" y1="352.5" x2="118.26" y2="353.7" stroke="#111" stroke-width="0.8" />
<line x1="121.59" y1="352.5" x2="121.59" y2="353.7" stroke="#111" stroke-width="0.8" />
<text x="34.85" y="348.4" font-size="7.6" text-anchor="end" fill="#1a1a1a" class="b" >0</text>
<text x="44.77" y="362.1" font-size="7.6" text-anchor="middle" fill="#1a1a1a" class="b" >0</text>
<text x="34.85" y="329.79" font-size="7.6" text-anchor="end" fill="#1a1a1a" class="b" >5.0</text>
<text x="61.4" y="362.1" font-size="7.6" text-anchor="middle" fill="#1a1a1a" class="b" >5.0</text>
<text x="34.85" y="311.18" font-size="7.6" text-anchor="end" fill="#1a1a1a" class="b" >10</text>
<text x="78.04" y="362.1" font-size="7.6" text-anchor="middle" fill="#1a1a1a" class="b" >10</text>
<text x="34.85" y="292.57" font-size="7.6" text-anchor="end" fill="#1a1a1a" class="b" >15</text>
<text x="94.67" y="362.1" font-size="7.6" text-anchor="middle" fill="#1a1a1a" class="b" >15</text>
<text x="34.85" y="273.96" font-size="7.6" text-anchor="end" fill="#1a1a1a" class="b" >20</text>
<text x="111.31" y="362.1" font-size="7.6" text-anchor="middle" fill="#1a1a1a" class="b" >20</text>
<text x="79.55" y="162.2" font-size="9.5" text-anchor="middle" fill="#1a1a1a" class="b" >HC</text>
<g transform="translate(153.6,170) scale(0.2)">
<g stroke-linecap="round" stroke-width="7.5" fill="none">
<path stroke="#0004e5" d="M102 110h0m16 4h0m-19 6h0m10 9h0m37 1h0m78 6h0m-10 7h0m-101-3h0m18 9h0m-38 4h0m21 26h0m35 11h0m90 5h0m-24 6h0m-35-1h0m30 18h0m10 9h0m-120 7h0m-11 2h0m80 17h0m-44-5h0m-23 25h0m43 2h0m7 26h0m-50 5h0m32 5h0m48 1h0m-95 14h0m17 0h0m106 9h0m-37-4h0m-21 1h0m-20 8h0m16-3h0m-57 7h0m10 8h0"/>
<path stroke="#000ce3" d="M111 98h0m89 9h0m-78 10h0m30-1h0m113 3h0m-131 1h0m39 12h0m65-2h0m16 7h0m-24 1h0m-81 5h0m-43-6h0m64 14h0m37 3h0m-31-1h0m-20 5h0m-52 8h0m101-3h0m26 2h0m-5 9h0m-10-4h0m-107-2h0m82 17h0m-83 5h0m-12-1h0m23 4h0m124 1h0m-65 9h0m-33 1h0m37 5h0m6 4h0m69 6h0m-74 1h0m-27 2h0m39 5h0m5 9h0m-91-4h0m-10 2h0m-38 3h0m-5 2h0m84 8h0m99-6h0m-56 14h0m-99 7h0m39-2h0m88-2h0m-108 15h0m109 7h0m-35 7h0m66 30h0m-141 10h0m9-5h0m122 2h0m-66 4h0m-13 3h0m-78 0h0m-3 4h0m58 10h0m-10-1h0m-11 12h0m19 4h0"/>
<path stroke="#0015df" d="M208 101h0m14 6h0m-17-2h0m7 9h0m-91 8h0m33 21h0m-30-5h0m-23 3h0m-2-1h0m26 6h0m112-2h0m-150 12h0m159 10h0m-40 13h0m18 10h0m-44-5h0m-56 15h0m87 0h0m-58 6h0m-44-3h0m33 8h0m33 5h0m6 7h0m-4 1h0m-96 7h0m126 7h0m-5-1h0m-102 0h0m-49 9h0m38 4h0m141 20h0m-100-4h0m68 20h0m1 6h0m-68 7h0m-62 9h0m66 4h0m44 1h0m-36 5h0m-22-3h0m-30 5h0m-4-5h0m-11-1h0m37 8h0m2 0h0m3 0h0m11 5h0m4-3h0m5 2h0m22-4h0m39 13h0m-116 8h0m35-3h0m16-1h0m19 1h0m-8 6h0m-29 8h0"/>
<path stroke="#0324cb" d="M100 108h0m142 19h0m-95-1h0m14 30h0m7 11h0m89-2h0m-161 8h0m15 7h0m132 24h0m-101 5h0m54 13h0m-82-3h0m-11 8h0m9 1h0m75-4h0m-109 16h0m29 4h0m146-1h0m-88 12h0m-98 4h0m-2 10h0m15 8h0m7-2h0m52 16h0m20 5h0m-5 16h0m-2 7h0m-64-4h0m-24 0h0m7 8h0m45-2h0m12 2h0m26 0h0m91-1h0m-77 24h0m-4 3h0m-43 14h0"/>
<path stroke="#0841a3" d="M292 331h0m55 9h0"/>
<path stroke="#0a4f8e" d="M214 99h0m-125 42h0m40 34h0m-26 2h0m125 16h0m-92 58h0m-70-2h0m76 23h0m198 27h0m-158 4h0m145 7h0m14 6h0m-25 1h0m-175 4h0m195 19h0"/>
<path stroke="#0d5d7a" d="M101 101h0m93 0h0m31-4h0m-30 11h0m-43 0h0m-68 10h0m115-6h0m-20 9h0m-16 6h0m-15-5h0m32 7h0m19 25h0m-8 3h0m-12 1h0m-19-4h0m-13 5h0m-8 3h0m78 5h0m31-7h0m-48 12h0m-97-2h0m72 19h0m-1 0h0m-50 4h0m-3 21h0m13-4h0m100 9h0m-111-2h0m-17 6h0m-20-1h0m145 7h0m-95 5h0m-67 2h0m128 6h0m-40 7h0m-69 7h0m28 5h0m13-2h0m82 4h0m58 5h0m-165 0h0m17 7h0m17 1h0m165-3h0m-139 14h0m-73 15h0m-6-3h0m99 13h0m-28 3h0m-99 2h0m63 6h0m117 6h0m-106 11h0m15 5h0m-35 15h0"/>
<path stroke="#0f6c66" d="M223 109h0m-86 10h0m95-2h0m-84 18h0m103 6h0m17 9h0m-72 7h0m-37-4h0m18 9h0m19 2h0m58-2h0m10 6h0m-98 11h0m31 2h0m-64 3h0m72 8h0m-93 23h0m-4 8h0m-11 3h0m33 1h0m124 2h0m-60 9h0m-21-4h0m-74 5h0m-13 4h0m60 9h0m113 15h0m-139 1h0m70 23h0m126 6h0m-79-1h0m-94 7h0m-39 6h0m46 5h0m-80 0h0m-2 2h0m59 8h0m92 11h0m-77 5h0m-53 13h0m5 0h0m1 2h0"/>
<path stroke="#0e7f54" d="M157 113h0m4 1h0m90 1h0m-122 11h0m0 7h0m4 2h0m14-6h0m100-1h0m-65 11h0m-26 4h0m-64 0h0m36 1h0m67 7h0m28-5h0m25 1h0m2-2h0m13 8h0m-104 0h0m-26 2h0m27 7h0m71 8h0m-15 3h0m-58-1h0m63 4h0m18 15h0m-61-4h0m-25 3h0m-57 9h0m95 1h0m-53 0h0m24 11h0m5 2h0m16 0h0m12-2h0m-79 16h0m102 4h0m-31 4h0m-8-3h0m-113 10h0m18 2h0m-27 9h0m88 9h0m3-3h0m-5 6h0m-57 1h0m74 11h0m0 3h0m-33 10h0m41 0h0m80 7h0m-57 4h0m-20 1h0m-11 1h0m-23-1h0m-47 5h0m27-2h0m62 13h0m5 4h0m-23 6h0m-80 8h0m44 11h0m-16 3h0m-20 7h0m28-4h0"/>
<path stroke="#0b9543" d="M252 111h0m-61-5h0m-94 4h0m99 17h0m-27-7h0m-91 12h0m89 0h0m-47 5h0m-5-1h0m57 26h0m36 1h0m18 0h0m9 0h0m-44 6h0m-13 2h0m-31-1h0m-40 6h0m11 6h0m64 7h0m-27 18h0m-42-2h0m-12 6h0m26-1h0m4 2h0m49-2h0m-2 10h0m-66 1h0m-25 5h0m50 3h0m18 1h0m87 2h0m-79 7h0m-49-3h0m-23 0h0m-7-3h0m-35 5h0m65 3h0m14 4h0m22-4h0m-84 11h0m0 4h0m27 9h0m-3 1h0m60 21h0m-20 6h0m8 7h0m-2 2h0m-24-2h0m-42 3h0m22 2h0m41 5h0m-10 6h0m26 10h0m-52 28h0"/>
<path stroke="#08ab32" d="M255 253h0m80 8h0m20 51h0"/>
<path stroke="#05c121" d="M228 95h0m-70 3h0m16 13h0m-60 1h0m40 2h0m3 7h0m-4 4h0m16 5h0m48 0h0m-3 10h0m-4-3h0m-72 12h0m20 0h0m-21 3h0m-40 5h0m5 6h0m60 4h0m70 5h0m-101 2h0m-31 6h0m83 3h0m42 23h0m-51-5h0m-64 2h0m-11 12h0m23-3h0m18-4h0m116 12h0m-30-2h0m-117-1h0m-38 6h0m25 7h0m24-4h0m72 9h0m-106 2h0m-43-5h0m30 15h0m68 0h0m6-3h0m-10 5h0m-21-1h0m-30 5h0m-1 0h0m242 8h0m-100 9h0m-30-1h0m-81-2h0m-49 2h0m-4-4h0m56 13h0m36 8h0m-73 3h0m66 1h0m-17 12h0m-39-5h0m-26 13h0m14 16h0m36-5h0m16 17h0m40 5h0"/>
<path stroke="#03d70f" d="M167 96h0m11 3h0m75 5h0m-42 1h0m-19 1h0m-35 5h0m-15 3h0m13 1h0m37 3h0m15 4h0m-6 1h0m-74 7h0m1-1h0m114 22h0m-21 6h0m-18-1h0m-11-2h0m-81 10h0m6 2h0m118 7h0m-12-1h0m-27 1h0m-93 0h0m61 6h0m79 9h0m-131-3h0m-7 30h0m92 1h0m-18 6h0m-21-4h0m-41 2h0m-22 2h0m-41 5h0m1 0h0m71 0h0m19 3h0m64-5h0m-3 11h0m-50-4h0m-112 0h0m16 11h0m5 2h0m12-4h0m138 1h0m98 1h0m-113 7h0m-114 3h0m-8-5h0m91 19h0m-65 11h0m5-3h0m38-3h0m158 3h0m-138 6h0m-30 5h0m-5-6h0m-17 4h0m-9-2h0m-31 3h0m-3 1h0m154 6h0m-133 7h0m1 7h0m22 2h0m15-4h0m10 5h0m14 9h0m-35 28h0"/>
<path stroke="#02eb00" d="M184 87h0m-74 5h0m67 5h0m62 8h0m-62 6h0m-57-7h0m31 10h0m32 5h0m3-3h0m1-2h0m28 6h0m-30 6h0m-1-6h0m0 5h0m-24-3h0m-54 4h0m-19 3h0m157 1h0m-18 12h0m-40-2h0m0 1h0m-37-3h0m-52 7h0m22 5h0m108 9h0m-93-4h0m20 8h0m8 1h0m11-2h0m20-2h0m21 5h0m3-3h0m23 2h0m-14 6h0m-33 4h0m-8-6h0m-9 5h0m-33-2h0m-49 8h0m66-2h0m32 5h0m37 7h0m-38 0h0m-51 2h0m-4 3h0m24 3h0m85 2h0m-128 3h0m-31-1h0m20 8h0m58 5h0m17-2h0m48 3h0m17 6h0m-55 0h0m-33-5h0m-30 0h0m-67 0h0m91 13h0m98-4h0m16 4h0m-11 8h0m-99-4h0m-12 5h0m-46-6h0m-20 4h0m4 8h0m172 0h0m70 6h0m-231 2h0m-31 0h0m-14 10h0m15-3h0m257 9h0m-154 15h0m-57 1h0m-16-4h0m25 10h0m14 3h0m57 5h0m-44 5h0m-60 3h0m37 0h0m46 2h0m2 2h0m21-6h0m-88 24h0m-25 1h0m11 12h0m2 10h0m33 1h0m8 3h0"/>
<path stroke="#19ef00" d="M179 89h0m-6 5h0m-2 6h0m13 3h0m9-5h0m-18 13h0m-15 3h0m49 3h0m-18 10h0m-102-2h0m0 1h0m15 5h0m21-2h0m2 5h0m17-4h0m76-1h0m-12 11h0m-42-3h0m-10 3h0m-11 3h0m-63-3h0m-1 0h0m16 10h0m69-5h0m88 7h0m-37 7h0m-8-3h0m-57 2h0m9 4h0m18 1h0m89 0h0m-58 5h0m-39 1h0m-9 11h0m58 1h0m25-4h0m-112 13h0m-31-5h0m92 8h0m-53 13h0m-51-1h0m81 7h0m79 5h0m-132-1h0m-60 15h0m102-3h0m65 0h0m-74 4h0m-5 4h0m-14 0h0m-87 9h0m40 2h0m125-2h0m-100 3h0m-28 2h0m-13-1h0m30 7h0m12 1h0m29 6h0m2 5h0m-25-3h0m-28 22h0m-1 8h0m18-3h0m6-2h0m17-2h0m-30 11h0m-27 11h0m0-3h0m2-1h0m78 8h0m-53-1h0m69 19h0m-3 2h0m0-6h0m-50 15h0m-12 10h0"/>
<path stroke="#30f200" d="M160 83h0m30 3h0m11-1h0m-43 4h0m55 12h0m-95 10h0m124 11h0m-54 5h0m-17-1h0m-16 5h0m108 9h0m-78 0h0m-33 7h0m9-3h0m3 5h0m8-3h0m90 7h0m-21 0h0m-21 0h0m-56 5h0m-29-1h0m98 8h0m23 6h0m-73 7h0m16 7h0m-59 2h0m43 10h0m37-2h0m-12 7h0m-66 2h0m82 5h0m26 2h0m6 7h0m-74-2h0m-86 15h0m85 1h0m-121 6h0m49 5h0m147 4h0m-19 4h0m-69-3h0m-23 3h0m-21-2h0m-9 5h0m-3-2h0m-44-2h0m39 13h0m51 7h0m-63 4h0m22-1h0m14 4h0m47 3h0m-35 1h0m-50 5h0m-15 9h0m119 0h0m-105 25h0m7 10h0m-1 5h0m-2 10h0"/>
<path stroke="#47f600" d="M168 79h0m16 6h0m11 6h0m-1-3h0m120 117h0m-32-2h0m50 14h0m-22 8h0m68 29h0"/>
<path stroke="#5efa00" d="M323 220h0"/>
<path stroke="#75fd00" d="M188 78h0m-33-3h0m29 6h0m67 113h0"/>
<path stroke="#0004e5" d="M221 119h0m-27 3h0m-112 12h0m44-5h0m52 12h0m6 24h0m26-5h0m5 13h0m-115-1h0m59 5h0m56 10h0m-78 4h0m-18 5h0m66-2h0m-34 15h0m-42 15h0m23 13h0m-61 5h0m114 3h0m-24 21h0m-34 2h0m106 11h0m-126 4h0m-39 12h0m90 6h0m-13 14h0m-5-1h0m-2 1h0m-63 12h0m55-3h0m109-4h0"/>
<path stroke="#000ce3" d="M210 104h0m-80 9h0m48 1h0m-55 16h0m3 6h0m-27 7h0m-11 6h0m43 2h0m12-2h0m95 2h0m26 5h0m-8 0h0m-22-2h0m-24 1h0m-22 2h0m-3-4h0m-68 6h0m87 8h0m10-3h0m2 3h0m2 0h0m12 2h0m-23-1h0m-117 7h0m5 2h0m62 4h0m57-1h0m3-3h0m-48 9h0m-63 10h0m41 3h0m20 6h0m-95 12h0m-16 3h0m5 7h0m59-3h0m68 9h0m-110 18h0m11 9h0m69-4h0m31 9h0m-96 1h0m82 13h0m-55 2h0m5 14h0m98 5h0m-75-2h0m-64 5h0m67 12h0m-4-1h0m-31 3h0m-40-5h0m-3 2h0m-5-1h0m51 9h0m2 0h0m36 9h0m-12 2h0m-53-2h0m13 18h0m-10-1h0"/>
<path stroke="#0015df" d="M120 100h0m105 17h0m-141 16h0m68 5h0m-13 12h0m9-3h0m33 1h0m7 3h0m35 0h0m-52 15h0m63 3h0m-69-1h0m56 11h0m15 1h0m18-3h0m-33 12h0m-10 0h0m-83-4h0m-16 6h0m-11-5h0m65 10h0m85-4h0m-96 15h0m-67 3h0m-32 18h0m106-2h0m14 5h0m-18 14h0m-40 4h0m44 14h0m-99 4h0m-10-1h0m82 6h0m-10 9h0m-11 1h0m4 21h0m-18 3h0m140 5h0m-156 3h0m0 2h0m25 9h0m0-2h0m12-1h0m47 7h0m-67 0h0m27 11h0m27-1h0m35 2h0m-54 10h0m3 8h0m4-5h0"/>
<path stroke="#0324cb" d="M198 135h0m54 24h0m-130-1h0m-26 5h0m106 2h0m-27 7h0m-61-2h0m22 9h0m115 2h0m-6 8h0m-79-4h0m-51 1h0m-66 45h0m189-3h0m-166 34h0m41-3h0m16 25h0m-17 2h0m26 6h0m-61 18h0m80-6h0m81 15h0m-55-7h0m-71 6h0m-52 0h0m90 8h0m-68 12h0m79 1h0m-1 7h0m-69 2h0m-2-3h0"/>
<path stroke="#0532b7" d="M252 300h0m-21 7h0"/>
<path stroke="#0841a3" d="M262 306h0m25 19h0"/>
<path stroke="#0a4f8e" d="M234 113h0m-132 11h0m-15 19h0m83 1h0m44 10h0m-56 3h0m-31 3h0m56 25h0m-83 74h0m-3 34h0m177-4h0m-137 24h0"/>
<path stroke="#0d5d7a" d="M237 104h0m-110 1h0m-28 8h0m103 3h0m-113 16h0m41-3h0m86 4h0m40-2h0m8 5h0m-142 5h0m-23 0h0m65 9h0m7-3h0m1 0h0m30 4h0m-83 2h0m-23 11h0m63-4h0m70 7h0m17 6h0m-42 2h0m-47-6h0m-55 5h0m40 6h0m6 0h0m4 0h0m2 0h0m38-1h0m-21 7h0m-30 5h0m-25-7h0m22 15h0m8-4h0m19 16h0m2 3h0m29 7h0m-54 1h0m-67-4h0m-15-1h0m126 11h0m66-2h0m-68 10h0m-70 1h0m-15 1h0m-4-3h0m-16 2h0m29 6h0m30 12h0m24 1h0m-71 21h0m155-2h0m-152 11h0m31 3h0m4-1h0m13 13h0m-36 6h0m19 10h0m-53-2h0m67 6h0m-26 9h0m56 12h0m-27 2h0m-1 3h0m-42 13h0"/>
<path stroke="#0f6c66" d="M107 107h0m-14 5h0m43 3h0m50 10h0m-52 10h0m72-7h0m-36 8h0m-69 14h0m87-5h0m-57 13h0m-18 9h0m113 2h0m-6 5h0m-1 0h0m-20-3h0m-26 1h0m-74-4h0m5 10h0m3 1h0m7-1h0m56 10h0m-48 1h0m-12-4h0m65 13h0m33 8h0m-14-1h0m-1 0h0m-59-1h0m11 12h0m-89 5h0m106 20h0m83 0h0m-106 11h0m-58-1h0m11 11h0m31-1h0m16 0h0m27 5h0m-4-1h0m-64 3h0m11 4h0m180 14h0m-139 0h0m-26-6h0m106 12h0m84 11h0m-147-5h0m-16 5h0m-32-4h0m62 18h0m-79-5h0m-19 12h0m22-4h0m113 14h0m-108 7h0m14 4h0m-18 17h0"/>
<path stroke="#0e7f54" d="M125 116h0m86-2h0m13 4h0m-12 4h0m-83 1h0m46 7h0m8-2h0m50 6h0m26-1h0m-42 7h0m-134 9h0m127-1h0m-4 8h0m-66 7h0m26-2h0m-13 8h0m-22 11h0m111-4h0m-36 15h0m-87-5h0m-9-1h0m-4 6h0m4 2h0m56 4h0m50-5h0m6 0h0m-34 15h0m37 1h0m1 3h0m23 12h0m-54-3h0m-15 0h0m-6 3h0m-8-3h0m-72 14h0m-32 1h0m-8 1h0m14 7h0m167-3h0m-89 22h0m68-6h0m22 3h0m-122 18h0m1-1h0m18 2h0m8 7h0m-22-1h0m9 10h0m105-1h0m-134 15h0m127-4h0m22 7h0m-68 18h0m-54 5h0m-34-4h0m36 8h0m27-2h0m-2 10h0m-9 4h0m-48-6h0m31 9h0m32-1h0"/>
<path stroke="#0b9543" d="M230 111h0m-142 2h0m5 6h0m60 0h0m19 10h0m35 7h0m-89 2h0m18 6h0m46 2h0m4-1h0m9 1h0m29 3h0m-99 4h0m-10 0h0m-2 2h0m-4 19h0m61 5h0m5 0h0m18-1h0m-52 7h0m-50 14h0m29-5h0m14 4h0m112-4h0m-3 11h0m-116-2h0m101 13h0m-101 3h0m-21 0h0m7 6h0m0 0h0m102 3h0m-29 11h0m-44 0h0m-17-2h0m-48 24h0m26-4h0m34 4h0m104 0h0m5 6h0m-67-3h0m-47 7h0m-42-5h0m196 9h0m29-2h0m-6 10h0m-189 0h0m26 27h0m-24 5h0m104 15h0m-129 1h0m-5-1h0m35 10h0m17 1h0m-24 5h0m-19 1h0"/>
<path stroke="#05c121" d="M163 95h0m-54 7h0m130 0h0m-59 2h0m-1 7h0m-13-1h0m-64 7h0m22 0h0m43 1h0m17-1h0m42-5h0m9 5h0m23 1h0m-89 8h0m-5-6h0m-2 12h0m29 2h0m23-2h0m30 7h0m-71 4h0m-36 0h0m-41-6h0m49 11h0m3 1h0m34-3h0m-28 12h0m-42 9h0m33-1h0m43 5h0m-31 3h0m-22-5h0m-24 0h0m-11 7h0m79 1h0m61 1h0m-4 11h0m-9 2h0m-36-6h0m-2 4h0m-52-2h0m-8 0h0m-26 8h0m40-2h0m15 1h0m0 4h0m10-4h0m81 7h0m-138 4h0m18 7h0m5 0h0m5-4h0m16 2h0m0-2h0m35 8h0m-28 4h0m-47 11h0m13-3h0m55-1h0m38 3h0m-76 9h0m-62-5h0m-34 2h0m89 11h0m92-3h0m18-3h0m-138 7h0m-10 1h0m-21 0h0m-11 14h0m69-5h0m12 5h0m7 8h0m-64 8h0m39-7h0m114 12h0m-5-1h0m-152 8h0m135 9h0m-90-1h0m-30-1h0m-40 0h0m40 9h0m19-1h0m11-1h0m14 1h0m1-2h0m15 9h0m-59 4h0m-35 6h0m7 9h0m35 4h0"/>
<path stroke="#03d70f" d="M171 102h0m9 1h0m56 8h0m-67-6h0m-64 3h0m9 5h0m6 5h0m9 0h0m83-1h0m3-1h0m42 4h0m-64 7h0m0-3h0m-24 1h0m-12 1h0m-28-4h0m-22 0h0m49 6h0m9 3h0m19-3h0m67 15h0m-63-7h0m-46 14h0m105-6h0m-122 9h0m-3 5h0m-6-4h0m20 8h0m42-2h0m4 2h0m36 3h0m23 6h0m-1 4h0m-54-3h0m-24-2h0m-12 0h0m-10 2h0m0 1h0m-42-3h0m11 11h0m2 2h0m118 0h0m-2 2h0m-135 7h0m103 0h0m26 0h0m30 0h0m-65 9h0m-69 6h0m-18-3h0m45 7h0m-41 8h0m38 10h0m42 0h0m0-5h0m2 2h0m6-1h0m-33 11h0m-52-1h0m-55 4h0m54 3h0m151 1h0m31 7h0m-181 3h0m-3 2h0m-27-4h0m-21 4h0m54 5h0m55-1h0m55 7h0m-51 5h0m-25 0h0m-4-7h0m-33 7h0m26 7h0m42-3h0m-23 5h0m-32 7h0m-15-7h0m-10 2h0m-16 13h0m9-7h0m131 7h0m13-7h0m-162 22h0m2 0h0m27-1h0m20-3h0m16-1h0m20 13h0m-7-3h0m-76 9h0m45-2h0m36 10h0m34 6h0m-53 13h0m-43 3h0"/>
<path stroke="#02eb00" d="M187 93h0m-97 7h0m73 0h0m13 2h0m11-1h0m12-2h0m45 10h0m-87 0h0m3 9h0m1-5h0m26 2h0m3 1h0m66-1h0m-5 11h0m-88 1h0m-4-6h0m-2-1h0m-46 0h0m-10 15h0m166 1h0m-56 5h0m-61-3h0m-44 0h0m20 6h0m-41 19h0m44 4h0m20-4h0m4 1h0m37-2h0m31 3h0m0-2h0m31 10h0m-30-1h0m-7 2h0m-6 0h0m-5-3h0m-8 4h0m-5-3h0m-40 0h0m-53 10h0m23 0h0m26 0h0m18 0h0m69 6h0m-36 2h0m-22-1h0m-68-5h0m-3 5h0m-5 6h0m51 7h0m-31 2h0m53 9h0m55 10h0m-21-5h0m-82 0h0m-36 3h0m103 7h0m9-1h0m5-2h0m44 14h0m-149 2h0m10 4h0m20-3h0m78 3h0m118 0h0m-120 8h0m-72-2h0m-6 3h0m-8-4h0m-4 1h0m-26 2h0m-4 2h0m78 12h0m-25-2h0m-47 8h0m5 5h0m133 7h0m-38 2h0m-75-7h0m20 20h0m-14-1h0m-54 3h0m35 9h0m40-5h0m-56 18h0m28 2h0m52 2h0m-99 4h0m23 10h0m53 0h0m-67 5h0"/>
<path stroke="#19ef00" d="M218 95h0m-29-5h0m-10 1h0m-7-1h0m-8 2h0m-2-3h0m39 14h0m50 7h0m-40 1h0m-9-5h0m-43 2h0m-47-1h0m0 5h0m54 7h0m17-1h0m13 7h0m-7-4h0m-5 3h0m-9 0h0m-11 0h0m-11 2h0m26 6h0m7 2h0m60-6h0m11 5h0m2 9h0m-22-1h0m-124 6h0m9 4h0m93-4h0m-22 15h0m38 3h0m21-1h0m-17 8h0m-22 0h0m-7 2h0m-10-5h0m-71-1h0m-9 1h0m-29 0h0m105 34h0m-98 1h0m93 8h0m21 10h0m-42-4h0m-25 3h0m-6-2h0m-14 2h0m-14 1h0m-38-6h0m-21 15h0m64-4h0m4-1h0m20-1h0m57 12h0m-11-2h0m-61-2h0m-26 4h0m-35-4h0m10 7h0m100 2h0m-58 12h0m-7-5h0m-49 6h0m9 2h0m41 1h0m51 7h0m-67 14h0m35 0h0m83 0h0m-50 7h0m-12 1h0m20 3h0m-7 10h0m-42 3h0m-27 0h0m-28 6h0m13 0h0m65 0h0m-34 5h0m-25 12h0m41 22h0"/>
<path stroke="#30f200" d="M196 84h0m-13 18h0m2 8h0m-104 5h0m99 0h0m2-1h0m18 3h0m39-3h0m-66 11h0m-10 9h0m61 4h0m-67 5h0m-14-5h0m-10 10h0m20-4h0m10 2h0m21 3h0m-15 9h0m-21 1h0m-22 8h0m7 0h0m15-2h0m86 9h0m-21-6h0m29 10h0m0 0h0m-5 8h0m-50-2h0m-33 1h0m-11 0h0m-2 13h0m37-2h0m33-1h0m-42 7h0m-50 7h0m51 4h0m25-2h0m19-1h0m-45 8h0m-97 4h0m70 9h0m48-7h0m121 11h0m-68 2h0m-113 6h0m-60 11h0m-19 9h0m46-2h0m60-5h0m176 14h0m-98-3h0m-10-3h0m-66 0h0m-40 3h0m-26 12h0m10 5h0m-35 5h0m33 2h0m3 4h0m1-5h0m14 1h0m14 1h0m-7 11h0m-24-2h0m-24 4h0m37 2h0m41-1h0m94 2h0m-173 17h0m67 0h0m70 8h0m-112 10h0m62 7h0"/>
<path stroke="#47f600" d="M163 86h0m78 125h0m24 23h0"/>
<path stroke="#5efa00" d="M198 79h0m-27 6h0m140 115h0m-52 7h0m33 2h0"/>
<path stroke="#75fd00" d="M325 207h0m47 22h0"/>
<path stroke="#0004e5" d="M126 119h0m112 9h0m16 13h0m-98-3h0m51 25h0m12 12h0m-16-5h0m-74 4h0m67 6h0m-56 6h0m-23 0h0m36 11h0m-51 7h0m50 8h0m-5 8h0m-41 4h0m17 7h0m-47 10h0m47 9h0m43 33h0m79 15h0m-111 2h0m-14 25h0m1-5h0m37 21h0m-50 10h0"/>
<path stroke="#000ce3" d="M241 98h0m-14 10h0m2 18h0m-99 2h0m117 6h0m7 22h0m-123-3h0m-40 5h0m129 6h0m-86 9h0m102 6h0m-117 8h0m-32 7h0m162 6h0m-16 0h0m-16 5h0m-25 0h0m-129 10h0m145 4h0m-72 1h0m102 10h0m-71 6h0m-78 4h0m-45 13h0m107 7h0m80-3h0m14 14h0m-122-7h0m-19 14h0m-30 26h0m40 5h0m4-2h0m21 1h0m96 6h0m-114 5h0m-34-5h0m-31 1h0m78 8h0m7 0h0m52 2h0m47-4h0m-21 12h0m-18-1h0m-72 3h0m-14-6h0m-3 6h0m-19 7h0m53 0h0m63 1h0m-125 3h0m41 8h0"/>
<path stroke="#0015df" d="M244 99h0m2 8h0m-6 3h0m-35 10h0m-75 5h0m-22 9h0m135 8h0m-51-2h0m-35 23h0m8-3h0m30 1h0m15 6h0m20-2h0m24 8h0m-61 0h0m-27 4h0m63 14h0m-118-2h0m117 25h0m17 5h0m-80 1h0m-18 3h0m-22-6h0m-71 4h0m148 8h0m44 7h0m-97 29h0m-44 13h0m28 1h0m68 2h0m-79 14h0m-14 12h0m3 4h0m39 6h0m-32-3h0m-51-2h0m-2 4h0m1 8h0m28-3h0m5 4h0m88-1h0m-65 7h0m11 9h0m0 2h0m163-4h0m-152 7h0m-20 6h0m-10 1h0m42 1h0m3 0h0"/>
<path stroke="#0324cb" d="M209 101h0m-66 11h0m53 7h0m-8 3h0m-60 3h0m119 13h0m-148 4h0m2 4h0m157 7h0m5 14h0m-6 8h0m-162 4h0m79 4h0m69-6h0m-53 7h0m-54 7h0m39 38h0m35 3h0m-79 7h0m-18-5h0m-11 13h0m22-3h0m-8 10h0m45 14h0m-6 11h0m-44 32h0m60 2h0m-25 2h0m-8 0h0m-10-3h0m-22 9h0m23 2h0m18 3h0m147 11h0m-132 11h0m-3-4h0"/>
<path stroke="#0532b7" d="M260 316h0"/>
<path stroke="#0a4f8e" d="M151 159h0m79 1h0m34 5h0m-135 3h0m36 8h0m37 38h0m-38 12h0m79 13h0m-185 21h0m114 2h0m-69 8h0m-26 35h0m0 8h0m85 34h0"/>
<path stroke="#0d5d7a" d="M160 116h0m19 15h0m-84 6h0m4 7h0m12 5h0m131-2h0m-28 12h0m-101 0h0m-2-1h0m-29-2h0m17 10h0m10-1h0m93-4h0m47 7h0m-72 5h0m-5-1h0m-23 3h0m-19-4h0m-18 9h0m64 3h0m66-2h0m8-5h0m-11 10h0m-66 3h0m21 13h0m-69 7h0m117 0h0m-10 13h0m-46-1h0m-67-2h0m-23-1h0m-9 5h0m-1-7h0m-27 4h0m121 7h0m47 11h0m-97-6h0m-86 7h0m204 3h0m-74 6h0m-32 1h0m-65 0h0m56 14h0m-24 3h0m-8 5h0m-11 0h0m-18-7h0m9 15h0m66-2h0m20 9h0m-39-4h0m-6-1h0m12 13h0m172 7h0m-186-3h0m52 8h0m159 7h0m-263 7h0m6 5h0m186 0h0m-84 15h0m-60 12h0"/>
<path stroke="#0f6c66" d="M254 107h0m-78 8h0m59 9h0m-50 2h0m-3 0h0m-32-2h0m-59 5h0m131 14h0m-73 1h0m68 2h0m-23 12h0m0-2h0m-81-1h0m-14 5h0m10 7h0m8-5h0m28 1h0m6 9h0m-6-3h0m32 8h0m-26 8h0m44 10h0m46 2h0m-120 7h0m-32 2h0m7 3h0m51 3h0m26 0h0m14-3h0m2 4h0m40 9h0m-20-3h0m21 14h0m-165 7h0m7 5h0m87 8h0m-21 0h0m-58-4h0m65 13h0m-18 15h0m13-2h0m36 9h0m-78-1h0m-8 8h0m139 4h0m1 0h0m-122 1h0m-13 0h0m25 8h0m27 1h0m74 14h0m-48-7h0m-12 1h0m-9 0h0m-37 1h0m42 10h0m5 7h0m-57 3h0m48 8h0m-11 6h0m-17-1h0"/>
<path stroke="#0e7f54" d="M209 110h0m-108 7h0m128 0h0m-142 15h0m47 0h0m49 8h0m-1-1h0m-80-1h0m-5 11h0m50 0h0m9 1h0m-15 7h0m-15 1h0m61 5h0m3 3h0m6-1h0m11-5h0m38 3h0m-19 8h0m-14 4h0m-12-1h0m-44 8h0m16 1h0m6-7h0m49 13h0m-53-1h0m-48 2h0m-29-1h0m16 8h0m0 2h0m5-7h0m23 1h0m16 2h0m68-1h0m-53 14h0m19 5h0m29 5h0m-36 3h0m-39-5h0m-25 7h0m-54 5h0m67 1h0m33-1h0m59 10h0m-20-5h0m-42 2h0m-19-3h0m-56 4h0m-9 4h0m63 10h0m-17 3h0m-57-5h0m11 10h0m76 1h0m12 11h0m22 2h0m15 5h0m-96 5h0m203 21h0m-152-4h0m-61 3h0m132 4h0m-126 7h0m-33 7h0m84 12h0m-27 6h0m81 4h0m-74 7h0m-27 0h0m5 7h0m39-2h0"/>
<path stroke="#0b9543" d="M226 111h0m-42 0h0m42 8h0m-94 4h0m-47 8h0m90 3h0m80 2h0m-64 1h0m-83 13h0m74-3h0m4 7h0m-8 11h0m19-4h0m37 24h0m-31-1h0m-84 1h0m-17 12h0m102 13h0m-90 10h0m-42 10h0m5 11h0m15 1h0m4 2h0m-21 5h0m7 13h0m52-6h0m102 3h0m77 26h0m-104-1h0m-38-3h0m-41 12h0m23 4h0m-30 14h0m15-6h0m7 0h0m-44 10h0m12 7h0m-9 9h0m-21 3h0m42 20h0"/>
<path stroke="#08ab32" d="M168 115h0m-14 6h0m101 138h0m14-1h0m64 21h0m28 15h0"/>
<path stroke="#05c121" d="M112 103h0m122-1h0m4 2h0m-34 4h0m-12 2h0m-33-6h0m36 8h0m31 4h0m18-1h0m-81 9h0m-8 1h0m1 4h0m1 2h0m9 3h0m43 1h0m23 8h0m-115 6h0m66 0h0m-11 3h0m-21 3h0m-25 5h0m34 6h0m10 1h0m89-5h0m-58 8h0m-29 5h0m-44 7h0m68-6h0m49 2h0m-49 6h0m-53 1h0m-3 20h0m-18-3h0m34 11h0m22-3h0m23 9h0m-70 2h0m-21-5h0m-2 9h0m134 12h0m-27-3h0m-95-2h0m-27 13h0m71-5h0m62 0h0m24 4h0m17-2h0m-6 7h0m-5 2h0m-23 4h0m-174-7h0m18 12h0m88 11h0m-60 4h0m4 4h0m49-3h0m14 0h0m191 7h0m-234-3h0m-12 0h0m-8 7h0m-19-1h0m12 2h0m48 4h0m-73 14h0m52 0h0m39-1h0m41 1h0m28 3h0m-35 8h0m11 4h0m26 0h0m-70 20h0m-37 13h0"/>
<path stroke="#03d70f" d="M155 98h0m3 5h0m16-6h0m13 13h0m-5-2h0m-18-4h0m-77 4h0m-4 6h0m71 1h0m12 1h0m5 0h0m12-1h0m61 7h0m-71 3h0m8 4h0m18 1h0m44-1h0m-127 7h0m27 12h0m6 2h0m30-2h0m5-1h0m8-1h0m10 5h0m11 8h0m-17 0h0m-9-7h0m-31 6h0m-20 0h0m-38 4h0m63-1h0m-12 22h0m22-1h0m22-2h0m37 2h0m-88 2h0m-23 7h0m-24-6h0m22 11h0m41 0h0m36 0h0m9-3h0m16 1h0m18 12h0m-80-3h0m-26 7h0m99 10h0m-136 11h0m6-2h0m-19 3h0m-14 2h0m186 20h0m-114-6h0m-2 3h0m-12 0h0m-54 1h0m-14 4h0m4 4h0m74-1h0m11 2h0m34 2h0m112 5h0m-198-3h0m17 12h0m12-1h0m1 1h0m75 10h0m-39-1h0m-11-2h0m-36-3h0m32 12h0m2-4h0m17 2h0m4 0h0m21-2h0m-21 14h0m-19-5h0m-8 18h0m-68-2h0m68 7h0m5 5h0m73 7h0m-62-3h0m-33 6h0m21 0h0m0 3h0m26-1h0"/>
<path stroke="#02eb00" d="M192 105h0m-32 0h0m-1 4h0m-7 9h0m14-3h0m7 3h0m14-3h0m-1 11h0m-15-1h0m-2 1h0m-8 0h0m-10-4h0m-10-1h0m-58-1h0m21 9h0m61-1h0m1 0h0m59 0h0m18 12h0m-72-2h0m-30 5h0m-27-2h0m-1 1h0m-7 0h0m-19 1h0m8 4h0m33 0h0m34-1h0m93 7h0m-40 0h0m-24 1h0m-26-2h0m-36 3h0m-18 12h0m18-2h0m26 1h0m11-3h0m65 0h0m15 1h0m6 3h0m5-5h0m-47 7h0m-44 7h0m67 4h0m-55 15h0m10 6h0m-31 4h0m-22 0h0m-25 2h0m37 14h0m-16-1h0m-12-3h0m-23 3h0m-8-1h0m-31-2h0m43 13h0m76-2h0m-8 8h0m-116 4h0m15 0h0m6 0h0m80 6h0m10-1h0m37-1h0m59 1h0m45-2h0m13 6h0m-182 4h0m-38 2h0m0 5h0m220 8h0m-145-3h0m-20 3h0m-13 5h0m31 6h0m-29 6h0m0-5h0m-39 3h0m-34 8h0m10 12h0m-6-3h0m15 6h0m43-1h0m28 1h0m-6 32h0m0 5h0m-35 3h0m-4 9h0"/>
<path stroke="#19ef00" d="M196 94h0m-17 1h0m-9 4h0m28 12h0m-112-2h0m81 7h0m45 0h0m16 2h0m-29 2h0m-7 7h0m-14-3h0m-5-1h0m-43 3h0m42 5h0m97 9h0m-123-3h0m-48 3h0m-1 5h0m24-1h0m3 3h0m3 10h0m35 3h0m21 3h0m21 1h0m1 3h0m33-2h0m-7 7h0m-64 3h0m-11-1h0m-22-3h0m-5 3h0m-15-1h0m-25 4h0m7 1h0m41-1h0m29 0h0m77 1h0m-110 13h0m-50 4h0m91 9h0m-20-4h0m-24 11h0m16 3h0m39 0h0m38-6h0m20 3h0m-195 16h0m17 4h0m47-7h0m133 5h0m-81 8h0m-61 2h0m-33-7h0m-7 6h0m-3-1h0m21 3h0m3 7h0m81 5h0m-48 3h0m-27-2h0m-24 7h0m41 7h0m-7 1h0m-5 10h0m5-3h0m27-3h0m35 4h0m-20 4h0m-37 4h0m16 6h0m-13 11h0m-40-2h0m-3 0h0m-3 3h0m21 2h0m26 5h0m30-4h0m-65 33h0m64 6h0m-12 11h0"/>
<path stroke="#30f200" d="M163 78h0m21 3h0m10 6h0m-14 1h0m-1 3h0m-5-3h0m-2 0h0m12 9h0m-29 7h0m-55 14h0m66 1h0m11-7h0m63 10h0m-41 4h0m-37 0h0m-75 9h0m12-5h0m15 5h0m15-2h0m29-3h0m32 6h0m-47 0h0m-25 8h0m126 5h0m23 10h0m-97-7h0m-10 2h0m-24-2h0m-18 3h0m-33 1h0m81 8h0m28-1h0m32 10h0m-11-4h0m-26 1h0m-77 3h0m-24-3h0m10 10h0m55 3h0m-20 4h0m-2 8h0m18 4h0m-10 4h0m-11-3h0m-17 4h0m-19 6h0m55-1h0m134 5h0m-5 4h0m-24 3h0m-61 1h0m-37-2h0m-97 4h0m22 5h0m8 3h0m26 15h0m46-3h0m-9 5h0m-8 9h0m29 4h0m-27 22h0m-40 2h0m-26 5h0m22-3h0m83 10h0m-108 7h0m144 3h0m-96 29h0"/>
<path stroke="#47f600" d="M172 83h0m4 4h0m199 175h0"/>
<path stroke="#5efa00" d="M192 78h0m-21 9h0m164 133h0"/>
<path stroke="#75fd00" d="M161 82h0m28-1h0"/>
<path stroke="#8aff00" d="M159 77h0m14 5h0m209 135h0"/>
<path stroke="#9eff00" d="M175 67h0m27 3h0m-5 7h0"/>
<path stroke="#c5ff00" d="M194 61h0m-5 3h0m10 3h0m-6 6h0m-28-1h0m146 111h0"/>
<path stroke="#d9ff00" d="M184 64h0m15 2h0m-28 7h0"/>
<path stroke="#edff00" d="M179 60h0m12 9h0"/>
<path stroke="#fffd00" d="M185 61h0m-6-4h0m-13 4h0"/>
<path stroke="#ffed00" d="M194 62h0"/>
<path stroke="#ffdd00" d="M201 47h0m-4 5h0m8-2h0m-1 7h0m0-1h0"/>
<path stroke="#ffcd00" d="M185 45h0m-16 10h0m4-1h0m18-5h0m13 0h0m-6 11h0"/>
<path stroke="#ffbd00" d="M177 37h0m26 5h0m-41 11h0m14 2h0m1-4h0m18 1h0"/>
<path stroke="#ffad00" d="M174 30h0m-2 2h0m24 14h0"/>
<path stroke="#ff9900" d="M192 38h0m-14 3h0"/>
<path stroke="#ff8100" d="M191 20h0m6 1h0m-10 10h0m-16 4h0m9 4h0m9-3h0m-2 4h0m-10 2h0"/>
<path stroke="#ff6800" d="M194 38h0"/>
<path stroke="#ff5000" d="M190 38h0"/>
<path stroke="#8aff00" d="M202 77h0m-34-3h0m-9 1h0m-1 6h0"/>
<path stroke="#9eff00" d="M198 72h0m-13 2h0m-2 0h0m-3 5h0m-6-5h0m-5 1h0m-5-2h0m-3 0h0"/>
<path stroke="#b2ff00" d="M184 64h0m-4 8h0"/>
<path stroke="#c5ff00" d="M164 70h0m3-5h0m1 4h0m1 0h0m24-1h0m12 5h0"/>
<path stroke="#d9ff00" d="M163 68h0m37-4h0m1 4h0m4-1h0"/>
<path stroke="#edff00" d="M165 63h0"/>
<path stroke="#fffd00" d="M184 58h0"/>
<path stroke="#ffed00" d="M187 55h0m23-5h0m-14 11h0m-13-5h0m-8 2h0m-8 3h0"/>
<path stroke="#ffdd00" d="M204 54h0m-28 3h0m-1 2h0m-4-2h0"/>
<path stroke="#ffcd00" d="M190 50h0"/>
<path stroke="#ffbd00" d="M197 21h0m-25 31h0m13 3h0m20-1h0"/>
<path stroke="#ffad00" d="M169 35h0m12-1h0"/>
<path stroke="#ff9900" d="M181 37h0m10 2h0m6 4h0m-31-3h0m17 11h0"/>
<path stroke="#ff8100" d="M194 21h0m-6 4h0m-11 8h0m28-1h0"/>
<path stroke="#ff6800" d="M167 39h0m22-6h0m-14 9h0"/>
<path stroke="#ff2000" d="M188 32h0"/>
<path stroke="#8aff00" d="M193 77h0m0 9h0"/>
<path stroke="#9eff00" d="M195 70h0m130 119h0m-14 0h0"/>
<path stroke="#b2ff00" d="M165 67h0m27 12h0m-32-3h0"/>
<path stroke="#c5ff00" d="M165 70h0m0-5h0"/>
<path stroke="#d9ff00" d="M173 67h0m4-3h0m12 2h0"/>
<path stroke="#edff00" d="M208 63h0"/>
<path stroke="#fffd00" d="M203 57h0m-3 1h0m-25 2h0m-5 0h0m8 4h0m24 1h0"/>
<path stroke="#ffed00" d="M177 58h0"/>
<path stroke="#ffdd00" d="M184 57h0m-24 9h0"/>
<path stroke="#ffcd00" d="M169 50h0"/>
<path stroke="#ffbd00" d="M194 36h0m-27 18h0"/>
<path stroke="#ffad00" d="M173 46h0m-6-1h0m9 7h0"/>
<path stroke="#ff9900" d="M187 38h0m3 1h0m10 1h0"/>
<path stroke="#ff8100" d="M180 32h0m7 6h0m7-4h0m10 4h0m-9 4h0"/>
</g>
</g>
<polygon points="188.6,171.64 197.41,172.98 200.17,177.15 194.95,188.05 191.89,192 182.71,199.25 182.14,193.9 182.78,181.09" fill="none" stroke="#555" stroke-width="0.8" stroke-linejoin="round"/>
<polygon points="169.3,185.78 180.31,187.01 181.54,189.35 181.31,199.29 172.6,207.41 165.41,205.99 164.74,203.13 165.41,190.1" fill="none" stroke="#555" stroke-width="0.8" stroke-linejoin="round"/>
<polygon points="194.72,187.34 200.17,186.86 208.46,190.02 210.99,199.22 203.83,204.17 193.75,201.41" fill="none" stroke="#555" stroke-width="0.8" stroke-linejoin="round"/>
<polygon points="212.82,200.41 232.04,202.2 232.68,208.15 235.2,233.2 223.53,245.52 199.71,240.53 198.34,235.47 195.12,223.63 207.03,208.15" fill="none" stroke="#555" stroke-width="0.8" stroke-linejoin="round"/>
<polygon points="162.95,211.95 167.54,210.57 171.66,212.39 170.33,223.3 164.38,226.54 160.72,220.62 160.95,215.07" fill="none" stroke="#555" stroke-width="0.8" stroke-linejoin="round"/>
<polyline points="164.38,226.54 163.88,235.17 173.49,244.74 194.15,238.41 198.34,235.47" fill="none" stroke="#555" stroke-width="0.8" stroke-linejoin="round"/>
<polyline points="175.79,242.06 170.33,223.78 172.06,214.22 175.32,204.17" fill="none" stroke="#111" stroke-width="0.9" stroke-linejoin="round"/>
<polyline points="172.6,207.41 181.54,199.78 194.95,188.05" fill="none" stroke="#111" stroke-width="0.9" stroke-linejoin="round"/>
<polyline points="191.29,192.96 192.56,200.22 193.75,201.41" fill="none" stroke="#111" stroke-width="0.9" stroke-linejoin="round"/>
<polyline points="175.32,204.17 188.6,215.07 195.12,223.63 198.34,235.47" fill="none" stroke="#111" stroke-width="0.9" stroke-linejoin="round"/>
<polyline points="188.6,215.07 193.19,204.17 193.75,201.41" fill="none" stroke="#111" stroke-width="0.9" stroke-linejoin="round"/>
<polyline points="195.12,223.63 207.03,208.15" fill="none" stroke="#111" stroke-width="0.9" stroke-linejoin="round"/>
<rect x="153.6" y="170" width="84" height="83" fill="none" stroke="#111" stroke-width="1.1"/>
<line x1="152.4" y1="250.02" x2="153.6" y2="250.02" stroke="#111" stroke-width="0.8" />
<line x1="151.2" y1="246.3" x2="153.6" y2="246.3" stroke="#111" stroke-width="0.8" />
<line x1="152.4" y1="242.58" x2="153.6" y2="242.58" stroke="#111" stroke-width="0.8" />
<line x1="152.4" y1="238.86" x2="153.6" y2="238.86" stroke="#111" stroke-width="0.8" />
<line x1="152.4" y1="235.13" x2="153.6" y2="235.13" stroke="#111" stroke-width="0.8" />
<line x1="152.4" y1="231.41" x2="153.6" y2="231.41" stroke="#111" stroke-width="0.8" />
<line x1="151.2" y1="227.69" x2="153.6" y2="227.69" stroke="#111" stroke-width="0.8" />
<line x1="152.4" y1="223.97" x2="153.6" y2="223.97" stroke="#111" stroke-width="0.8" />
<line x1="152.4" y1="220.25" x2="153.6" y2="220.25" stroke="#111" stroke-width="0.8" />
<line x1="152.4" y1="216.52" x2="153.6" y2="216.52" stroke="#111" stroke-width="0.8" />
<line x1="152.4" y1="212.8" x2="153.6" y2="212.8" stroke="#111" stroke-width="0.8" />
<line x1="151.2" y1="209.08" x2="153.6" y2="209.08" stroke="#111" stroke-width="0.8" />
<line x1="152.4" y1="205.36" x2="153.6" y2="205.36" stroke="#111" stroke-width="0.8" />
<line x1="152.4" y1="201.64" x2="153.6" y2="201.64" stroke="#111" stroke-width="0.8" />
<line x1="152.4" y1="197.91" x2="153.6" y2="197.91" stroke="#111" stroke-width="0.8" />
<line x1="152.4" y1="194.19" x2="153.6" y2="194.19" stroke="#111" stroke-width="0.8" />
<line x1="151.2" y1="190.47" x2="153.6" y2="190.47" stroke="#111" stroke-width="0.8" />
<line x1="152.4" y1="186.75" x2="153.6" y2="186.75" stroke="#111" stroke-width="0.8" />
<line x1="152.4" y1="183.03" x2="153.6" y2="183.03" stroke="#111" stroke-width="0.8" />
<line x1="152.4" y1="179.3" x2="153.6" y2="179.3" stroke="#111" stroke-width="0.8" />
<line x1="152.4" y1="175.58" x2="153.6" y2="175.58" stroke="#111" stroke-width="0.8" />
<line x1="151.2" y1="171.86" x2="153.6" y2="171.86" stroke="#111" stroke-width="0.8" />
<line x1="156.59" y1="253" x2="156.59" y2="254.2" stroke="#111" stroke-width="0.8" />
<line x1="159.92" y1="253" x2="159.92" y2="255.4" stroke="#111" stroke-width="0.8" />
<line x1="163.25" y1="253" x2="163.25" y2="254.2" stroke="#111" stroke-width="0.8" />
<line x1="166.57" y1="253" x2="166.57" y2="254.2" stroke="#111" stroke-width="0.8" />
<line x1="169.9" y1="253" x2="169.9" y2="254.2" stroke="#111" stroke-width="0.8" />
<line x1="173.23" y1="253" x2="173.23" y2="254.2" stroke="#111" stroke-width="0.8" />
<line x1="176.55" y1="253" x2="176.55" y2="255.4" stroke="#111" stroke-width="0.8" />
<line x1="179.88" y1="253" x2="179.88" y2="254.2" stroke="#111" stroke-width="0.8" />
<line x1="183.21" y1="253" x2="183.21" y2="254.2" stroke="#111" stroke-width="0.8" />
<line x1="186.53" y1="253" x2="186.53" y2="254.2" stroke="#111" stroke-width="0.8" />
<line x1="189.86" y1="253" x2="189.86" y2="254.2" stroke="#111" stroke-width="0.8" />
<line x1="193.19" y1="253" x2="193.19" y2="255.4" stroke="#111" stroke-width="0.8" />
<line x1="196.51" y1="253" x2="196.51" y2="254.2" stroke="#111" stroke-width="0.8" />
<line x1="199.84" y1="253" x2="199.84" y2="254.2" stroke="#111" stroke-width="0.8" />
<line x1="203.17" y1="253" x2="203.17" y2="254.2" stroke="#111" stroke-width="0.8" />
<line x1="206.5" y1="253" x2="206.5" y2="254.2" stroke="#111" stroke-width="0.8" />
<line x1="209.82" y1="253" x2="209.82" y2="255.4" stroke="#111" stroke-width="0.8" />
<line x1="213.15" y1="253" x2="213.15" y2="254.2" stroke="#111" stroke-width="0.8" />
<line x1="216.48" y1="253" x2="216.48" y2="254.2" stroke="#111" stroke-width="0.8" />
<line x1="219.8" y1="253" x2="219.8" y2="254.2" stroke="#111" stroke-width="0.8" />
<line x1="223.13" y1="253" x2="223.13" y2="254.2" stroke="#111" stroke-width="0.8" />
<line x1="226.46" y1="253" x2="226.46" y2="255.4" stroke="#111" stroke-width="0.8" />
<line x1="229.78" y1="253" x2="229.78" y2="254.2" stroke="#111" stroke-width="0.8" />
<line x1="233.11" y1="253" x2="233.11" y2="254.2" stroke="#111" stroke-width="0.8" />
<line x1="236.44" y1="253" x2="236.44" y2="254.2" stroke="#111" stroke-width="0.8" />
<text x="149.7" y="248.9" font-size="7.6" text-anchor="end" fill="#1a1a1a" class="b" >0</text>
<text x="159.62" y="262.6" font-size="7.6" text-anchor="middle" fill="#1a1a1a" class="b" >0</text>
<text x="149.7" y="230.29" font-size="7.6" text-anchor="end" fill="#1a1a1a" class="b" >5.0</text>
<text x="176.25" y="262.6" font-size="7.6" text-anchor="middle" fill="#1a1a1a" class="b" >5.0</text>
<text x="149.7" y="211.68" font-size="7.6" text-anchor="end" fill="#1a1a1a" class="b" >10</text>
<text x="192.89" y="262.6" font-size="7.6" text-anchor="middle" fill="#1a1a1a" class="b" >10</text>
<text x="149.7" y="193.07" font-size="7.6" text-anchor="end" fill="#1a1a1a" class="b" >15</text>
<text x="209.52" y="262.6" font-size="7.6" text-anchor="middle" fill="#1a1a1a" class="b" >15</text>
<text x="149.7" y="174.46" font-size="7.6" text-anchor="end" fill="#1a1a1a" class="b" >20</text>
<text x="226.16" y="262.6" font-size="7.6" text-anchor="middle" fill="#1a1a1a" class="b" >20</text>
<line x1="171.2" y1="168.8" x2="179.9" y2="174.03" stroke="#c8102e" stroke-width="2.6" />
<polygon points="183.5,176.2 178.56,176.26 181.24,171.81" fill="#c8102e"/>
<g transform="translate(153.6,269.5) scale(0.2)">
<g stroke-linecap="round" stroke-width="7.5" fill="none">
<path stroke="#0a4f8e" d="M206 179h0m33 16h0m-24 6h0m-76 90h0m-7 49h0"/>
<path stroke="#0d5d7a" d="M175 215h0m157 2h0m-155 6h0m10 1h0m33 3h0m-20 9h0m-60 11h0m99-6h0m14 2h0m60 0h0m-130 12h0m-18 0h0m46 3h0m-109 15h0m1 0h0m42 2h0m67 5h0m-78 31h0m48 1h0m-95 14h0m17 0h0m106 9h0m-56-4h0m-2 1h0m-4 5h0m-57 7h0"/>
<path stroke="#0f6c66" d="M226 174h0m-15 25h0m32 5h0m-63-4h0m-2 3h0m-25 2h0m29 4h0m6 4h0m8 9h0m-13-2h0m-27 2h0m39 5h0m12 10h0m-5-1h0m122 14h0m-201 10h0m7 5h0m47 22h0m22 4h0m-40 5h0m-7 5h0m-50 5h0m131 18h0m-132 28h0"/>
<path stroke="#0e7f54" d="M224 189h0m-33-4h0m-11-1h0m63 10h0m14 25h0m-47-1h0m-29 4h0m-56 26h0m195 20h0m-90 1h0m73 4h0m-105 12h0m-67 13h0m2 12h0m-31 17h0m71 4h0m163 9h0m-207 20h0"/>
<path stroke="#0b9543" d="M196 157h0m30 6h0m5 7h0m-31 2h0m-26 17h0m44 42h0m-21 11h0m-28 11h0m-12-4h0m-21 2h0m75 12h0m-51 14h0m0 3h0m-5 6h0m-5 1h0m-20 6h0m60-2h0m-53 11h0m-1 0h0m-51-3h0m19 10h0m31 2h0m220 1h0m-212 5h0m-22-3h0m-34 0h0m31 7h0m81 13h0m-123-3h0m88 18h0m-43-5h0m-11 12h0m6-3h0"/>
<path stroke="#08ab32" d="M182 139h0m14 25h0m21 3h0m4 9h0m18 15h0m-34 1h0m-14 8h0m-24 13h0m13-3h0m70 7h0m-72 3h0m53 9h0m23 0h0m-12 3h0m-63 0h0m-33 4h0m-10-2h0m-8 11h0m22-4h0m-4 11h0m-30 9h0m13-2h0m16 3h0m124 6h0m-72 1h0m-77-1h0m1 7h0m17 1h0m4-4h0m22 15h0m-37 3h0m213 9h0m-149 2h0m-31 2h0m-17 0h0m-31-3h0m-22 7h0m2-2h0m224 12h0m-73 0h0m-89-5h0m-63 7h0m22 2h0m15 2h0m1 3h0m4-3h0m5 2h0m16-2h0m-20 15h0m19 1h0m15 7h0m-37-1h0m-28 8h0m18 10h0"/>
<path stroke="#05c121" d="M252 111h0m11 42h0m-64 1h0m-8 3h0m17 6h0m8 10h0m-20 0h0m-5-4h0m-13 2h0m5 12h0m9-1h0m5-1h0m114 2h0m-129 6h0m-4-2h0m-3 2h0m139 16h0m-119 6h0m39 8h0m-55 3h0m-42 7h0m18 1h0m39 8h0m-2-3h0m-5 0h0m-14-1h0m37 11h0m5-3h0m22 9h0m-89 8h0m187 2h0m-76 6h0m-116-2h0m-26 0h0m-1 2h0m-12 11h0m43-6h0m21 18h0m80 7h0m-66 6h0m-11-1h0m-26 1h0m-7-3h0m-47 2h0m26 3h0m210 5h0m14 6h0m-162-4h0m-27 7h0m-64-4h0m-12-2h0m-5 10h0m40-1h0m4-1h0m1 0h0m44 0h0m24 1h0m61 0h0m-78 6h0m-2 6h0m-67 1h0m-25 0h0m10 7h0m6-1h0m29-2h0m27 6h0m-36 5h0m-20 3h0m22 7h0"/>
<path stroke="#03d70f" d="M184 125h0m67 16h0m-65 0h0m6 13h0m56 6h0m8 11h0m-71-3h0m44 21h0m-30-4h0m-5 8h0m34 0h0m-73 14h0m7 4h0m21 2h0m73 5h0m0 2h0m-30-2h0m-29-2h0m-39 0h0m0 2h0m-13 12h0m15-2h0m49-3h0m57 4h0m-85 3h0m-18 7h0m-12-7h0m-73 4h0m177 17h0m-87-5h0m-23 3h0m-5 12h0m187-2h0m-100 9h0m-58-3h0m-60 8h0m22 2h0m36 4h0m-61 11h0m210 5h0m-79-1h0m-138 3h0m-5 7h0m97-2h0m-41 10h0m-30 9h0m7 1h0m-24 4h0m12 15h0m17-5h0m-7 9h0m-29-2h0m-5 6h0m6 3h0"/>
<path stroke="#02eb00" d="M192 118h0m40-1h0m19-2h0m14 4h0m-80 7h0m53 4h0m9-2h0m-61 12h0m-1 0h0m83 10h0m-37 15h0m26 0h0m7 3h0m-38 2h0m-43 8h0m37 3h0m23 7h0m2 11h0m37 4h0m-57 3h0m-17-4h0m-34-1h0m-10 13h0m7-2h0m58 3h0m153 2h0m-59 3h0m-77 1h0m-55 0h0m-9-5h0m-124 15h0m167-3h0m25-3h0m60 0h0m-55 12h0m-49-1h0m-50-3h0m0-1h0m-12 6h0m-12-2h0m-87 9h0m96 2h0m6-3h0m109 3h0m-119 2h0m5 19h0m-25 5h0m2 5h0m59 2h0m-41 6h0m-5-6h0m-23 4h0m-3-2h0m-13 4h0m25 4h0m11-2h0m19 2h0m78 2h0m-95 10h0m-39-5h0m-7 9h0m37 0h0m9-2h0m10 5h0m27-1h0m11 10h0m-80-5h0m-19 13h0m12-6h0m24 1h0m176 10h0m-124 1h0m-3-4h0m-87 1h0m3 7h0m50 4h0m41 3h0m175-3h0m-258 17h0m5-4h0m30-1h0m8 3h0"/>
<path stroke="#19ef00" d="M239 105h0m-34 0h0m-19 11h0m15 7h0m53 14h0m-28 5h0m-2-6h0m24 11h0m2-2h0m-9 8h0m-62 10h0m14-3h0m24 2h0m18 1h0m19-1h0m-19 11h0m-42 1h0m-17-1h0m-12 6h0m2 0h0m-6 18h0m23 0h0m37-2h0m31-1h0m-106 10h0m36 8h0m43-3h0m-163 7h0m-7 11h0m1 0h0m6 10h0m5 5h0m188 2h0m124 10h0m-178-4h0m-76-1h0m-38 4h0m-20-4h0m92 21h0m-91-1h0m238 6h0m-139 8h0m-51 1h0m-27 11h0m24-5h0m20 3h0m57 5h0m-73 10h0m68 4h0m-28 3h0m-4-1h0m-29 2h0m18 5h0m96 8h0m-18 6h0m-58-7h0m-62 2h0m43 10h0m-47 15h0m22-2h0"/>
<path stroke="#30f200" d="M225 97h0m28 7h0m-31 3h0m20 15h0m0 5h0m21 13h0m-49 0h0m-19 11h0m42-7h0m17 8h0m-45 4h0m-30 2h0m-2 4h0m28 1h0m63 0h0m-52 7h0m29 7h0m-54 12h0m59 22h0m-122 5h0m2 11h0m22 2h0m-40 23h0m-46 0h0m-3 7h0m4 0h0m40 4h0m-27 14h0m15-3h0m48 7h0m54 14h0m-104 4h0m-21 11h0m98 0h0m-15 8h0m-9 27h0m-26 1h0"/>
<path stroke="#47f600" d="M228 95h0m-14 4h0m-3 6h0m4 15h0m-8 2h0m-27 7h0m64 1h0m-34 7h0m13 9h0m19 5h0m20 2h0m-35 6h0m-10 0h0m23 5h0m6 2h0m-23 6h0m-83 36h0m2 1h0m-28 27h0m-54 2h0m-11 0h0m2 7h0m9-2h0m5 2h0m13-5h0m32 8h0m-28 2h0m-4-2h0m-10 2h0m-6 2h0m-5 1h0m-9 9h0m51-6h0m-34 13h0m22 6h0m6 5h0m-18 5h0m7 4h0m-12 25h0m-13 3h0m92 9h0"/>
<path stroke="#5efa00" d="M194 101h0m29 8h0m-32-3h0m21 8h0m-16 13h0m24 2h0m-13 25h0m-39 13h0m4-5h0m42 3h0m19 0h0m-1 7h0m-22-4h0m-39 1h0m-9 11h0m-21 26h0m1 4h0m-71 13h0m-2 13h0m-13 3h0m-12-7h0m-1 0h0m30 15h0m41-6h0m-45 8h0m35 19h0m-14-2h0m-27-1h0m26 22h0m-17-1h0m-8 29h0"/>
<path stroke="#75fd00" d="M213 101h0m-18 7h0m-34 6h0m48 3h0m21 21h0m-16 5h0m7 14h0m-86 0h0m27 10h0m-4 5h0m-27 2h0m18 16h0m-27 22h0m-38 21h0m-7 8h0m30 3h0m-41 12h0m45 1h0m-18 8h0m-15 30h0m-12 15h0m8-4h0m-6 10h0"/>
<path stroke="#0a4f8e" d="M184 165h0m-26 80h0"/>
<path stroke="#0d5d7a" d="M188 151h0m0 6h0m16 10h0m13 10h0m28 12h0m-24 0h0m-6-2h0m-46-1h0m-3 10h0m-15 13h0m87 19h0m-49 37h0m-60 19h0m-4 11h0m13-3h0m114 8h0m-104-2h0m3 17h0m-11-1h0m-24 3h0m-43-3h0m57 10h0m27 7h0"/>
<path stroke="#0f6c66" d="M185 153h0m31 14h0m-2 13h0m7-1h0m-10 10h0m-26 5h0m-18 11h0m125 4h0m-130 17h0m-30 11h0m53 8h0m-72 14h0m14 9h0m8 4h0m40 7h0m-50 2h0m-13 5h0m-5-3h0m116 17h0m-65 1h0m-40 2h0m-34 0h0m73 1h0m105 2h0m-117 9h0m-7 0h0m-63 12h0m44-5h0m26 11h0m-40 16h0"/>
<path stroke="#0e7f54" d="M204 175h0m47 6h0m0 11h0m-96 15h0m21 24h0m12 2h0m-30 23h0m4 7h0m-1 3h0m72 13h0m-113 2h0m-6 1h0m-14 24h0m60 40h0m-65 2h0"/>
<path stroke="#0b9543" d="M183 128h0m-1 18h0m-7 33h0m-5 9h0m-4 9h0m12-1h0m65 9h0m-18 3h0m-51 15h0m91 11h0m-79 5h0m-47 13h0m-2 9h0m42 3h0m-17 1h0m-47 11h0m131-1h0m69-2h0m-82 20h0m6 27h0m-84 19h0m-19 12h0m3 8h0"/>
<path stroke="#08ab32" d="M257 120h0m-71 5h0m0 20h0m2 0h0m7 1h0m25 28h0m-1 0h0m-20-3h0m-11 0h0m4 8h0m50-3h0m-36 15h0m-35-5h0m51 6h0m-28 13h0m-6 2h0m-33 3h0m12 4h0m59-3h0m23 12h0m-53-2h0m-30-1h0m20 8h0m35 2h0m31-4h0m59 9h0m-127 1h0m-39 3h0m17 2h0m68 3h0m57 6h0m-149 5h0m-15 6h0m26 2h0m13-7h0m52 0h0m-82 15h0m-23 1h0m5 5h0m131 7h0m-104 1h0m-17-5h0m-4 3h0m-1 1h0m-15-4h0m-10 6h0m3 7h0m31 1h0m1-6h0m101 4h0m-63 6h0m-16 5h0m-9-2h0m-65 9h0m29-3h0m132 12h0m-55-7h0m-36 2h0m-35 4h0m-36-6h0m25 17h0m-9 2h0m-10 7h0m108 3h0m-99 7h0m-2-3h0"/>
<path stroke="#05c121" d="M184 124h0m75 18h0m-8 1h0m-14-2h0m-35 10h0m-9 27h0m-10 7h0m-8 13h0m71-4h0m13 13h0m-51-1h0m-15-1h0m-28 6h0m76 0h0m-33 11h0m-13-2h0m-15 0h0m-35-4h0m-3 6h0m41 5h0m2-1h0m30 2h0m-22 9h0m-35-1h0m-16 3h0m93 1h0m10 1h0m11 2h0m-117 18h0m7 1h0m100 5h0m-80-1h0m-33 12h0m176 5h0m-159 3h0m-4 1h0m-21 2h0m149 0h0m-171 9h0m-5 11h0m7 2h0m29-6h0m12 5h0m1-4h0m93 5h0m-156 3h0m0 2h0m25 9h0m0-2h0m12-1h0m0 0h0m29 4h0m18 3h0m-7 10h0m-19 5h0m-1 3h0m2 7h0m-37 8h0"/>
<path stroke="#03d70f" d="M230 111h0m-6 7h0m2-6h0m-42 16h0m7 6h0m55-6h0m21 8h0m-15 23h0m-39 9h0m-4 6h0m-13 1h0m-5-3h0m-12 5h0m63 1h0m-6 11h0m-45-4h0m-4-1h0m-29 14h0m53-3h0m5-3h0m5 0h0m30 0h0m60 8h0m-138 13h0m55 3h0m-59 2h0m-44 0h0m11 7h0m2 22h0m110-6h0m79 4h0m-192 6h0m-6 3h0m-73 1h0m180 4h0m5 2h0m-16 3h0m-6 2h0m-54 1h0m-9 4h0m-16-6h0m-42 13h0m191 8h0m-96 1h0m-88 3h0m113 5h0m96 8h0m-155-3h0m-26-1h0m-14 0h0m-44 10h0m3-4h0m21 3h0m4-1h0m15-1h0m27 0h0m86 1h0m-68 6h0m-94 10h0m2 1h0m46 2h0m22-5h0m-26 9h0m-16 1h0m-27 1h0m32 11h0m9-7h0m17 2h0m0 2h0m16 1h0m2 1h0m-2 8h0m-11 1h0m-34 9h0"/>
<path stroke="#02eb00" d="M221 119h0m18-5h0m12 12h0m-39-4h0m21 12h0m24-1h0m-69 3h0m-4 13h0m80 7h0m-82 6h0m8 0h0m3 0h0m28 1h0m31 10h0m-66-1h0m56 6h0m-5 8h0m-3 2h0m-7 3h0m0-6h0m-29 5h0m-9-1h0m-13 0h0m-8 5h0m27-2h0m130 15h0m-139-6h0m-42 10h0m84 12h0m-66-3h0m-21 1h0m-85 7h0m85 1h0m42 0h0m8-4h0m1 3h0m9-1h0m5-2h0m166 4h0m-312 4h0m147 20h0m-86-3h0m-40 1h0m56 7h0m20-2h0m7 3h0m169 11h0m-98-3h0m-67 4h0m-25 0h0m-4-7h0m-20 3h0m55 8h0m112 0h0m-46 8h0m-82 3h0m-39 1h0m-1-7h0m-17 11h0m3 4h0m15-4h0m14 1h0m-9 7h0m-2 7h0m11-1h0m7 4h0m8-5h0m8 2h0m70-2h0m22 7h0m-67 6h0m-27 1h0m-52-6h0m-19 12h0m6 0h0m16-4h0m11 2h0m28 3h0m143 0h0m-69 9h0m-49-6h0m-43 6h0m-34-4h0m0 0h0m77 12h0m17-4h0m-33 8h0m-29-1h0m-28-1h0m-17 3h0m80 5h0"/>
<path stroke="#19ef00" d="M182 114h0m1 4h0m7-2h0m21-2h0m23-1h0m1 4h0m21-2h0m2 3h0m1 15h0m5 3h0m-40 13h0m23-5h0m-29 21h0m3 0h0m8 2h0m17 6h0m-11-1h0m-20 2h0m-9 0h0m-10-5h0m-34 1h0m87 31h0m-57 2h0m-23-1h0m-14 6h0m15 5h0m17-1h0m27-2h0m-48 8h0m-94-1h0m-12 0h0m-11 14h0m12-4h0m81 4h0m41-7h0m7 0h0m60 15h0m-68-4h0m-128 1h0m-3 3h0m79 4h0m1-1h0m39 0h0m39 3h0m-137 17h0m28-3h0m57 6h0m-64 14h0m32 0h0m106 6h0m-65 5h0m57 10h0m-85 0h0m-21 3h0m-15-2h0m148 7h0m-103 7h0m-10-2h0m-15 2h0m-16-1h0m-2 3h0m-32-2h0m5 10h0m4 1h0m99 3h0m-28 3h0m-76 0h0m17 10h0m62-6h0m9 14h0m-42-2h0m-21-1h0m-11 7h0m37-1h0"/>
<path stroke="#30f200" d="M251 110h0m-15 1h0m-58 3h0m38 19h0m40-2h0m-45 10h0m-29 5h0m56 5h0m18 5h0m-46-1h0m-4 1h0m8 8h0m20 5h0m-5 14h0m25-6h0m-100 8h0m-25 27h0m66-1h0m12 7h0m-17-2h0m-55 3h0m-8 0h0m-6 2h0m-42 16h0m-17-2h0m8 5h0m47 11h0m-7-3h0m-45 9h0m12 4h0m15 1h0m67 2h0m-53 7h0m-53-5h0m79 12h0m76 1h0m-57 1h0m-48 4h0m128 4h0m-105 15h0m-36 0h0m-20-1h0m45 5h0m10 10h0m101 13h0m-12 3h0m-104 8h0m10 5h0"/>
<path stroke="#47f600" d="M237 104h0m-27 0h0m-10 13h0m2-1h0m10 1h0m3-1h0m10 1h0m-29 8h0m-2-3h0m50 17h0m-20-1h0m-9 9h0m19 7h0m-65 4h0m-3 3h0m41 7h0m-34 4h0m67 6h0m-102 21h0m3-1h0m-7 14h0m-59 6h0m-3 4h0m-16-1h0m-8 10h0m72-7h0m123 13h0m-122-4h0m-53 10h0m3-1h0m34 7h0m-26 0h0m-9 5h0m-15 1h0m-4 8h0m17 0h0m23 14h0m2-4h0m38-1h0m-37 10h0m-26 13h0m0-6h0m20 2h0m-19 19h0m58 30h0"/>
<path stroke="#5efa00" d="M239 102h0m5 7h0m-42-3h0m-36 13h0m40 9h0m8 4h0m3 8h0m-7 8h0m13 3h0m-21 14h0m50-1h0m-11 7h0m-1 4h0m-6-1h0m-12-2h0m-18-1h0m-52 9h0m2 0h0m82 0h0m-121 6h0m31 9h0m-7 13h0m-70 8h0m-13 4h0m69 17h0m-76-1h0m56 6h0m-29 9h0m22 17h0m-35-1h0m29 12h0m-29 19h0"/>
<path stroke="#75fd00" d="M167 118h0m8 12h0m32 6h0m-29 5h0m-25 3h0m28 4h0m37 19h0m12 2h0m-4 0h0m-11 4h0m-50-5h0m-8 6h0m13 5h0m-4 6h0m-23 8h0m-9 11h0m-19 27h0m13-3h0m-22 7h0m2 8h0m3 2h0m1 9h0m-9 1h0m-3-6h0m-3 12h0m-7 5h0m0 13h0m-12 16h0m-16 14h0m9 1h0"/>
<path stroke="#0841a3" d="M249 200h0"/>
<path stroke="#0a4f8e" d="M165 220h0m-54 91h0"/>
<path stroke="#0d5d7a" d="M193 173h0m-3 11h0m43 16h0m-41 5h0m89 9h0m-134 9h0m91 7h0m29 12h0m-22 29h0m-122-7h0m78 17h0m-67 19h0m126 16h0m-139 3h0m-1 6h0"/>
<path stroke="#0f6c66" d="M196 119h0m-8 3h0m31 53h0m-23 5h0m40-1h0m89 10h0m-108 16h0m28 14h0m-37 0h0m-61 1h0m28 9h0m-8 7h0m-36 3h0m-7 5h0m180-1h0m-188 11h0m35 6h0m80-3h0m38 1h0m-108 10h0m-12-3h0m-45 13h0m1 0h0m28 1h0m22 0h0m178 0h0m-211 16h0m239-1h0m-116 4h0m-137 9h0m10 0h0m21 1h0m192 5h0m-210 7h0m13 3h0m7 0h0m52 2h0m16 18h0"/>
<path stroke="#0e7f54" d="M192 140h0m3 21h0m-21 22h0m55 8h0m-77 21h0m76 2h0m-26 15h0m44 7h0m-36-4h0m-87 18h0m169 18h0m-126 15h0m-52 26h0m15 26h0m17 7h0m12-1h0m-50 10h0m-24-5h0"/>
<path stroke="#0b9543" d="M194 156h0m-8-2h0m-14 29h0m6-7h0m49 13h0m-32 6h0m46 2h0m-85 16h0m16-5h0m1 4h0m14-3h0m17 1h0m38-1h0m-41 10h0m-17 2h0m-20 5h0m61 12h0m-81-6h0m-19 21h0m2 24h0m-7 27h0m110 2h0m-80 11h0m-51 8h0m7-4h0m41 5h0m93-5h0m20 4h0m-41 8h0m-104-4h0m47 19h0m-6 5h0"/>
<path stroke="#08ab32" d="M244 99h0m-52 11h0m-7 16h0m-3 0h0m87 14h0m-78-3h0m23 22h0m-20-1h0m-7 5h0m3 3h0m7-5h0m55 6h0m-52 7h0m-24 9h0m1-6h0m19-1h0m46 5h0m-3 5h0m-5-1h0m-9 9h0m-31 8h0m-47 10h0m42 1h0m2 0h0m11 1h0m30 8h0m-3 0h0m-20-3h0m-23 2h0m-41-5h0m35 11h0m50 6h0m-25 0h0m43 9h0m-74 6h0m-15 5h0m-17-3h0m-8 6h0m11 6h0m10-3h0m16 3h0m1 0h0m-5 8h0m-58-4h0m-4 9h0m42 2h0m25-1h0m-1 5h0m-4 5h0m-25-6h0m-14 2h0m-6-1h0m-32 10h0m40 2h0m4 1h0m95 1h0m-70 4h0m-6-2h0m-58-1h0m16 15h0m34-6h0m2 0h0m88 9h0m-89 1h0m-8 0h0m-10-3h0m-41 2h0m-21 10h0m63-1h0m58 1h0m14 8h0m-79-1h0m-29 11h0m40 0h0m163-4h0m-137 6h0m-15 1h0m-20 6h0m-10 1h0m11 2h0"/>
<path stroke="#05c121" d="M241 98h0m5 9h0m-62 4h0m60 11h0m-61 18h0m-1-1h0m0 8h0m60 0h0m-46 18h0m67 2h0m-32 5h0m-54 1h0m68 5h0m5-2h0m-47 8h0m-7 0h0m-22 4h0m-1 1h0m21 7h0m-9 18h0m35 4h0m-54 10h0m79 1h0m-2 10h0m-80-4h0m1 5h0m-26 13h0m98 6h0m-84 9h0m-43 11h0m18-7h0m13 3h0m49-3h0m15 5h0m5 7h0m-33 0h0m-47-4h0m-21 2h0m-6 1h0m-4 0h0m132 12h0m-62 8h0m-19-5h0m-29 0h0m-12-2h0m-10 6h0m-21 3h0m10 1h0m51-1h0m34 1h0m30 11h0m-31-4h0m-77 8h0m119 0h0m-101 14h0m-8-4h0m19 6h0m10 3h0m19 3h0m7 10h0"/>
<path stroke="#03d70f" d="M199 120h0m44 20h0m-53-4h0m-7 13h0m1-2h0m73 15h0m-3 11h0m-39-4h0m15 13h0m-27 11h0m-46 12h0m86 6h0m-189 10h0m173 17h0m-12-4h0m-47 2h0m58 4h0m24 4h0m-108 5h0m-5 2h0m-2 2h0m-2 10h0m13-2h0m34 2h0m-69 14h0m13 0h0m189 8h0m-164-1h0m-32-4h0m-8 7h0m-4-3h0m-1 2h0m17 4h0m24 3h0m19-2h0m4 0h0m138 10h0m-123-3h0m-75 3h0m-31 5h0m32 3h0m14 2h0m6-5h0m39-1h0m41 1h0m12 13h0m-103-5h0m-3 0h0m-42 0h0m-2 6h0m148 13h0m-57-2h0m-57 3h0m19 2h0m21 0h0m7 2h0m19 0h0m5 2h0m33 2h0m85-5h0m-132 10h0m-54 2h0m44 5h0"/>
<path stroke="#02eb00" d="M234 102h0m-8 14h0m3 1h0m-4 11h0m29 13h0m-11 1h0m-11 1h0m-40 3h0m21 13h0m-22-5h0m13 10h0m34 1h0m26 0h0m-15 3h0m-23 3h0m0 2h0m-16-4h0m-21 1h0m44 10h0m-55 15h0m41-1h0m-31 7h0m-42 13h0m32-4h0m45-2h0m112 12h0m-59-2h0m-46 2h0m-39 2h0m-15 6h0m66 9h0m-129-3h0m-48 6h0m88 6h0m6-2h0m4 1h0m37-1h0m117 5h0m-56 0h0m-5 2h0m-23 4h0m-68-3h0m-15-3h0m-11-1h0m-14 3h0m-66-3h0m196 11h0m-83 6h0m-7 6h0m-58-4h0m32 6h0m19 3h0m4 0h0m8 3h0m193 4h0m-164 4h0m-58-2h0m-28-4h0m-13 7h0m2 0h0m209 15h0m-228 1h0m75 2h0m61 2h0m-78 8h0m-40-1h0m-27 10h0m83-1h0m82-3h0m-156 13h0m45 4h0m14 10h0m-4-4h0m-13 3h0m-12 8h0m3-3h0m9 2h0"/>
<path stroke="#19ef00" d="M254 107h0m-50 1h0m-6 3h0m46 4h0m-52 12h0m-6-1h0m69 10h0m-11 13h0m14 4h0m-4 3h0m-58 3h0m-9-7h0m-4 11h0m11 0h0m8-2h0m29 2h0m14 0h0m-74 19h0m22-2h0m50-2h0m68 11h0m-74 17h0m-63-2h0m-17-1h0m95 18h0m-98-1h0m-97 4h0m3 13h0m12 8h0m5-4h0m2-1h0m180 5h0m-6 9h0m-136 1h0m25 3h0m175 10h0m-157 18h0m-16-2h0m-3-4h0m6 9h0m42 0h0m-117 11h0m58 5h0m9 0h0m98 4h0m-64 3h0m-12 1h0m-9 0h0m-48 0h0m-27 0h0m-9 7h0m73 1h0m16 9h0m-2 2h0m-81 6h0m71 1h0m8 3h0m16-1h0m-34 8h0m-18-3h0m9 9h0m6-1h0"/>
<path stroke="#30f200" d="M238 104h0m-12 7h0m-49 1h0m51 6h0m-49 13h0m68 3h0m0 4h0m-30 8h0m-16 24h0m-34 5h0m76 2h0m-104 26h0m-76 12h0m84 6h0m-88-1h0m-2-3h0m8 14h0m7-1h0m7-1h0m85 8h0m-94-5h0m-3 2h0m-15 6h0m28 9h0m-22 11h0m3 0h0m18-2h0m56 1h0m240 3h0m-252 14h0m-56 36h0m46 10h0m33 4h0m-33 30h0"/>
<path stroke="#47f600" d="M240 110h0m-28 6h0m28 6h0m3 7h0m-28 24h0m-45 14h0m8-2h0m52 0h0m16-1h0m13-2h0m-110 21h0m2 2h0m-10 8h0m12 4h0m1 3h0m-24 11h0m1 9h0m-65 8h0m67 1h0m-70 9h0m4 2h0m9 1h0m-1 8h0m-18 7h0m37 9h0m-22-1h0m28 11h0m50 17h0m-82 7h0m6 5h0"/>
<path stroke="#5efa00" d="M209 110h0m20 16h0m-24-6h0m-73 3h0m43 11h0m34 1h0m29-7h0m17 25h0m-90 7h0m42 3h0m23-3h0m27 15h0m-54-5h0m-47 4h0m-3 9h0m3-1h0m-7 17h0m-9 6h0m-96 34h0m29 1h0m29 7h0m-31 5h0m-3-4h0m-2 12h0m16 2h0m21 8h0m-8 8h0m-5 8h0m-25 13h0m10 6h0"/>
<path stroke="#75fd00" d="M209 101h0m18 7h0m-1 11h0m9 5h0m-13 19h0m45 16h0m-62 8h0m2-7h0m3 7h0m10-3h0m-8 11h0m-40 0h0m-15 20h0m-10 14h0m-16 12h0m-83 6h0m75 4h0m-42 1h0m-4 17h0m20 11h0m4 11h0m-11 0h0m-9 8h0"/>
<path stroke="#8aff00" d="M175 111h0m4 10h0m29 19h0m12 13h0m-17 3h0m-30 6h0m-77 11h0m64 4h0m-7 13h0m-51-5h0m36 15h0m-4 10h0m-11 7h0m-28 5h0m-8 4h0m29 1h0m10 0h0m-41 20h0m31 1h0m-1 6h0m-31 8h0m-14 41h0m2 4h0"/>
<path stroke="#9eff00" d="M208 101h0m-8 6h0m-31 13h0m-40 13h0m15-3h0m73 0h0m-61 10h0m-59 5h0m79 8h0m-34 51h0m-29 1h0m-1 16h0m-12 13h0m-2-2h0m-16 12h0m27-1h0m-23 10h0m-17 54h0"/>
<path stroke="#b2ff00" d="M154 114h0m3-1h0m42-1h0m-36 15h0m-15-5h0m-1 4h0m-1 4h0m23 0h0m-20 13h0m-21 1h0m33 0h0m9 7h0m-36 4h0m-1 0h0m-29 11h0m56-4h0m-13 8h0m-18 5h0m-33 24h0m23-6h0m5 6h0m3 11h0m4 2h0m-17 7h0m-5-2h0m-6 10h0m17-1h0m-31 23h0"/>
<path stroke="#c5ff00" d="M184 87h0m-29 28h0m-8 14h0m-2 14h0m-25-6h0m5 9h0m6 3h0m33 9h0m-17 1h0m7 4h0m8 1h0m-68 15h0m17 1h0m7 2h0m22 9h0m-7-7h0m-21 1h0m-4 5h0m9 12h0m-31-1h0m32 15h0m-37 14h0m15 1h0m3 8h0m-15 5h0m1 9h0m3 3h0"/>
<path stroke="#d9ff00" d="M168 79h0m6 32h0m-22 5h0m5 5h0m-28 5h0m38 6h0m-43 6h0m28 9h0m6 2h0m14-3h0m-12 8h0m-1-1h0m-3 5h0m-4 0h0m-15-6h0m-20 14h0m22-4h0m4 9h0m-40 2h0m11 6h0m26 8h0m-4 7h0m-26 9h0m2 12h0m9-1h0m-13 9h0m-22-1h0m26 6h0m-23 8h0m4 16h0m-7 14h0"/>
<path stroke="#edff00" d="M175 67h0m-15 16h0m-2 15h0m9-2h0m-10 15h0m-20 8h0m46 0h0m-30 6h0m-66 4h0m38 0h0m30 2h0m18 1h0m-7 5h0m-12 6h0m-5-5h0m-50 2h0m67 5h0m-5 11h0m-2-3h0m-48 11h0m50-2h0m-28 28h0m-37-1h0m28 4h0m-15 9h0m-19 3h0m11 6h0m5-2h0m11 11h0m-11 3h0m3 9h0m-10 2h0"/>
<path stroke="#fffd00" d="M194 61h0m-39 14h0m46 10h0m-22 4h0m-1 10h0m14 7h0m-74 8h0m24 0h0m42 6h0m-24 2h0m-12 13h0m-67 5h0m38 10h0m19-1h0m-36 14h0m7 5h0m-9 12h0m5 35h0m-9 15h0m4 6h0m-9 0h0"/>
<path stroke="#ffed00" d="M177 37h0m24 10h0m-16-2h0m-6 15h0m10 4h0m13 6h0m-18 15h0m6 1h0m-79 12h0m66 13h0m-25-3h0m-38 4h0m37 2h0m36 0h0m4 13h0m-92-7h0m5 11h0m23 3h0m1-5h0m5 6h0m23 8h0m-41-7h0m-26 5h0m-7-1h0m15 10h0m67-1h0m-67 8h0m-4-4h0m10 17h0m-4 45h0m-13 22h0"/>
<path stroke="#ffdd00" d="M203 42h0m-6 10h0m8-2h0m-26 7h0m5 7h0m4 14h0m-29-1h0m25 4h0m-11 13h0m-15-5h0m13 11h0m6-3h0m7 6h0m-64 1h0m-20 4h0m22 9h0m38-3h0m28 13h0m-99-1h0m20 3h0m18 1h0m-14 10h0m-7-3h0m-14 6h0m11 34h0m4-1h0m-10 50h0m-11 17h0"/>
<path stroke="#ffcd00" d="M174 30h0m-2 2h0m19 17h0m13 0h0m-5 17h0m0 1h0m-5 21h0m-1 10h0m-96 12h0m74 16h0m-37-6h0m-13 2h0m-43 10h0m23 9h0"/>
<path stroke="#ffbd00" d="M196 46h0m-18-5h0m7 20h0m-19 0h0m31 16h0m-2 14h0m-89 35h0"/>
<path stroke="#ffad00" d="M189 36h0m3 2h0m12 19h0m0-1h0m-11 17h0m-28-1h0m8 10h0m-72 19h0m-17 17h0m3 38h0"/>
<path stroke="#ff9900" d="M191 20h0m-4 11h0m-16 4h0m9 4h0m7 1h0m-18 15h0m4-1h0m4-3h0m18 1h0m-24 21h0m-61 19h0m8 19h0m-16-1h0m-13 15h0"/>
<path stroke="#ff8100" d="M194 38h0m-17 4h0m-15 11h0m14 2h0m18 7h0m-3 7h0"/>
<path stroke="#ff6800" d="M197 21h0m1 39h0"/>
<path stroke="#ff5000" d="M190 38h0"/>
<path stroke="#8aff00" d="M218 95h0m-19 4h0m-30 27h0m2 21h0m43 7h0m-102 13h0m98-7h0m21 5h0m-136 12h0m36 3h0m28-3h0m6 5h0m-7 12h0m-7 8h0m-37 35h0m-36 14h0m28 7h0m3 2h0m-49 58h0"/>
<path stroke="#9eff00" d="M211 111h0m-38 14h0m-43 4h0m24 29h0m-6 1h0m-32-5h0m29 12h0m26 0h0m-71 6h0m48 8h0m9 1h0m-20 10h0m-27-6h0m-5 4h0m-4-3h0m16 21h0m-6-2h0m-23 5h0m31-1h0m-10 15h0m-10 14h0m-16-4h0m35 15h0m-12 4h0m-15 0h0m-2 7h0m14-3h0m-16 31h0m-19 25h0"/>
<path stroke="#b2ff00" d="M136 115h0m48 2h0m14 18h0m-46 3h0m-21 13h0m17-2h0m-52 14h0m40-1h0m12 3h0m11-5h0m19 0h0m35 12h0m-99-2h0m-3-1h0m-9 5h0m-4-4h0m13 13h0m25-4h0m7 6h0m-31 6h0m-21 8h0m1-7h0m11 3h0m3 1h0m4-3h0m37 6h0m-53 35h0"/>
<path stroke="#c5ff00" d="M180 104h0m-1 7h0m-26 8h0m40 8h0m-70 3h0m11 5h0m28-3h0m1 2h0m10 9h0m-3-7h0m-13 7h0m-7-5h0m-24-2h0m19 12h0m3-1h0m-26 11h0m4 9h0m7 0h0m16-4h0m26 9h0m-18-3h0m-4 0h0m-28-1h0m-16 6h0m12 8h0m20 9h0m-4-4h0m-9-2h0m-6 4h0m-3-3h0m-9-1h0m9 11h0m8 7h0m-7 1h0m-31 17h0m24 4h0m3 1h0m-21 11h0m0-2h0m-2 31h0"/>
<path stroke="#d9ff00" d="M163 95h0m3 15h0m27 14h0m-24 1h0m-6 2h0m-4-6h0m-2 5h0m-31 3h0m30-1h0m9 3h0m-59 7h0m20 6h0m16 6h0m1-1h0m20-3h0m7-2h0m-39 14h0m-9 0h0m-9 9h0m16 0h0m24-3h0m-2 8h0m-11 0h0m-24-3h0m-9 10h0m7-1h0m15 9h0m-23 4h0m-6 4h0m20-1h0m-26 10h0m9 15h0m9 8h0m1-2h0"/>
<path stroke="#edff00" d="M184 64h0m12 20h0m-16 19h0m-11 2h0m-9 13h0m1-5h0m11 16h0m-54 9h0m-19 3h0m23 10h0m11-3h0m3-4h0m22 13h0m-39-4h0m21 10h0m10 7h0m-10 3h0m-41-5h0m-9 7h0m14 3h0m43 4h0m-13 16h0m-35 6h0m8 18h0m-1-3h0m-19 36h0"/>
<path stroke="#fffd00" d="M198 79h0m-9 11h0m-2 3h0m-25-4h0m1 11h0m8 2h0m-41 11h0m45 11h0m-11-4h0m-7 0h0m-56 15h0m42 3h0m-6 5h0m-15-2h0m-23 2h0m2 7h0m63 0h0m-49 3h0m-2 2h0m-28 8h0m11 1h0m31-4h0m-40 9h0m11 13h0m44-2h0"/>
<path stroke="#ffed00" d="M210 50h0m-12 22h0m-30 2h0m-9 1h0m20 16h0m-7-1h0m-8 2h0m12 10h0m11-1h0m-30 8h0m-30-4h0m-3 12h0m63-2h0m2 6h0m-25 3h0m-11 2h0m-24-4h0m0 1h0m-27 1h0m77 8h0m7 2h0m-73 13h0m59 0h0m-47 6h0m0 0h0m10 16h0m-35 7h0m16 8h0m-8 0h0"/>
<path stroke="#ffdd00" d="M197 21h0m-28 14h0m15 23h0m-17 7h0m33-1h0m2 13h0m-17-3h0m-11 0h0m-13-1h0m2 13h0m8-1h0m-12 23h0m-60 5h0m3 4h0m9 3h0m-4 2h0m-18 10h0m-1 17h0m21 32h0m32 4h0m-40 56h0"/>
<path stroke="#ffcd00" d="M187 55h0m17-1h0m-21 2h0m-15 13h0m1 0h0m24-1h0m-10 6h0m-3-2h0m-11 3h0m-5-2h0m19 29h0m18 1h0m-89 4h0m0 5h0m2 1h0m6 5h0m5-2h0m4 2h0m51-3h0m-98 19h0m14 3h0m43 13h0m-22 9h0"/>
<path stroke="#ffbd00" d="M181 34h0m0 3h0m10 2h0m-25 1h0m24 10h0m-25 13h0m-1 7h0m41-3h0m0 6h0m-47 8h0m-49 21h0m11-2h0m65 10h0m-92 2h0m0 7h0m-10 30h0"/>
<path stroke="#ffad00" d="M197 43h0m-25 9h0m3 6h0m-4-1h0m-8 11h0m38 0h0m-111 32h0m-2 13h0m-1 30h0"/>
<path stroke="#ff9900" d="M205 32h0m-9 29h0m-20-4h0m-9 4h0m13 18h0m-73 28h0m-2 1h0m-21 25h0"/>
<path stroke="#ff8100" d="M188 25h0m-21 14h0m10-6h0m-2 9h0m30 12h0m-30 5h0m-94 56h0"/>
<path stroke="#ff6800" d="M194 21h0m-9 34h0"/>
<path stroke="#ff5000" d="M189 33h0m-6 18h0"/>
<path stroke="#ff0700" d="M188 32h0"/>
<path stroke="#8aff00" d="M178 124h0m-12 39h0m-54 10h0m25 4h0m29 0h0m0 0h0m-23 8h0m-47 24h0m35 1h0m5 10h0m-17-3h0m-5 3h0m-6 5h0m22 7h0m-10 0h0m-17 7h0m10 8h0m-69 6h0m56 15h0m-32 23h0m10 12h0m-13 13h0m-9-1h0"/>
<path stroke="#9eff00" d="M168 115h0m-13 10h0m-1-4h0m25 27h0m23 3h0m-51 8h0m-42 8h0m20-2h0m37-1h0m-15 8h0m-23 10h0m38-6h0m-33 15h0m-16-5h0m18 19h0m-7-5h0m-8 23h0m-31 17h0m8 15h0"/>
<path stroke="#b2ff00" d="M163 78h0m-4 31h0m-30 24h0m27-4h0m1 2h0m-1 19h0m4 4h0m-24-2h0m-9 5h0m-1 1h0m-28 4h0m57 4h0m6-5h0m-27 12h0m-4-2h0m-1-3h0m-33 10h0m46 6h0m-23 1h0m-24 0h0m-8 9h0m71 2h0m-69 10h0m-5 41h0m9-2h0m-15 46h0"/>
<path stroke="#c5ff00" d="M160 116h0m16-1h0m19-3h0m4 14h0m-36-2h0m-13 0h0m-9-3h0m-11 4h0m42 6h0m27-1h0m-43 8h0m-10-1h0m-35 12h0m6 0h0m4-5h0m51 8h0m-31 5h0m-7 14h0m-46-1h0m1 7h0m6 2h0m17 1h0m53-4h0m-29 15h0m-25-2h0m-9 8h0m11 0h0m4-1h0m1-4h0m13 3h0m-39 15h0m33 7h0m-29 1h0m-10-2h0m6 26h0m-15 18h0m-15 42h0"/>
<path stroke="#d9ff00" d="M184 81h0m-2 27h0m-23-4h0m-16 8h0m9 6h0m14-2h0m5 0h0m2 9h0m-11 1h0m-54 8h0m26-2h0m47-3h0m-75 13h0m-9 3h0m0 4h0m4-3h0m48 4h0m16 2h0m-29 6h0m-18-3h0m-5 4h0m-22-1h0m8 8h0m63-6h0m-13 15h0m-35-2h0m26 13h0m-43 3h0m-14 6h0m39 7h0m-11 2h0m-1 3h0m15 2h0m-38 14h0m7 8h0m-4 22h0"/>
<path stroke="#edff00" d="M192 78h0m-37 20h0m3 5h0m29 7h0m-33 5h0m29 0h0m-12 10h0m-2 1h0m-8 0h0m-10-4h0m-23 3h0m2 3h0m28 2h0m7-2h0m1 0h0m0 6h0m-23 2h0m-45 4h0m-3-3h0m0 10h0m29 0h0m19 1h0m19-2h0m-11 9h0m-38 0h0m-2 3h0m-2 7h0m2 2h0m6-5h0m40 1h0m15 9h0m-74 8h0m21 11h0m0-4h0m-6 12h0m8 5h0m-11 12h0m-10 13h0m0 1h0m6-6h0m-19 8h0"/>
<path stroke="#fffd00" d="M165 65h0m7 18h0m2 5h0m0 9h0m18 8h0m-28-1h0m2 11h0m21 0h0m-100 20h0m54 8h0m-42 1h0m48 5h0m9 9h0m-25-5h0m-2 2h0m-44 1h0m41 4h0m19 3h0m15 3h0m-15 3h0m-16 5h0m4 13h0m-14 32h0m-23 1h0m16 4h0m-24 12h0"/>
<path stroke="#ffed00" d="M194 36h0m-29 31h0m30 3h0m-1 17h0m-14 1h0m-8 0h0m-12 17h0m7 11h0m6 2h0m0 5h0m-74 7h0m9 20h0m10-6h0m10 3h0m21-3h0m-23 46h0m-24 14h0m-14 15h0m8 25h0"/>
<path stroke="#ffdd00" d="M203 57h0m-3 1h0m-11 23h0m-10 10h0m-92 17h0m39 11h0m40 0h0m-36 7h0m-16 9h0m57 3h0m-55-2h0m-2 5h0m-1 1h0m-11-4h0m-20 18h0m17 4h0m30 14h0m-48 66h0"/>
<path stroke="#ffcd00" d="M208 63h0m-43 7h0m12-6h0m12 2h0m4 11h0m-32 5h0m10 5h0m5 0h0m20 7h0m-17 1h0m-9 4h0m-69 18h0m-18 3h0m2 11h0m19-2h0m-5 13h0m71 10h0"/>
<path stroke="#ffbd00" d="M190 39h0m-23 6h0m2 5h0m8 8h0m-2 2h0m-5 0h0m-79 69h0"/>
<path stroke="#ffad00" d="M187 38h0m13 2h0m-27 6h0m11 11h0m-11 10h0m5-3h0m-18 12h0m-48 27h0m72-6h0m-29 7h0m-68 28h0"/>
<path stroke="#ff9900" d="M180 32h0m7 6h0m17 0h0m-9 4h0m-28 12h0m35 11h0m-9 21h0m-106 57h0"/>
<path stroke="#ff8100" d="M194 34h0m-2 45h0m-109 35h0m17 4h0"/>
<path stroke="#ff6800" d="M176 52h0"/>
<path stroke="#ff5000" d="M160 66h0"/>
<path stroke="#ff3800" d="M86 109h0"/>
</g>
</g>
<polygon points="188.6,271.14 197.41,272.48 200.17,276.65 194.95,287.55 191.89,291.5 182.71,298.75 182.14,293.4 182.78,280.59" fill="none" stroke="#555" stroke-width="0.8" stroke-linejoin="round"/>
<polygon points="169.3,285.28 180.31,286.51 181.54,288.85 181.31,298.79 172.6,306.91 165.41,305.49 164.74,302.63 165.41,289.6" fill="none" stroke="#555" stroke-width="0.8" stroke-linejoin="round"/>
<polygon points="194.72,286.84 200.17,286.36 208.46,289.52 210.99,298.72 203.83,303.67 193.75,300.91" fill="none" stroke="#555" stroke-width="0.8" stroke-linejoin="round"/>
<polygon points="212.82,299.91 232.04,301.7 232.68,307.65 235.2,332.7 223.53,345.02 199.71,340.03 198.34,334.97 195.12,323.13 207.03,307.65" fill="none" stroke="#555" stroke-width="0.8" stroke-linejoin="round"/>
<polygon points="162.95,311.45 167.54,310.07 171.66,311.89 170.33,322.8 164.38,326.04 160.72,320.12 160.95,314.57" fill="none" stroke="#555" stroke-width="0.8" stroke-linejoin="round"/>
<polyline points="164.38,326.04 163.88,334.67 173.49,344.24 194.15,337.91 198.34,334.97" fill="none" stroke="#555" stroke-width="0.8" stroke-linejoin="round"/>
<polyline points="175.79,341.56 170.33,323.28 172.06,313.72 175.32,303.67" fill="none" stroke="#111" stroke-width="0.9" stroke-linejoin="round"/>
<polyline points="172.6,306.91 181.54,299.28 194.95,287.55" fill="none" stroke="#111" stroke-width="0.9" stroke-linejoin="round"/>
<polyline points="191.29,292.46 192.56,299.72 193.75,300.91" fill="none" stroke="#111" stroke-width="0.9" stroke-linejoin="round"/>
<polyline points="175.32,303.67 188.6,314.57 195.12,323.13 198.34,334.97" fill="none" stroke="#111" stroke-width="0.9" stroke-linejoin="round"/>
<polyline points="188.6,314.57 193.19,303.67 193.75,300.91" fill="none" stroke="#111" stroke-width="0.9" stroke-linejoin="round"/>
<polyline points="195.12,323.13 207.03,307.65" fill="none" stroke="#111" stroke-width="0.9" stroke-linejoin="round"/>
<rect x="153.6" y="269.5" width="84" height="83" fill="none" stroke="#111" stroke-width="1.1"/>
<line x1="152.4" y1="349.52" x2="153.6" y2="349.52" stroke="#111" stroke-width="0.8" />
<line x1="151.2" y1="345.8" x2="153.6" y2="345.8" stroke="#111" stroke-width="0.8" />
<line x1="152.4" y1="342.08" x2="153.6" y2="342.08" stroke="#111" stroke-width="0.8" />
<line x1="152.4" y1="338.36" x2="153.6" y2="338.36" stroke="#111" stroke-width="0.8" />
<line x1="152.4" y1="334.63" x2="153.6" y2="334.63" stroke="#111" stroke-width="0.8" />
<line x1="152.4" y1="330.91" x2="153.6" y2="330.91" stroke="#111" stroke-width="0.8" />
<line x1="151.2" y1="327.19" x2="153.6" y2="327.19" stroke="#111" stroke-width="0.8" />
<line x1="152.4" y1="323.47" x2="153.6" y2="323.47" stroke="#111" stroke-width="0.8" />
<line x1="152.4" y1="319.75" x2="153.6" y2="319.75" stroke="#111" stroke-width="0.8" />
<line x1="152.4" y1="316.02" x2="153.6" y2="316.02" stroke="#111" stroke-width="0.8" />
<line x1="152.4" y1="312.3" x2="153.6" y2="312.3" stroke="#111" stroke-width="0.8" />
<line x1="151.2" y1="308.58" x2="153.6" y2="308.58" stroke="#111" stroke-width="0.8" />
<line x1="152.4" y1="304.86" x2="153.6" y2="304.86" stroke="#111" stroke-width="0.8" />
<line x1="152.4" y1="301.14" x2="153.6" y2="301.14" stroke="#111" stroke-width="0.8" />
<line x1="152.4" y1="297.41" x2="153.6" y2="297.41" stroke="#111" stroke-width="0.8" />
<line x1="152.4" y1="293.69" x2="153.6" y2="293.69" stroke="#111" stroke-width="0.8" />
<line x1="151.2" y1="289.97" x2="153.6" y2="289.97" stroke="#111" stroke-width="0.8" />
<line x1="152.4" y1="286.25" x2="153.6" y2="286.25" stroke="#111" stroke-width="0.8" />
<line x1="152.4" y1="282.53" x2="153.6" y2="282.53" stroke="#111" stroke-width="0.8" />
<line x1="152.4" y1="278.8" x2="153.6" y2="278.8" stroke="#111" stroke-width="0.8" />
<line x1="152.4" y1="275.08" x2="153.6" y2="275.08" stroke="#111" stroke-width="0.8" />
<line x1="151.2" y1="271.36" x2="153.6" y2="271.36" stroke="#111" stroke-width="0.8" />
<line x1="156.59" y1="352.5" x2="156.59" y2="353.7" stroke="#111" stroke-width="0.8" />
<line x1="159.92" y1="352.5" x2="159.92" y2="354.9" stroke="#111" stroke-width="0.8" />
<line x1="163.25" y1="352.5" x2="163.25" y2="353.7" stroke="#111" stroke-width="0.8" />
<line x1="166.57" y1="352.5" x2="166.57" y2="353.7" stroke="#111" stroke-width="0.8" />
<line x1="169.9" y1="352.5" x2="169.9" y2="353.7" stroke="#111" stroke-width="0.8" />
<line x1="173.23" y1="352.5" x2="173.23" y2="353.7" stroke="#111" stroke-width="0.8" />
<line x1="176.55" y1="352.5" x2="176.55" y2="354.9" stroke="#111" stroke-width="0.8" />
<line x1="179.88" y1="352.5" x2="179.88" y2="353.7" stroke="#111" stroke-width="0.8" />
<line x1="183.21" y1="352.5" x2="183.21" y2="353.7" stroke="#111" stroke-width="0.8" />
<line x1="186.53" y1="352.5" x2="186.53" y2="353.7" stroke="#111" stroke-width="0.8" />
<line x1="189.86" y1="352.5" x2="189.86" y2="353.7" stroke="#111" stroke-width="0.8" />
<line x1="193.19" y1="352.5" x2="193.19" y2="354.9" stroke="#111" stroke-width="0.8" />
<line x1="196.51" y1="352.5" x2="196.51" y2="353.7" stroke="#111" stroke-width="0.8" />
<line x1="199.84" y1="352.5" x2="199.84" y2="353.7" stroke="#111" stroke-width="0.8" />
<line x1="203.17" y1="352.5" x2="203.17" y2="353.7" stroke="#111" stroke-width="0.8" />
<line x1="206.5" y1="352.5" x2="206.5" y2="353.7" stroke="#111" stroke-width="0.8" />
<line x1="209.82" y1="352.5" x2="209.82" y2="354.9" stroke="#111" stroke-width="0.8" />
<line x1="213.15" y1="352.5" x2="213.15" y2="353.7" stroke="#111" stroke-width="0.8" />
<line x1="216.48" y1="352.5" x2="216.48" y2="353.7" stroke="#111" stroke-width="0.8" />
<line x1="219.8" y1="352.5" x2="219.8" y2="353.7" stroke="#111" stroke-width="0.8" />
<line x1="223.13" y1="352.5" x2="223.13" y2="353.7" stroke="#111" stroke-width="0.8" />
<line x1="226.46" y1="352.5" x2="226.46" y2="354.9" stroke="#111" stroke-width="0.8" />
<line x1="229.78" y1="352.5" x2="229.78" y2="353.7" stroke="#111" stroke-width="0.8" />
<line x1="233.11" y1="352.5" x2="233.11" y2="353.7" stroke="#111" stroke-width="0.8" />
<line x1="236.44" y1="352.5" x2="236.44" y2="353.7" stroke="#111" stroke-width="0.8" />
<text x="149.7" y="348.4" font-size="7.6" text-anchor="end" fill="#1a1a1a" class="b" >0</text>
<text x="159.62" y="362.1" font-size="7.6" text-anchor="middle" fill="#1a1a1a" class="b" >0</text>
<text x="149.7" y="329.79" font-size="7.6" text-anchor="end" fill="#1a1a1a" class="b" >5.0</text>
<text x="176.25" y="362.1" font-size="7.6" text-anchor="middle" fill="#1a1a1a" class="b" >5.0</text>
<text x="149.7" y="311.18" font-size="7.6" text-anchor="end" fill="#1a1a1a" class="b" >10</text>
<text x="192.89" y="362.1" font-size="7.6" text-anchor="middle" fill="#1a1a1a" class="b" >10</text>
<text x="149.7" y="292.57" font-size="7.6" text-anchor="end" fill="#1a1a1a" class="b" >15</text>
<text x="209.52" y="362.1" font-size="7.6" text-anchor="middle" fill="#1a1a1a" class="b" >15</text>
<text x="149.7" y="273.96" font-size="7.6" text-anchor="end" fill="#1a1a1a" class="b" >20</text>
<text x="226.16" y="362.1" font-size="7.6" text-anchor="middle" fill="#1a1a1a" class="b" >20</text>
<text x="194.4" y="162.2" font-size="9.5" text-anchor="middle" fill="#1a1a1a" class="b" >SCID other</text>
<g transform="translate(268.25,170) scale(0.2)">
<g stroke-linecap="round" stroke-width="7.5" fill="none">
<path stroke="#0004e5" d="M168 116h0m19 3h0m34-5h0m0 7h0m-69 13h0m47-5h0m-52 64h0m-16 45h0m-85 4h0m40 5h0m51-5h0m93 11h0m-27 10h0m-62 3h0m-65 43h0m106 3h0m-93 8h0m168 10h0m-136 1h0m48 10h0m78-1h0m31 0h0m12 4h0m-9 0h0m-154 13h0"/>
<path stroke="#000ce3" d="M207 132h0m-71 14h0m122 10h0m-169 10h0m88 6h0m46 15h0m-84 10h0m15 17h0m59 9h0m1 10h0m11 10h0m-122 7h0m44 11h0m43-4h0m-50 14h0m-83-7h0m65 20h0m123 18h0m-18 0h0m-11-3h0m-15 11h0m-19 3h0m-15 6h0m-3-2h0m-53 8h0m149-2h0m22 9h0m-19-4h0m-163 14h0m12 1h0m143-7h0m82 12h0m-197 3h0"/>
<path stroke="#0015df" d="M135 132h0m-8 11h0m51 12h0m-68 27h0m72 7h0m-78 6h0m121-1h0m-2 22h0m-54 10h0m15-1h0m4 5h0m-21 33h0m13 7h0m-14 15h0m2 9h0m72-4h0m-25 27h0m52 8h0m1 6h0m-161 4h0m-26 2h0m60 1h0m2 1h0m53 0h0m23 4h0m134-1h0m-5 4h0"/>
<path stroke="#0324cb" d="M94 173h0m25 11h0m48 59h0m8 21h0m18 24h0m95 14h0m-13 2h0m3 11h0m-6 0h0m-5-1h0m8 8h0m5 4h0m23-5h0m-128 7h0m-17 14h0m-39 2h0"/>
<path stroke="#0532b7" d="M259 297h0m-27-1h0m8 8h0m76 4h0m32 5h0m-61 0h0m-7 3h0m59 9h0m2 2h0m12-2h0m3 1h0m1 5h0m-43 4h0m0-4h0m40 5h0"/>
<path stroke="#0841a3" d="M231 268h0m19 27h0m44-2h0m8 20h0m-21-1h0m32 15h0m35-5h0m5 11h0m-52-3h0"/>
<path stroke="#0a4f8e" d="M195 117h0m-9 11h0m66 14h0m-9 24h0m-5 55h0m-76-2h0m-40 11h0m38-1h0m80 23h0m-1 25h0m26 0h0m-15 15h0m126 8h0m-9 7h0m5 8h0m-13 0h0m-266-3h0m243 8h0m-156 25h0"/>
<path stroke="#0d5d7a" d="M246 103h0m-107 6h0m56 14h0m-30-3h0m-15 4h0m63 17h0m-47 3h0m89 8h0m-88 4h0m-57 3h0m-10 6h0m54 2h0m1 3h0m54 7h0m6 14h0m-4 16h0m-36 0h0m-34-6h0m-34 11h0m2 3h0m64-5h0m-74 35h0m145 8h0m-124-4h0m37 8h0m81 10h0m-40 2h0m-108-4h0m95 10h0m-3 19h0m73 0h0m51 1h0m8-2h0m-16 9h0m-13-3h0m-100 7h0m155 3h0m23-5h0m6 4h0m-228 7h0m-13-3h0"/>
<path stroke="#0f6c66" d="M212 112h0m-28 31h0m-10-3h0m-2-2h0m-24-2h0m-6 1h0m-53 15h0m10 13h0m54-5h0m66 0h0m8 3h0m37 1h0m-151 14h0m89 12h0m-74 9h0m76-2h0m4 2h0m-82 1h0m-44 10h0m48-2h0m55 2h0m25 23h0m-39 1h0m-56 7h0m118 11h0m-26-4h0m-116 7h0m-15-4h0m181 19h0m-153-6h0m153 10h0m5 4h0m29-4h0m76 10h0m-3 3h0m-81-7h0m-62 1h0m-63 7h0m164 7h0m25 7h0m-2-6h0m-121 13h0m8-2h0m58-1h0m69 3h0m18 6h0m-221 14h0m-79 1h0"/>
<path stroke="#0e7f54" d="M216 99h0m2 1h0m26 3h0m-1 7h0m-4 4h0m18 4h0m-93 3h0m-57 15h0m-6 15h0m31-7h0m61 1h0m50 14h0m-139 5h0m87 20h0m-6 1h0m-67 11h0m115 12h0m14 1h0m-60 8h0m-15 4h0m-26-1h0m-68 6h0m19 3h0m129-5h0m21 20h0m-6 6h0m-159 0h0m-9 3h0m170 9h0m9 1h0m24 3h0m-197 9h0m34 0h0m65-1h0m37 4h0m52-3h0m97 8h0m-28 3h0m-10-2h0m-125 24h0m-34 5h0m22 18h0m-26 7h0m18 8h0"/>
<path stroke="#0b9543" d="M164 114h0m26 0h0m-93 23h0m69 12h0m50 10h0m-56-5h0m-47 9h0m46 12h0m-26-3h0m109 5h0m-123 15h0m69 8h0m-12 4h0m-6 1h0m-82 8h0m67-1h0m24 9h0m-85 1h0m-11 1h0m70 10h0m59 17h0m-119 9h0m78 3h0m10-2h0m75-4h0m7 6h0m4-6h0m89 4h0m-39 10h0m-16-3h0m-6 0h0m-26 10h0m53 0h0m37 2h0m-168 9h0m107 0h0m55 5h0m-229 5h0m-36 38h0"/>
<path stroke="#08ab32" d="M312 255h0m-1 8h0m70 5h0m3 10h0m-44 7h0"/>
<path stroke="#05c121" d="M225 110h0m-79-1h0m-43-4h0m139 7h0m1 4h0m-34 5h0m-40 31h0m-18 12h0m23 2h0m9-6h0m24 2h0m-43 16h0m27 5h0m7-7h0m2 6h0m48-6h0m-9 15h0m-134-5h0m5 7h0m20 1h0m70 4h0m42-1h0m3 6h0m-150 8h0m61 2h0m27-1h0m66 2h0m5 7h0m-31-2h0m36 18h0m-111-5h0m-4 12h0m5-4h0m1 3h0m35-1h0m53 4h0m19 0h0m75 8h0m-16 0h0m-153-3h0m75 7h0m137 8h0m-9 0h0m-21 4h0m-26-6h0m-102 6h0m-56-4h0m-64-2h0m118 12h0m158 1h0m-200 15h0m10 3h0m-42 9h0m32 19h0m-43 28h0"/>
<path stroke="#03d70f" d="M255 124h0m-7-4h0m-81 2h0m-7-2h0m-14 3h0m37 6h0m76 7h0m-35 3h0m-111 5h0m56 3h0m19 9h0m-7 0h0m-28-3h0m37 35h0m18 9h0m2-4h0m-54 13h0m-15-3h0m-44 7h0m49 1h0m60 1h0m48 7h0m-14-2h0m-12 4h0m-12-3h0m-3-2h0m-67 3h0m-17-1h0m-19 3h0m-23 10h0m42-4h0m84-1h0m36-2h0m-25 12h0m-139-4h0m166 13h0m32 0h0m5-2h0m5 3h0m26-3h0m37 5h0m-103 5h0m-68 1h0m-7-5h0m-47 5h0m-64 7h0m164-4h0m4 0h0m6 0h0m91 0h0m-16 8h0m0 4h0m-189 7h0m121 1h0m111-3h0m-239 36h0m0 8h0m5 15h0m15 9h0m41-5h0m22 1h0"/>
<path stroke="#02eb00" d="M226 116h0m13 4h0m15 19h0m-89 11h0m50 1h0m-46 3h0m-41 6h0m32 7h0m14 3h0m-59 7h0m4 4h0m14 0h0m61 9h0m-16-2h0m12 4h0m28 12h0m-107 10h0m39-3h0m49-2h0m62 7h0m-3 3h0m-76-2h0m-80 2h0m-46 4h0m-7-1h0m91 5h0m46 0h0m63 4h0m9-3h0m74 6h0m-158 3h0m-135 0h0m52 5h0m14 5h0m64-2h0m185 1h0m-269 13h0m291 9h0m-244-4h0m-47 6h0m21 9h0m42-6h0m73 2h0m-48 8h0m-9-3h0m13 31h0m14 4h0m-88 8h0m76-3h0"/>
<path stroke="#19ef00" d="M196 111h0m-4-3h0m-83 7h0m39 4h0m20-5h0m-17 17h0m-22 19h0m59 0h0m-33 3h0m-36-1h0m20 9h0m98 13h0m-109-3h0m-26 2h0m-1-5h0m9 9h0m133 10h0m-6-3h0m-62 2h0m68 7h0m-27 12h0m-71-2h0m-39 9h0m65 3h0m134-5h0m41 13h0m-22-7h0m-222 2h0m138 13h0m86 0h0m-4 5h0m-74 0h0m-2 0h0m-9 2h0m-30 1h0m-6-2h0m-68-1h0m-75 10h0m64-5h0m38 9h0m53 10h0m-13 9h0m-8-3h0m-3 1h0m-67 1h0m-2-2h0m-2 3h0m-3-5h0m-19 4h0m51 7h0m-18 65h0"/>
<path stroke="#30f200" d="M135 111h0m127 10h0m-11 4h0m-47 0h0m29 30h0m-72 18h0m-38-3h0m96 6h0m16 11h0m-24-3h0m-41 1h0m-24 2h0m-14 10h0m98-4h0m24 0h0m-138 9h0m56 13h0m78-3h0m97 11h0m-114-1h0m-13-4h0m92 10h0m63 11h0m-206-2h0m-49-2h0m265 9h0m-10 5h0m-222 4h0m-47-2h0m-35 1h0m132 16h0m-66 10h0m33 1h0m10-6h0m57 6h0m-48 6h0m-28 15h0m16 37h0"/>
<path stroke="#47f600" d="M300 189h0m-9 16h0m82 8h0m1 29h0"/>
<path stroke="#5efa00" d="M302 190h0m-51 5h0m20-1h0m57 2h0m10 5h0m-17 3h0m-5 5h0"/>
<path stroke="#75fd00" d="M285 188h0m10 8h0m30-1h0m0 8h0m4 8h0"/>
<path stroke="#0004e5" d="M126 156h0m64 5h0m39 9h0m-69 1h0m-50 19h0m0 10h0m13 25h0m-5 27h0m52 70h0m78 5h0m23-2h0m-10 7h0m-85 4h0m100 2h0m-173 8h0"/>
<path stroke="#000ce3" d="M218 107h0m-110 8h0m105 3h0m-48 18h0m-23 35h0m-10 10h0m7 15h0m97 1h0m-151 26h0m109 8h0m-128 1h0m15 9h0m2 6h0m-9 3h0m23 25h0m101 27h0m-43 6h0m19 3h0m-72 5h0m41 11h0m1-1h0m96-6h0m27 10h0m-73-1h0m-90 5h0m72 9h0m114-2h0m14 5h0m-183 13h0"/>
<path stroke="#0015df" d="M220 137h0m-51 18h0m52 61h0m-48 1h0m-73 11h0m34-3h0m22 7h0m-68 5h0m71 3h0m36 5h0m4 5h0m-95 22h0m148 45h0m-16-2h0m-66 12h0m82-3h0m48-2h0m18 7h0m-5 1h0m-86-2h0m-112 1h0m178 17h0m-147-1h0"/>
<path stroke="#0324cb" d="M117 107h0m3 79h0m-13 27h0m86 32h0m-10 31h0m64 23h0m-8-3h0m44 8h0m-67 8h0m-42 7h0m114 11h0m-108 4h0m-5-5h0m-12 0h0m60 8h0"/>
<path stroke="#0532b7" d="M322 302h0m-46-6h0m-11 10h0m29 4h0m31 21h0m12 5h0m-3 9h0"/>
<path stroke="#0841a3" d="M234 273h0m53 14h0m0-6h0m-56 10h0m10-2h0m28 2h0m2 4h0m-20 4h0m119 20h0m-23-4h0m-54-2h0m67 13h0m10-2h0"/>
<path stroke="#0a4f8e" d="M204 102h0m-74 57h0m-32 23h0m17 14h0m32 18h0m66 9h0m-104 5h0m24 14h0m53 9h0m-4 7h0m23 8h0m43 14h0m82 19h0m-28-3h0m-25 3h0m14 7h0m59 2h0m23 8h0m-16 3h0m-3-3h0m-5 1h0m-14-2h0m-15 0h0m-173 32h0"/>
<path stroke="#0d5d7a" d="M218 117h0m-118 3h0m33 13h0m-17 17h0m44 1h0m-11 8h0m24 5h0m26 3h0m41 7h0m-131-4h0m18 7h0m117 8h0m-26 3h0m-112 3h0m23 4h0m100 15h0m26-2h0m-179 21h0m160 9h0m-22-6h0m-83 3h0m-42 4h0m-7 4h0m170 8h0m-76 4h0m-72 4h0m125 2h0m24 3h0m-10 2h0m-3-1h0m-126 1h0m18 10h0m172-4h0m25 12h0m-96-1h0m-6 4h0m-98-5h0m-42 8h0m88 5h0m26-7h0m39 7h0m48-7h0m46 3h0m42 3h0m-2 7h0m-22-4h0m-176 0h0m59 9h0m84 1h0m29 8h0m-15 3h0m-171-1h0m13 13h0m-84 1h0m93 9h0m-19 5h0"/>
<path stroke="#0f6c66" d="M161 117h0m61 8h0m-78-4h0m12 13h0m97-6h0m-48 15h0m-65-6h0m-11-1h0m7 29h0m10-1h0m64-1h0m-29 5h0m-9 23h0m-9-5h0m-53-1h0m50 10h0m80 20h0m-95 6h0m-55-4h0m24 7h0m3 1h0m35 3h0m1 2h0m25-2h0m-52 5h0m-74 14h0m211 8h0m-56-7h0m-51 6h0m-20-3h0m11 11h0m48-5h0m32-1h0m42 15h0m-30-7h0m-45 4h0m-17-2h0m-42 11h0m133-2h0m41 12h0m-182 6h0m180-1h0m37 6h0m-14-2h0m-163 4h0m214 7h0m-5 6h0m-163 1h0m-13 12h0m0 7h0m-104-1h0"/>
<path stroke="#0e7f54" d="M127 117h0m59 18h0m29 2h0m-54 5h0m-74 8h0m29 12h0m102 10h0m17 16h0m-68 0h0m-61 9h0m18-4h0m27-1h0m63 3h0m22 9h0m-85 3h0m63 18h0m1 7h0m-78 7h0m-38 6h0m130 5h0m-87 2h0m134 8h0m-38 17h0m110 4h0m-205 6h0m-26 0h0m-52 5h0m249 0h0m20 2h0m27 1h0m7-5h0m-187 16h0m-56 14h0"/>
<path stroke="#0b9543" d="M197 99h0m-40 9h0m-49 20h0m14 3h0m86-3h0m-28 22h0m81-1h0m6 8h0m-140-2h0m-1 15h0m62 17h0m-70 2h0m-20 22h0m123 20h0m33 1h0m-27 1h0m-70 0h0m73 14h0m22 0h0m64 5h0m-78-4h0m-115 5h0m-11-1h0m106 9h0m69-4h0m-1 8h0m-81 0h0m-67 13h0m2 1h0m76 0h0m53-3h0m26 2h0m69 3h0m-19 19h0m-159 22h0m2 13h0m-46 10h0"/>
<path stroke="#08ab32" d="M235 233h0m96 18h0m-53-1h0m3 12h0m46 5h0m-20 3h0m-13-4h0m17 6h0m27 6h0m10-1h0m11 1h0m-8 4h0m26 10h0"/>
<path stroke="#05c121" d="M204 115h0m53 1h0m-78 6h0m-12 0h0m4 10h0m93-4h0m-12 12h0m-21-4h0m-35 1h0m-99 8h0m58 2h0m4-1h0m-32 11h0m74 3h0m-61 14h0m-9-2h0m19 11h0m20-4h0m65-3h0m10 2h0m-24 13h0m-28-6h0m-4 1h0m-3 2h0m-61 3h0m0 6h0m50-4h0m21 1h0m3 7h0m-2 1h0m-22 2h0m-8 3h0m70 2h0m-113 7h0m-32 2h0m-8 12h0m28-2h0m141-1h0m29 10h0m-61-4h0m-11 3h0m-122 0h0m-6-3h0m159 7h0m110 8h0m-128 1h0m-131 6h0m283 10h0m-11 0h0m-128 1h0m145 13h0m-170 1h0m-14 20h0m-79 27h0"/>
<path stroke="#03d70f" d="M149 111h0m72 8h0m-15 2h0m-61 12h0m75 0h0m13 0h0m20 4h0m-88-1h0m-38 11h0m1-3h0m41 2h0m24 13h0m0-4h0m-67 6h0m106 11h0m-84-3h0m27 13h0m14-4h0m39 21h0m15 5h0m-38 1h0m-31-2h0m-53 7h0m74 1h0m18 9h0m-4 3h0m-9-3h0m-49-2h0m-15-2h0m-33 4h0m-31 10h0m85 1h0m83-6h0m24 6h0m19 0h0m67 4h0m-36 2h0m-11 0h0m-29-5h0m-130 13h0m14-2h0m79 3h0m56-5h0m54 3h0m-230 4h0m-33 5h0m16 4h0m74 4h0m-37 9h0m18 2h0m58 0h0m16 1h0m146 8h0m-249 0h0m-32 5h0m57 9h0m-44 1h0m123 12h0m15 3h0m-78 7h0m-57 19h0m57 10h0"/>
<path stroke="#02eb00" d="M161 119h0m56 4h0m-6-2h0m-35 6h0m31 8h0m10-5h0m33 3h0m-105 9h0m68 17h0m-32-5h0m-15 4h0m-15-2h0m-43 10h0m10-2h0m122 1h0m-18 9h0m-54-5h0m-58 19h0m35 4h0m32 3h0m84 6h0m-2 5h0m-63-5h0m-36 0h0m-55-1h0m-8 13h0m80-3h0m29 0h0m38 2h0m2-1h0m-2 10h0m-17 8h0m8 1h0m15-3h0m9 3h0m118 6h0m-37 0h0m-59-3h0m-82 1h0m-102 10h0m70 2h0m72-2h0m76 2h0m62 2h0m-184 0h0m-64 2h0m54 7h0m5 5h0m12-1h0m135-5h0m7 7h0m-254 10h0m43 0h0m9 3h0m64-3h0m15 3h0m29 6h0m-75 4h0m47 3h0m-42 12h0m-18-2h0m-28 9h0m59-2h0m2 4h0m54 13h0m-30 7h0"/>
<path stroke="#19ef00" d="M230 96h0m12 10h0m-82 13h0m-33 13h0m67-3h0m66 9h0m-34 3h0m-29-3h0m-64 15h0m-15 7h0m46 2h0m13 5h0m23-1h0m-95 17h0m129 2h0m-59-1h0m-77 1h0m30 16h0m-39 2h0m32 10h0m139-2h0m-7 9h0m-54 2h0m-64-6h0m38 14h0m72 3h0m-79 0h0m-49 9h0m37 2h0m53 2h0m162-2h0m-12 9h0m-39 0h0m-190 0h0m-21 1h0m-41 2h0m27 6h0m28 1h0m70 0h0m57-5h0m9 12h0m-33-4h0m-7-1h0m-127 2h0m30 10h0m46-5h0m27 2h0m-18 33h0m30 1h0m-89 11h0"/>
<path stroke="#30f200" d="M158 151h0m84-1h0m-30 2h0m-54 5h0m-41 1h0m94 7h0m10-3h0m20-1h0m-69 12h0m-62-1h0m6 10h0m15-6h0m-7 11h0m157 17h0m-9 0h0m-31-2h0m41 7h0m70 6h0m-31 2h0m-22 1h0m-155 16h0m74 16h0m-53 1h0m-16 2h0m40 10h0m-32 8h0m-65 0h0m11 1h0m4 6h0m10-4h0m135 7h0m-168 8h0m87 3h0m68 10h0m-29-1h0m-2 8h0m-117 22h0"/>
<path stroke="#47f600" d="M291 214h0m32 4h0m3 7h0m47 10h0m-44-1h0"/>
<path stroke="#5efa00" d="M267 196h0m50 2h0m24-3h0m-75 9h0m53 9h0m60-5h0m-30 20h0m30 11h0m-8-7h0"/>
<path stroke="#75fd00" d="M321 188h0m4 19h0m-6 8h0m18-7h0m29 9h0"/>
<path stroke="#0004e5" d="M229 100h0m-33 68h0m14 20h0m-83 24h0m41 10h0m45 16h0m-11 1h0m-103 17h0m115 3h0m1 10h0m30 4h0m-97 17h0m-62 13h0m11 5h0m3-3h0m77 1h0m-104 10h0m199 16h0m53 11h0m-37 1h0m-5 0h0m-170 13h0"/>
<path stroke="#000ce3" d="M211 118h0m53-6h0m-88 17h0m42 18h0m-103 42h0m76 3h0m-84 28h0m77 9h0m18 10h0m-108-5h0m89 18h0m-94 49h0m56 14h0m106 5h0m33 12h0m-8-4h0m-12 7h0m-30-2h0m-51-2h0m-4 6h0"/>
<path stroke="#0015df" d="M214 111h0m-102 18h0m18 6h0m61 20h0m38 22h0m-29 36h0m-51 8h0m-38-4h0m136 53h0m-19-3h0m-90 19h0m104 4h0m-123 11h0m78 7h0m120 15h0m-134 11h0m-4 1h0m-59 3h0m40 4h0m124-4h0m44 0h0m-50 6h0"/>
<path stroke="#0324cb" d="M249 127h0m-52 30h0m-21 0h0m18 61h0m-3 4h0m-10 15h0m57 10h0m-14 3h0m-25 3h0m-13 2h0m7 31h0m29 16h0m27 9h0m46 8h0m-99-2h0m-16 0h0m24 7h0m101 1h0m13-3h0m7 9h0m-58-1h0m-41 0h0m-37 8h0m114-1h0m4-1h0m9 7h0m36-3h0"/>
<path stroke="#0532b7" d="M255 293h0m29 2h0m-16 7h0m86 10h0m-103 3h0m67 11h0m39 6h0m-57 2h0m6 3h0m37 2h0"/>
<path stroke="#0841a3" d="M232 291h0m60 10h0m32 6h0m47 11h0m-39-5h0m-5 2h0m-24 5h0m10 4h0m52 10h0m-44 3h0"/>
<path stroke="#0a4f8e" d="M220 197h0m-63 14h0m103 65h0m72 10h0m-90 1h0m-66-3h0m-89 0h0m219 5h0m53 5h0m-48 5h0m-2-2h0m-10 2h0m-27 0h0m43 5h0m20 2h0m-16 15h0m51 14h0"/>
<path stroke="#0d5d7a" d="M254 118h0m-101 9h0m70 25h0m-77 7h0m-19 0h0m36 1h0m61 6h0m-39 13h0m33 3h0m21 2h0m-26 4h0m39 6h0m-51 8h0m-139 13h0m53-5h0m109 5h0m-45 7h0m-4-2h0m82 13h0m-12 5h0m0 17h0m-197 4h0m164-2h0m5 5h0m41 8h0m-2 2h0m16 0h0m44 11h0m-49 4h0m-58-4h0m-134-1h0m203 6h0m44 0h0m12 1h0m11 4h0m18 3h0m-29 2h0m-2 1h0m-67 2h0m80 4h0m-11 11h0m-7-3h0m-96 1h0m-125 34h0"/>
<path stroke="#0f6c66" d="M93 132h0m22-1h0m24 6h0m-9 13h0m109-5h0m6 6h0m-91 3h0m-13-2h0m-27 13h0m76-1h0m21 1h0m3 10h0m-5-6h0m-94-1h0m6 11h0m95-3h0m-122 14h0m65 13h0m-23 7h0m92 2h0m11 23h0m-51 8h0m40 2h0m41 24h0m-21-3h0m-2 4h0m-129-2h0m-1 5h0m50 6h0m68-3h0m1 3h0m41-6h0m24 4h0m27-1h0m-9 4h0m-75 4h0m-41-3h0m-16-1h0m152 9h0m35 8h0m-19 2h0m-11 1h0m-46-4h0m-44 2h0m73 6h0m-209 9h0m-39 7h0m83 9h0"/>
<path stroke="#0e7f54" d="M237 104h0m-98 19h0m-6 7h0m37 31h0m-26 12h0m37 14h0m-14 2h0m32 5h0m42 13h0m-119-5h0m-5 0h0m-7-1h0m5 13h0m61 0h0m54-4h0m21 3h0m-34 8h0m-51-3h0m-62 10h0m25 6h0m51 17h0m-48 8h0m137 0h0m-20 6h0m-19-1h0m-28 4h0m-74-3h0m44 13h0m138-1h0m25 2h0m-20 6h0m-2-5h0m-19 4h0m-87 3h0m7 6h0m86-3h0m12-1h0m12 20h0m56-4h0m-175 29h0m-97 13h0m-3 5h0"/>
<path stroke="#0b9543" d="M239 114h0m-4 14h0m11 3h0m-39 35h0m33 33h0m-84 3h0m-16 6h0m102 20h0m65 26h0m-20-3h0m-35 9h0m0 0h0m113 10h0m-279 2h0m25 5h0m58 1h0m194 5h0m-2-2h0m-227 2h0m-37 4h0m246 1h0m1 0h0m-30 10h0m-238 0h0m136 8h0m-73 7h0"/>
<path stroke="#08ab32" d="M239 221h0m82 29h0m-41 0h0m107 29h0m-15 8h0m-19-5h0m-1 12h0m16-3h0"/>
<path stroke="#05c121" d="M234 100h0m-44 16h0m26-1h0m9 0h0m-56 8h0m-27 7h0m54 4h0m34 1h0m14-3h0m-31 5h0m-29 1h0m42 11h0m16-3h0m-74 13h0m-11-5h0m-62-1h0m134 8h0m23 13h0m-34-2h0m-81-2h0m-16 10h0m19 3h0m47-1h0m69 8h0m-16 0h0m-56-4h0m-85 4h0m139 15h0m-94 0h0m16 9h0m96 7h0m-47 1h0m-96-1h0m33 5h0m195 8h0m-89 0h0m-109 0h0m89 11h0m16 2h0m81-6h0m26 5h0m-27 6h0m-28-1h0m-248 4h0m102 5h0m39 2h0m40 0h0m130-6h0m8 9h0m-23 3h0m-5-3h0m-148 6h0m-33-1h0m181 5h0m34 2h0m-134 4h0m-32 6h0m-40-6h0m-84 13h0m81 4h0m-85 7h0"/>
<path stroke="#03d70f" d="M114 118h0m110-2h0m44 9h0m-8-4h0m-112 1h0m8 13h0m26-7h0m65 14h0m-11-2h0m-116 11h0m121 2h0m-133 14h0m51-2h0m62-4h0m13 0h0m-58 10h0m-58 2h0m44 9h0m32 1h0m9-7h0m-24 8h0m-45 11h0m113 5h0m-43 0h0m-21 1h0m-20 3h0m-69 10h0m20-3h0m0 1h0m91 3h0m42-5h0m23 7h0m-124 14h0m15-1h0m49 0h0m21 0h0m102 8h0m-67-4h0m-214 9h0m86 0h0m91-3h0m128 14h0m-6-5h0m-28 5h0m-102-5h0m-68 6h0m-85 4h0m12 4h0m47-5h0m63-2h0m179 0h0m12 15h0m-48-4h0m-91 1h0m-14 0h0m-21-3h0m-15 9h0m17 2h0m145-1h0m2-3h0m-112 14h0m-58 11h0"/>
<path stroke="#02eb00" d="M231 108h0m-108 4h0m59 4h0m-43 6h0m27 7h0m69 12h0m-98 2h0m8 6h0m16 2h0m82 4h0m-6 2h0m-74 1h0m-39 3h0m49 2h0m59 1h0m28-2h0m-34 10h0m-34 18h0m-53-5h0m-32 0h0m98 15h0m-54 6h0m-36 9h0m17-2h0m123-2h0m25 10h0m-39-2h0m-69-2h0m-54 13h0m182-5h0m34 10h0m-46-1h0m-67 3h0m-72 0h0m-1 1h0m201 9h0m12-6h0m-170 9h0m21 18h0m-52 0h0m-48-1h0m-2-1h0m-23-2h0m11 9h0m49 1h0m71 2h0m6 11h0m-152 2h0m182 1h0m-149 21h0m129-2h0"/>
<path stroke="#19ef00" d="M110 118h0m151 7h0m-73 2h0m-56-1h0m26 9h0m11 0h0m14-2h0m24 23h0m-2-1h0m-26 5h0m64 11h0m-81 0h0m-24-2h0m67 11h0m38-3h0m-86 13h0m107 8h0m12 8h0m-5 1h0m-26-2h0m-100 0h0m-18 5h0m102 1h0m2-3h0m86 7h0m43 5h0m-8 3h0m-126-7h0m-3 6h0m-6-1h0m-6 0h0m-67-4h0m-1-1h0m-25 13h0m60-1h0m30-3h0m8 5h0m17-6h0m102 5h0m2-4h0m2 14h0m-18 0h0m-124 6h0m23 2h0m141-2h0m-37 6h0m-92 4h0m-117 0h0m-24 0h0m-5-4h0m-19 3h0m182 9h0m-14 2h0m-8 2h0m-66 4h0m-35 4h0m12 3h0m49 1h0m-110 2h0m-3 5h0m101 22h0m29-3h0m5 13h0"/>
<path stroke="#30f200" d="M216 98h0m-14 16h0m29 12h0m-5-5h0m-87 16h0m46 8h0m25 10h0m-28-3h0m-18 6h0m-11-5h0m-34 14h0m52-1h0m-4 7h0m-18-4h0m-10 7h0m30 0h0m11 5h0m68 10h0m-11 11h0m-144 13h0m43-3h0m50-2h0m23 2h0m58-2h0m46 0h0m-215 18h0m51-2h0m7-1h0m0 3h0m198 0h0m-12 8h0m-192 0h0m-106-2h0m81 7h0m24-1h0m5 1h0m67 6h0m-65 5h0m-58 6h0m23 3h0m249 0h0m-155 4h0m-97-1h0m0 1h0m-60 3h0m110 5h0m67 2h0m-48 12h0m45 3h0m-46 9h0m-110 0h0m92 18h0"/>
<path stroke="#47f600" d="M302 184h0m-24 6h0m-10 6h0m69 11h0m-40-4h0m40 9h0m-7 14h0m29 12h0"/>
<path stroke="#5efa00" d="M280 189h0m-12 2h0m-11 8h0m54 5h0m53 19h0m-9 0h0m-31 0h0"/>
<path stroke="#75fd00" d="M314 188h0m-37 0h0m74 11h0m-31 15h0m24-3h0"/>
<path stroke="#8aff00" d="M329 191h0m-36 0h0m30 23h0"/>
<path stroke="#9eff00" d="M285 183h0m85 31h0"/>
<path stroke="#c5ff00" d="M357 186h0"/>
<path stroke="#edff00" d="M366 185h0"/>
<path stroke="#8aff00" d="M341 193h0m8 8h0m-22-1h0m24 9h0m5-1h0"/>
<path stroke="#9eff00" d="M311 181h0m42 25h0"/>
<path stroke="#b2ff00" d="M330 183h0m13 0h0"/>
<path stroke="#c5ff00" d="M371 203h0"/>
<path stroke="#8aff00" d="M304 195h0"/>
<path stroke="#9eff00" d="M333 188h0"/>
<path stroke="#b2ff00" d="M306 181h0m5 1h0m47 31h0"/>
</g>
</g>
<polygon points="303.25,171.64 312.06,172.98 314.82,177.15 309.6,188.05 306.54,192 297.36,199.25 296.79,193.9 297.43,181.09" fill="none" stroke="#555" stroke-width="0.8" stroke-linejoin="round"/>
<polygon points="283.95,185.78 294.96,187.01 296.19,189.35 295.96,199.29 287.25,207.41 280.06,205.99 279.39,203.13 280.06,190.1" fill="none" stroke="#555" stroke-width="0.8" stroke-linejoin="round"/>
<polygon points="309.37,187.34 314.82,186.86 323.11,190.02 325.64,199.22 318.48,204.17 308.4,201.41" fill="none" stroke="#555" stroke-width="0.8" stroke-linejoin="round"/>
<polygon points="327.47,200.41 346.69,202.2 347.33,208.15 349.85,233.2 338.18,245.52 314.36,240.53 312.99,235.47 309.77,223.63 321.68,208.15" fill="none" stroke="#555" stroke-width="0.8" stroke-linejoin="round"/>
<polygon points="277.6,211.95 282.19,210.57 286.31,212.39 284.98,223.3 279.03,226.54 275.37,220.62 275.6,215.07" fill="none" stroke="#555" stroke-width="0.8" stroke-linejoin="round"/>
<polyline points="279.03,226.54 278.53,235.17 288.14,244.74 308.8,238.41 312.99,235.47" fill="none" stroke="#555" stroke-width="0.8" stroke-linejoin="round"/>
<polyline points="290.44,242.06 284.98,223.78 286.71,214.22 289.97,204.17" fill="none" stroke="#111" stroke-width="0.9" stroke-linejoin="round"/>
<polyline points="287.25,207.41 296.19,199.78 309.6,188.05" fill="none" stroke="#111" stroke-width="0.9" stroke-linejoin="round"/>
<polyline points="305.94,192.96 307.21,200.22 308.4,201.41" fill="none" stroke="#111" stroke-width="0.9" stroke-linejoin="round"/>
<polyline points="289.97,204.17 303.25,215.07 309.77,223.63 312.99,235.47" fill="none" stroke="#111" stroke-width="0.9" stroke-linejoin="round"/>
<polyline points="303.25,215.07 307.84,204.17 308.4,201.41" fill="none" stroke="#111" stroke-width="0.9" stroke-linejoin="round"/>
<polyline points="309.77,223.63 321.68,208.15" fill="none" stroke="#111" stroke-width="0.9" stroke-linejoin="round"/>
<rect x="268.25" y="170" width="84" height="83" fill="none" stroke="#111" stroke-width="1.1"/>
<line x1="267.05" y1="250.02" x2="268.25" y2="250.02" stroke="#111" stroke-width="0.8" />
<line x1="265.85" y1="246.3" x2="268.25" y2="246.3" stroke="#111" stroke-width="0.8" />
<line x1="267.05" y1="242.58" x2="268.25" y2="242.58" stroke="#111" stroke-width="0.8" />
<line x1="267.05" y1="238.86" x2="268.25" y2="238.86" stroke="#111" stroke-width="0.8" />
<line x1="267.05" y1="235.13" x2="268.25" y2="235.13" stroke="#111" stroke-width="0.8" />
<line x1="267.05" y1="231.41" x2="268.25" y2="231.41" stroke="#111" stroke-width="0.8" />
<line x1="265.85" y1="227.69" x2="268.25" y2="227.69" stroke="#111" stroke-width="0.8" />
<line x1="267.05" y1="223.97" x2="268.25" y2="223.97" stroke="#111" stroke-width="0.8" />
<line x1="267.05" y1="220.25" x2="268.25" y2="220.25" stroke="#111" stroke-width="0.8" />
<line x1="267.05" y1="216.52" x2="268.25" y2="216.52" stroke="#111" stroke-width="0.8" />
<line x1="267.05" y1="212.8" x2="268.25" y2="212.8" stroke="#111" stroke-width="0.8" />
<line x1="265.85" y1="209.08" x2="268.25" y2="209.08" stroke="#111" stroke-width="0.8" />
<line x1="267.05" y1="205.36" x2="268.25" y2="205.36" stroke="#111" stroke-width="0.8" />
<line x1="267.05" y1="201.64" x2="268.25" y2="201.64" stroke="#111" stroke-width="0.8" />
<line x1="267.05" y1="197.91" x2="268.25" y2="197.91" stroke="#111" stroke-width="0.8" />
<line x1="267.05" y1="194.19" x2="268.25" y2="194.19" stroke="#111" stroke-width="0.8" />
<line x1="265.85" y1="190.47" x2="268.25" y2="190.47" stroke="#111" stroke-width="0.8" />
<line x1="267.05" y1="186.75" x2="268.25" y2="186.75" stroke="#111" stroke-width="0.8" />
<line x1="267.05" y1="183.03" x2="268.25" y2="183.03" stroke="#111" stroke-width="0.8" />
<line x1="267.05" y1="179.3" x2="268.25" y2="179.3" stroke="#111" stroke-width="0.8" />
<line x1="267.05" y1="175.58" x2="268.25" y2="175.58" stroke="#111" stroke-width="0.8" />
<line x1="265.85" y1="171.86" x2="268.25" y2="171.86" stroke="#111" stroke-width="0.8" />
<line x1="271.24" y1="253" x2="271.24" y2="254.2" stroke="#111" stroke-width="0.8" />
<line x1="274.57" y1="253" x2="274.57" y2="255.4" stroke="#111" stroke-width="0.8" />
<line x1="277.9" y1="253" x2="277.9" y2="254.2" stroke="#111" stroke-width="0.8" />
<line x1="281.22" y1="253" x2="281.22" y2="254.2" stroke="#111" stroke-width="0.8" />
<line x1="284.55" y1="253" x2="284.55" y2="254.2" stroke="#111" stroke-width="0.8" />
<line x1="287.88" y1="253" x2="287.88" y2="254.2" stroke="#111" stroke-width="0.8" />
<line x1="291.2" y1="253" x2="291.2" y2="255.4" stroke="#111" stroke-width="0.8" />
<line x1="294.53" y1="253" x2="294.53" y2="254.2" stroke="#111" stroke-width="0.8" />
<line x1="297.86" y1="253" x2="297.86" y2="254.2" stroke="#111" stroke-width="0.8" />
<line x1="301.18" y1="253" x2="301.18" y2="254.2" stroke="#111" stroke-width="0.8" />
<line x1="304.51" y1="253" x2="304.51" y2="254.2" stroke="#111" stroke-width="0.8" />
<line x1="307.84" y1="253" x2="307.84" y2="255.4" stroke="#111" stroke-width="0.8" />
<line x1="311.16" y1="253" x2="311.16" y2="254.2" stroke="#111" stroke-width="0.8" />
<line x1="314.49" y1="253" x2="314.49" y2="254.2" stroke="#111" stroke-width="0.8" />
<line x1="317.82" y1="253" x2="317.82" y2="254.2" stroke="#111" stroke-width="0.8" />
<line x1="321.15" y1="253" x2="321.15" y2="254.2" stroke="#111" stroke-width="0.8" />
<line x1="324.47" y1="253" x2="324.47" y2="255.4" stroke="#111" stroke-width="0.8" />
<line x1="327.8" y1="253" x2="327.8" y2="254.2" stroke="#111" stroke-width="0.8" />
<line x1="331.13" y1="253" x2="331.13" y2="254.2" stroke="#111" stroke-width="0.8" />
<line x1="334.45" y1="253" x2="334.45" y2="254.2" stroke="#111" stroke-width="0.8" />
<line x1="337.78" y1="253" x2="337.78" y2="254.2" stroke="#111" stroke-width="0.8" />
<line x1="341.11" y1="253" x2="341.11" y2="255.4" stroke="#111" stroke-width="0.8" />
<line x1="344.43" y1="253" x2="344.43" y2="254.2" stroke="#111" stroke-width="0.8" />
<line x1="347.76" y1="253" x2="347.76" y2="254.2" stroke="#111" stroke-width="0.8" />
<line x1="351.09" y1="253" x2="351.09" y2="254.2" stroke="#111" stroke-width="0.8" />
<text x="264.35" y="248.9" font-size="7.6" text-anchor="end" fill="#1a1a1a" class="b" >0</text>
<text x="274.27" y="262.6" font-size="7.6" text-anchor="middle" fill="#1a1a1a" class="b" >0</text>
<text x="264.35" y="230.29" font-size="7.6" text-anchor="end" fill="#1a1a1a" class="b" >5.0</text>
<text x="290.9" y="262.6" font-size="7.6" text-anchor="middle" fill="#1a1a1a" class="b" >5.0</text>
<text x="264.35" y="211.68" font-size="7.6" text-anchor="end" fill="#1a1a1a" class="b" >10</text>
<text x="307.54" y="262.6" font-size="7.6" text-anchor="middle" fill="#1a1a1a" class="b" >10</text>
<text x="264.35" y="193.07" font-size="7.6" text-anchor="end" fill="#1a1a1a" class="b" >15</text>
<text x="324.17" y="262.6" font-size="7.6" text-anchor="middle" fill="#1a1a1a" class="b" >15</text>
<text x="264.35" y="174.46" font-size="7.6" text-anchor="end" fill="#1a1a1a" class="b" >20</text>
<text x="340.81" y="262.6" font-size="7.6" text-anchor="middle" fill="#1a1a1a" class="b" >20</text>
<line x1="286.5" y1="168.8" x2="295.85" y2="174.12" stroke="#c8102e" stroke-width="2.6" />
<polygon points="299.5,176.2 294.56,176.38 297.14,171.86" fill="#c8102e"/>
<g transform="translate(268.25,269.5) scale(0.2)">
<g stroke-linecap="round" stroke-width="7.5" fill="none">
<path stroke="#0a4f8e" d="M154 214h0m60 19h0m30 20h0m112 7h0m20 40h0m-160-1h0m132 14h0m-91 17h0"/>
<path stroke="#0d5d7a" d="M223 187h0m-41 2h0m143 6h0m3 1h0m10 5h0m-165 9h0m65 11h0m-25 2h0m-44 3h0m-32 16h0m30 1h0m73 9h0m-73 11h0m23-6h0m41 11h0m-90-2h0m99 24h0m127 17h0m-185 5h0"/>
<path stroke="#0f6c66" d="M186 128h0m-9 44h0m32 5h0m120 14h0m-104 3h0m46 0h0m-10 22h0m-38 0h0m-61 3h0m26 11h0m124-2h0m-181 10h0m94 5h0m129 3h0m31-2h0m-155 9h0m-73 4h0m46 6h0m49 0h0m59 0h0m21-6h0m43 9h0m-9 0h0m-21 4h0m-165 0h0m-5-6h0m-14 2h0m-21 5h0m45 4h0m72-1h0m102 5h0m-33 5h0m-160 1h0m-44-1h0m46 10h0m25-6h0m152 8h0m-118 6h0m-151 7h0m125 1h0m39-6h0m123 0h0m-4 11h0m-72-2h0m-12 9h0m61-2h0m3 5h0m18 6h0m-4 2h0m-241 10h0m57-2h0m179 5h0m-58-2h0m-163 13h0"/>
<path stroke="#0e7f54" d="M187 119h0m142 92h0m-169 18h0m24-4h0m26 8h0m83 13h0m81-4h0m1 7h0m-228 12h0m229 7h0m-57-4h0m-3 5h0m-118 0h0m52 23h0m5 2h0m67 1h0m31-2h0m-55 9h0m-53 0h0m36 10h0m-192 8h0m224 7h0m-45 4h0m-147 0h0m22 8h0m112-3h0"/>
<path stroke="#0b9543" d="M183 160h0m32 31h0m-24-7h0m54 19h0m-12 5h0m90 6h0m1 2h0m-101 3h0m-77 1h0m80 4h0m-55 10h0m-23-2h0m-4 12h0m41-2h0m-65 7h0m95 29h0m54-1h0m98 7h0m-209 4h0m24 6h0m9-6h0m-6 18h0m105 0h0m-108 7h0m-7 15h0m72 12h0"/>
<path stroke="#08ab32" d="M190 114h0m69 22h0m-75 7h0m9 2h0m7 37h0m39 9h0m-54-6h0m15 13h0m4-1h0m38 0h0m-31 10h0m-36 0h0m-5-2h0m-14 8h0m29-3h0m62-1h0m2 5h0m5 7h0m-82 0h0m-19 12h0m-4 7h0m1 3h0m97 1h0m109 4h0m-44 7h0m-100-5h0m-31 10h0m36 10h0m-97-4h0m58 8h0m158 12h0m-42 7h0m-6 9h0m-56-6h0m-31 12h0m14 9h0m-48 2h0m189 7h0m-249 9h0m-30-5h0m4 7h0m19 5h0m96-3h0m23 4h0m-79 8h0m-21-7h0"/>
<path stroke="#05c121" d="M246 103h0m9 21h0m-48 38h0m-9 14h0m44 1h0m-40 13h0m-32-5h0m38 14h0m-20 1h0m-12 4h0m-21 8h0m16 3h0m12-3h0m133-3h0m-88 12h0m-8-3h0m-33-1h0m-8 4h0m-33-2h0m61 29h0m-44 3h0m8 11h0m72 0h0m138 6h0m-324-4h0m56 11h0m102 1h0m50 1h0m99 6h0m0 4h0m-143-6h0m-48 11h0m10 3h0m76 2h0m-135 1h0m108 9h0m43-3h0m41 4h0m24 1h0m29-1h0m-89 8h0m-2-1h0m-114 2h0m-23-2h0m-30 10h0m149-2h0m43-2h0m38 6h0m12-2h0m-39 10h0m-32-3h0m-142 10h0m1-4h0m17 4h0m23-5h0m172 5h0m-16 6h0m-56-4h0m-101 1h0"/>
<path stroke="#03d70f" d="M239 114h0m9 6h0m-29 56h0m81 13h0m-65-2h0m-24-3h0m-3 13h0m10 7h0m87 6h0m65 4h0m3-1h0m-27 10h0m-130-5h0m-3 8h0m46 11h0m-22 1h0m14 7h0m68-2h0m13 11h0m-91-4h0m-8 2h0m-55-3h0m-18 1h0m-29 4h0m186 16h0m-79-3h0m-35 1h0m-3 1h0m-8-3h0m-70 2h0m99 7h0m16 4h0m2-2h0m52-3h0m93 4h0m-220 2h0m150 13h0m33 9h0m-186-2h0m16 11h0m47-2h0m148 6h0m-70-2h0m-30 2h0m-5-1h0m0 11h0m81-3h0m-85 6h0m-134 12h0m34-2h0m115 2h0m76-4h0"/>
<path stroke="#02eb00" d="M262 121h0m-79 8h0m60 30h0m-55-3h0m31 4h0m45 4h0m-73 19h0m175 2h0m-64 5h0m-112-2h0m-12 0h0m12 4h0m20 1h0m44 0h0m67 11h0m-30 1h0m-135 1h0m-6 5h0m49-2h0m148 14h0m-89-4h0m-4 0h0m-14-2h0m-7 5h0m-20-6h0m-31 1h0m-42 10h0m186 4h0m49 8h0m-43-5h0m-108 2h0m-55 1h0m-36-1h0m155 7h0m28 11h0m-63-1h0m-100 0h0m60 7h0m18-3h0m4 0h0m3 1h0m3-1h0m15-1h0m7 6h0m4-6h0m34 11h0m-6 0h0m-19-1h0m-19 4h0m-68-3h0m-57-3h0m-17 0h0m-9 15h0m21-3h0m10 2h0m11-5h0m22 6h0m10-6h0m68 4h0m74 0h0m51 0h0m-90 3h0m-94 5h0m61 10h0m56 0h0m-186 15h0m21-6h0m218 5h0m18 6h0m-186 0h0m-63-3h0m-8 6h0m53 5h0m6-3h0m101 6h0m34 5h0m-125 0h0m-64 2h0"/>
<path stroke="#19ef00" d="M242 112h0m10 30h0m-64 8h0m67 2h0m-28 11h0m58 25h0m-42-1h0m-68-1h0m55 7h0m13 0h0m52 3h0m30 7h0m-109 2h0m-44 10h0m34-3h0m-20 15h0m54 4h0m9-7h0m0 7h0m9-3h0m64 8h0m-74 0h0m-2 0h0m-45 1h0m-27 0h0m-135 0h0m199 9h0m19 0h0m26-1h0m-98 9h0m-118 7h0m249 4h0m-198 4h0m-22-1h0m166 10h0m5-3h0m92-1h0m-19 11h0m-167-2h0m112 16h0m-118 14h0m-74-1h0m10 11h0m198 7h0m-213 6h0m93 10h0m-51 5h0"/>
<path stroke="#30f200" d="M216 99h0m27 11h0m8 15h0m-42-4h0m-10 8h0m16 22h0m43 5h0m-25-1h0m15 21h0m109 10h0m-64 5h0m-99-1h0m57 5h0m-106 8h0m105 9h0m-201 10h0m9 24h0m111-1h0m-96 8h0m31 11h0m43 11h0m151 13h0m-142 41h0m21 8h0m26 1h0"/>
<path stroke="#47f600" d="M195 117h0m26-3h0m5 2h0m17 0h0m14 2h0m-36 3h0m3 18h0m19 27h0m-82 7h0m124 10h0m-139 4h0m-7 10h0m-83 26h0m151 16h0m-85 2h0m-16 10h0m-3-1h0m-27 1h0m-5 1h0m22 7h0m4 5h0m-12 6h0"/>
<path stroke="#5efa00" d="M225 110h0m-33-2h0m47 12h0m-32 12h0m47 7h0m-38 20h0m-35-3h0m-7 10h0m-10 12h0m73 6h0m-96 17h0m-21 34h0m-74 7h0m69-1h0"/>
<path stroke="#75fd00" d="M244 103h0m-48 8h0m16 1h0m-8 13h0m9 16h0m-35 14h0m59 19h0m-109-3h0m1 47h0m-7 12h0"/>
<path stroke="#0a4f8e" d="M159 240h0m-4 68h0"/>
<path stroke="#0d5d7a" d="M261 201h0m91 14h0m-179 2h0m177 18h0m-10 1h0m-26 1h0m-32 0h0m-46 1h0m-1-5h0m-79-1h0m195 16h0m-233 4h0m64 6h0m-68 8h0m69 10h0m104 11h0m47 4h0m18 6h0m-76-1h0m24 26h0m-24 16h0m-173 8h0"/>
<path stroke="#0f6c66" d="M190 161h0m9 6h0m30 3h0m92 18h0m-77-3h0m-8 12h0m36 7h0m-125 10h0m82-4h0m31 1h0m-39 5h0m19 9h0m133 10h0m-159-3h0m-83 3h0m2 7h0m62 3h0m4 5h0m-13 1h0m-10 4h0m53 6h0m146 4h0m-48 2h0m-41-2h0m-17 6h0m-64-5h0m-101 6h0m164 3h0m80 2h0m11 1h0m5 3h0m-137 6h0m42 4h0m99-1h0m-24 8h0m-168-1h0m118 13h0m82 3h0m-3 3h0m-19 0h0m-5 1h0m-97 0h0m-150-1h0m42 10h0m96-6h0m-64 23h0m0-7h0m114 5h0"/>
<path stroke="#0e7f54" d="M201 160h0m17 28h0m48 16h0m100 13h0m-153 6h0m-19 8h0m177 1h0m-42 2h0m-136 11h0m164 8h0m-76 9h0m13 4h0m-162 10h0m179-4h0m-78 11h0m18 16h0m-53 3h0m135 16h0m-163 4h0m164 23h0"/>
<path stroke="#0b9543" d="M160 195h0m54 0h0m-61 35h0m62 2h0m15 15h0m33 8h0m-25-7h0m-82 6h0m97 10h0m-59 4h0m-54 11h0m147 2h0m-170 6h0m257 14h0m-52 1h0m-190 6h0m11 19h0m118 5h0m-38 5h0"/>
<path stroke="#08ab32" d="M186 135h0m10 2h0m-15 31h0m54 8h0m-46 10h0m-1 1h0m-2 1h0m-14 3h0m-5-3h0m32 13h0m41 14h0m4-3h0m2-1h0m9-3h0m-110 13h0m69 4h0m7 6h0m6 2h0m-6 0h0m-64 0h0m190 11h0m-118 6h0m-6-1h0m-16-1h0m-14 0h0m-51 4h0m-6-1h0m-13 2h0m24 9h0m80-6h0m16 10h0m-3-1h0m-1-1h0m-34 1h0m-85 12h0m96 2h0m132 2h0m-205 6h0m32 8h0m26-7h0m160 7h0m-114 4h0m-8-3h0m-72 4h0m7 11h0m7-5h0m54 0h0m48-2h0m-97 18h0m62 5h0m-21 1h0m-27 5h0m-25-4h0m-12 0h0m-48 0h0m-11 5h0m17 25h0"/>
<path stroke="#05c121" d="M253 128h0m-53 38h0m111 15h0m32 2h0m-108 5h0m-42-3h0m-18 8h0m21 1h0m71 2h0m82 5h0m-113 3h0m-39-2h0m94 12h0m32 4h0m-70 2h0m-102-2h0m1 10h0m5 3h0m16-1h0m5-2h0m75-1h0m73-2h0m23 3h0m-75 4h0m-20 0h0m-88 1h0m75 7h0m52 1h0m22 5h0m16 5h0m-15 1h0m-64-1h0m-34-1h0m-97 13h0m53-2h0m9-4h0m12 0h0m112 13h0m-71-4h0m-12 0h0m-47 0h0m-39 12h0m96-5h0m4 4h0m57 1h0m9-6h0m25 12h0m-200-2h0m111 13h0m74-3h0m62 2h0m1-2h0m-47 7h0m-139 7h0m17 3h0m162 10h0m-23-4h0m-12 0h0m-15 0h0m-104-3h0m-42 7h0m-12-2h0m-46 2h0m54 8h0m101-2h0m89 1h0m10-2h0m-45 7h0m-7-2h0m-5 1h0m-25 0h0m-94-1h0m-14 5h0m-89-3h0m246 5h0m-190 11h0m-1-2h0m-4 0h0"/>
<path stroke="#03d70f" d="M210 163h0m22 9h0m-10 2h0m23 4h0m-24 13h0m120 4h0m-82 11h0m-54-1h0m-9-4h0m-1 10h0m156-2h0m28-1h0m-2 28h0m-132-3h0m-108 6h0m21 4h0m49 3h0m30 0h0m-72 5h0m23 11h0m30-1h0m30-3h0m28 2h0m11-3h0m-130 14h0m-20-1h0m-2 7h0m5-1h0m64-3h0m44 7h0m-121 13h0m44-1h0m70-3h0m30 6h0m17-7h0m14 8h0m-63 6h0m-61-1h0m-18-2h0m85 12h0m20-5h0m85 2h0m31-1h0m-24 12h0m-121-4h0m-23-1h0m-88 6h0m142 10h0m37 16h0"/>
<path stroke="#02eb00" d="M218 117h0m3 2h0m29 14h0m14-5h0m-4 10h0m-29-2h0m-11 1h0m41 12h0m-68 10h0m48 2h0m-52 17h0m45 7h0m-59-1h0m2 11h0m140 3h0m24-5h0m-60 11h0m-38 0h0m-76 3h0m10 3h0m29 0h0m115 7h0m-22 1h0m-72 11h0m37 2h0m19 0h0m20 6h0m-22-4h0m-71 3h0m-66 9h0m10-1h0m13 2h0m72-2h0m13 3h0m117-3h0m8 4h0m-99 2h0m-129 3h0m-20-3h0m60 13h0m11-2h0m164 4h0m-107 5h0m-150 8h0m24-5h0m24-1h0m11 0h0m27 2h0m36-1h0m109 5h0m43 1h0m-30 3h0m-42 5h0m-57-6h0m-101 14h0m69-6h0m11 2h0m76 1h0m27 2h0m-4 2h0m-53 3h0m-102 8h0m30 1h0m86-2h0m28 1h0m29 8h0m-55-2h0m-126 5h0m33 8h0m47-3h0m5 1h0m-77 6h0m-65 7h0m74 3h0m109 6h0m-126 1h0"/>
<path stroke="#19ef00" d="M204 102h0m38 4h0m-25 17h0m-23 6h0m58 11h0m-55-2h0m70 19h0m-74-2h0m-21 18h0m-12-2h0m15 11h0m53 17h0m13 3h0m-81-1h0m122 8h0m37 4h0m18-5h0m19 0h0m-112 13h0m-31-1h0m-4 3h0m-9-3h0m-1 2h0m-123 7h0m41-4h0m133 2h0m9 3h0m-60 4h0m-71 19h0m-54-3h0m117 13h0m144-7h0m-118 9h0m-114 7h0m14 2h0m96-2h0m6 4h0m50 0h0m106 5h0m-127 1h0m-122-1h0m219 19h0m-135 1h0m-13-1h0m-90-4h0m123 12h0m-112 19h0m99 3h0m-29 5h0m-92-3h0m-5-1h0m74 14h0"/>
<path stroke="#30f200" d="M257 116h0m-50 19h0m10-5h0m-2 7h0m27 13h0m-21 12h0m-51 17h0m160 4h0m23 23h0m-26-6h0m-2 7h0m-150-3h0m-1-1h0m63 6h0m82 6h0m-247 15h0m163 0h0m144 9h0m-253-6h0m192 20h0m24 10h0m-131 17h0m-38 6h0m-79 0h0m99 24h0"/>
<path stroke="#47f600" d="M197 99h0m33-3h0m-8 29h0m-46 2h0m44 6h0m33 4h0m-40 22h0m-1-7h0m-1 13h0m29 0h0m131 38h0m-247 13h0m20 18h0m-92 13h0m38 20h0m-6 22h0"/>
<path stroke="#5efa00" d="M218 107h0m-5 11h0m-5 10h0m-3 15h0m-47 8h0m6 11h0m9 2h0m4 3h0m63 7h0m-22-2h0m-67 35h0m-16 9h0m-1 9h0m-68 7h0m0 24h0m34 1h0m-3 18h0m-10 15h0"/>
<path stroke="#75fd00" d="M204 115h0m29 18h0m-7 8h0m-65 1h0m19 8h0m1 4h0m-12 1h0m-27 16h0m-11 1h0m32 14h0m-40 39h0m-6 17h0m0 6h0m-10 6h0m-15 17h0m-4 2h0"/>
<path stroke="#0a4f8e" d="M191 222h0m-23 0h0m161 19h0m-216 116h0"/>
<path stroke="#0d5d7a" d="M197 157h0m-6-2h0m22 33h0m-22 4h0m61 2h0m19 13h0m42 3h0m4 5h0m20-3h0m-67 5h0m-91 5h0m-30-1h0m188 4h0m-124 13h0m-11 1h0m159 2h0m-162 12h0m-16-1h0m31 7h0m3 3h0m11 5h0m17 6h0m27-1h0m28 5h0m16 6h0m-178 3h0m117 7h0m79-4h0m-248 14h0m11 5h0m3-3h0m224 2h0m8 6h0m-37 6h0m10 6h0m-33 7h0m-89-1h0m142 12h0"/>
<path stroke="#0f6c66" d="M196 168h0m33 9h0m-9 20h0m91 7h0m-14-1h0m-140 8h0m43 2h0m164 10h0m-84-2h0m-86-3h0m-10 11h0m137 10h0m-33-5h0m-43 4h0m-43 1h0m-21-2h0m57 10h0m85 7h0m-99-4h0m-38 5h0m61 15h0m-32-1h0m41 3h0m131 7h0m-145 8h0m-33-4h0m-33 1h0m-28 6h0m84 1h0m46-3h0m66 0h0m10 11h0m-157 9h0m52 3h0m96-6h0m-272 11h0m211 16h0m23 4h0"/>
<path stroke="#0e7f54" d="M306 181h0m-96 7h0m94 7h0m-145 8h0m165 20h0m35 15h0m-110 27h0m94 10h0m11 0h0m-60 9h0m-92-3h0m-9 5h0m107 4h0m-181 11h0m58 5h0m149-2h0m-13 20h0m57 11h0m-70-1h0m-16 4h0m37-1h0m-43 7h0"/>
<path stroke="#0b9543" d="M211 165h0m29 25h0m-80 24h0m198-1h0m-119 8h0m-64-1h0m82 13h0m-18 2h0m-59 16h0m185 19h0m-196 8h0m17 2h0m56 10h0m42 5h0m79 1h0m-141 6h0m-133-1h0m107 16h0m8 7h0m-15 14h0"/>
<path stroke="#08ab32" d="M190 116h0m15 39h0m-15 9h0m17 2h0m11 6h0m-33 7h0m93 11h0m-39-6h0m-55 2h0m-3 1h0m59 12h0m1 8h0m-3-2h0m-37-3h0m-45 0h0m72 10h0m2-2h0m21 3h0m-34 8h0m-8 1h0m91 3h0m41 9h0m-89 0h0m-109 0h0m85 11h0m4 0h0m117 2h0m-104 8h0m-113 4h0m22 1h0m39 2h0m170-6h0m6 0h0m-100 13h0m-21-3h0m-2 4h0m-44-2h0m-40 2h0m-45-2h0m-6 9h0m5-4h0m50 6h0m6-1h0m62-2h0m1 3h0m97 7h0m-89-2h0m0-3h0m-72 0h0m-37 2h0m-37 4h0m117 6h0m108-5h0m23 5h0m14 1h0m-25 4h0m-23 1h0m43 13h0m-174 5h0m137 6h0m40 9h0m-123 1h0m-114 5h0m40 4h0m19-5h0m109 7h0"/>
<path stroke="#05c121" d="M264 112h0m4 13h0m-72 9h0m-12 4h0m-2 14h0m34 24h0m2 6h0m115 6h0m-77 2h0m-77-6h0m-12 5h0m32 5h0m-23 20h0m33-2h0m15 3h0m5-4h0m131 9h0m-8 3h0m-186-5h0m-22-1h0m186 9h0m12 10h0m-217 5h0m63 2h0m41-3h0m126 6h0m-48 8h0m-27-4h0m-68 7h0m40 3h0m0 0h0m-22 4h0m-69 7h0m-33-6h0m64 9h0m135 2h0m45 11h0m-19-5h0m-86 5h0m-60 0h0m47 3h0m52-1h0m-34 10h0m-19-1h0m127 7h0m-9 13h0m-226-3h0m-6-2h0m112 7h0m67 6h0m0-4h0m-42 6h0m-71 6h0m-22 0h0m-4 1h0m149 3h0m15 1h0m9 1h0m-69 4h0m-177 4h0"/>
<path stroke="#03d70f" d="M188 127h0m-6 1h0m42 38h0m-19 14h0m97 4h0m-38 14h0m73 9h0m-61-1h0m-125 0h0m54 9h0m50-4h0m1 10h0m-30-5h0m-65 14h0m49 0h0m32-2h0m92 7h0m-1 3h0m-185 0h0m-10 5h0m16-2h0m67 6h0m27 0h0m73 3h0m-34 1h0m-55 4h0m-41-5h0m-38 5h0m-38 0h0m12 3h0m122 5h0m20-4h0m102 6h0m-38 2h0m-75 3h0m-16-2h0m-15-1h0m-115 0h0m14 8h0m42-2h0m92 3h0m50 1h0m25 2h0m28 4h0m-45-3h0m-107 7h0m127 2h0m35 8h0m-41 2h0m-23-2h0m-10 2h0m-7 2h0m-24 1h0m-100-4h0m147 6h0m9 5h0m11-3h0m-8 9h0m-159 2h0m197 17h0m-40-3h0m-61 4h0m-38-5h0m-65-1h0m145 8h0"/>
<path stroke="#02eb00" d="M183 133h0m64 9h0m-62 3h0m60 6h0m-2 20h0m-49 12h0m120 5h0m-66 3h0m20 5h0m83 3h0m-104 1h0m-2 5h0m-62-4h0m3 9h0m45-2h0m16 2h0m-6 9h0m-24 2h0m-71 5h0m3 0h0m59-1h0m8 5h0m15 0h0m2-6h0m102 5h0m19-1h0m-15 11h0m-118-2h0m-71-1h0m-1 1h0m208 17h0m-6-5h0m-23 3h0m-28-1h0m-144 1h0m34 4h0m43 6h0m148 9h0m-33-3h0m-5-3h0m-115 3h0m-33 3h0m-35-3h0m-42-4h0m0 1h0m-8 1h0m28 12h0m9-4h0m62 2h0m9 0h0m58-3h0m101 4h0m-16 4h0m-46 4h0m-2-5h0m-89 7h0m-37 0h0m45 3h0m80-1h0m31-1h0m25 3h0m-25 9h0m-46-4h0m-111 1h0m-103 8h0m92 3h0m29-3h0m8 1h0m22 3h0m100 7h0m-83-1h0m-20-1h0m-22 4h0m-131 2h0m225 0h0m-36 10h0m36 7h0m13 6h0"/>
<path stroke="#19ef00" d="M234 100h0m-20 11h0m-32 5h0m34-1h0m23-1h0m15 4h0m7 7h0m-30 1h0m4 2h0m9 4h0m2-1h0m-20 18h0m15 4h0m-4 4h0m-8 4h0m3 3h0m28-2h0m-8 12h0m-26-2h0m-39 10h0m93 7h0m-3-1h0m-9 3h0m-76-1h0m45 12h0m-32-2h0m-1 0h0m-41 4h0m104 6h0m77 1h0m11 12h0m-144-2h0m-39-4h0m-16 8h0m0 3h0m22 0h0m88 6h0m-117 6h0m48 5h0m23 2h0m141-2h0m-140 4h0m-154 5h0m-15 1h0m69 6h0m114 4h0m-23 3h0m-5-3h0m-20 14h0m169-7h0m-269 22h0m265 0h0m-166 5h0m-81 12h0m222 2h0m-210 0h0m202 8h0m-214 31h0"/>
<path stroke="#30f200" d="M229 100h0m31 21h0m-34 0h0m4 14h0m-17 2h0m26 8h0m3 1h0m-62 35h0m23-5h0m108 6h0m-54 17h0m63 15h0m-97 8h0m-77 9h0m178 20h0m-276 8h0m322 2h0m-155 4h0m-157 3h0m177 7h0m9 11h0m70 12h0m-49 3h0m-157 46h0"/>
<path stroke="#47f600" d="M231 108h0m-29 6h0m47 13h0m-6 28h0m-20-3h0m-13 3h0m-39 11h0m2-3h0m70 14h0m-98 28h0m-18 7h0m13-4h0m-42 50h0"/>
<path stroke="#5efa00" d="M216 98h0m21 6h0m-13 12h0m1-1h0m11 25h0m-29 16h0m-39 3h0m2 2h0m-3 12h0m-54 48h0m-61 22h0m16 16h0m18 13h0m12 1h0"/>
<path stroke="#75fd00" d="M211 118h0m24 23h0m-17 6h0m-59 18h0m20-5h0m42 1h0m13 0h0m-20 14h0m-38-4h0m-7 5h0m-12 14h0m-95 25h0m70-2h0m4-1h0m-18 18h0m-19 26h0m-24 26h0m1 17h0"/>
<path stroke="#8aff00" d="M218 100h0m-50 16h0m0-2h0m-17 17h0m18 21h0m-9 15h0m-1 8h0m-26 6h0m-15 15h0m10 3h0m19-6h0m-38 22h0"/>
<path stroke="#9eff00" d="M167 156h0m-39 4h0m26 7h0m-13 36h0m5 8h0m-49 18h0m32-2h0m-43 20h0m19 0h0m-26 28h0"/>
<path stroke="#b2ff00" d="M195 123h0m-45 1h0m19 23h0m-30 14h0m14-1h0m-30 10h0m-13 12h0m3-4h0m2-1h0m-27 36h0m23 1h0m-20 28h0m0 13h0m-9-5h0"/>
<path stroke="#c5ff00" d="M146 109h0m18 12h0m-18 2h0m6 11h0m20 4h0m-43 12h0m45 20h0m-19 0h0m-50 16h0m14 6h0m11 2h0m-14 8h0m-21 9h0m11 1h0m-12 10h0m-16 4h0m9 5h0m3 34h0"/>
<path stroke="#d9ff00" d="M139 109h0m9 10h0m12 1h0m14 20h0m-8 9h0m-47 3h0m-15 12h0m9-1h0m6 18h0m7 19h0m-24 19h0m-19 4h0m2 9h0m14 13h0"/>
<path stroke="#edff00" d="M164 114h0m1 6h0m-30 12h0m13 4h0m-6 1h0m-15 6h0m5 1h0m4 2h0m29 4h0m-5 4h0m-7-1h0m-2 11h0m-50 4h0m18 16h0m11 24h0m-28 10h0m-17 41h0"/>
<path stroke="#fffd00" d="M135 111h0m-38 26h0m69 7h0m-56 15h0m-10 6h0m2 8h0m8 20h0m22 4h0m-35 13h0m10 2h0m3 9h0"/>
<path stroke="#ffed00" d="M109 115h0m-2 21h0m48 17h0m-56 12h0m34 7h0m-39 1h0m16 4h0m-6 18h0m-22 15h0"/>
<path stroke="#ffdd00" d="M167 122h0m-54 22h0"/>
<path stroke="#ffcd00" d="M103 105h0m-14 61h0"/>
<path stroke="#ffbd00" d="M169 154h0m-80-2h0"/>
<path stroke="#ffad00" d="M101 151h0"/>
<path stroke="#8aff00" d="M211 121h0m-5 0h0m-79 26h0m0 10h0m21 12h0m-23 22h0m0 6h0m4-2h0m22-3h0m-67 38h0m-2 13h0m22 16h0"/>
<path stroke="#9eff00" d="M157 108h0m-27 51h0m-13-1h0m-7 30h0m-5 12h0m2 13h0m29 3h0m-51 7h0m-4 18h0m2 6h0m29 5h0"/>
<path stroke="#b2ff00" d="M144 121h0m-17 11h0m6 1h0m23 1h0m15-2h0m-6 4h0m-20 6h0m13 15h0m-31-2h0m-9 9h0m18 1h0m32 4h0m-18 14h0m-26 4h0m-14-2h0m-4 12h0m39-5h0m-56 11h0m-1 33h0"/>
<path stroke="#c5ff00" d="M160 119h0m1-2h0m0 2h0m18 3h0m-12 0h0m-8 24h0m-33 10h0m-8 4h0m28 4h0m-28 25h0m-20-4h0m41 11h0m-11 5h0m-7 12h0m-31 4h0m10 11h0m-3 16h0m-5 11h0m1 7h0"/>
<path stroke="#d9ff00" d="M145 133h0m20 3h0m-25 1h0m-12 7h0m27 3h0m14-1h0m-3 12h0m-15-2h0m-18-3h0m7 21h0m-35 9h0m26-7h0m1 5h0m-12 5h0m-14 5h0m9 5h0m-17 15h0m11 17h0m3 0h0m-23 11h0m-5 14h0"/>
<path stroke="#edff00" d="M129 136h0m31 15h0m-11 8h0m-23 11h0m-17 0h0m18 7h0m-17 13h0m-13 23h0m6 7h0m11 4h0m-32 9h0m17 12h0m-34 47h0"/>
<path stroke="#fffd00" d="M149 111h0m-27 20h0m-6 19h0m-8 16h0m18-5h0m-28 21h0m23 28h0m-29 8h0m-4 19h0"/>
<path stroke="#ffed00" d="M87 150h0m10-5h0m19 17h0m8 31h0m-14 7h0"/>
<path stroke="#ffdd00" d="M108 115h0m19 2h0m-17 55h0"/>
<path stroke="#ffcd00" d="M100 120h0m16 62h0"/>
<path stroke="#ffbd00" d="M117 107h0m-9 21h0"/>
<path stroke="#8aff00" d="M176 157h0m-57 10h0m43 4h0m0 11h0m-18 23h0m-26 24h0m11 5h0m-85 0h0m43 50h0m-13 2h0m-2 3h0"/>
<path stroke="#9eff00" d="M137 143h0m8 6h0m19 9h0m-23-6h0m68 17h0m-87 33h0m21 14h0m-32 1h0m-35 81h0"/>
<path stroke="#b2ff00" d="M169 123h0m-30 14h0m-1 32h0m1 7h0m-29 25h0m-17 14h0m22-5h0m21 0h0"/>
<path stroke="#c5ff00" d="M139 122h0m0 1h0m-7 3h0m44 3h0m-37 8h0m-9 13h0m24 4h0m-1-1h0m-7 6h0m-19 0h0m-13 6h0m10-4h0m-9 7h0m6 12h0m0-1h0m19 4h0m-41 7h0m-5 0h0m0 24h0m21 1h0m-38 66h0"/>
<path stroke="#d9ff00" d="M114 118h0m39 9h0m-5-5h0m-18 13h0m3-5h0m9 0h0m-5 40h0m-22 19h0m-1 22h0m0 1h0m13-2h0m-20 10h0m-9 8h0m6 0h0m-13 27h0m-11 8h0"/>
<path stroke="#edff00" d="M110 118h0m46 17h0m2 0h0m11 0h0m-49 16h0m41 0h0m-4 3h0m-62-1h0m23 20h0m21 12h0m-5 10h0m-48 56h0m1 13h0"/>
<path stroke="#fffd00" d="M93 132h0m22-1h0m-7 36h0m55-7h0m-14 9h0m-5 4h0"/>
<path stroke="#ffed00" d="M112 129h0m51 29h0m-56 27h0m10 17h0m-2 12h0"/>
<path stroke="#ffdd00" d="M123 112h0m43 17h0m-72 105h0"/>
</g>
</g>
<polygon points="303.25,271.14 312.06,272.48 314.82,276.65 309.6,287.55 306.54,291.5 297.36,298.75 296.79,293.4 297.43,280.59" fill="none" stroke="#555" stroke-width="0.8" stroke-linejoin="round"/>
<polygon points="283.95,285.28 294.96,286.51 296.19,288.85 295.96,298.79 287.25,306.91 280.06,305.49 279.39,302.63 280.06,289.6" fill="none" stroke="#555" stroke-width="0.8" stroke-linejoin="round"/>
<polygon points="309.37,286.84 314.82,286.36 323.11,289.52 325.64,298.72 318.48,303.67 308.4,300.91" fill="none" stroke="#555" stroke-width="0.8" stroke-linejoin="round"/>
<polygon points="327.47,299.91 346.69,301.7 347.33,307.65 349.85,332.7 338.18,345.02 314.36,340.03 312.99,334.97 309.77,323.13 321.68,307.65" fill="none" stroke="#555" stroke-width="0.8" stroke-linejoin="round"/>
<polygon points="277.6,311.45 282.19,310.07 286.31,311.89 284.98,322.8 279.03,326.04 275.37,320.12 275.6,314.57" fill="none" stroke="#555" stroke-width="0.8" stroke-linejoin="round"/>
<polyline points="279.03,326.04 278.53,334.67 288.14,344.24 308.8,337.91 312.99,334.97" fill="none" stroke="#555" stroke-width="0.8" stroke-linejoin="round"/>
<polyline points="290.44,341.56 284.98,323.28 286.71,313.72 289.97,303.67" fill="none" stroke="#111" stroke-width="0.9" stroke-linejoin="round"/>
<polyline points="287.25,306.91 296.19,299.28 309.6,287.55" fill="none" stroke="#111" stroke-width="0.9" stroke-linejoin="round"/>
<polyline points="305.94,292.46 307.21,299.72 308.4,300.91" fill="none" stroke="#111" stroke-width="0.9" stroke-linejoin="round"/>
<polyline points="289.97,303.67 303.25,314.57 309.77,323.13 312.99,334.97" fill="none" stroke="#111" stroke-width="0.9" stroke-linejoin="round"/>
<polyline points="303.25,314.57 307.84,303.67 308.4,300.91" fill="none" stroke="#111" stroke-width="0.9" stroke-linejoin="round"/>
<polyline points="309.77,323.13 321.68,307.65" fill="none" stroke="#111" stroke-width="0.9" stroke-linejoin="round"/>
<rect x="268.25" y="269.5" width="84" height="83" fill="none" stroke="#111" stroke-width="1.1"/>
<line x1="267.05" y1="349.52" x2="268.25" y2="349.52" stroke="#111" stroke-width="0.8" />
<line x1="265.85" y1="345.8" x2="268.25" y2="345.8" stroke="#111" stroke-width="0.8" />
<line x1="267.05" y1="342.08" x2="268.25" y2="342.08" stroke="#111" stroke-width="0.8" />
<line x1="267.05" y1="338.36" x2="268.25" y2="338.36" stroke="#111" stroke-width="0.8" />
<line x1="267.05" y1="334.63" x2="268.25" y2="334.63" stroke="#111" stroke-width="0.8" />
<line x1="267.05" y1="330.91" x2="268.25" y2="330.91" stroke="#111" stroke-width="0.8" />
<line x1="265.85" y1="327.19" x2="268.25" y2="327.19" stroke="#111" stroke-width="0.8" />
<line x1="267.05" y1="323.47" x2="268.25" y2="323.47" stroke="#111" stroke-width="0.8" />
<line x1="267.05" y1="319.75" x2="268.25" y2="319.75" stroke="#111" stroke-width="0.8" />
<line x1="267.05" y1="316.02" x2="268.25" y2="316.02" stroke="#111" stroke-width="0.8" />
<line x1="267.05" y1="312.3" x2="268.25" y2="312.3" stroke="#111" stroke-width="0.8" />
<line x1="265.85" y1="308.58" x2="268.25" y2="308.58" stroke="#111" stroke-width="0.8" />
<line x1="267.05" y1="304.86" x2="268.25" y2="304.86" stroke="#111" stroke-width="0.8" />
<line x1="267.05" y1="301.14" x2="268.25" y2="301.14" stroke="#111" stroke-width="0.8" />
<line x1="267.05" y1="297.41" x2="268.25" y2="297.41" stroke="#111" stroke-width="0.8" />
<line x1="267.05" y1="293.69" x2="268.25" y2="293.69" stroke="#111" stroke-width="0.8" />
<line x1="265.85" y1="289.97" x2="268.25" y2="289.97" stroke="#111" stroke-width="0.8" />
<line x1="267.05" y1="286.25" x2="268.25" y2="286.25" stroke="#111" stroke-width="0.8" />
<line x1="267.05" y1="282.53" x2="268.25" y2="282.53" stroke="#111" stroke-width="0.8" />
<line x1="267.05" y1="278.8" x2="268.25" y2="278.8" stroke="#111" stroke-width="0.8" />
<line x1="267.05" y1="275.08" x2="268.25" y2="275.08" stroke="#111" stroke-width="0.8" />
<line x1="265.85" y1="271.36" x2="268.25" y2="271.36" stroke="#111" stroke-width="0.8" />
<line x1="271.24" y1="352.5" x2="271.24" y2="353.7" stroke="#111" stroke-width="0.8" />
<line x1="274.57" y1="352.5" x2="274.57" y2="354.9" stroke="#111" stroke-width="0.8" />
<line x1="277.9" y1="352.5" x2="277.9" y2="353.7" stroke="#111" stroke-width="0.8" />
<line x1="281.22" y1="352.5" x2="281.22" y2="353.7" stroke="#111" stroke-width="0.8" />
<line x1="284.55" y1="352.5" x2="284.55" y2="353.7" stroke="#111" stroke-width="0.8" />
<line x1="287.88" y1="352.5" x2="287.88" y2="353.7" stroke="#111" stroke-width="0.8" />
<line x1="291.2" y1="352.5" x2="291.2" y2="354.9" stroke="#111" stroke-width="0.8" />
<line x1="294.53" y1="352.5" x2="294.53" y2="353.7" stroke="#111" stroke-width="0.8" />
<line x1="297.86" y1="352.5" x2="297.86" y2="353.7" stroke="#111" stroke-width="0.8" />
<line x1="301.18" y1="352.5" x2="301.18" y2="353.7" stroke="#111" stroke-width="0.8" />
<line x1="304.51" y1="352.5" x2="304.51" y2="353.7" stroke="#111" stroke-width="0.8" />
<line x1="307.84" y1="352.5" x2="307.84" y2="354.9" stroke="#111" stroke-width="0.8" />
<line x1="311.16" y1="352.5" x2="311.16" y2="353.7" stroke="#111" stroke-width="0.8" />
<line x1="314.49" y1="352.5" x2="314.49" y2="353.7" stroke="#111" stroke-width="0.8" />
<line x1="317.82" y1="352.5" x2="317.82" y2="353.7" stroke="#111" stroke-width="0.8" />
<line x1="321.15" y1="352.5" x2="321.15" y2="353.7" stroke="#111" stroke-width="0.8" />
<line x1="324.47" y1="352.5" x2="324.47" y2="354.9" stroke="#111" stroke-width="0.8" />
<line x1="327.8" y1="352.5" x2="327.8" y2="353.7" stroke="#111" stroke-width="0.8" />
<line x1="331.13" y1="352.5" x2="331.13" y2="353.7" stroke="#111" stroke-width="0.8" />
<line x1="334.45" y1="352.5" x2="334.45" y2="353.7" stroke="#111" stroke-width="0.8" />
<line x1="337.78" y1="352.5" x2="337.78" y2="353.7" stroke="#111" stroke-width="0.8" />
<line x1="341.11" y1="352.5" x2="341.11" y2="354.9" stroke="#111" stroke-width="0.8" />
<line x1="344.43" y1="352.5" x2="344.43" y2="353.7" stroke="#111" stroke-width="0.8" />
<line x1="347.76" y1="352.5" x2="347.76" y2="353.7" stroke="#111" stroke-width="0.8" />
<line x1="351.09" y1="352.5" x2="351.09" y2="353.7" stroke="#111" stroke-width="0.8" />
<text x="264.35" y="348.4" font-size="7.6" text-anchor="end" fill="#1a1a1a" class="b" >0</text>
<text x="274.27" y="362.1" font-size="7.6" text-anchor="middle" fill="#1a1a1a" class="b" >0</text>
<text x="264.35" y="329.79" font-size="7.6" text-anchor="end" fill="#1a1a1a" class="b" >5.0</text>
<text x="290.9" y="362.1" font-size="7.6" text-anchor="middle" fill="#1a1a1a" class="b" >5.0</text>
<text x="264.35" y="311.18" font-size="7.6" text-anchor="end" fill="#1a1a1a" class="b" >10</text>
<text x="307.54" y="362.1" font-size="7.6" text-anchor="middle" fill="#1a1a1a" class="b" >10</text>
<text x="264.35" y="292.57" font-size="7.6" text-anchor="end" fill="#1a1a1a" class="b" >15</text>
<text x="324.17" y="362.1" font-size="7.6" text-anchor="middle" fill="#1a1a1a" class="b" >15</text>
<text x="264.35" y="273.96" font-size="7.6" text-anchor="end" fill="#1a1a1a" class="b" >20</text>
<text x="340.81" y="362.1" font-size="7.6" text-anchor="middle" fill="#1a1a1a" class="b" >20</text>
<text x="309.05" y="162.2" font-size="9.5" text-anchor="middle" fill="#1a1a1a" class="b" >GC/JAK3</text>
<g transform="translate(382.6,170) scale(0.2)">
<g stroke-linecap="round" stroke-width="7.5" fill="none">
<path stroke="#0004e5" d="M232 108h0m-29 2h0m-98 32h0m18 6h0m88-1h0m-1 11h0m58 9h0m-15 47h0m-112 8h0m57 13h0m-112 4h0m66 12h0m-55 36h0m72 13h0m-81 13h0m-7 14h0m37-1h0m135-4h0m13 6h0m-181 1h0m165 13h0m18 2h0m-171 4h0m38 7h0m-24 5h0"/>
<path stroke="#000ce3" d="M112 109h0m27 14h0m65 5h0m-2 28h0m0 0h0m-23-2h0m-36 8h0m1-2h0m118 3h0m3 2h0m-59 7h0m-100-1h0m81 13h0m-81 37h0m127 8h0m-132 9h0m-45 2h0m17 14h0m-9-6h0m1 10h0m12 3h0m61 0h0m89 10h0m-134-5h0m15 7h0m23 4h0m-3 5h0m-56 7h0m14 10h0m-16-3h0m64 12h0m8 3h0m-32 7h0m-3-3h0m-44 1h0m65 11h0m11-3h0m117 11h0m-57-3h0m-81-2h0m-4 0h0m-13 7h0m186 4h0m-185 9h0m-3 1h0m18 2h0m1 1h0m3-1h0m-4 7h0"/>
<path stroke="#0015df" d="M210 101h0m39 10h0m-11-2h0m-130-3h0m89 10h0m6 2h0m-45 2h0m-10 10h0m4 1h0m47 2h0m57-1h0m-31 7h0m-87 0h0m22 9h0m52 1h0m12 16h0m-124 5h0m79 8h0m35 17h0m7 2h0m-78 8h0m-33-5h0m54 22h0m-57-5h0m-7 6h0m-43 4h0m27-1h0m59 4h0m-82 6h0m13 4h0m43 6h0m19-5h0m-59 15h0m67 1h0m10 12h0m-29-1h0m-57 3h0m-10 7h0m74-2h0m3 1h0m-10 23h0m-31-1h0m38 11h0m-56 13h0m42 4h0m26-7h0m163 2h0m-79 7h0m-98 4h0m-37-2h0m-15-1h0m64 7h0m7 2h0m135-1h0m24 1h0m-145 6h0m-37 4h0m2 8h0m-11 3h0"/>
<path stroke="#0324cb" d="M232 122h0m-144 9h0m65-1h0m-52 14h0m75 1h0m-27 29h0m85 29h0m-156 40h0m-6 16h0m44 6h0m-56 2h0m113 10h0m-79 18h0m51 0h0m140 4h0m-193 12h0m9-3h0m37 2h0m150-1h0m51 22h0m-20-3h0m-191 6h0m-36 1h0m-5 5h0m21-3h0m244 4h0m-219 5h0m-10 5h0"/>
<path stroke="#0532b7" d="M313 311h0m-55 1h0m19 21h0m75 4h0"/>
<path stroke="#0841a3" d="M271 290h0m25 13h0m-14 13h0"/>
<path stroke="#0a4f8e" d="M151 187h0m-86 70h0m220 16h0m-173 10h0m66 10h0m135 2h0m-1 6h0m-4-3h0m62 19h0m-27 4h0"/>
<path stroke="#0d5d7a" d="M163 107h0m47 9h0m-100 13h0m153 13h0m-19-3h0m-21 11h0m16 3h0m-75 0h0m62 17h0m-17 20h0m-98 0h0m-17 1h0m134 20h0m-97 9h0m-2-2h0m-64 3h0m-9 1h0m81 6h0m-22 10h0m71 12h0m-94 4h0m-13 5h0m2-2h0m0 5h0m4 1h0m46-1h0m84 4h0m-35 10h0m75 3h0m-82 2h0m-81 2h0m1 8h0m33 3h0m9-6h0m5 0h0m128 5h0m88 6h0m-235 0h0m-57 9h0m77-4h0m183 4h0m11-1h0m-224 16h0m4-2h0m-35 14h0m61 6h0m21 2h0m14-7h0m-25 15h0m-41-4h0m10 15h0"/>
<path stroke="#0f6c66" d="M225 114h0m-47 15h0m-25 18h0m31 4h0m-3 19h0m14 18h0m-38 11h0m63-5h0m-79 13h0m-50 1h0m11 6h0m63-5h0m45 6h0m38 8h0m-148-2h0m-4-3h0m-48 7h0m32 6h0m27-1h0m-52 14h0m12 3h0m8-5h0m155-1h0m-78 13h0m-7-2h0m-24-3h0m-13 10h0m-25 17h0m275 10h0m-249 1h0m222 3h0m32 4h0m5-2h0m-267 11h0m-14-6h0m-17 8h0m52 5h0m27-5h0m69 14h0m-106 18h0m34 0h0m62 0h0m-71 7h0"/>
<path stroke="#0e7f54" d="M230 111h0m-22 6h0m5 2h0m-34 3h0m41 27h0m1 0h0m37-2h0m-37 22h0m-120 9h0m46 2h0m7 10h0m-57 14h0m133 9h0m-90 3h0m-6 7h0m-38 6h0m42 2h0m17-1h0m39 9h0m-72 1h0m11 5h0m139 9h0m-185 5h0m167-1h0m46 9h0m-66-3h0m-130 9h0m6 4h0m236 11h0m23 2h0m3 7h0m-268 3h0m8 19h0m10 2h0m68 8h0m-55 2h0m-34 5h0m29 6h0m28 9h0m-62 4h0m23 7h0"/>
<path stroke="#0b9543" d="M204 105h0m3 14h0m48 8h0m-101 1h0m102 5h0m-124 10h0m42 7h0m-56 8h0m50 5h0m45 4h0m41 5h0m-8-3h0m-44 12h0m-87 10h0m67 6h0m41 2h0m18 6h0m-115 10h0m-7 16h0m14-5h0m162 13h0m-115-4h0m-99 8h0m12 2h0m50 2h0m89 1h0m-118 4h0m-14 7h0m203 4h0m-119 3h0m-32 0h0m-65 3h0m-24-2h0m36 10h0m250 12h0m-2 10h0m-273 3h0m282 9h0m-135 6h0m-107 1h0m-27 5h0m-3 13h0m67 2h0m-65 11h0m29 5h0"/>
<path stroke="#08ab32" d="M285 237h0m-34-5h0m51 17h0m28 18h0"/>
<path stroke="#05c121" d="M93 104h0m167 16h0m-63 4h0m39 14h0m-19-2h0m-77 2h0m-2 1h0m10 12h0m72-5h0m37 10h0m-88-4h0m-18 10h0m62 9h0m-10 2h0m21 7h0m-118 17h0m86-4h0m43 10h0m-66 4h0m-83 8h0m4-7h0m129 3h0m-85 11h0m-44 9h0m16-4h0m140-1h0m6 13h0m-90-7h0m-110 3h0m-9 7h0m41 4h0m3-3h0m150 3h0m24 6h0m-180 7h0m43 2h0m220-3h0m-12 8h0m-196 2h0m-4 0h0m-63 0h0m-7 2h0m4 2h0m20 6h0m138-6h0m15 3h0m-22 9h0m-26 0h0m-105-2h0m-14 5h0m57 8h0m110-6h0m-138 9h0m-5 3h0m-6 4h0m9 3h0m35-4h0m6 2h0m97 5h0m-90 12h0m17 11h0m-58-2h0m-37-1h0m63 11h0m2-6h0m26 5h0m-45 4h0"/>
<path stroke="#03d70f" d="M220 97h0m36 14h0m-159-6h0m73 22h0m-18 8h0m92 11h0m-7 10h0m-11-4h0m-24 0h0m-42 15h0m5-5h0m92 0h0m-143 11h0m-12-2h0m-10-3h0m157 23h0m-55-6h0m-53 9h0m-43 11h0m9 4h0m5 5h0m16-3h0m41-1h0m114 9h0m-166 3h0m60 7h0m80-3h0m27 7h0m-41 0h0m-70 3h0m-33 3h0m-27-6h0m-42 3h0m-19 0h0m-2 11h0m60-3h0m122-3h0m73 0h0m13 6h0m-216 5h0m-46 4h0m49 4h0m29 1h0m198-5h0m-90 9h0m-2 1h0m-97 2h0m-13 2h0m20 4h0m76 4h0m-128 8h0m-8 0h0m-6-5h0m149 10h0m-104 12h0m-21-2h0m-35-3h0m2 11h0m33 12h0m25 22h0m-32 7h0"/>
<path stroke="#02eb00" d="M164 105h0m-1 6h0m-60-1h0m36 6h0m49-2h0m38 1h0m-16 12h0m-27-4h0m-57 2h0m-26-2h0m10 7h0m103 0h0m5 20h0m-55 12h0m-67 9h0m22 5h0m116 7h0m-51 16h0m18-4h0m40 2h0m-92 9h0m-20-2h0m-16-3h0m38 13h0m37 4h0m-26 1h0m-76-3h0m-17 3h0m8 11h0m57-5h0m131-1h0m39 4h0m31 8h0m-14 3h0m-28-1h0m-167-5h0m-52 6h0m-13-6h0m4 12h0m199-5h0m-130 15h0m-1-5h0m-80-1h0m-2 7h0m57 1h0m10 5h0m23-6h0m30 15h0m-60-5h0m-20 3h0m-8-1h0m1 11h0m-13 12h0m15-1h0m-7 27h0m-7 10h0m25 2h0m46 17h0"/>
<path stroke="#19ef00" d="M156 115h0m71-2h0m3 10h0m-59 10h0m38-5h0m20 5h0m8 9h0m-7-1h0m-99 1h0m-22 6h0m135-4h0m2 13h0m-60 9h0m19-2h0m-53 14h0m70 12h0m-26 1h0m-47-5h0m-51 17h0m0 7h0m1 5h0m18-7h0m7 4h0m88-2h0m32 4h0m-79 2h0m-20 0h0m-43 4h0m36 10h0m138-3h0m49 6h0m-178 4h0m-18-5h0m-28 6h0m-19 3h0m51 11h0m-38-2h0m-32-2h0m68 15h0m71-5h0m-11 13h0m-99-4h0m-16-1h0m47 12h0m15 9h0m36 5h0m-2 6h0m-95 5h0m-3 5h0m57 37h0m-49 0h0"/>
<path stroke="#30f200" d="M152 116h0m-15 27h0m-14 7h0m7 1h0m69-5h0m4 2h0m-1 10h0m-23-3h0m57 9h0m-14 19h0m20-5h0m-10 6h0m-69 15h0m101 1h0m-176 14h0m26-2h0m207 6h0m-139 10h0m122-2h0m57-1h0m-146 14h0m-115-2h0m-47-3h0m57 7h0m-41 22h0m137 0h0m11 8h0m-5-4h0m-27 3h0m-100-1h0m38 10h0m11-6h0m8 8h0m-11 5h0m-62 0h0m40 2h0m21 6h0m6 6h0m-51 11h0m11-4h0m19 1h0m6-2h0m4 1h0m-7 33h0m34 9h0"/>
<path stroke="#47f600" d="M347 192h0"/>
<path stroke="#5efa00" d="M297 200h0m58 9h0m-31 11h0"/>
<path stroke="#75fd00" d="M302 191h0m33 4h0m37 11h0m7 7h0m-27 14h0"/>
<path stroke="#0004e5" d="M179 119h0m68-1h0m5 12h0m3 11h0m-163 25h0m156-3h0m-16 9h0m-25 40h0m-105 22h0m-23 13h0m5-7h0m-25 15h0m2 1h0m69 9h0m-77 8h0m106 3h0m90 0h0m-171 14h0m47 7h0m34 12h0m23-5h0m-32 9h0m-19 3h0m-17 0h0m-39 10h0m22-6h0m39 3h0m-63 10h0m40 9h0m16-4h0m134-1h0m-2 11h0m-113-2h0m-54 9h0"/>
<path stroke="#000ce3" d="M159 117h0m7 0h0m68 8h0m-16 5h0m-3 10h0m-1-4h0m-36 39h0m-26-7h0m-56 7h0m91 6h0m25 9h0m-14 1h0m-46 11h0m39 10h0m47 3h0m-159 4h0m128 20h0m-80 7h0m28-4h0m-39 11h0m-15-3h0m-9 3h0m-12-5h0m171 8h0m-166 15h0m-24-6h0m164 10h0m5 12h0m-24 0h0m-141 8h0m46-7h0m9 1h0m40 7h0m-27 7h0m-62-4h0m37 10h0m171 5h0m-144 4h0m-43-1h0m-23 2h0m25 8h0m11-2h0m2 0h0m149-4h0m3 2h0m22-1h0m-91 9h0m-38 4h0m-70-3h0m-1 7h0m37 1h0m186 5h0m-149 3h0m-10 3h0m-4-6h0m-16 1h0m-24 3h0m-2 1h0m7 8h0m207-6h0"/>
<path stroke="#0015df" d="M86 110h0m69 6h0m39 8h0m-16 3h0m64 6h0m-44 3h0m54 13h0m-153 7h0m2 7h0m17 0h0m2 1h0m34 1h0m52 7h0m-17 9h0m48 0h0m19-4h0m-103 7h0m-19 8h0m89 5h0m-80 6h0m-5 4h0m37 8h0m74-1h0m-121 6h0m-73 9h0m151 1h0m18-3h0m9 6h0m-69 3h0m-19-4h0m-47 15h0m22 7h0m131 4h0m-117 9h0m-8 9h0m20 10h0m-32 1h0m-3 7h0m0 1h0m108 16h0m49 3h0m-11-1h0m-187 9h0m67 2h0m34-2h0m102 2h0m18 5h0m-109 5h0m-64-2h0m-25-2h0m50 10h0m-3 10h0m-37 3h0m34 0h0"/>
<path stroke="#0324cb" d="M155 130h0m13 3h0m-14 15h0m78-4h0m4 4h0m-128 16h0m86 0h0m18 3h0m18 5h0m-87 9h0m53-5h0m43 1h0m3 8h0m-62 9h0m42 0h0m-73 57h0m-23 3h0m-55-4h0m45 7h0m8 5h0m-10 2h0m25 9h0m4 1h0m-36 20h0m119 2h0m-158 0h0m26 15h0m1-3h0m35-3h0m19 2h0m177 11h0m-9-3h0m-31-2h0m-182 13h0m5-4h0m22 3h0m178-4h0m-173 11h0m-38 18h0m48 2h0"/>
<path stroke="#0532b7" d="M280 301h0m-28 0h0m-3-1h0"/>
<path stroke="#0841a3" d="M256 296h0m33 20h0m-13-1h0m72 19h0m-48-6h0m54 9h0"/>
<path stroke="#0a4f8e" d="M231 122h0m-136 32h0m11 34h0m42 23h0m30 17h0m-61 24h0m-8 11h0m243 50h0m-34-1h0m27 16h0m-276 2h0"/>
<path stroke="#0d5d7a" d="M138 111h0m-10 13h0m-30 2h0m96 7h0m12-3h0m55-1h0m-108 7h0m19 8h0m-81 8h0m138 10h0m-4 6h0m-106 6h0m-23 0h0m17 3h0m71 13h0m28 5h0m14 8h0m-16 2h0m-125 5h0m35 3h0m-27 11h0m8 14h0m-12-4h0m-23 22h0m0 6h0m23 6h0m40 4h0m153 12h0m-95-3h0m-87 4h0m-23 6h0m75 1h0m213 3h0m-158 2h0m-36-1h0m-37 7h0m-18-7h0m235 8h0m-209 15h0m-38 0h0m-15-5h0m27 9h0m31 6h0m-73 5h0m-1-4h0m55 12h0m22 4h0m-21 3h0m-32-2h0"/>
<path stroke="#0f6c66" d="M220 103h0m-107 9h0m19 14h0m99 13h0m-136 4h0m82 13h0m-60 1h0m114 4h0m-53 7h0m67 13h0m-80 17h0m84 2h0m-40 6h0m-41 5h0m44 8h0m-109 8h0m108 2h0m27 10h0m-65 0h0m-84-7h0m56 10h0m-28 9h0m-37 0h0m-13 7h0m44 2h0m6 0h0m194 11h0m-230-6h0m-11-1h0m221 8h0m-38 13h0m-110 2h0m0-7h0m164 8h0m28 7h0m21 6h0m-7 2h0m-10-7h0m-223 10h0m215 8h0m-126 10h0m22 1h0m-82 6h0m-21-3h0m-1 3h0m-28 2h0m-21 1h0m69 5h0m64 1h0m-114 13h0"/>
<path stroke="#0e7f54" d="M169 118h0m94-2h0m-128 7h0m-3-1h0m57 17h0m-23-1h0m-40 8h0m43 12h0m-30-2h0m79 18h0m-111 2h0m6 4h0m103 1h0m1 15h0m15 9h0m-94-2h0m-12 1h0m-32 12h0m-11 11h0m1-1h0m54 5h0m-43 11h0m71-1h0m18 10h0m-33 1h0m-50 11h0m51-5h0m101 2h0m-41 8h0m-81 2h0m-42-2h0m26 7h0m6 0h0m218 1h0m-222 4h0m-33 10h0m33 5h0m6-7h0m47 11h0m-4 3h0m-17-4h0m-53 1h0m50 10h0m6 4h0m-7 0h0m-79 1h0m99 19h0m-69-4h0m-5 5h0"/>
<path stroke="#0b9543" d="M242 106h0m14 10h0m8 34h0m-69 2h0m-28 15h0m21 5h0m31 4h0m-11 17h0m32 10h0m-151 4h0m0 7h0m67 4h0m-36 3h0m-28-3h0m-28 0h0m151 7h0m-124 11h0m61 7h0m-105 16h0m74 0h0m45 0h0m73 1h0m32 0h0m69 11h0m-56-7h0m-228 8h0m276 4h0m-137 11h0m-13-1h0m-5 2h0m203 0h0m-158 8h0m-37 1h0m-20-1h0m-83 1h0m6 11h0m-3 13h0m63 9h0m14 11h0m30-2h0m-52 11h0m-25-1h0"/>
<path stroke="#08ab32" d="M246 230h0m55 20h0m-23 6h0m88 6h0m-27 13h0m40-1h0"/>
<path stroke="#05c121" d="M210 100h0m23 6h0m-40 26h0m-46 8h0m22 7h0m38-3h0m33 7h0m-56 15h0m-22 5h0m79 10h0m6 6h0m-49 3h0m-48 8h0m30 0h0m34 0h0m12 7h0m-13 1h0m-10 1h0m-47-6h0m-72 3h0m57 8h0m23 11h0m-30-7h0m-42 15h0m12-6h0m2 4h0m54-5h0m105 13h0m-5 1h0m-102-4h0m-77 4h0m53 5h0m9-2h0m-29 8h0m-31 5h0m-1-4h0m-1-2h0m2 15h0m27-1h0m225-2h0m36 10h0m-164 0h0m-97-2h0m-54-4h0m282 18h0m-266 13h0m45-2h0m29-3h0m38 6h0m-52 9h0m83 2h0m-104 8h0m-31-1h0m0 2h0m15 33h0"/>
<path stroke="#03d70f" d="M219 91h0m-39 35h0m-46 9h0m62 8h0m6 1h0m9 8h0m-100 8h0m109 9h0m-93 10h0m120 2h0m-104 10h0m73 2h0m21 5h0m0 1h0m9 2h0m-77 2h0m-81-2h0m3 9h0m102-2h0m48 7h0m12 0h0m26 8h0m-172-6h0m-39 0h0m23 13h0m30-3h0m26-1h0m86 13h0m-63-4h0m-126-3h0m57 12h0m18-2h0m222 4h0m-88 2h0m-60 1h0m-76 5h0m-7 4h0m10 2h0m36-4h0m55 9h0m-95 2h0m-63-3h0m39 15h0m19-1h0m37 0h0m25-4h0m-40 7h0m-20 8h0m131 8h0m-172 8h0m83 12h0m-57 27h0m30 15h0"/>
<path stroke="#02eb00" d="M158 113h0m1 7h0m9 15h0m2-6h0m4 0h0m52 6h0m43 1h0m-116 0h0m-13 13h0m72 8h0m-95 0h0m30 3h0m18 1h0m60 8h0m-24 4h0m-38 3h0m26 3h0m11-1h0m39 35h0m-31 4h0m-68 6h0m-7-5h0m-27 4h0m-45 5h0m3-1h0m74 2h0m12-4h0m111 4h0m36-1h0m-44 8h0m-103 4h0m-100-4h0m88 6h0m193-1h0m-202 15h0m-3-5h0m-29-2h0m-23 10h0m63 10h0m-81 1h0m64 5h0m47 13h0m-33-3h0m-43 10h0m35-5h0m36 9h0m-48 4h0m-42-1h0m-7-3h0m47 8h0m27-1h0m-20 21h0m-7 3h0m9 29h0m18-4h0"/>
<path stroke="#19ef00" d="M170 89h0m63 18h0m-44 12h0m77 6h0m-27-3h0m-75 3h0m9 6h0m16-2h0m7 9h0m-46 5h0m14 1h0m32 1h0m34 6h0m-90 11h0m20 1h0m75 4h0m-30 6h0m-59-2h0m-13-3h0m-11 2h0m-14 12h0m53 8h0m96 11h0m-50 4h0m-120 7h0m57 1h0m149 9h0m-157 1h0m-3 0h0m-20-5h0m-22 3h0m-3-4h0m43 10h0m122 4h0m-8 4h0m-104 3h0m-37 1h0m-30-2h0m-10 4h0m81 4h0m191-3h0m40-2h0m-202 14h0m-54-3h0m-62 8h0m29 1h0m8 1h0m79 6h0m-56 18h0m106 11h0m-90 4h0m-51 6h0m93 7h0m-68 5h0m-32 0h0m30 17h0m-17 7h0m4-6h0m3 2h0m25 0h0m-36 9h0m50 9h0"/>
<path stroke="#30f200" d="M229 99h0m-114 19h0m46 4h0m75 19h0m-144 3h0m40 1h0m120 5h0m7-2h0m-4 10h0m-50 9h0m-104 10h0m90 3h0m25 6h0m-3 1h0m4 10h0m25-1h0m6 10h0m-26 0h0m-3-1h0m-95 1h0m6 15h0m-71 2h0m-9 3h0m134 1h0m3 0h0m3-3h0m36 11h0m-91 5h0m6 7h0m3-7h0m-3 20h0m16 2h0m-30 6h0m-3-3h0m20 11h0m58 11h0m-75-4h0m-51 7h0m14 15h0m-5 19h0m84 8h0m-16-4h0"/>
<path stroke="#47f600" d="M306 201h0"/>
<path stroke="#5efa00" d="M320 194h0m12 18h0m29 15h0"/>
<path stroke="#75fd00" d="M288 187h0m3 9h0m22 1h0m53 7h0m-7-1h0m-39-3h0m29 14h0"/>
<path stroke="#0004e5" d="M253 114h0m-40 8h0m35 16h0m-126 10h0m-31 14h0m24 49h0m102 8h0m-150 11h0m58-5h0m109 5h0m7 0h0m-43 9h0m-47-2h0m-10 5h0m-87 6h0m10 12h0m180 1h0m-16 12h0m-73 13h0m-36 8h0m34-6h0m-74 9h0m159 20h0m-144-3h0m49 12h0m138 7h0m-100 2h0m-80 0h0m-20-2h0m14 5h0m168 2h0m5 6h0m-111 0h0m-18 4h0m-8-2h0m-31 0h0"/>
<path stroke="#000ce3" d="M214 101h0m15 6h0m-128 8h0m48 15h0m14 7h0m28 8h0m61 13h0m-67-1h0m27 24h0m-21 7h0m57 15h0m-123 2h0m-41 2h0m16 7h0m31-2h0m-51 7h0m-27 9h0m110-1h0m-102 7h0m-9 9h0m70 1h0m-4 5h0m-54 3h0m-7 4h0m176 6h0m-159 14h0m65-2h0m86 11h0m-150 17h0m25 9h0m42 5h0m-14 2h0m-57 4h0m16 0h0m7 4h0m23-3h0m19 2h0m9-3h0m13-2h0m78 4h0m-7 4h0m-68 7h0m-61-7h0m-9 5h0m-11 8h0m66-1h0m24-2h0m-39 8h0m-8 12h0m7-6h0m18 2h0"/>
<path stroke="#0015df" d="M140 110h0m32 7h0m16-3h0m41 3h0m-127 6h0m-10-1h0m97 18h0m83 5h0m-65 18h0m-82 6h0m61 20h0m-27 9h0m17-1h0m23 0h0m-121 18h0m140-5h0m-78 8h0m-69 13h0m127 2h0m-41-1h0m-64 3h0m26 8h0m30 10h0m-86 1h0m61 9h0m106-6h0m-85 7h0m-28 18h0m-34 5h0m5 4h0m118 8h0m-80 1h0m-43 3h0m206 2h0m-139 13h0m-15-1h0m-36 1h0m32 2h0m0 1h0m151 2h0m-20 7h0m-131 4h0m-23-6h0m-29 10h0m22 11h0m-15 6h0m51 5h0"/>
<path stroke="#0324cb" d="M118 127h0m47 5h0m46 13h0m-117 23h0m132 28h0m-101 20h0m127 16h0m-177 7h0m-20-1h0m-4 0h0m36 4h0m18 2h0m59 9h0m-20 2h0m-73 45h0m163 8h0m12-1h0m75 12h0m-147-2h0m-97 3h0m19 3h0m5 1h0m103-4h0m121 15h0m-19 0h0m-160 8h0m213-4h0m-33 8h0m-206-1h0"/>
<path stroke="#0532b7" d="M307 309h0m-28 7h0m54 12h0"/>
<path stroke="#0841a3" d="M236 280h0m36 16h0m-18 11h0m105 3h0m13 2h0m-25 4h0"/>
<path stroke="#0a4f8e" d="M247 123h0m-149 50h0m18 55h0m5 15h0m8 32h0m127 9h0m-62 3h0m86 4h0m48 10h0m-193 5h0m202 9h0m20 6h0m11 10h0m-261 2h0"/>
<path stroke="#0d5d7a" d="M190 118h0m50 13h0m-56 19h0m56 3h0m-92 7h0m23 2h0m40 7h0m-35 14h0m-30 6h0m-10 1h0m-39 23h0m39 7h0m-30-1h0m-2 2h0m-37 6h0m15 2h0m14 2h0m21-5h0m68 5h0m75 6h0m-121 2h0m16 15h0m-51 0h0m-54 0h0m2 3h0m214 11h0m-31 1h0m-119-2h0m-40-3h0m34 15h0m21-4h0m41-1h0m63 4h0m-145 10h0m17 5h0m34 2h0m1-2h0m189 2h0m-204 4h0m-1 0h0m-17 5h0m28 10h0m-17 0h0m-13 2h0m-19-3h0m61 11h0m-54 5h0m12 13h0m33 3h0m-6 2h0m-11 4h0m-18 5h0"/>
<path stroke="#0f6c66" d="M175 107h0m-25 28h0m98 7h0m-15-2h0m-90 4h0m111 4h0m-121 15h0m-17 12h0m-29 11h0m83 9h0m-14 6h0m-34 11h0m-5 4h0m-41 3h0m-11 5h0m45 3h0m119-1h0m-152 20h0m46 12h0m157 12h0m-138-1h0m-30-4h0m-37 6h0m64 7h0m146-3h0m41 0h0m11-3h0m-206 9h0m-40 2h0m-9 7h0m293 7h0m-297 4h0m-12-5h0m66 12h0m-21 5h0m-29 6h0m-19-5h0m88 17h0m-19 2h0m-18 4h0"/>
<path stroke="#0e7f54" d="M220 116h0m21 5h0m-81 22h0m-20-1h0m-30 8h0m46 0h0m105 2h0m-138 7h0m126 23h0m-147 9h0m36 3h0m99-2h0m-69 16h0m-36 10h0m-28 9h0m77-2h0m-33 11h0m-66 1h0m-18-1h0m-9 4h0m50 2h0m49-2h0m-95 17h0m15 5h0m13-1h0m235 5h0m-153 2h0m-115 6h0m36 4h0m7-5h0m16 5h0m7-2h0m130 0h0m56-2h0m-194 13h0m-16 0h0m-14-5h0m8 8h0m263 8h0m-113 4h0m-123 2h0m15 6h0m22-3h0m77 10h0m-48 2h0m-29 0h0m-30 0h0m-26 12h0m-8-2h0m-15-1h0m56 27h0"/>
<path stroke="#0b9543" d="M197 125h0m33 13h0m-90 7h0m40 22h0m61 0h0m-25 7h0m-93-1h0m14 17h0m7 7h0m11 1h0m-68 25h0m1 5h0m40-3h0m111 13h0m-86 0h0m-3-4h0m-35 3h0m-65 0h0m80 4h0m7 8h0m-78 9h0m55 5h0m41-3h0m100-2h0m29 5h0m-65 6h0m-151 2h0m245 2h0m-166 12h0m-75 9h0m166-2h0m143 0h0m-235 22h0m-1 4h0m-48-4h0m-8 1h0m16 12h0m32-5h0m18 12h0m-9-1h0m-35 8h0"/>
<path stroke="#08ab32" d="M247 253h0m115 17h0m-7 4h0"/>
<path stroke="#05c121" d="M121 100h0m53 14h0m52 11h0m-12-5h0m-39 13h0m9 1h0m10-4h0m23 3h0m46-5h0m-49 8h0m-9 4h0m-87-3h0m55 12h0m20 9h0m-102-3h0m28 8h0m11 3h0m42-6h0m29 6h0m43 8h0m-104-1h0m-7-3h0m-1-1h0m-10 16h0m109 9h0m-10 11h0m-60 0h0m-13 2h0m-35-7h0m-4 9h0m91 0h0m-3 14h0m-98 5h0m14-4h0m140 14h0m-131-3h0m-38 4h0m41 1h0m70 0h0m50 12h0m-76 1h0m-27-5h0m-80 7h0m39 8h0m9-5h0m1-2h0m207 2h0m11 1h0m-271 11h0m43 8h0m47-1h0m87 2h0m145 3h0m-249-1h0m-60 13h0m89-3h0m84 10h0m-152 5h0m46 4h0m27 0h0m-45 15h0m-35 25h0"/>
<path stroke="#03d70f" d="M222 92h0m-31 11h0m-95 11h0m139 9h0m-5-3h0m-91 3h0m-5 3h0m-35 13h0m2 19h0m150 28h0m-23-1h0m4 18h0m-62-2h0m-73 12h0m33-2h0m14 3h0m86-3h0m24 2h0m-107 4h0m-27 5h0m0-1h0m82 8h0m99 6h0m-9 4h0m-28-4h0m-17-1h0m-185 4h0m6 4h0m29-2h0m72 1h0m81 11h0m-124 2h0m-33-6h0m-10 7h0m-7 4h0m250 1h0m-257 5h0m16 11h0m8 1h0m30 1h0m20-2h0m23 7h0m-41-2h0m26 14h0m-14 7h0m-71 6h0m62-4h0m11 1h0m33 1h0m38-1h0m-138 28h0m66 3h0m-32 18h0"/>
<path stroke="#02eb00" d="M110 97h0m79 2h0m-19 16h0m10 11h0m-52 7h0m83 9h0m-91 4h0m5 2h0m46 0h0m20 15h0m22 6h0m-35 3h0m-29 1h0m-10-2h0m-19 0h0m-20 4h0m65 4h0m57 7h0m-4 0h0m-74 6h0m26 4h0m66 3h0m8 7h0m-20-1h0m-136 4h0m4 0h0m156 7h0m-178 12h0m7-4h0m24 4h0m212 6h0m-3 4h0m-154-5h0m-11 1h0m-30 4h0m-65-2h0m1 10h0m23 0h0m8-1h0m53-5h0m161 0h0m78 9h0m-10 4h0m-21-2h0m-246 10h0m33 0h0m19-5h0m-29 10h0m16 17h0m-35-3h0m-24 6h0m2 7h0m58 1h0m-6 8h0m-26-2h0m-36 7h0m30-1h0m3 2h0m5-2h0m18 14h0m15 7h0m1 2h0m-16 19h0"/>
<path stroke="#19ef00" d="M186 117h0m57 1h0m-80 9h0m-6-4h0m-4 0h0m65 8h0m-39 6h0m-97 10h0m135-3h0m11 6h0m38-3h0m-67 10h0m-65 13h0m93 13h0m-106 3h0m-30 8h0m130 4h0m14 1h0m24 3h0m-107 5h0m-40-6h0m77 8h0m3 5h0m95 0h0m-32 2h0m-79 6h0m-39-6h0m-16 7h0m-71 8h0m25 0h0m124-5h0m100 13h0m-68 0h0m-85-3h0m-43-1h0m-23 1h0m-11 7h0m237-1h0m-150 8h0m-5 3h0m-24 0h0m-47-4h0m-28 1h0m203 15h0m-17-1h0m-110 3h0m-62 1h0m79 12h0m-15 7h0m-58 1h0m10 4h0m9-3h0m61 7h0m-22 7h0m-55-6h0m69 14h0m15-7h0m59 5h0m-71 7h0m-31-2h0m0-2h0m-4 27h0m-12 15h0"/>
<path stroke="#30f200" d="M209 107h0m-1 13h0m-47 10h0m3 1h0m48-2h0m35 14h0m-7-2h0m-116 23h0m18-3h0m6 6h0m22 5h0m-65 8h0m98-3h0m-6 12h0m-8-1h0m-61 17h0m-25 2h0m-8 3h0m61 3h0m78-5h0m-49 11h0m-55 6h0m66 3h0m117-2h0m38-2h0m28 14h0m-107-4h0m-30 2h0m-155-1h0m-37 4h0m16 7h0m65-2h0m-28 8h0m-6 3h0m-30-4h0m-4 1h0m48 10h0m0-2h0m-39 6h0m74 19h0m-36 6h0m11-1h0m47-1h0m-105 9h0m88 29h0m-59 4h0"/>
<path stroke="#47f600" d="M378 224h0"/>
<path stroke="#5efa00" d="M263 197h0m17 2h0m53-4h0m-3 16h0"/>
<path stroke="#75fd00" d="M307 187h0m24 10h0m-11 5h0m-4 1h0m28 6h0"/>
<path stroke="#8aff00" d="M350 194h0m-16 14h0"/>
<path stroke="#9eff00" d="M367 195h0m7 5h0"/>
<path stroke="#b2ff00" d="M369 197h0"/>
<path stroke="#8aff00" d="M163 75h0"/>
<path stroke="#9eff00" d="M270 197h0m76-4h0"/>
<path stroke="#b2ff00" d="M355 202h0"/>
<path stroke="#c5ff00" d="M189 71h0"/>
<path stroke="#d9ff00" d="M183 68h0"/>
<path stroke="#ffdd00" d="M191 51h0"/>
<path stroke="#ff9900" d="M188 24h0"/>
<path stroke="#ff8100" d="M178 28h0"/>
<path stroke="#8aff00" d="M317 179h0m43 18h0m-4 10h0"/>
<path stroke="#9eff00" d="M378 209h0"/>
<path stroke="#b2ff00" d="M174 73h0"/>
</g>
</g>
<polygon points="417.6,171.64 426.41,172.98 429.17,177.15 423.95,188.05 420.89,192 411.71,199.25 411.14,193.9 411.78,181.09" fill="none" stroke="#555" stroke-width="0.8" stroke-linejoin="round"/>
<polygon points="398.3,185.78 409.31,187.01 410.54,189.35 410.31,199.29 401.6,207.41 394.41,205.99 393.74,203.13 394.41,190.1" fill="none" stroke="#555" stroke-width="0.8" stroke-linejoin="round"/>
<polygon points="423.72,187.34 429.17,186.86 437.46,190.02 439.99,199.22 432.83,204.17 422.75,201.41" fill="none" stroke="#555" stroke-width="0.8" stroke-linejoin="round"/>
<polygon points="441.82,200.41 461.04,202.2 461.68,208.15 464.2,233.2 452.53,245.52 428.71,240.53 427.34,235.47 424.12,223.63 436.03,208.15" fill="none" stroke="#555" stroke-width="0.8" stroke-linejoin="round"/>
<polygon points="391.95,211.95 396.54,210.57 400.66,212.39 399.33,223.3 393.38,226.54 389.72,220.62 389.95,215.07" fill="none" stroke="#555" stroke-width="0.8" stroke-linejoin="round"/>
<polyline points="393.38,226.54 392.88,235.17 402.49,244.74 423.15,238.41 427.34,235.47" fill="none" stroke="#555" stroke-width="0.8" stroke-linejoin="round"/>
<polyline points="404.79,242.06 399.33,223.78 401.06,214.22 404.32,204.17" fill="none" stroke="#111" stroke-width="0.9" stroke-linejoin="round"/>
<polyline points="401.6,207.41 410.54,199.78 423.95,188.05" fill="none" stroke="#111" stroke-width="0.9" stroke-linejoin="round"/>
<polyline points="420.29,192.96 421.56,200.22 422.75,201.41" fill="none" stroke="#111" stroke-width="0.9" stroke-linejoin="round"/>
<polyline points="404.32,204.17 417.6,215.07 424.12,223.63 427.34,235.47" fill="none" stroke="#111" stroke-width="0.9" stroke-linejoin="round"/>
<polyline points="417.6,215.07 422.19,204.17 422.75,201.41" fill="none" stroke="#111" stroke-width="0.9" stroke-linejoin="round"/>
<polyline points="424.12,223.63 436.03,208.15" fill="none" stroke="#111" stroke-width="0.9" stroke-linejoin="round"/>
<rect x="382.6" y="170" width="84" height="83" fill="none" stroke="#111" stroke-width="1.1"/>
<line x1="381.4" y1="250.02" x2="382.6" y2="250.02" stroke="#111" stroke-width="0.8" />
<line x1="380.2" y1="246.3" x2="382.6" y2="246.3" stroke="#111" stroke-width="0.8" />
<line x1="381.4" y1="242.58" x2="382.6" y2="242.58" stroke="#111" stroke-width="0.8" />
<line x1="381.4" y1="238.86" x2="382.6" y2="238.86" stroke="#111" stroke-width="0.8" />
<line x1="381.4" y1="235.13" x2="382.6" y2="235.13" stroke="#111" stroke-width="0.8" />
<line x1="381.4" y1="231.41" x2="382.6" y2="231.41" stroke="#111" stroke-width="0.8" />
<line x1="380.2" y1="227.69" x2="382.6" y2="227.69" stroke="#111" stroke-width="0.8" />
<line x1="381.4" y1="223.97" x2="382.6" y2="223.97" stroke="#111" stroke-width="0.8" />
<line x1="381.4" y1="220.25" x2="382.6" y2="220.25" stroke="#111" stroke-width="0.8" />
<line x1="381.4" y1="216.52" x2="382.6" y2="216.52" stroke="#111" stroke-width="0.8" />
<line x1="381.4" y1="212.8" x2="382.6" y2="212.8" stroke="#111" stroke-width="0.8" />
<line x1="380.2" y1="209.08" x2="382.6" y2="209.08" stroke="#111" stroke-width="0.8" />
<line x1="381.4" y1="205.36" x2="382.6" y2="205.36" stroke="#111" stroke-width="0.8" />
<line x1="381.4" y1="201.64" x2="382.6" y2="201.64" stroke="#111" stroke-width="0.8" />
<line x1="381.4" y1="197.91" x2="382.6" y2="197.91" stroke="#111" stroke-width="0.8" />
<line x1="381.4" y1="194.19" x2="382.6" y2="194.19" stroke="#111" stroke-width="0.8" />
<line x1="380.2" y1="190.47" x2="382.6" y2="190.47" stroke="#111" stroke-width="0.8" />
<line x1="381.4" y1="186.75" x2="382.6" y2="186.75" stroke="#111" stroke-width="0.8" />
<line x1="381.4" y1="183.03" x2="382.6" y2="183.03" stroke="#111" stroke-width="0.8" />
<line x1="381.4" y1="179.3" x2="382.6" y2="179.3" stroke="#111" stroke-width="0.8" />
<line x1="381.4" y1="175.58" x2="382.6" y2="175.58" stroke="#111" stroke-width="0.8" />
<line x1="380.2" y1="171.86" x2="382.6" y2="171.86" stroke="#111" stroke-width="0.8" />
<line x1="385.59" y1="253" x2="385.59" y2="254.2" stroke="#111" stroke-width="0.8" />
<line x1="388.92" y1="253" x2="388.92" y2="255.4" stroke="#111" stroke-width="0.8" />
<line x1="392.25" y1="253" x2="392.25" y2="254.2" stroke="#111" stroke-width="0.8" />
<line x1="395.57" y1="253" x2="395.57" y2="254.2" stroke="#111" stroke-width="0.8" />
<line x1="398.9" y1="253" x2="398.9" y2="254.2" stroke="#111" stroke-width="0.8" />
<line x1="402.23" y1="253" x2="402.23" y2="254.2" stroke="#111" stroke-width="0.8" />
<line x1="405.55" y1="253" x2="405.55" y2="255.4" stroke="#111" stroke-width="0.8" />
<line x1="408.88" y1="253" x2="408.88" y2="254.2" stroke="#111" stroke-width="0.8" />
<line x1="412.21" y1="253" x2="412.21" y2="254.2" stroke="#111" stroke-width="0.8" />
<line x1="415.53" y1="253" x2="415.53" y2="254.2" stroke="#111" stroke-width="0.8" />
<line x1="418.86" y1="253" x2="418.86" y2="254.2" stroke="#111" stroke-width="0.8" />
<line x1="422.19" y1="253" x2="422.19" y2="255.4" stroke="#111" stroke-width="0.8" />
<line x1="425.51" y1="253" x2="425.51" y2="254.2" stroke="#111" stroke-width="0.8" />
<line x1="428.84" y1="253" x2="428.84" y2="254.2" stroke="#111" stroke-width="0.8" />
<line x1="432.17" y1="253" x2="432.17" y2="254.2" stroke="#111" stroke-width="0.8" />
<line x1="435.5" y1="253" x2="435.5" y2="254.2" stroke="#111" stroke-width="0.8" />
<line x1="438.82" y1="253" x2="438.82" y2="255.4" stroke="#111" stroke-width="0.8" />
<line x1="442.15" y1="253" x2="442.15" y2="254.2" stroke="#111" stroke-width="0.8" />
<line x1="445.48" y1="253" x2="445.48" y2="254.2" stroke="#111" stroke-width="0.8" />
<line x1="448.8" y1="253" x2="448.8" y2="254.2" stroke="#111" stroke-width="0.8" />
<line x1="452.13" y1="253" x2="452.13" y2="254.2" stroke="#111" stroke-width="0.8" />
<line x1="455.46" y1="253" x2="455.46" y2="255.4" stroke="#111" stroke-width="0.8" />
<line x1="458.78" y1="253" x2="458.78" y2="254.2" stroke="#111" stroke-width="0.8" />
<line x1="462.11" y1="253" x2="462.11" y2="254.2" stroke="#111" stroke-width="0.8" />
<line x1="465.44" y1="253" x2="465.44" y2="254.2" stroke="#111" stroke-width="0.8" />
<text x="378.7" y="248.9" font-size="7.6" text-anchor="end" fill="#1a1a1a" class="b" >0</text>
<text x="388.62" y="262.6" font-size="7.6" text-anchor="middle" fill="#1a1a1a" class="b" >0</text>
<text x="378.7" y="230.29" font-size="7.6" text-anchor="end" fill="#1a1a1a" class="b" >5.0</text>
<text x="405.25" y="262.6" font-size="7.6" text-anchor="middle" fill="#1a1a1a" class="b" >5.0</text>
<text x="378.7" y="211.68" font-size="7.6" text-anchor="end" fill="#1a1a1a" class="b" >10</text>
<text x="421.89" y="262.6" font-size="7.6" text-anchor="middle" fill="#1a1a1a" class="b" >10</text>
<text x="378.7" y="193.07" font-size="7.6" text-anchor="end" fill="#1a1a1a" class="b" >15</text>
<text x="438.52" y="262.6" font-size="7.6" text-anchor="middle" fill="#1a1a1a" class="b" >15</text>
<text x="378.7" y="174.46" font-size="7.6" text-anchor="end" fill="#1a1a1a" class="b" >20</text>
<text x="455.16" y="262.6" font-size="7.6" text-anchor="middle" fill="#1a1a1a" class="b" >20</text>
<line x1="402.3" y1="168.5" x2="411.36" y2="173.71" stroke="#c8102e" stroke-width="2.6" />
<polygon points="415,175.8 410.06,175.96 412.65,171.45" fill="#c8102e"/>
<g transform="translate(382.6,269.5) scale(0.2)">
<g stroke-linecap="round" stroke-width="7.5" fill="none">
<path stroke="#0a4f8e" d="M295 239h0m-153 72h0m-25 49h0"/>
<path stroke="#0d5d7a" d="M187 184h0m168 25h0m-70 28h0m-87-2h0m-67 42h0m225 22h0m-270 0h0m46 11h0m2-2h0m-53 19h0m172-5h0m-168 7h0m50 26h0"/>
<path stroke="#0f6c66" d="M206 172h0m15 25h0m76 3h0m-44 14h0m-112 8h0m92 7h0m24-3h0m78 10h0m-30 5h0m13 6h0m-86 1h0m-80 3h0m-14 10h0m116-3h0m49 5h0m29 3h0m-77 13h0m-158 8h0m249 1h0m26 9h0m-60 4h0m-4-3h0m-139 2h0m201 17h0m-263-2h0m-19-2h0m51 11h0m117 11h0m-57-3h0m51 10h0m37-1h0m21-2h0m44 2h0m-84 3h0m-166 6h0m19 3h0m-10 7h0"/>
<path stroke="#0e7f54" d="M202 156h0m167 41h0m-35 11h0m-170 14h0m-21 8h0m133-3h0m-140 14h0m128-1h0m-37 31h0m-73-2h0m-46 4h0m24 3h0m3 1h0m-7 5h0m140 11h0m81-4h0m-255 10h0m188 17h0m-164 10h0m24 11h0m-45 11h0m20 5h0"/>
<path stroke="#0b9543" d="M262 163h0m-81 7h0m29 45h0m20-2h0m-86 44h0m-40 16h0m76 3h0m37 8h0m-91 10h0m9-6h0m-34 15h0m40 1h0m215 7h0m-49 11h0m-79 7h0m-98 4h0m-16-3h0m-22 5h0m16 2h0m41 2h0m-16 7h0m-15 8h0"/>
<path stroke="#08ab32" d="M188 114h0m9 10h0m-13 27h0m25 39h0m-14-2h0m19 7h0m20 8h0m-6 8h0m93 7h0m-73 5h0m-110 8h0m92 10h0m42 13h0m-86-4h0m-34 4h0m-7-2h0m89 12h0m-19 2h0m-83 2h0m-16-3h0m-6 12h0m-17 14h0m1 4h0m84-2h0m153-3h0m37 2h0m-276 19h0m30-1h0m-46 13h0m32-2h0m7 0h0m13 6h0m16-7h0m-16 14h0m-10-4h0m-40 0h0m23 7h0m62 8h0m-37 4h0m-3 2h0m-24 0h0m29 6h0m-11 3h0"/>
<path stroke="#05c121" d="M256 133h0m-77 45h0m23 3h0m100 10h0m-53 0h0m-27-1h0m-28-5h0m-37 14h0m63-5h0m127-2h0m-106 13h0m-90 9h0m14-5h0m-10 21h0m97 9h0m-37 0h0m-21 0h0m-32-7h0m-29 13h0m104 1h0m-116 3h0m10 13h0m0 1h0m201-7h0m-161 15h0m-46-3h0m48 9h0m51-5h0m61 1h0m73 13h0m-185-5h0m-42 5h0m-19-3h0m-3 4h0m31 1h0m173 7h0m56-5h0m-84 9h0m-160 1h0m-4-1h0m-17 1h0m-17-3h0m3 8h0m11 3h0m37 2h0m11-5h0m139 4h0m25 2h0m22-4h0m-225 11h0m8 9h0m148 1h0m-173 3h0m-24 0h0m18 9h0m47-4h0m74 1h0m-65 9h0m-28 8h0"/>
<path stroke="#03d70f" d="M258 147h0m-19 6h0m-53 13h0m71-4h0m-35 21h0m20-5h0m-50 15h0m9 2h0m22 4h0m18-2h0m42 22h0m-95-1h0m-51 10h0m109-2h0m115-1h0m-110 7h0m-195 8h0m246 9h0m-169 1h0m1 11h0m196 6h0m-30 0h0m-83 4h0m-74-3h0m-32-2h0m39 8h0m-41 14h0m36 7h0m126-5h0m92 4h0m-16 5h0m-51 4h0m-188-2h0m-7-3h0m120 19h0m-3 2h0m121 12h0m-20-3h0m-155 6h0m-63 2h0m11 1h0m6 3h0m14 2h0m14-5h0m16 6h0m190-6h0m-200 12h0m-15-5h0m-6 1h0m-21 2h0m-24 2h0m-4-4h0m38 17h0"/>
<path stroke="#02eb00" d="M256 111h0m4 9h0m-82 9h0m85 13h0m-26 0h0m-38 4h0m25 34h0m-28 11h0m-13 8h0m152-4h0m15-1h0m22 12h0m-108-6h0m-95 10h0m50 1h0m160 2h0m-241 17h0m166-2h0m21 5h0m-4 6h0m-37-6h0m-111 3h0m-33 3h0m-62 4h0m65 4h0m89-6h0m112 17h0m-153 13h0m-6-1h0m-49-2h0m-6 2h0m-64 2h0m33 5h0m127 1h0m-84 3h0m-44 5h0m31 9h0m1-1h0m44-2h0m59-1h0m6-2h0m-103 11h0m-61 9h0m10 2h0m36-5h0m19 0h0m97 5h0m87-3h0m-66 4h0m-144 6h0m-2 1h0m-33-2h0m-7 10h0m15-4h0m24 0h0m232-2h0m-237 11h0m24 10h0m11-1h0m143-3h0m-133 13h0"/>
<path stroke="#19ef00" d="M220 97h0m18 12h0m-25 10h0m31 25h0m13 12h0m-11 1h0m-67-2h0m26 9h0m60 1h0m-62 8h0m-21 24h0m185-2h0m7 5h0m-139 3h0m-23 7h0m32 4h0m80 6h0m-159-4h0m-3 3h0m-17-3h0m-11 9h0m131-1h0m39 2h0m-11 12h0m-50-5h0m-190 1h0m-1 1h0m82 20h0m-62 4h0m46 3h0m6-1h0m17-5h0m61 2h0m4 5h0m36 2h0m-2 1h0m-28 1h0m-28-1h0m-115 2h0m-7 2h0m61 9h0m0-1h0m11-5h0m105 2h0m-48 9h0m-19 14h0m-76 9h0m3 1h0m16 0h0m19-4h0m13 19h0m130 10h0m-87-4h0m-55 2h0m-2 12h0m27-2h0m16-5h0m-75 14h0m-5 5h0"/>
<path stroke="#30f200" d="M232 108h0m-2 3h0m-27 7h0m22-4h0m2-1h0m-48 9h0m20 11h0m30 0h0m27-1h0m-12 7h0m-19 0h0m-51 11h0m70-4h0m-7 10h0m-35 2h0m66 9h0m-14 5h0m-8-3h0m-12 14h0m-71 16h0m6 8h0m-92 23h0m105-2h0m170-1h0m-172 8h0m-33 2h0m-18-5h0m-77 4h0m-9 6h0m12 2h0m20-2h0m186 10h0m-128 0h0m-60 2h0m-20-5h0m55 10h0m44 7h0m-76 0h0m62 21h0m-46-4h0m37 20h0m-33-2h0m-19 2h0m-7-7h0m4 12h0m48 13h0m-25 8h0m-17 6h0m4 1h0m67 2h0m-36 7h0m4 17h0"/>
<path stroke="#47f600" d="M204 105h0m-1 5h0m-6 6h0m10 3h0m1-2h0m2-1h0m22 6h0m-22 5h0m20 14h0m-18 8h0m8-3h0m3 4h0m-2 19h0m11 15h0m-163 35h0m-21 6h0m9 2h0m76-1h0m44 3h0m-51 4h0m-11 5h0m-41 1h0m-13-3h0m0-3h0m-11 14h0m15-2h0m2 2h0m14-4h0m-17 5h0m-13 8h0m5 0h0m9 1h0m12-1h0m4 6h0m19-3h0m-37 8h0m-5 11h0m25-2h0m3 6h0m-2-1h0m-12 6h0m14 3h0m-13 8h0m52 9h0m-62 9h0m95 35h0"/>
<path stroke="#5efa00" d="M249 111h0m-23 4h0m29 12h0m-25-4h0m-54 22h0m42 5h0m8 2h0m-16 6h0m-8-2h0m-42 11h0m8-4h0m58 7h0m-13 1h0m-62 16h0m-23 24h0m-63 10h0m-9 1h0m63 9h0m-45 9h0m36 1h0m-8 11h0m-39-4h0m14 13h0m2-2h0m2 0h0m6 10h0m-19 2h0m-8-4h0m24 12h0m-12 10h0"/>
<path stroke="#75fd00" d="M209 128h0m4 2h0m23 8h0m-19-2h0m-6 11h0m9 2h0m1 0h0m-42 5h0m34 13h0m-61 11h0m-3 8h0m-8 8h0m2 11h0m-2 2h0m-1 9h0m-11 2h0m-29 3h0m13 12h0m-42 3h0m43 16h0m-49 6h0m4 5h0m36-3h0m3-3h0m-17 12h0m-5 9h0m-15 13h0m3 11h0"/>
<path stroke="#0a4f8e" d="M159 276h0m-24 42h0m-66 1h0m212 3h0m-18 15h0"/>
<path stroke="#0d5d7a" d="M187 181h0m11 10h0m25 6h0m34 4h0m-4 14h0m26 8h0m-72 16h0m-52 3h0m186 4h0m-90 10h0m-121 9h0m119 11h0m-43 11h0m-95 7h0m254 1h0m-85 6h0m-155-4h0m6 19h0m-56 10h0m22-6h0m39 3h0m16 12h0m-79-2h0m40 9h0m12 4h0"/>
<path stroke="#0f6c66" d="M206 172h0m-28 3h0m34 15h0m79 6h0m75 8h0m-191 11h0m74-1h0m83-2h0m-205 34h0m209-4h0m-85 16h0m-125 18h0m206 0h0m-221 12h0m9 1h0m40 7h0m22 8h0m169 0h0m-33 8h0m-168 1h0m-36 3h0m-20 11h0m13-2h0m22 13h0m175 7h0m-156 1h0m-47 3h0m-7 6h0"/>
<path stroke="#0e7f54" d="M198 136h0m-7 76h0m47 3h0m-32 15h0m47 1h0m-20 2h0m-88-1h0m80 43h0m114 0h0m-109 12h0m-84-1h0m-46-1h0m11 10h0m60 1h0m-38 7h0m26 6h0m172 5h0m14 14h0m-190 20h0m-56 2h0m7 8h0"/>
<path stroke="#0b9543" d="M256 116h0m-67 65h0m53 4h0m-62 9h0m37 2h0m-7 9h0m-3 7h0m8 13h0m-42 14h0m11 12h0m-68 6h0m15 13h0m8 3h0m4 14h0m83 9h0m-110 0h0m-21 12h0m13 1h0m38 0h0m-42 17h0m5-4h0m9 18h0m3 18h0"/>
<path stroke="#08ab32" d="M194 133h0m-5 6h0m6 13h0m-1 12h0m18 3h0m13 2h0m-7 5h0m27 7h0m-61 9h0m24 3h0m14 1h0m84 7h0m-57-1h0m-23 3h0m-58 8h0m71 2h0m-101 18h0m73-2h0m13-2h0m-60 9h0m-19 6h0m4 9h0m-23 3h0m-17 9h0m2-3h0m13 2h0m28-4h0m60 10h0m-85 0h0m-13-4h0m1 11h0m14-3h0m250 2h0m-126 11h0m-66-4h0m-44-1h0m-26 0h0m-3 7h0m-7 7h0m10 1h0m53 4h0m-4 3h0m-17-4h0m-53 1h0m-2 12h0m22-5h0m14-1h0m19 2h0m70 4h0m107 7h0m-40-5h0m-7 1h0m-209 8h0m67 2h0m34-2h0m138-1h0m-119 10h0m-21 1h0m-51 0h0m-25-2h0m-11 2h0m-1 7h0m40-1h0m140 10h0m-120-3h0m-43 5h0m5 3h0m34 0h0"/>
<path stroke="#05c121" d="M225 168h0m-29 8h0m-31 22h0m47-3h0m108 5h0m-74 1h0m-37 5h0m-61 5h0m64 8h0m-28 8h0m-41 14h0m23 0h0m-15 11h0m-34 8h0m249 2h0m-55 9h0m-104-1h0m-70-2h0m-3-1h0m-13 8h0m27 3h0m191-2h0m-248 18h0m61-2h0m25-4h0m158 7h0m-128 2h0m-42-1h0m-31 7h0m-22 3h0m205 9h0m-49-1h0m-11-1h0m-153 6h0m-12-2h0m39 8h0m128-2h0m-77 11h0m-46-2h0m-24-3h0m31 11h0m2 11h0m-5-1h0m-5 6h0m11-4h0m167 0h0"/>
<path stroke="#03d70f" d="M220 103h0m-31 16h0m58-1h0m-54 14h0m76 4h0m-73 9h0m39 22h0m13-4h0m-48 15h0m16 3h0m21 0h0m10 6h0m-31 6h0m1 4h0m103-3h0m-80 9h0m-8 2h0m-19 1h0m-6-1h0m-38-2h0m-13 15h0m4 6h0m18 4h0m9-1h0m3-3h0m56 6h0m-8 9h0m-5 0h0m-7-4h0m-56 0h0m-29 3h0m-7 5h0m10-3h0m232 0h0m-75 10h0m-108-1h0m-73 5h0m-3 0h0m-51 2h0m54 4h0m1-1h0m250 11h0m-31 1h0m-224-4h0m-60 2h0m55 9h0m32-4h0m1 2h0m147-4h0m-9 12h0m-80 3h0m-7 0h0m-77-2h0m5 3h0m3 1h0m181-1h0m-51 8h0m-4 5h0m-3-1h0m-65-4h0m-96 12h0m127-1h0m137 6h0m-176 0h0m-31 0h0m-65 3h0m25 9h0m11-2h0m3 3h0m137-5h0m17 3h0m18 5h0m-138-1h0m-6 1h0m-24 2h0m-17 4h0m-10-6h0m-22 5h0m19 2h0"/>
<path stroke="#02eb00" d="M234 125h0m-8 10h0m10 6h0m-40 2h0m36 1h0m8 7h0m12-2h0m-68 17h0m36 3h0m-32 3h0m59 9h0m-31 5h0m-36 12h0m57 1h0m5-3h0m117 7h0m-140 2h0m-16 2h0m-62 5h0m52-4h0m48 7h0m-77 8h0m-24 0h0m-79 4h0m89-3h0m147 3h0m-32 10h0m-115 2h0m-12 2h0m7 4h0m7-2h0m179-3h0m-78 8h0m-79 6h0m-57-3h0m136 9h0m18 0h0m7-4h0m57 4h0m-51 4h0m-110 3h0m-50-2h0m-14 3h0m24 16h0m-21 5h0m4 4h0m263-5h0m-24 13h0m-7 2h0m-10-7h0m-95 1h0m-20-1h0m-2 0h0m-88 4h0m-51 6h0m56-1h0m150 11h0m-13-1h0m-121 2h0m-3-4h0m-44 5h0m97 6h0m143 10h0m-203-3h0m-50 2h0m-6 9h0m7-4h0m32 4h0m79-2h0m147-3h0m-214 13h0m-11-1h0m-31-5h0m-1 3h0m42 7h0"/>
<path stroke="#19ef00" d="M229 99h0m4 8h0m0-1h0m30 10h0m3 9h0m-7 23h0m-4 10h0m-50 9h0m25 5h0m-52-4h0m-16 3h0m27 8h0m2 1h0m65-3h0m32 10h0m-75 0h0m-15 3h0m16 8h0m23 0h0m76-1h0m33-4h0m-98 13h0m-22-1h0m-70-4h0m193 13h0m-56 8h0m-85-5h0m-61 9h0m114 2h0m100-1h0m-116 8h0m-87-1h0m-23 6h0m6 7h0m-12 8h0m-49-7h0m-13 10h0m74 2h0m16 2h0m9-3h0m73 1h0m-119 14h0m53 0h0m9 12h0m-15 1h0m-34-6h0m-49 9h0m101 7h0m-23 1h0m-72 7h0m42 0h0m10 14h0m-31-4h0m-22-1h0m-13 4h0m9 6h0m0-3h0m142 4h0m73 3h0m-135 5h0m-17-3h0m-74 4h0m-5-4h0m93 11h0m30-2h0m-42 7h0m-55 3h0m-10-2h0m43 12h0"/>
<path stroke="#30f200" d="M239 122h0m-8 0h0m-42 7h0m53 4h0m10-3h0m-20 42h0m9 9h0m-88 3h0m69 22h0m-172 20h0m14 0h0m189 9h0m-189 6h0m62 9h0m-6 1h0m-38-1h0m-11 0h0m-12 5h0m51 7h0m46-6h0m55 9h0m-150 0h0m-5-1h0m-3 0h0m0 9h0m3-1h0m282 10h0m-211 1h0m19 7h0m-66 24h0m44 14h0m-33 6h0m-18-4h0m70 9h0m-28 10h0m-22 4h0"/>
<path stroke="#47f600" d="M180 126h0m26 4h0m55-1h0m-30 10h0m-35-1h0m11 6h0m45 6h0m12 0h0m-52 7h0m-1-5h0m18 10h0m2-1h0m-12 15h0m-58 14h0m194 12h0m-203 0h0m-14 5h0m-2 16h0m-16-2h0m-61 2h0m-4 6h0m83-1h0m122 10h0m-179 0h0m-37-6h0m40 8h0m35 2h0m-61 17h0m52-1h0m-18 21h0m-27 16h0m49 7h0m-46-6h0m-3 2h0"/>
<path stroke="#5efa00" d="M218 130h0m37 11h0m-40-1h0m-13 4h0m-1 29h0m-58 18h0m7 7h0m120-1h0m-206 21h0m10 19h0m-24-2h0m51 15h0m-21 1h0m-19 5h0m13 2h0m21 3h0m-6 7h0m-19-4h0m2 31h0m4-5h0m6 7h0m-11 2h0"/>
<path stroke="#75fd00" d="M219 91h0m-9 9h0m32 6h0m-63 13h0m15 5h0m-16 3h0m36 9h0m16 15h0m6-3h0m-140 27h0m47 28h0m-59 1h0m60 9h0m-14 8h0m-62-4h0m53 10h0m-42 20h0m35 2h0m-31 5h0m-36 5h0m38 12h0m-8 20h0m1-1h0m-6 11h0"/>
<path stroke="#0a4f8e" d="M333 195h0m-188 69h0m192 8h0m-131 27h0m-112 27h0m187 7h0"/>
<path stroke="#0d5d7a" d="M188 114h0m1 26h0m-4 17h0m33 53h0m36 3h0m-56 20h0m-57 9h0m-17 21h0m106-6h0m92 9h0m-183 8h0m89-1h0m78 1h0m69 23h0m-249 3h0m112 17h0m-99 33h0m-8-2h0m-8 10h0m7-6h0"/>
<path stroke="#0f6c66" d="M191 145h0m21 36h0m-21 7h0m-5 1h0m-27 9h0m197 9h0m-108-4h0m-31 16h0m-54 8h0m78 3h0m137-6h0m-86 15h0m4 1h0m47 11h0m-194 2h0m95 8h0m41 14h0m95 7h0m-155 3h0m-108-3h0m2 12h0m34-6h0m127 3h0m51 4h0m-248 8h0m59 13h0m-48-2h0m64 6h0m78 4h0m46-1h0m51 5h0m-27 7h0m-125 0h0m-80 0h0m-1-7h0m-9 5h0m-10 0h0m14 5h0m75 0h0m189 1h0m-259 9h0m48 6h0"/>
<path stroke="#0e7f54" d="M199 197h0m35 33h0m65 9h0m-101 0h0m-47-2h0m82 25h0m-78 24h0m-55 25h0m31 9h0m5 5h0m7 1h0m-63 15h0m77 5h0m-26 0h0"/>
<path stroke="#0b9543" d="M170 195h0m67-3h0m11 24h0m-98 18h0m-2 2h0m7 18h0m-41 9h0m152 5h0m-150-1h0m78 20h0m-104 3h0m27 14h0m37 3h0m135-2h0m-115 12h0m-24 1h0m-33 5h0m14-2h0m0 13h0m-52 4h0m67 5h0m-60 12h0m51 5h0"/>
<path stroke="#08ab32" d="M190 118h0m-6 32h0m-4 17h0m36 7h0m-5-5h0m-35 14h0m50 13h0m105 1h0m-72 5h0m-89-1h0m-14 0h0m131 13h0m-106 11h0m48 1h0m122-2h0m-91 13h0m-21 1h0m-85 2h0m41 0h0m-31 13h0m-53 9h0m12-4h0m157 12h0m-111-2h0m-59 11h0m3-1h0m7-2h0m9-1h0m2 0h0m224-1h0m-243 13h0m29 8h0m1-2h0m130 3h0m-32 6h0m-108 8h0m0-2h0m227 2h0m13 2h0m-51 7h0m-186-2h0m-7 1h0m-29 0h0m-11-5h0m-17 9h0m6-2h0m10 2h0m238 13h0m-164 0h0m-86-7h0m71 12h0"/>
<path stroke="#05c121" d="M229 107h0m-3 18h0m46 20h0m-96 52h0m184 0h0m-192 11h0m32 1h0m-53 8h0m55 12h0m50 3h0m-10 4h0m-85-4h0m-18 7h0m5 16h0m-68 4h0m253 0h0m-94 10h0m-16 0h0m-77 0h0m-30-4h0m27 13h0m9-1h0m24-3h0m141-1h0m13 2h0m-190 8h0m-5-2h0m-35 6h0m11 6h0m137 8h0m-118-2h0m-24 9h0m7-4h0m26 2h0m212 10h0m-201-2h0m-30 0h0m-5-1h0m-15 10h0m5 1h0m44-2h0m59-2h0m164 11h0m-260-3h0m155 12h0m-129 7h0m-14-1h0m-19 3h0"/>
<path stroke="#03d70f" d="M184 134h0m9 24h0m8 8h0m21 20h0m-1 12h0m15 1h0m-4 4h0m-8 2h0m-68 8h0m33-4h0m3 5h0m-7 17h0m14-5h0m102 9h0m-70 4h0m-86-5h0m-15 7h0m1 3h0m4-4h0m239 9h0m-223 4h0m-68 2h0m72 5h0m207 10h0m-124-6h0m-118 2h0m3 12h0m112 1h0m1 1h0m-90 5h0m-15-4h0m-30-1h0m67 9h0m70 3h0m143 0h0m-53 9h0m-191 1h0m-10-3h0m-35 7h0m142 2h0m12-1h0m61 2h0m-160 7h0m-10-2h0m-21-2h0m-34 7h0m55 3h0m125 8h0m-33-2h0m-74 6h0m-48-1h0m-9-2h0m13 10h0m215 6h0m-58-1h0m-128-1h0m-9 10h0"/>
<path stroke="#02eb00" d="M247 123h0m-6-2h0m-47 9h0m54 12h0m69 37h0m-10 8h0m-89-1h0m-21 3h0m-8-1h0m-34 10h0m89 8h0m-83-1h0m73 3h0m96 3h0m-133 12h0m-21-1h0m-100-3h0m120 9h0m183 10h0m-66-4h0m-3 4h0m-46-3h0m-11 3h0m-97-5h0m-3 5h0m-101 5h0m117-2h0m195 12h0m-114-1h0m-94-2h0m-14-2h0m-5 1h0m-10 4h0m-1 1h0m-74 3h0m12 3h0m47 0h0m38-4h0m106 2h0m29 5h0m34-5h0m-63 7h0m-127 2h0m-27 11h0m134 0h0m21 6h0m-90-1h0m-19 2h0m-56 4h0m19 2h0m27 3h0m14 1h0m9-4h0m193 7h0m-223 5h0m-25-3h0m23 4h0m10 6h0m6 1h0m28-5h0m38-1h0m8 4h0m119 6h0m-58 1h0m-48 1h0m-48 2h0m-38-1h0m-21 1h0m-17-3h0m-10-2h0m28 6h0m24 4h0m208-3h0m-265 10h0m-20 2h0m66 3h0m-15 15h0m-18 5h0"/>
<path stroke="#19ef00" d="M243 118h0m10-4h0m-23 24h0m-31 19h0m-8 6h0m16 0h0m34 4h0m3 7h0m-31-5h0m-35 3h0m25 5h0m48 9h0m-81 10h0m61-2h0m4 5h0m45 0h0m40 3h0m-4 1h0m-95 2h0m-73 2h0m196 2h0m34 0h0m-123 7h0m-70 3h0m-110 12h0m238-5h0m-167 10h0m-85-2h0m8 9h0m178 10h0m-78 0h0m-110 4h0m15 5h0m56-1h0m196-1h0m-183 16h0m107 0h0m-105 4h0m-15 7h0m-5-6h0m-4 9h0m31 6h0m-21 6h0m-24 4h0m52-2h0m6 6h0m89-3h0m-134 7h0m-31 1h0m-26-1h0m57 11h0m31 2h0m0 4h0m-5 2h0m-5-4h0m-9 4h0m-25 9h0m5-3h0m13 9h0m-25 6h0m6 0h0"/>
<path stroke="#30f200" d="M222 92h0m-2 24h0m15 7h0m5 8h0m-7 9h0m-16 4h0m37 4h0m12-1h0m-17 35h0m-21 3h0m35 12h0m-111 10h0m78 4h0m-165 13h0m6 7h0m45-3h0m156 6h0m-25 0h0m-183 2h0m-9 2h0m-5-1h0m1 9h0m4-6h0m251 2h0m-61 10h0m-141 2h0m-24-5h0m-18 6h0m-8-7h0m-2 2h0m20 16h0m25 7h0m-6 10h0m-9-1h0m17 24h0m40-1h0m15 14h0m-49 8h0m35 0h0m-50 2h0m24 8h0m-29 13h0"/>
<path stroke="#47f600" d="M175 107h0m37 22h0m5 4h0m46-5h0m-15 10h0m-1 5h0m-36-1h0m-32-5h0m-6 12h0m55 1h0m33 2h0m-21 1h0m-69 9h0m-34 54h0m-70 14h0m10-6h0m-26 14h0m-1-2h0m16 10h0m39-2h0m17 0h0m3-4h0m-58 11h0m-3 1h0m33 9h0m-21 3h0m-7 1h0m-3 3h0m-8 2h0m-4 4h0m29 13h0m5 4h0m-9 6h0m-4 5h0m20 27h0"/>
<path stroke="#5efa00" d="M191 103h0m23-2h0m-5 6h0m21 13h0m-16 0h0m-1 2h0m-5-2h0m10 11h0m34 27h0m-80 2h0m55 23h0m-83 14h0m0 17h0m-8 6h0m-16 2h0m-70 9h0m3-3h0m77-3h0m-15 12h0m-40 2h0m-13-1h0m41 14h0m-40 0h0m-6 4h0m2 2h0m42 5h0m10-7h0m-18 21h0m-16 9h0m-5 8h0m7-1h0m3-3h0m-4 11h0m-7-1h0m-5-4h0m-3 2h0"/>
<path stroke="#75fd00" d="M229 117h0m-49 9h0m-5 7h0m65 8h0m-26-5h0m-3 9h0m-69 16h0m2 31h0m-13 20h0m1 6h0m-65 9h0m50-1h0m11-1h0m-48 11h0m-12 6h0m6 4h0m3 0h0m28-4h0m-42 12h0m-13 0h0m40 24h0m-19 16h0m-2 13h0"/>
<path stroke="#8aff00" d="M152 116h0m4-1h0m-19 28h0m66 5h0m-38 14h0m59 3h0m12-1h0m-130 7h0m41 9h0m2 26h0m-15 16h0m0 1h0m-38-5h0m14 26h0m7 2h0m-25 21h0m-7 2h0m5 17h0m-26 22h0m6-3h0"/>
<path stroke="#9eff00" d="M163 107h0m-15 44h0m-47 27h0m53 12h0m-68 25h0m31-7h0m9 7h0m5 5h0m-47 6h0m16 11h0m22 3h0m-41 17h0m6 2h0m-18 27h0"/>
<path stroke="#b2ff00" d="M139 116h0m13 15h0m19 2h0m33-5h0m-81 22h0m28 12h0m-2 12h0m-35-1h0m-18-2h0m22 5h0m-20 27h0m14 11h0m-11 24h0m-17 8h0"/>
<path stroke="#c5ff00" d="M210 101h0m-62 29h0m4 5h0m-14 4h0m26 14h0m-21 9h0m20 0h0m-61 9h0m-2-1h0m29 34h0m-19-4h0m-13 4h0m5 10h0m5-5h0m7 3h0m3 10h0m-10-5h0m-5 3h0m-2 3h0m-14-7h0m7 29h0m2 5h0m-10 13h0m8 3h0m-10 2h0"/>
<path stroke="#d9ff00" d="M163 111h0m-5 9h0m-18 18h0m-2 1h0m-6 4h0m-2 8h0m23-4h0m16 5h0m-25 8h0m-33 30h0m-17 1h0m4 19h0m8 11h0m-26 10h0m27-1h0m-6 8h0"/>
<path stroke="#edff00" d="M183 123h0m-44 0h0m15 5h0m-23 14h0m29 6h0m42 4h0m-87 39h0m-17 14h0m-7 3h0m8 7h0m-9 16h0m6-2h0m-4 25h0"/>
<path stroke="#fffd00" d="M164 105h0m-76 26h0m22-1h0m43 0h0m-48 12h0m4 6h0m9 10h0m-26 10h0m-2 40h0m16 19h0m-20 12h0m-4 2h0"/>
<path stroke="#ffed00" d="M126 125h0m-25 19h0m22 4h0m-17 49h0m7 4h0m-25 13h0m-1 29h0"/>
<path stroke="#ffdd00" d="M103 110h0m67 17h0m-60 2h0m14 83h0"/>
<path stroke="#ffcd00" d="M112 109h0m-4-3h0"/>
<path stroke="#ffad00" d="M97 105h0"/>
<path stroke="#ff9900" d="M93 104h0m7 19h0"/>
<path stroke="#8aff00" d="M168 135h0m-29 21h0m28 11h0m-59 15h0m131-5h0m-111 43h0m-12 33h0m-50 9h0"/>
<path stroke="#9eff00" d="M164 125h0m-9 5h0m13 3h0m1 25h0m-52-1h0m88 16h0m-72-5h0m-20 12h0m50-4h0m-25 27h0m-4 13h0m-1 7h0m-39-7h0m37 11h0m-29 7h0m-13-2h0m28 20h0m-16 11h0m-12 5h0m-17 37h0m-6 9h0"/>
<path stroke="#b2ff00" d="M161 122h0m-11 21h0m-3-3h0m-21 6h0m14 16h0m14 3h0m6-2h0m5-2h0m-19 10h0m-12 21h0m-45 15h0m2 3h0m0 11h0m2 3h0m11 15h0m-13-3h0m4 6h0m3 5h0m-17 1h0"/>
<path stroke="#c5ff00" d="M155 116h0m11 1h0m-7 3h0m-61 6h0m36 9h0m36-6h0m4 0h0m-21 7h0m11 8h0m13 12h0m-50 23h0m-21 9h0m18 18h0m9 12h0m-27 4h0m-18-5h0m15 10h0m-6 21h0m-5 5h0m-9 10h0m-2 2h0"/>
<path stroke="#d9ff00" d="M138 111h0m-6 11h0m34 16h0m-34 7h0m37 2h0m-68 16h0m19 1h0m-7 13h0m30 4h0m-17 23h0m-38-3h0m19 16h0m-15 1h0m14 11h0m-5 15h0"/>
<path stroke="#edff00" d="M169 118h0m-52 39h0m-18-1h0m-8-4h0m20 8h0m7 3h0m29-3h0m-46 17h0m-14 35h0m26 6h0m-34 1h0m4 8h0m9 4h0m12-6h0m-3 13h0m-14 22h0"/>
<path stroke="#fffd00" d="M170 89h0m-35 34h0m-3 3h0m41 5h0m-20 5h0m-13 13h0m14-1h0m18-4h0m-50 26h0m-15 6h0m-18 38h0m31-1h0m-29 17h0"/>
<path stroke="#ffed00" d="M163 75h0m-5 38h0m1 4h0m-31 7h0m-36 20h0m0 22h0m16-2h0m44 4h0m-33 6h0m-34 36h0m-1 16h0m5 8h0"/>
<path stroke="#ffdd00" d="M191 51h0m-76 67h0m-20 36h0"/>
<path stroke="#ffcd00" d="M113 112h0m-18 31h0m1 31h0"/>
<path stroke="#ffbd00" d="M86 110h0"/>
<path stroke="#ffad00" d="M183 68h0m6 3h0"/>
<path stroke="#ff9900" d="M188 24h0"/>
<path stroke="#ff8100" d="M178 28h0"/>
<path stroke="#8aff00" d="M139 123h0m31 49h0m-36-2h0m31 9h0m-35 32h0m10 7h0m-15-2h0m-4 7h0m-51 5h0m52 7h0m-7 3h0m4 5h0m2 0h0m-3 6h0m-21 6h0m-29 16h0m4 17h0m10 4h0m-7 5h0"/>
<path stroke="#9eff00" d="M149 130h0m56 10h0m-56 33h0m-3 16h0m-18 16h0m-33 5h0m27 2h0m-2 9h0m-19 7h0m3-1h0m6 0h0m-60 12h0m60 19h0m-25 18h0m5 12h0m-24 20h0"/>
<path stroke="#b2ff00" d="M172 117h0m25 8h0m-40-2h0m6 14h0m-3 6h0m-36 21h0m9-1h0m15 4h0m-9 4h0m-6-1h0m-8-1h0m-9 6h0m-22-7h0m-3 26h0m22 6h0m-10 7h0m6 2h0m6 2h0m-28 24h0m-5 2h0m15 3h0m-10 21h0"/>
<path stroke="#c5ff00" d="M140 110h0m34 4h0m-21 9h0m-31 25h0m3 0h0m-24 10h0m29 8h0m10 7h0m-17 0h0m-2 13h0m17 8h0m-60 21h0m19-2h0m20 3h0m-13 5h0m21 4h0m-22 10h0m-19 4h0"/>
<path stroke="#d9ff00" d="M170 115h0m-30 27h0m-17 17h0m-4 4h0m13 6h0m-32 6h0m5 5h0m31 10h0m-11 15h0m-13-4h0m-28 6h0m22 12h0m-18 9h0m5 7h0m-11 10h0m-8 31h0"/>
<path stroke="#edff00" d="M164 131h0m-65 8h0m41 6h0m3-1h0m-52 11h0m57 5h0m-50 13h0m-10 36h0m12 5h0m-18 15h0m14 2h0m3-3h0m-12 14h0"/>
<path stroke="#fffd00" d="M163 127h0m-71-5h0m58 13h0m-32 2h0m-8 13h0m46 0h0m15-2h0m-84 38h0m-7 33h0m-5 52h0"/>
<path stroke="#ffed00" d="M189 99h0m-3 18h0m-52 9h0m-14 20h0m17 44h0m-35 1h0m-10 18h0m5 4h0"/>
<path stroke="#ffdd00" d="M110 97h0m11 3h0m7 33h0m37-1h0m-83 15h0m38 24h0m2 14h0m-35 38h0m6 25h0"/>
<path stroke="#ffcd00" d="M101 115h0m60 15h0m-70 32h0m22 62h0"/>
<path stroke="#ffbd00" d="M174 73h0m-56 54h0"/>
<path stroke="#ffad00" d="M96 114h0m6 9h0"/>
</g>
</g>
<polygon points="417.6,271.14 426.41,272.48 429.17,276.65 423.95,287.55 420.89,291.5 411.71,298.75 411.14,293.4 411.78,280.59" fill="none" stroke="#555" stroke-width="0.8" stroke-linejoin="round"/>
<polygon points="398.3,285.28 409.31,286.51 410.54,288.85 410.31,298.79 401.6,306.91 394.41,305.49 393.74,302.63 394.41,289.6" fill="none" stroke="#555" stroke-width="0.8" stroke-linejoin="round"/>
<polygon points="423.72,286.84 429.17,286.36 437.46,289.52 439.99,298.72 432.83,303.67 422.75,300.91" fill="none" stroke="#555" stroke-width="0.8" stroke-linejoin="round"/>
<polygon points="441.82,299.91 461.04,301.7 461.68,307.65 464.2,332.7 452.53,345.02 428.71,340.03 427.34,334.97 424.12,323.13 436.03,307.65" fill="none" stroke="#555" stroke-width="0.8" stroke-linejoin="round"/>
<polygon points="391.95,311.45 396.54,310.07 400.66,311.89 399.33,322.8 393.38,326.04 389.72,320.12 389.95,314.57" fill="none" stroke="#555" stroke-width="0.8" stroke-linejoin="round"/>
<polyline points="393.38,326.04 392.88,334.67 402.49,344.24 423.15,337.91 427.34,334.97" fill="none" stroke="#555" stroke-width="0.8" stroke-linejoin="round"/>
<polyline points="404.79,341.56 399.33,323.28 401.06,313.72 404.32,303.67" fill="none" stroke="#111" stroke-width="0.9" stroke-linejoin="round"/>
<polyline points="401.6,306.91 410.54,299.28 423.95,287.55" fill="none" stroke="#111" stroke-width="0.9" stroke-linejoin="round"/>
<polyline points="420.29,292.46 421.56,299.72 422.75,300.91" fill="none" stroke="#111" stroke-width="0.9" stroke-linejoin="round"/>
<polyline points="404.32,303.67 417.6,314.57 424.12,323.13 427.34,334.97" fill="none" stroke="#111" stroke-width="0.9" stroke-linejoin="round"/>
<polyline points="417.6,314.57 422.19,303.67 422.75,300.91" fill="none" stroke="#111" stroke-width="0.9" stroke-linejoin="round"/>
<polyline points="424.12,323.13 436.03,307.65" fill="none" stroke="#111" stroke-width="0.9" stroke-linejoin="round"/>
<rect x="382.6" y="269.5" width="84" height="83" fill="none" stroke="#111" stroke-width="1.1"/>
<line x1="381.4" y1="349.52" x2="382.6" y2="349.52" stroke="#111" stroke-width="0.8" />
<line x1="380.2" y1="345.8" x2="382.6" y2="345.8" stroke="#111" stroke-width="0.8" />
<line x1="381.4" y1="342.08" x2="382.6" y2="342.08" stroke="#111" stroke-width="0.8" />
<line x1="381.4" y1="338.36" x2="382.6" y2="338.36" stroke="#111" stroke-width="0.8" />
<line x1="381.4" y1="334.63" x2="382.6" y2="334.63" stroke="#111" stroke-width="0.8" />
<line x1="381.4" y1="330.91" x2="382.6" y2="330.91" stroke="#111" stroke-width="0.8" />
<line x1="380.2" y1="327.19" x2="382.6" y2="327.19" stroke="#111" stroke-width="0.8" />
<line x1="381.4" y1="323.47" x2="382.6" y2="323.47" stroke="#111" stroke-width="0.8" />
<line x1="381.4" y1="319.75" x2="382.6" y2="319.75" stroke="#111" stroke-width="0.8" />
<line x1="381.4" y1="316.02" x2="382.6" y2="316.02" stroke="#111" stroke-width="0.8" />
<line x1="381.4" y1="312.3" x2="382.6" y2="312.3" stroke="#111" stroke-width="0.8" />
<line x1="380.2" y1="308.58" x2="382.6" y2="308.58" stroke="#111" stroke-width="0.8" />
<line x1="381.4" y1="304.86" x2="382.6" y2="304.86" stroke="#111" stroke-width="0.8" />
<line x1="381.4" y1="301.14" x2="382.6" y2="301.14" stroke="#111" stroke-width="0.8" />
<line x1="381.4" y1="297.41" x2="382.6" y2="297.41" stroke="#111" stroke-width="0.8" />
<line x1="381.4" y1="293.69" x2="382.6" y2="293.69" stroke="#111" stroke-width="0.8" />
<line x1="380.2" y1="289.97" x2="382.6" y2="289.97" stroke="#111" stroke-width="0.8" />
<line x1="381.4" y1="286.25" x2="382.6" y2="286.25" stroke="#111" stroke-width="0.8" />
<line x1="381.4" y1="282.53" x2="382.6" y2="282.53" stroke="#111" stroke-width="0.8" />
<line x1="381.4" y1="278.8" x2="382.6" y2="278.8" stroke="#111" stroke-width="0.8" />
<line x1="381.4" y1="275.08" x2="382.6" y2="275.08" stroke="#111" stroke-width="0.8" />
<line x1="380.2" y1="271.36" x2="382.6" y2="271.36" stroke="#111" stroke-width="0.8" />
<line x1="385.59" y1="352.5" x2="385.59" y2="353.7" stroke="#111" stroke-width="0.8" />
<line x1="388.92" y1="352.5" x2="388.92" y2="354.9" stroke="#111" stroke-width="0.8" />
<line x1="392.25" y1="352.5" x2="392.25" y2="353.7" stroke="#111" stroke-width="0.8" />
<line x1="395.57" y1="352.5" x2="395.57" y2="353.7" stroke="#111" stroke-width="0.8" />
<line x1="398.9" y1="352.5" x2="398.9" y2="353.7" stroke="#111" stroke-width="0.8" />
<line x1="402.23" y1="352.5" x2="402.23" y2="353.7" stroke="#111" stroke-width="0.8" />
<line x1="405.55" y1="352.5" x2="405.55" y2="354.9" stroke="#111" stroke-width="0.8" />
<line x1="408.88" y1="352.5" x2="408.88" y2="353.7" stroke="#111" stroke-width="0.8" />
<line x1="412.21" y1="352.5" x2="412.21" y2="353.7" stroke="#111" stroke-width="0.8" />
<line x1="415.53" y1="352.5" x2="415.53" y2="353.7" stroke="#111" stroke-width="0.8" />
<line x1="418.86" y1="352.5" x2="418.86" y2="353.7" stroke="#111" stroke-width="0.8" />
<line x1="422.19" y1="352.5" x2="422.19" y2="354.9" stroke="#111" stroke-width="0.8" />
<line x1="425.51" y1="352.5" x2="425.51" y2="353.7" stroke="#111" stroke-width="0.8" />
<line x1="428.84" y1="352.5" x2="428.84" y2="353.7" stroke="#111" stroke-width="0.8" />
<line x1="432.17" y1="352.5" x2="432.17" y2="353.7" stroke="#111" stroke-width="0.8" />
<line x1="435.5" y1="352.5" x2="435.5" y2="353.7" stroke="#111" stroke-width="0.8" />
<line x1="438.82" y1="352.5" x2="438.82" y2="354.9" stroke="#111" stroke-width="0.8" />
<line x1="442.15" y1="352.5" x2="442.15" y2="353.7" stroke="#111" stroke-width="0.8" />
<line x1="445.48" y1="352.5" x2="445.48" y2="353.7" stroke="#111" stroke-width="0.8" />
<line x1="448.8" y1="352.5" x2="448.8" y2="353.7" stroke="#111" stroke-width="0.8" />
<line x1="452.13" y1="352.5" x2="452.13" y2="353.7" stroke="#111" stroke-width="0.8" />
<line x1="455.46" y1="352.5" x2="455.46" y2="354.9" stroke="#111" stroke-width="0.8" />
<line x1="458.78" y1="352.5" x2="458.78" y2="353.7" stroke="#111" stroke-width="0.8" />
<line x1="462.11" y1="352.5" x2="462.11" y2="353.7" stroke="#111" stroke-width="0.8" />
<line x1="465.44" y1="352.5" x2="465.44" y2="353.7" stroke="#111" stroke-width="0.8" />
<text x="378.7" y="348.4" font-size="7.6" text-anchor="end" fill="#1a1a1a" class="b" >0</text>
<text x="388.62" y="362.1" font-size="7.6" text-anchor="middle" fill="#1a1a1a" class="b" >0</text>
<text x="378.7" y="329.79" font-size="7.6" text-anchor="end" fill="#1a1a1a" class="b" >5.0</text>
<text x="405.25" y="362.1" font-size="7.6" text-anchor="middle" fill="#1a1a1a" class="b" >5.0</text>
<text x="378.7" y="311.18" font-size="7.6" text-anchor="end" fill="#1a1a1a" class="b" >10</text>
<text x="421.89" y="362.1" font-size="7.6" text-anchor="middle" fill="#1a1a1a" class="b" >10</text>
<text x="378.7" y="292.57" font-size="7.6" text-anchor="end" fill="#1a1a1a" class="b" >15</text>
<text x="438.52" y="362.1" font-size="7.6" text-anchor="middle" fill="#1a1a1a" class="b" >15</text>
<text x="378.7" y="273.96" font-size="7.6" text-anchor="end" fill="#1a1a1a" class="b" >20</text>
<text x="455.16" y="362.1" font-size="7.6" text-anchor="middle" fill="#1a1a1a" class="b" >20</text>
<text x="423.4" y="162.2" font-size="9.5" text-anchor="middle" fill="#1a1a1a" class="b" >GC/JAK3+IgRT</text>
<line x1="14.8" y1="172" x2="14.8" y2="315.5" stroke="#000" stroke-width="1.2"/>
<polygon points="14.8,167 12,174 17.6,174" fill="#000"/>
<text x="0" y="0" font-size="10.3" text-anchor="middle" fill="#111" class="b" textLength="32.6" lengthAdjust="spacingAndGlyphs" transform="translate(18.3,336.6) rotate(-90)">UMAP2</text>
<text x="39" y="373.8" font-size="10.3" text-anchor="start" fill="#111" class="b" textLength="31.6" lengthAdjust="spacingAndGlyphs" >UMAP1</text>
<line x1="72" y1="371" x2="462" y2="371" stroke="#000" stroke-width="1.2"/>
<polygon points="467.5,371 460.5,368.2 460.5,373.8" fill="#000"/>
<defs><linearGradient id="cb" x1="0" x2="1" y1="0" y2="0"><stop offset="0" stop-color="#0000e6"/><stop offset="0.06" stop-color="#0014e1"/><stop offset="0.22" stop-color="#107060"/><stop offset="0.36" stop-color="#00eb00"/><stop offset="0.5" stop-color="#80ff00"/><stop offset="0.66" stop-color="#ffff00"/><stop offset="0.8" stop-color="#ffa500"/><stop offset="0.97" stop-color="#ff0000"/><stop offset="1" stop-color="#ff0000"/></linearGradient></defs>
<text x="492.3" y="207" font-size="7" text-anchor="middle" fill="#222" class="b" >CRTH2</text>
<rect x="476.3" y="210.2" width="35.2" height="7.2" fill="url(#cb)"/>
<text x="492.3" y="307.5" font-size="7" text-anchor="middle" fill="#222" class="b" >CCR4</text>
<rect x="476.3" y="310.2" width="35.2" height="7.5" fill="url(#cb)"/>
<rect x="89" y="423.5" width="10.6" height="26.5" fill="#a78fc2"/>
<rect x="105.5" y="460" width="11.1" height="21.3" fill="#a3dea3"/>
<rect x="122.3" y="450.6" width="11.2" height="30.1" fill="#eb9aaa"/>
<rect x="139.1" y="473.9" width="10.9" height="18.2" fill="#8dabcf"/>
<line x1="85.9" y1="463.6" x2="156" y2="463.6" stroke="#111" stroke-width="1" stroke-dasharray="2.6 1.9"/>
<line x1="94.3" y1="419.4" x2="94.3" y2="423.5" stroke="#222" stroke-width="1.15" />
<line x1="94.3" y1="450" x2="94.3" y2="462.5" stroke="#222" stroke-width="1.15" />
<line x1="92.1" y1="419.4" x2="96.5" y2="419.4" stroke="#222" stroke-width="1.1" />
<line x1="92.1" y1="462.5" x2="96.5" y2="462.5" stroke="#222" stroke-width="1.1" />
<line x1="89.5" y1="441.9" x2="99.1" y2="441.9" stroke="#111" stroke-width="1.3" />
<line x1="111" y1="413.8" x2="111" y2="460" stroke="#222" stroke-width="1.15" />
<line x1="111" y1="481.3" x2="111" y2="484.4" stroke="#222" stroke-width="1.15" />
<line x1="108.8" y1="413.8" x2="113.2" y2="413.8" stroke="#222" stroke-width="1.1" />
<line x1="108.8" y1="484.4" x2="113.2" y2="484.4" stroke="#222" stroke-width="1.1" />
<line x1="106" y1="472.3" x2="116.1" y2="472.3" stroke="#111" stroke-width="1.3" />
<line x1="127.7" y1="443" x2="127.7" y2="450.6" stroke="#222" stroke-width="1.15" />
<line x1="127.7" y1="480.7" x2="127.7" y2="490.8" stroke="#222" stroke-width="1.15" />
<line x1="125.5" y1="443" x2="129.9" y2="443" stroke="#222" stroke-width="1.1" />
<line x1="125.5" y1="490.8" x2="129.9" y2="490.8" stroke="#222" stroke-width="1.1" />
<line x1="122.8" y1="472.3" x2="133" y2="472.3" stroke="#111" stroke-width="1.3" />
<line x1="144.4" y1="461.5" x2="144.4" y2="473.9" stroke="#222" stroke-width="1.15" />
<line x1="144.4" y1="492.1" x2="144.4" y2="492.3" stroke="#222" stroke-width="1.15" />
<line x1="142.2" y1="461.5" x2="146.6" y2="461.5" stroke="#222" stroke-width="1.1" />
<line x1="142.2" y1="492.3" x2="146.6" y2="492.3" stroke="#222" stroke-width="1.1" />
<line x1="139.6" y1="489.4" x2="149.5" y2="489.4" stroke="#111" stroke-width="1.3" />
<circle cx="94.15" cy="419.42" r="1.62" fill="#5a2483"/>
<circle cx="90.38" cy="423.06" r="1.62" fill="#5a2483"/>
<circle cx="95.09" cy="423.06" r="1.62" fill="#5a2483"/>
<circle cx="98.46" cy="423.06" r="1.62" fill="#5a2483"/>
<circle cx="93.08" cy="424.8" r="1.62" fill="#5a2483"/>
<circle cx="95.77" cy="425.07" r="1.62" fill="#5a2483"/>
<circle cx="90.38" cy="434.9" r="1.62" fill="#5a2483"/>
<circle cx="96.44" cy="434.9" r="1.62" fill="#5a2483"/>
<circle cx="92.4" cy="438.53" r="1.62" fill="#5a2483"/>
<circle cx="96.44" cy="438.53" r="1.62" fill="#5a2483"/>
<circle cx="90.38" cy="449.97" r="1.62" fill="#5a2483"/>
<circle cx="94.42" cy="449.97" r="1.62" fill="#5a2483"/>
<circle cx="98.46" cy="449.97" r="1.62" fill="#5a2483"/>
<circle cx="92.4" cy="450.38" r="1.62" fill="#5a2483"/>
<circle cx="95.5" cy="453.74" r="1.62" fill="#5a2483"/>
<circle cx="90.38" cy="459.53" r="1.62" fill="#5a2483"/>
<circle cx="98.19" cy="460.47" r="1.62" fill="#5a2483"/>
<circle cx="94.15" cy="462.49" r="1.62" fill="#5a2483"/>
<circle cx="110.98" cy="413.77" r="1.62" fill="#2db84a"/>
<circle cx="110.98" cy="459.8" r="1.62" fill="#2db84a"/>
<circle cx="106.53" cy="472.58" r="1.62" fill="#2db84a"/>
<circle cx="110.98" cy="472.85" r="1.62" fill="#2db84a"/>
<circle cx="115.28" cy="470.83" r="1.62" fill="#2db84a"/>
<circle cx="112.59" cy="482.01" r="1.62" fill="#2db84a"/>
<circle cx="109.23" cy="484.43" r="1.62" fill="#2db84a"/>
<circle cx="127.8" cy="442.97" r="1.62" fill="#d5123f"/>
<circle cx="127.8" cy="453.07" r="1.62" fill="#d5123f"/>
<circle cx="127.8" cy="469.62" r="1.62" fill="#d5123f"/>
<circle cx="125.38" cy="474.6" r="1.62" fill="#d5123f"/>
<circle cx="130.09" cy="477.29" r="1.62" fill="#d5123f"/>
<circle cx="127.8" cy="490.75" r="1.62" fill="#d5123f"/>
<circle cx="144.62" cy="461.55" r="1.62" fill="#1c5894"/>
<circle cx="144.62" cy="485.77" r="1.62" fill="#1c5894"/>
<circle cx="140.85" cy="489.41" r="1.62" fill="#1c5894"/>
<circle cx="144.22" cy="492.37" r="1.62" fill="#1c5894"/>
<circle cx="147.58" cy="492.1" r="1.62" fill="#1c5894"/>
<line x1="85.9" y1="389" x2="85.9" y2="495.8" stroke="#222" stroke-width="1.4" />
<line x1="85.2" y1="495.2" x2="153.5" y2="495.2" stroke="#222" stroke-width="1.4" />
<line x1="94.3" y1="495.2" x2="94.3" y2="497.8" stroke="#222" stroke-width="0.9" />
<line x1="111" y1="495.2" x2="111" y2="497.8" stroke="#222" stroke-width="0.9" />
<line x1="127.7" y1="495.2" x2="127.7" y2="497.8" stroke="#222" stroke-width="0.9" />
<line x1="144.4" y1="495.2" x2="144.4" y2="497.8" stroke="#222" stroke-width="0.9" />
<line x1="83.4" y1="495.2" x2="85.9" y2="495.2" stroke="#222" stroke-width="0.9" />
<text x="79" y="497.9" font-size="7.4" text-anchor="end" fill="#222" class="b" >0</text>
<line x1="83.4" y1="484.96" x2="85.9" y2="484.96" stroke="#222" stroke-width="0.9" />
<text x="79" y="487.66" font-size="7.4" text-anchor="end" fill="#222" class="b" >5</text>
<line x1="83.4" y1="474.72" x2="85.9" y2="474.72" stroke="#222" stroke-width="0.9" />
<text x="79" y="477.42" font-size="7.4" text-anchor="end" fill="#222" class="b" >10</text>
<line x1="83.4" y1="464.48" x2="85.9" y2="464.48" stroke="#222" stroke-width="0.9" />
<text x="79" y="467.18" font-size="7.4" text-anchor="end" fill="#222" class="b" >15</text>
<line x1="83.4" y1="454.24" x2="85.9" y2="454.24" stroke="#222" stroke-width="0.9" />
<text x="79" y="456.94" font-size="7.4" text-anchor="end" fill="#222" class="b" >20</text>
<line x1="83.4" y1="444" x2="85.9" y2="444" stroke="#222" stroke-width="0.9" />
<text x="79" y="446.7" font-size="7.4" text-anchor="end" fill="#222" class="b" >25</text>
<line x1="83.4" y1="433.76" x2="85.9" y2="433.76" stroke="#222" stroke-width="0.9" />
<text x="79" y="436.46" font-size="7.4" text-anchor="end" fill="#222" class="b" >30</text>
<line x1="83.4" y1="423.52" x2="85.9" y2="423.52" stroke="#222" stroke-width="0.9" />
<text x="79" y="426.22" font-size="7.4" text-anchor="end" fill="#222" class="b" >35</text>
<line x1="83.4" y1="413.28" x2="85.9" y2="413.28" stroke="#222" stroke-width="0.9" />
<text x="79" y="415.98" font-size="7.4" text-anchor="end" fill="#222" class="b" >40</text>
<line x1="83.4" y1="403.04" x2="85.9" y2="403.04" stroke="#222" stroke-width="0.9" />
<text x="79" y="405.74" font-size="7.4" text-anchor="end" fill="#222" class="b" >45</text>
<line x1="83.4" y1="392.8" x2="85.9" y2="392.8" stroke="#222" stroke-width="0.9" />
<text x="79" y="395.5" font-size="7.4" text-anchor="end" fill="#222" class="b" >50</text>
<line x1="95" y1="410.7" x2="108.5" y2="410.7" stroke="#333" stroke-width="1" />
<text x="102.55" y="409.6" font-size="5.6" text-anchor="middle" fill="#333" font-style="italic">n.s.</text>
<line x1="95" y1="405.6" x2="128.1" y2="405.6" stroke="#333" stroke-width="1" />
<text x="112.35" y="404.5" font-size="5.6" text-anchor="middle" fill="#333" font-style="italic">n.s.</text>
<line x1="95" y1="399.8" x2="143.9" y2="399.8" stroke="#333" stroke-width="1" />
<text x="119.45" y="401.3" font-size="5.8" text-anchor="middle" fill="#222" >***</text>
<line x1="111.1" y1="394.7" x2="128.1" y2="394.7" stroke="#333" stroke-width="1" />
<text x="120.4" y="393.6" font-size="5.6" text-anchor="middle" fill="#333" font-style="italic">n.s.</text>
<line x1="111.1" y1="388.5" x2="143.9" y2="388.5" stroke="#333" stroke-width="1" />
<text x="128.3" y="387.4" font-size="5.6" text-anchor="middle" fill="#333" font-style="italic">n.s.</text>
<text x="0" y="0" font-size="8.8" text-anchor="middle" fill="#1a1a1a" class="b" textLength="107.6" lengthAdjust="spacingAndGlyphs" transform="translate(64,444.7) rotate(-90)">% of naïve CD4<tspan font-size="6.4" dx="0.4" dy="-3.4">+</tspan><tspan dy="3.4"> T cells in CD45</tspan><tspan font-size="6.4" dx="0.4" dy="-3.4">+</tspan></text>
<text x="0" y="0" font-size="8.6" text-anchor="end" fill="#1a1a1a" class="b" transform="translate(98.1,503) rotate(-45)">HC</text>
<text x="0" y="0" font-size="8.6" text-anchor="end" fill="#1a1a1a" class="b" transform="translate(114.8,503) rotate(-45)">SCID other</text>
<text x="0" y="0" font-size="8.6" text-anchor="end" fill="#1a1a1a" class="b" transform="translate(131.5,503) rotate(-45)">GC/JAK3</text>
<text x="0" y="0" font-size="8.6" text-anchor="end" fill="#1a1a1a" class="b" transform="translate(148.2,503) rotate(-45)">GC/JAK3+IgRT</text>
<rect x="262.7" y="471.8" width="9.8" height="7.4" fill="#a78fc2"/>
<rect x="278.9" y="450.7" width="11.1" height="22.9" fill="#a3dea3"/>
<rect x="296.1" y="446.2" width="11" height="34.4" fill="#eb9aaa"/>
<rect x="313.2" y="459" width="11.2" height="26.7" fill="#8dabcf"/>
<line x1="267.4" y1="451" x2="267.4" y2="471.8" stroke="#222" stroke-width="1.15" />
<line x1="267.4" y1="479.2" x2="267.4" y2="486" stroke="#222" stroke-width="1.15" />
<line x1="265.2" y1="451" x2="269.6" y2="451" stroke="#222" stroke-width="1.1" />
<line x1="265.2" y1="486" x2="269.6" y2="486" stroke="#222" stroke-width="1.1" />
<line x1="263.2" y1="475.2" x2="272" y2="475.2" stroke="#111" stroke-width="1.3" />
<line x1="284.5" y1="426" x2="284.5" y2="450.7" stroke="#222" stroke-width="1.15" />
<line x1="284.5" y1="473.6" x2="284.5" y2="481.6" stroke="#222" stroke-width="1.15" />
<line x1="282.3" y1="426" x2="286.7" y2="426" stroke="#222" stroke-width="1.1" />
<line x1="282.3" y1="481.6" x2="286.7" y2="481.6" stroke="#222" stroke-width="1.1" />
<line x1="279.4" y1="458.8" x2="289.5" y2="458.8" stroke="#111" stroke-width="1.3" />
<line x1="301.5" y1="437.1" x2="301.5" y2="446.2" stroke="#222" stroke-width="1.15" />
<line x1="301.5" y1="480.6" x2="301.5" y2="488.4" stroke="#222" stroke-width="1.15" />
<line x1="299.3" y1="437.1" x2="303.7" y2="437.1" stroke="#222" stroke-width="1.1" />
<line x1="299.3" y1="488.4" x2="303.7" y2="488.4" stroke="#222" stroke-width="1.1" />
<line x1="296.6" y1="460.4" x2="306.6" y2="460.4" stroke="#111" stroke-width="1.3" />
<line x1="318.6" y1="456.3" x2="318.6" y2="459" stroke="#222" stroke-width="1.15" />
<line x1="318.6" y1="485.7" x2="318.6" y2="488" stroke="#222" stroke-width="1.15" />
<line x1="316.4" y1="456.3" x2="320.8" y2="456.3" stroke="#222" stroke-width="1.1" />
<line x1="316.4" y1="488" x2="320.8" y2="488" stroke="#222" stroke-width="1.1" />
<line x1="313.7" y1="478.3" x2="323.9" y2="478.3" stroke="#111" stroke-width="1.3" />
<circle cx="267.42" cy="450.96" r="1.62" fill="#5a2483"/>
<circle cx="265.4" cy="464.15" r="1.62" fill="#5a2483"/>
<circle cx="269.44" cy="462.13" r="1.62" fill="#5a2483"/>
<circle cx="267.42" cy="469.53" r="1.62" fill="#5a2483"/>
<circle cx="264.06" cy="473.16" r="1.62" fill="#5a2483"/>
<circle cx="267.42" cy="473.84" r="1.62" fill="#5a2483"/>
<circle cx="270.79" cy="473.84" r="1.62" fill="#5a2483"/>
<circle cx="266.08" cy="475.85" r="1.62" fill="#5a2483"/>
<circle cx="268.77" cy="476.53" r="1.62" fill="#5a2483"/>
<circle cx="264.06" cy="478.55" r="1.62" fill="#5a2483"/>
<circle cx="267.42" cy="479.22" r="1.62" fill="#5a2483"/>
<circle cx="270.79" cy="478.55" r="1.62" fill="#5a2483"/>
<circle cx="263.38" cy="482.18" r="1.62" fill="#5a2483"/>
<circle cx="267.42" cy="482.18" r="1.62" fill="#5a2483"/>
<circle cx="271.19" cy="482.58" r="1.62" fill="#5a2483"/>
<circle cx="267.42" cy="485.95" r="1.62" fill="#5a2483"/>
<circle cx="284.51" cy="426.06" r="1.62" fill="#2db84a"/>
<circle cx="284.51" cy="450.28" r="1.62" fill="#2db84a"/>
<circle cx="286.53" cy="455.26" r="1.62" fill="#2db84a"/>
<circle cx="282.63" cy="458.76" r="1.62" fill="#2db84a"/>
<circle cx="282.23" cy="473.16" r="1.62" fill="#2db84a"/>
<circle cx="286.53" cy="473.57" r="1.62" fill="#2db84a"/>
<circle cx="284.51" cy="481.64" r="1.62" fill="#2db84a"/>
<circle cx="301.47" cy="437.09" r="1.62" fill="#d5123f"/>
<circle cx="301.47" cy="448.94" r="1.62" fill="#d5123f"/>
<circle cx="301.47" cy="456.34" r="1.62" fill="#d5123f"/>
<circle cx="301.47" cy="464.82" r="1.62" fill="#d5123f"/>
<circle cx="301.47" cy="477.87" r="1.62" fill="#d5123f"/>
<circle cx="301.47" cy="488.37" r="1.62" fill="#d5123f"/>
<circle cx="318.57" cy="456.34" r="1.62" fill="#1c5894"/>
<circle cx="318.57" cy="460.38" r="1.62" fill="#1c5894"/>
<circle cx="318.57" cy="478.28" r="1.62" fill="#1c5894"/>
<circle cx="318.57" cy="483.93" r="1.62" fill="#1c5894"/>
<circle cx="318.57" cy="487.97" r="1.62" fill="#1c5894"/>
<line x1="259.1" y1="388" x2="259.1" y2="495.2" stroke="#222" stroke-width="1.4" />
<line x1="258.4" y1="494.6" x2="326.5" y2="494.6" stroke="#222" stroke-width="1.4" />
<line x1="267.4" y1="494.6" x2="267.4" y2="497.2" stroke="#222" stroke-width="0.9" />
<line x1="284.5" y1="494.6" x2="284.5" y2="497.2" stroke="#222" stroke-width="0.9" />
<line x1="301.5" y1="494.6" x2="301.5" y2="497.2" stroke="#222" stroke-width="0.9" />
<line x1="318.6" y1="494.6" x2="318.6" y2="497.2" stroke="#222" stroke-width="0.9" />
<line x1="256.6" y1="494.8" x2="259.1" y2="494.8" stroke="#222" stroke-width="0.9" />
<text x="252.2" y="497.5" font-size="7.4" text-anchor="end" fill="#222" class="b" >0</text>
<line x1="256.6" y1="485.45" x2="259.1" y2="485.45" stroke="#222" stroke-width="0.9" />
<text x="252.2" y="488.15" font-size="7.4" text-anchor="end" fill="#222" class="b" >2</text>
<line x1="256.6" y1="476.11" x2="259.1" y2="476.11" stroke="#222" stroke-width="0.9" />
<text x="252.2" y="478.81" font-size="7.4" text-anchor="end" fill="#222" class="b" >4</text>
<line x1="256.6" y1="466.76" x2="259.1" y2="466.76" stroke="#222" stroke-width="0.9" />
<text x="252.2" y="469.46" font-size="7.4" text-anchor="end" fill="#222" class="b" >6</text>
<line x1="256.6" y1="457.42" x2="259.1" y2="457.42" stroke="#222" stroke-width="0.9" />
<text x="252.2" y="460.12" font-size="7.4" text-anchor="end" fill="#222" class="b" >8</text>
<line x1="256.6" y1="448.07" x2="259.1" y2="448.07" stroke="#222" stroke-width="0.9" />
<text x="252.2" y="450.77" font-size="7.4" text-anchor="end" fill="#222" class="b" >10</text>
<line x1="256.6" y1="438.72" x2="259.1" y2="438.72" stroke="#222" stroke-width="0.9" />
<text x="252.2" y="441.42" font-size="7.4" text-anchor="end" fill="#222" class="b" >12</text>
<line x1="256.6" y1="429.38" x2="259.1" y2="429.38" stroke="#222" stroke-width="0.9" />
<text x="252.2" y="432.08" font-size="7.4" text-anchor="end" fill="#222" class="b" >14</text>
<line x1="256.6" y1="420.03" x2="259.1" y2="420.03" stroke="#222" stroke-width="0.9" />
<text x="252.2" y="422.73" font-size="7.4" text-anchor="end" fill="#222" class="b" >16</text>
<line x1="256.6" y1="410.69" x2="259.1" y2="410.69" stroke="#222" stroke-width="0.9" />
<text x="252.2" y="413.39" font-size="7.4" text-anchor="end" fill="#222" class="b" >18</text>
<line x1="256.6" y1="401.34" x2="259.1" y2="401.34" stroke="#222" stroke-width="0.9" />
<text x="252.2" y="404.04" font-size="7.4" text-anchor="end" fill="#222" class="b" >20</text>
<line x1="256.6" y1="391.99" x2="259.1" y2="391.99" stroke="#222" stroke-width="0.9" />
<text x="252.2" y="394.69" font-size="7.4" text-anchor="end" fill="#222" class="b" >22</text>
<line x1="269.5" y1="420.75" x2="282.5" y2="420.75" stroke="#333" stroke-width="1" />
<text x="276.8" y="419.65" font-size="5.6" text-anchor="middle" fill="#333" font-style="italic">n.s.</text>
<line x1="269.5" y1="414.5" x2="303" y2="414.5" stroke="#333" stroke-width="1" />
<text x="287.05" y="413.4" font-size="5.6" text-anchor="middle" fill="#333" font-style="italic">n.s.</text>
<line x1="269.5" y1="409.25" x2="318.75" y2="409.25" stroke="#333" stroke-width="1" />
<text x="294.93" y="408.15" font-size="5.6" text-anchor="middle" fill="#333" font-style="italic">n.s.</text>
<line x1="285.5" y1="403.25" x2="303" y2="403.25" stroke="#333" stroke-width="1" />
<text x="295.05" y="402.15" font-size="5.6" text-anchor="middle" fill="#333" font-style="italic">n.s.</text>
<line x1="285.5" y1="398" x2="318.75" y2="398" stroke="#333" stroke-width="1" />
<text x="302.93" y="396.9" font-size="5.6" text-anchor="middle" fill="#333" font-style="italic">n.s.</text>
<text x="0" y="0" font-size="8.8" text-anchor="middle" fill="#1a1a1a" class="b" textLength="59.5" lengthAdjust="spacingAndGlyphs" transform="translate(238.3,443.6) rotate(-90)">% of Th1 in CD45<tspan font-size="6.4" dx="0.4" dy="-3.4">+</tspan></text>
<text x="0" y="0" font-size="8.6" text-anchor="end" fill="#1a1a1a" class="b" transform="translate(271.2,502.4) rotate(-45)">HC</text>
<text x="0" y="0" font-size="8.6" text-anchor="end" fill="#1a1a1a" class="b" transform="translate(288.3,502.4) rotate(-45)">SCID other</text>
<text x="0" y="0" font-size="8.6" text-anchor="end" fill="#1a1a1a" class="b" transform="translate(305.3,502.4) rotate(-45)">GC/JAK3</text>
<text x="0" y="0" font-size="8.6" text-anchor="end" fill="#1a1a1a" class="b" transform="translate(322.4,502.4) rotate(-45)">GC/JAK3+IgRT</text>
<rect x="422.3" y="466.9" width="11.1" height="17.8" fill="#a78fc2"/>
<rect x="439.3" y="462" width="12.1" height="22.7" fill="#a3dea3"/>
<rect x="457.1" y="479.3" width="11.8" height="11.5" fill="#eb9aaa"/>
<rect x="474.9" y="442" width="11.1" height="40.6" fill="#8dabcf"/>
<line x1="427.7" y1="455.5" x2="427.7" y2="466.9" stroke="#222" stroke-width="1.15" />
<line x1="427.7" y1="484.7" x2="427.7" y2="493.7" stroke="#222" stroke-width="1.15" />
<line x1="425.5" y1="455.5" x2="429.9" y2="455.5" stroke="#222" stroke-width="1.1" />
<line x1="425.5" y1="493.7" x2="429.9" y2="493.7" stroke="#222" stroke-width="1.1" />
<line x1="422.8" y1="479.7" x2="432.9" y2="479.7" stroke="#111" stroke-width="1.3" />
<line x1="445.3" y1="419.5" x2="445.3" y2="462" stroke="#222" stroke-width="1.15" />
<line x1="445.3" y1="484.7" x2="445.3" y2="491.4" stroke="#222" stroke-width="1.15" />
<line x1="443.1" y1="419.5" x2="447.5" y2="419.5" stroke="#222" stroke-width="1.1" />
<line x1="443.1" y1="491.4" x2="447.5" y2="491.4" stroke="#222" stroke-width="1.1" />
<line x1="439.8" y1="486.1" x2="450.9" y2="486.1" stroke="#111" stroke-width="1.3" />
<line x1="462.8" y1="472.6" x2="462.8" y2="479.3" stroke="#222" stroke-width="1.15" />
<line x1="462.8" y1="490.8" x2="462.8" y2="491" stroke="#222" stroke-width="1.15" />
<line x1="460.6" y1="472.6" x2="465" y2="472.6" stroke="#222" stroke-width="1.1" />
<line x1="460.6" y1="491" x2="465" y2="491" stroke="#222" stroke-width="1.1" />
<line x1="457.6" y1="490.4" x2="468.4" y2="490.4" stroke="#111" stroke-width="1.3" />
<line x1="480.3" y1="430.6" x2="480.3" y2="442" stroke="#222" stroke-width="1.15" />
<line x1="480.3" y1="482.6" x2="480.3" y2="484" stroke="#222" stroke-width="1.15" />
<line x1="478.1" y1="430.6" x2="482.5" y2="430.6" stroke="#222" stroke-width="1.1" />
<line x1="478.1" y1="484" x2="482.5" y2="484" stroke="#222" stroke-width="1.1" />
<line x1="475.4" y1="481.9" x2="485.5" y2="481.9" stroke="#111" stroke-width="1.3" />
<circle cx="427.68" cy="455.54" r="1.62" fill="#5a2483"/>
<circle cx="423.69" cy="466.21" r="1.62" fill="#5a2483"/>
<circle cx="427.68" cy="464.08" r="1.62" fill="#5a2483"/>
<circle cx="431.52" cy="467.63" r="1.62" fill="#5a2483"/>
<circle cx="427.68" cy="469.77" r="1.62" fill="#5a2483"/>
<circle cx="424.4" cy="474.75" r="1.62" fill="#5a2483"/>
<circle cx="429.38" cy="475.46" r="1.62" fill="#5a2483"/>
<circle cx="423.69" cy="478.31" r="1.62" fill="#5a2483"/>
<circle cx="426.54" cy="479.73" r="1.62" fill="#5a2483"/>
<circle cx="430.1" cy="479.73" r="1.62" fill="#5a2483"/>
<circle cx="432.23" cy="479.02" r="1.62" fill="#5a2483"/>
<circle cx="423.69" cy="486.13" r="1.62" fill="#5a2483"/>
<circle cx="427.68" cy="486.85" r="1.62" fill="#5a2483"/>
<circle cx="432.23" cy="486.13" r="1.62" fill="#5a2483"/>
<circle cx="425.83" cy="488.27" r="1.62" fill="#5a2483"/>
<circle cx="429.38" cy="488.98" r="1.62" fill="#5a2483"/>
<circle cx="427.68" cy="493.68" r="1.62" fill="#5a2483"/>
<circle cx="445.32" cy="419.53" r="1.62" fill="#2db84a"/>
<circle cx="445.32" cy="461.94" r="1.62" fill="#2db84a"/>
<circle cx="445.32" cy="469.06" r="1.62" fill="#2db84a"/>
<circle cx="442.9" cy="486.13" r="1.62" fill="#2db84a"/>
<circle cx="448.6" cy="486.13" r="1.62" fill="#2db84a"/>
<circle cx="445.75" cy="488.27" r="1.62" fill="#2db84a"/>
<circle cx="443.62" cy="491.4" r="1.62" fill="#2db84a"/>
<circle cx="462.83" cy="472.62" r="1.62" fill="#d5123f"/>
<circle cx="462.83" cy="481.15" r="1.62" fill="#d5123f"/>
<circle cx="459.27" cy="490.4" r="1.62" fill="#d5123f"/>
<circle cx="462.83" cy="491.83" r="1.62" fill="#d5123f"/>
<circle cx="467.1" cy="490.4" r="1.62" fill="#d5123f"/>
<circle cx="480.33" cy="430.63" r="1.62" fill="#1c5894"/>
<circle cx="480.33" cy="452.98" r="1.62" fill="#1c5894"/>
<circle cx="476.35" cy="481.87" r="1.62" fill="#1c5894"/>
<circle cx="480.33" cy="484" r="1.62" fill="#1c5894"/>
<circle cx="484.17" cy="481.87" r="1.62" fill="#1c5894"/>
<line x1="419.1" y1="385.5" x2="419.1" y2="494.7" stroke="#222" stroke-width="1.4" />
<line x1="418.4" y1="494.1" x2="488.8" y2="494.1" stroke="#222" stroke-width="1.4" />
<line x1="427.7" y1="494.1" x2="427.7" y2="496.7" stroke="#222" stroke-width="0.9" />
<line x1="445.3" y1="494.1" x2="445.3" y2="496.7" stroke="#222" stroke-width="0.9" />
<line x1="462.8" y1="494.1" x2="462.8" y2="496.7" stroke="#222" stroke-width="0.9" />
<line x1="480.3" y1="494.1" x2="480.3" y2="496.7" stroke="#222" stroke-width="0.9" />
<line x1="416.6" y1="494.3" x2="419.1" y2="494.3" stroke="#222" stroke-width="0.9" />
<text x="412.2" y="497" font-size="7.4" text-anchor="end" fill="#222" class="b" >0</text>
<line x1="416.6" y1="485.5" x2="419.1" y2="485.5" stroke="#222" stroke-width="0.9" />
<text x="412.2" y="488.2" font-size="7.4" text-anchor="end" fill="#222" class="b" >2</text>
<line x1="416.6" y1="476.71" x2="419.1" y2="476.71" stroke="#222" stroke-width="0.9" />
<text x="412.2" y="479.41" font-size="7.4" text-anchor="end" fill="#222" class="b" >4</text>
<line x1="416.6" y1="467.91" x2="419.1" y2="467.91" stroke="#222" stroke-width="0.9" />
<text x="412.2" y="470.61" font-size="7.4" text-anchor="end" fill="#222" class="b" >6</text>
<line x1="416.6" y1="459.12" x2="419.1" y2="459.12" stroke="#222" stroke-width="0.9" />
<text x="412.2" y="461.82" font-size="7.4" text-anchor="end" fill="#222" class="b" >8</text>
<line x1="416.6" y1="450.32" x2="419.1" y2="450.32" stroke="#222" stroke-width="0.9" />
<text x="412.2" y="453.02" font-size="7.4" text-anchor="end" fill="#222" class="b" >10</text>
<line x1="416.6" y1="441.52" x2="419.1" y2="441.52" stroke="#222" stroke-width="0.9" />
<text x="412.2" y="444.22" font-size="7.4" text-anchor="end" fill="#222" class="b" >12</text>
<line x1="416.6" y1="432.73" x2="419.1" y2="432.73" stroke="#222" stroke-width="0.9" />
<text x="412.2" y="435.43" font-size="7.4" text-anchor="end" fill="#222" class="b" >14</text>
<line x1="416.6" y1="423.93" x2="419.1" y2="423.93" stroke="#222" stroke-width="0.9" />
<text x="412.2" y="426.63" font-size="7.4" text-anchor="end" fill="#222" class="b" >16</text>
<line x1="416.6" y1="415.14" x2="419.1" y2="415.14" stroke="#222" stroke-width="0.9" />
<text x="412.2" y="417.84" font-size="7.4" text-anchor="end" fill="#222" class="b" >18</text>
<line x1="416.6" y1="406.34" x2="419.1" y2="406.34" stroke="#222" stroke-width="0.9" />
<text x="412.2" y="409.04" font-size="7.4" text-anchor="end" fill="#222" class="b" >20</text>
<line x1="416.6" y1="397.54" x2="419.1" y2="397.54" stroke="#222" stroke-width="0.9" />
<text x="412.2" y="400.24" font-size="7.4" text-anchor="end" fill="#222" class="b" >22</text>
<line x1="416.6" y1="388.75" x2="419.1" y2="388.75" stroke="#222" stroke-width="0.9" />
<text x="412.2" y="391.45" font-size="7.4" text-anchor="end" fill="#222" class="b" >24</text>
<line x1="430" y1="415" x2="444.5" y2="415" stroke="#333" stroke-width="1" />
<text x="438.05" y="413.9" font-size="5.6" text-anchor="middle" fill="#333" font-style="italic">n.s.</text>
<line x1="430" y1="408.75" x2="465" y2="408.75" stroke="#333" stroke-width="1" />
<text x="448.3" y="407.65" font-size="5.6" text-anchor="middle" fill="#333" font-style="italic">n.s.</text>
<line x1="430" y1="403" x2="481.25" y2="403" stroke="#333" stroke-width="1" />
<text x="456.43" y="401.9" font-size="5.6" text-anchor="middle" fill="#333" font-style="italic">n.s.</text>
<line x1="447" y1="397" x2="465" y2="397" stroke="#333" stroke-width="1" />
<text x="456.8" y="395.9" font-size="5.6" text-anchor="middle" fill="#333" font-style="italic">n.s.</text>
<line x1="447" y1="390.75" x2="481.25" y2="390.75" stroke="#333" stroke-width="1" />
<text x="464.93" y="389.65" font-size="5.6" text-anchor="middle" fill="#333" font-style="italic">n.s.</text>
<text x="0" y="0" font-size="8.8" text-anchor="middle" fill="#1a1a1a" class="b" textLength="64.4" lengthAdjust="spacingAndGlyphs" transform="translate(398.4,442.3) rotate(-90)">% of Th17 in CD45<tspan font-size="6.4" dx="0.4" dy="-3.4">+</tspan></text>
<text x="0" y="0" font-size="8.6" text-anchor="end" fill="#1a1a1a" class="b" transform="translate(431.5,501.9) rotate(-45)">HC</text>
<text x="0" y="0" font-size="8.6" text-anchor="end" fill="#1a1a1a" class="b" transform="translate(449.1,501.9) rotate(-45)">SCID other</text>
<text x="0" y="0" font-size="8.6" text-anchor="end" fill="#1a1a1a" class="b" transform="translate(466.6,501.9) rotate(-45)">GC/JAK3</text>
<text x="0" y="0" font-size="8.6" text-anchor="end" fill="#1a1a1a" class="b" transform="translate(484.1,501.9) rotate(-45)">GC/JAK3+IgRT</text>
<rect x="89" y="622" width="11.4" height="29.1" fill="#a78fc2"/>
<rect x="106.1" y="642.3" width="11.8" height="11" fill="#a3dea3"/>
<rect x="123.8" y="651.1" width="11.1" height="4.7" fill="#eb9aaa"/>
<rect x="140.9" y="623.8" width="11.8" height="29.5" fill="#8dabcf"/>
<line x1="85.4" y1="651.4" x2="155.8" y2="651.4" stroke="#111" stroke-width="1" stroke-dasharray="2.6 1.9"/>
<line x1="94.2" y1="580" x2="94.2" y2="622" stroke="#222" stroke-width="1.15" />
<line x1="94.2" y1="651.1" x2="94.2" y2="651.1" stroke="#222" stroke-width="1.15" />
<line x1="92" y1="580" x2="96.4" y2="580" stroke="#222" stroke-width="1.1" />
<line x1="92" y1="651.1" x2="96.4" y2="651.1" stroke="#222" stroke-width="1.1" />
<line x1="89.5" y1="648.5" x2="99.9" y2="648.5" stroke="#111" stroke-width="1.3" />
<line x1="112" y1="602" x2="112" y2="642.3" stroke="#222" stroke-width="1.15" />
<line x1="112" y1="653.3" x2="112" y2="655.5" stroke="#222" stroke-width="1.15" />
<line x1="109.8" y1="602" x2="114.2" y2="602" stroke="#222" stroke-width="1.1" />
<line x1="109.8" y1="655.5" x2="114.2" y2="655.5" stroke="#222" stroke-width="1.1" />
<line x1="106.6" y1="651.2" x2="117.4" y2="651.2" stroke="#111" stroke-width="1.3" />
<line x1="129.3" y1="643.3" x2="129.3" y2="651.1" stroke="#222" stroke-width="1.15" />
<line x1="129.3" y1="655.8" x2="129.3" y2="655.8" stroke="#222" stroke-width="1.15" />
<line x1="127.1" y1="643.3" x2="131.5" y2="643.3" stroke="#222" stroke-width="1.1" />
<line x1="127.1" y1="655.8" x2="131.5" y2="655.8" stroke="#222" stroke-width="1.1" />
<line x1="124.3" y1="654" x2="134.4" y2="654" stroke="#111" stroke-width="1.3" />
<line x1="146.6" y1="603.4" x2="146.6" y2="623.8" stroke="#222" stroke-width="1.15" />
<line x1="146.6" y1="653.3" x2="146.6" y2="655.5" stroke="#222" stroke-width="1.15" />
<line x1="144.4" y1="603.4" x2="148.8" y2="603.4" stroke="#222" stroke-width="1.1" />
<line x1="144.4" y1="655.5" x2="148.8" y2="655.5" stroke="#222" stroke-width="1.1" />
<line x1="141.4" y1="651.5" x2="152.2" y2="651.5" stroke="#111" stroke-width="1.3" />
<circle cx="94.25" cy="579.96" r="1.62" fill="#5a2483"/>
<circle cx="90.4" cy="604.87" r="1.62" fill="#5a2483"/>
<circle cx="94.25" cy="608.14" r="1.62" fill="#5a2483"/>
<circle cx="98.23" cy="605.29" r="1.62" fill="#5a2483"/>
<circle cx="94.25" cy="634.75" r="1.62" fill="#5a2483"/>
<circle cx="90.4" cy="638.31" r="1.62" fill="#5a2483"/>
<circle cx="93.25" cy="639.02" r="1.62" fill="#5a2483"/>
<circle cx="96.1" cy="639.02" r="1.62" fill="#5a2483"/>
<circle cx="98.94" cy="638.31" r="1.62" fill="#5a2483"/>
<circle cx="90.4" cy="641.87" r="1.62" fill="#5a2483"/>
<circle cx="94.25" cy="643.29" r="1.62" fill="#5a2483"/>
<circle cx="98.23" cy="641.15" r="1.62" fill="#5a2483"/>
<circle cx="90.4" cy="646.13" r="1.62" fill="#5a2483"/>
<circle cx="94.67" cy="647.56" r="1.62" fill="#5a2483"/>
<circle cx="98.23" cy="648.27" r="1.62" fill="#5a2483"/>
<circle cx="92.54" cy="648.98" r="1.62" fill="#5a2483"/>
<circle cx="94.67" cy="650.4" r="1.62" fill="#5a2483"/>
<circle cx="112.03" cy="602.02" r="1.62" fill="#2db84a"/>
<circle cx="112.03" cy="641.87" r="1.62" fill="#2db84a"/>
<circle cx="110.04" cy="646.85" r="1.62" fill="#2db84a"/>
<circle cx="113.17" cy="651.12" r="1.62" fill="#2db84a"/>
<circle cx="108.9" cy="655.38" r="1.62" fill="#2db84a"/>
<circle cx="112.03" cy="655.38" r="1.62" fill="#2db84a"/>
<circle cx="115.31" cy="655.38" r="1.62" fill="#2db84a"/>
<circle cx="129.25" cy="643.29" r="1.62" fill="#d5123f"/>
<circle cx="125.98" cy="653.25" r="1.62" fill="#d5123f"/>
<circle cx="129.25" cy="653.96" r="1.62" fill="#d5123f"/>
<circle cx="132.38" cy="653.25" r="1.62" fill="#d5123f"/>
<circle cx="129.25" cy="655.38" r="1.62" fill="#d5123f"/>
<circle cx="146.62" cy="603.44" r="1.62" fill="#1c5894"/>
<circle cx="146.62" cy="643.57" r="1.62" fill="#1c5894"/>
<circle cx="142.63" cy="652.54" r="1.62" fill="#1c5894"/>
<circle cx="146.62" cy="654.67" r="1.62" fill="#1c5894"/>
<circle cx="150.17" cy="652.54" r="1.62" fill="#1c5894"/>
<line x1="85.4" y1="547.5" x2="85.4" y2="656.4" stroke="#222" stroke-width="1.4" />
<line x1="84.7" y1="655.8" x2="153" y2="655.8" stroke="#222" stroke-width="1.4" />
<line x1="94.2" y1="655.8" x2="94.2" y2="658.4" stroke="#222" stroke-width="0.9" />
<line x1="112" y1="655.8" x2="112" y2="658.4" stroke="#222" stroke-width="0.9" />
<line x1="129.3" y1="655.8" x2="129.3" y2="658.4" stroke="#222" stroke-width="0.9" />
<line x1="146.6" y1="655.8" x2="146.6" y2="658.4" stroke="#222" stroke-width="0.9" />
<line x1="82.9" y1="655.6" x2="85.4" y2="655.6" stroke="#222" stroke-width="0.9" />
<text x="78.5" y="658.3" font-size="7.4" text-anchor="end" fill="#222" class="b" >0.0</text>
<line x1="82.9" y1="646.16" x2="85.4" y2="646.16" stroke="#222" stroke-width="0.9" />
<text x="78.5" y="648.86" font-size="7.4" text-anchor="end" fill="#222" class="b" >0.2</text>
<line x1="82.9" y1="636.73" x2="85.4" y2="636.73" stroke="#222" stroke-width="0.9" />
<text x="78.5" y="639.43" font-size="7.4" text-anchor="end" fill="#222" class="b" >0.4</text>
<line x1="82.9" y1="627.29" x2="85.4" y2="627.29" stroke="#222" stroke-width="0.9" />
<text x="78.5" y="629.99" font-size="7.4" text-anchor="end" fill="#222" class="b" >0.6</text>
<line x1="82.9" y1="617.86" x2="85.4" y2="617.86" stroke="#222" stroke-width="0.9" />
<text x="78.5" y="620.56" font-size="7.4" text-anchor="end" fill="#222" class="b" >0.8</text>
<line x1="82.9" y1="608.42" x2="85.4" y2="608.42" stroke="#222" stroke-width="0.9" />
<text x="78.5" y="611.12" font-size="7.4" text-anchor="end" fill="#222" class="b" >1.0</text>
<line x1="82.9" y1="598.98" x2="85.4" y2="598.98" stroke="#222" stroke-width="0.9" />
<text x="78.5" y="601.68" font-size="7.4" text-anchor="end" fill="#222" class="b" >1.2</text>
<line x1="82.9" y1="589.55" x2="85.4" y2="589.55" stroke="#222" stroke-width="0.9" />
<text x="78.5" y="592.25" font-size="7.4" text-anchor="end" fill="#222" class="b" >1.4</text>
<line x1="82.9" y1="580.11" x2="85.4" y2="580.11" stroke="#222" stroke-width="0.9" />
<text x="78.5" y="582.81" font-size="7.4" text-anchor="end" fill="#222" class="b" >1.6</text>
<line x1="82.9" y1="570.68" x2="85.4" y2="570.68" stroke="#222" stroke-width="0.9" />
<text x="78.5" y="573.38" font-size="7.4" text-anchor="end" fill="#222" class="b" >1.8</text>
<line x1="82.9" y1="561.24" x2="85.4" y2="561.24" stroke="#222" stroke-width="0.9" />
<text x="78.5" y="563.94" font-size="7.4" text-anchor="end" fill="#222" class="b" >2.0</text>
<line x1="82.9" y1="551.8" x2="85.4" y2="551.8" stroke="#222" stroke-width="0.9" />
<text x="78.5" y="554.5" font-size="7.4" text-anchor="end" fill="#222" class="b" >2.2</text>
<line x1="96.1" y1="576.3" x2="109.9" y2="576.3" stroke="#333" stroke-width="1" />
<text x="103.8" y="575.2" font-size="5.6" text-anchor="middle" fill="#333" font-style="italic">n.s.</text>
<line x1="96.1" y1="570.8" x2="130" y2="570.8" stroke="#333" stroke-width="1" />
<text x="113.05" y="572.3" font-size="5.8" text-anchor="middle" fill="#222" >**</text>
<line x1="96.1" y1="566.2" x2="146.7" y2="566.2" stroke="#333" stroke-width="1" />
<text x="122.2" y="565.1" font-size="5.6" text-anchor="middle" fill="#333" font-style="italic">n.s.</text>
<line x1="111.8" y1="560.2" x2="130.4" y2="560.2" stroke="#333" stroke-width="1" />
<text x="121.9" y="559.1" font-size="5.6" text-anchor="middle" fill="#333" font-style="italic">n.s.</text>
<line x1="111.8" y1="554.1" x2="146.7" y2="554.1" stroke="#333" stroke-width="1" />
<text x="130.05" y="553" font-size="5.6" text-anchor="middle" fill="#333" font-style="italic">n.s.</text>
<text x="0" y="0" font-size="8.8" text-anchor="middle" fill="#1a1a1a" class="b" textLength="111.2" lengthAdjust="spacingAndGlyphs" transform="translate(63,603.8) rotate(-90)">% of Th2 (CRTh2<tspan font-size="6.4" dx="0.4" dy="-3.4">+</tspan><tspan dy="3.4">) cells in CD45</tspan><tspan font-size="6.4" dx="0.4" dy="-3.4">+</tspan></text>
<text x="0" y="0" font-size="8.6" text-anchor="end" fill="#1a1a1a" class="b" transform="translate(98,663.6) rotate(-45)">HC</text>
<text x="0" y="0" font-size="8.6" text-anchor="end" fill="#1a1a1a" class="b" transform="translate(115.8,663.6) rotate(-45)">SCID other</text>
<text x="0" y="0" font-size="8.6" text-anchor="end" fill="#1a1a1a" class="b" transform="translate(133.1,663.6) rotate(-45)">GC/JAK3</text>
<text x="0" y="0" font-size="8.6" text-anchor="end" fill="#1a1a1a" class="b" transform="translate(150.4,663.6) rotate(-45)">GC/JAK3+IgRT</text>
<rect x="262" y="607.4" width="11" height="24.1" fill="#a78fc2"/>
<rect x="279.3" y="631.5" width="10.4" height="15.1" fill="#a3dea3"/>
<rect x="296.1" y="639.7" width="11" height="11.1" fill="#eb9aaa"/>
<rect x="313.2" y="631.5" width="10.7" height="20.8" fill="#8dabcf"/>
<line x1="259.1" y1="643.3" x2="328" y2="643.3" stroke="#111" stroke-width="1" stroke-dasharray="2.6 1.9"/>
<line x1="267.3" y1="583.5" x2="267.3" y2="607.4" stroke="#222" stroke-width="1.15" />
<line x1="267.3" y1="631.5" x2="267.3" y2="641.9" stroke="#222" stroke-width="1.15" />
<line x1="265.1" y1="583.5" x2="269.5" y2="583.5" stroke="#222" stroke-width="1.1" />
<line x1="265.1" y1="641.9" x2="269.5" y2="641.9" stroke="#222" stroke-width="1.1" />
<line x1="262.5" y1="620.5" x2="272.5" y2="620.5" stroke="#111" stroke-width="1.3" />
<line x1="284.3" y1="621" x2="284.3" y2="631.5" stroke="#222" stroke-width="1.15" />
<line x1="284.3" y1="646.6" x2="284.3" y2="651.8" stroke="#222" stroke-width="1.15" />
<line x1="282.1" y1="621" x2="286.5" y2="621" stroke="#222" stroke-width="1.1" />
<line x1="282.1" y1="651.8" x2="286.5" y2="651.8" stroke="#222" stroke-width="1.1" />
<line x1="279.8" y1="641.2" x2="289.2" y2="641.2" stroke="#111" stroke-width="1.3" />
<line x1="301.4" y1="630.9" x2="301.4" y2="639.7" stroke="#222" stroke-width="1.15" />
<line x1="301.4" y1="650.8" x2="301.4" y2="653" stroke="#222" stroke-width="1.15" />
<line x1="299.2" y1="630.9" x2="303.6" y2="630.9" stroke="#222" stroke-width="1.1" />
<line x1="299.2" y1="653" x2="303.6" y2="653" stroke="#222" stroke-width="1.1" />
<line x1="296.6" y1="648.7" x2="306.6" y2="648.7" stroke="#111" stroke-width="1.3" />
<line x1="318.8" y1="616.3" x2="318.8" y2="631.5" stroke="#222" stroke-width="1.15" />
<line x1="318.8" y1="652.3" x2="318.8" y2="652.3" stroke="#222" stroke-width="1.15" />
<line x1="316.6" y1="616.3" x2="321" y2="616.3" stroke="#222" stroke-width="1.1" />
<line x1="316.6" y1="652.3" x2="321" y2="652.3" stroke="#222" stroke-width="1.1" />
<line x1="313.7" y1="648.7" x2="323.4" y2="648.7" stroke="#111" stroke-width="1.3" />
<circle cx="265.4" cy="583.52" r="1.62" fill="#5a2483"/>
<circle cx="269.1" cy="583.52" r="1.62" fill="#5a2483"/>
<circle cx="265.4" cy="600.6" r="1.62" fill="#5a2483"/>
<circle cx="269.1" cy="602.45" r="1.62" fill="#5a2483"/>
<circle cx="267.25" cy="612.41" r="1.62" fill="#5a2483"/>
<circle cx="265.4" cy="616.96" r="1.62" fill="#5a2483"/>
<circle cx="263.69" cy="620.52" r="1.62" fill="#5a2483"/>
<circle cx="267.25" cy="620.52" r="1.62" fill="#5a2483"/>
<circle cx="271.52" cy="620.52" r="1.62" fill="#5a2483"/>
<circle cx="267.25" cy="624.08" r="1.62" fill="#5a2483"/>
<circle cx="267.25" cy="627.63" r="1.62" fill="#5a2483"/>
<circle cx="263.69" cy="631.19" r="1.62" fill="#5a2483"/>
<circle cx="267.25" cy="632.62" r="1.62" fill="#5a2483"/>
<circle cx="271.52" cy="630.48" r="1.62" fill="#5a2483"/>
<circle cx="267.25" cy="637.6" r="1.62" fill="#5a2483"/>
<circle cx="267.25" cy="641.87" r="1.62" fill="#5a2483"/>
<circle cx="284.33" cy="620.95" r="1.62" fill="#2db84a"/>
<circle cx="282.48" cy="631.48" r="1.62" fill="#2db84a"/>
<circle cx="286.46" cy="632.62" r="1.62" fill="#2db84a"/>
<circle cx="282.48" cy="641.15" r="1.62" fill="#2db84a"/>
<circle cx="286.46" cy="641.15" r="1.62" fill="#2db84a"/>
<circle cx="284.33" cy="646.85" r="1.62" fill="#2db84a"/>
<circle cx="284.33" cy="651.83" r="1.62" fill="#2db84a"/>
<circle cx="301.4" cy="630.91" r="1.62" fill="#d5123f"/>
<circle cx="301.4" cy="641.87" r="1.62" fill="#d5123f"/>
<circle cx="298.56" cy="648.7" r="1.62" fill="#d5123f"/>
<circle cx="302.12" cy="648.7" r="1.62" fill="#d5123f"/>
<circle cx="305.67" cy="648.7" r="1.62" fill="#d5123f"/>
<circle cx="299.55" cy="653.25" r="1.62" fill="#d5123f"/>
<circle cx="303.25" cy="652.25" r="1.62" fill="#d5123f"/>
<circle cx="318.77" cy="616.25" r="1.62" fill="#1c5894"/>
<circle cx="314.92" cy="645.42" r="1.62" fill="#1c5894"/>
<circle cx="322.75" cy="648.7" r="1.62" fill="#1c5894"/>
<circle cx="316.63" cy="652.25" r="1.62" fill="#1c5894"/>
<circle cx="320.62" cy="652.25" r="1.62" fill="#1c5894"/>
<line x1="259.1" y1="549.7" x2="259.1" y2="656" stroke="#222" stroke-width="1.4" />
<line x1="258.4" y1="655.4" x2="326.6" y2="655.4" stroke="#222" stroke-width="1.4" />
<line x1="267.3" y1="655.4" x2="267.3" y2="658" stroke="#222" stroke-width="0.9" />
<line x1="284.3" y1="655.4" x2="284.3" y2="658" stroke="#222" stroke-width="0.9" />
<line x1="301.4" y1="655.4" x2="301.4" y2="658" stroke="#222" stroke-width="0.9" />
<line x1="318.8" y1="655.4" x2="318.8" y2="658" stroke="#222" stroke-width="0.9" />
<line x1="256.6" y1="655.4" x2="259.1" y2="655.4" stroke="#222" stroke-width="0.9" />
<text x="252.2" y="658.1" font-size="7.4" text-anchor="end" fill="#222" class="b" >0</text>
<line x1="256.6" y1="645.13" x2="259.1" y2="645.13" stroke="#222" stroke-width="0.9" />
<text x="252.2" y="647.83" font-size="7.4" text-anchor="end" fill="#222" class="b" >1</text>
<line x1="256.6" y1="634.86" x2="259.1" y2="634.86" stroke="#222" stroke-width="0.9" />
<text x="252.2" y="637.56" font-size="7.4" text-anchor="end" fill="#222" class="b" >2</text>
<line x1="256.6" y1="624.59" x2="259.1" y2="624.59" stroke="#222" stroke-width="0.9" />
<text x="252.2" y="627.29" font-size="7.4" text-anchor="end" fill="#222" class="b" >3</text>
<line x1="256.6" y1="614.32" x2="259.1" y2="614.32" stroke="#222" stroke-width="0.9" />
<text x="252.2" y="617.02" font-size="7.4" text-anchor="end" fill="#222" class="b" >4</text>
<line x1="256.6" y1="604.05" x2="259.1" y2="604.05" stroke="#222" stroke-width="0.9" />
<text x="252.2" y="606.75" font-size="7.4" text-anchor="end" fill="#222" class="b" >5</text>
<line x1="256.6" y1="593.78" x2="259.1" y2="593.78" stroke="#222" stroke-width="0.9" />
<text x="252.2" y="596.48" font-size="7.4" text-anchor="end" fill="#222" class="b" >6</text>
<line x1="256.6" y1="583.51" x2="259.1" y2="583.51" stroke="#222" stroke-width="0.9" />
<text x="252.2" y="586.21" font-size="7.4" text-anchor="end" fill="#222" class="b" >7</text>
<line x1="256.6" y1="573.24" x2="259.1" y2="573.24" stroke="#222" stroke-width="0.9" />
<text x="252.2" y="575.94" font-size="7.4" text-anchor="end" fill="#222" class="b" >8</text>
<line x1="256.6" y1="562.97" x2="259.1" y2="562.97" stroke="#222" stroke-width="0.9" />
<text x="252.2" y="565.67" font-size="7.4" text-anchor="end" fill="#222" class="b" >9</text>
<line x1="256.6" y1="552.7" x2="259.1" y2="552.7" stroke="#222" stroke-width="0.9" />
<text x="252.2" y="555.4" font-size="7.4" text-anchor="end" fill="#222" class="b" >10</text>
<line x1="268" y1="579.2" x2="281.2" y2="579.2" stroke="#333" stroke-width="1" />
<text x="275.4" y="578.1" font-size="5.6" text-anchor="middle" fill="#333" font-style="italic">n.s.</text>
<line x1="268" y1="573" x2="300.8" y2="573" stroke="#333" stroke-width="1" />
<text x="284.4" y="574.5" font-size="5.8" text-anchor="middle" fill="#222" >**</text>
<line x1="268" y1="567.2" x2="316.9" y2="567.2" stroke="#333" stroke-width="1" />
<text x="292.45" y="568.7" font-size="5.8" text-anchor="middle" fill="#222" >*</text>
<line x1="283.5" y1="561.9" x2="301.2" y2="561.9" stroke="#333" stroke-width="1" />
<text x="293.15" y="560.8" font-size="5.6" text-anchor="middle" fill="#333" font-style="italic">n.s.</text>
<line x1="283.5" y1="555" x2="316.9" y2="555" stroke="#333" stroke-width="1" />
<text x="301" y="553.9" font-size="5.6" text-anchor="middle" fill="#333" font-style="italic">n.s.</text>
<text x="0" y="0" font-size="8.8" text-anchor="middle" fill="#1a1a1a" class="b" textLength="90" lengthAdjust="spacingAndGlyphs" transform="translate(241.5,604.7) rotate(-90)">% of Th2 (CCR4<tspan font-size="6.4" dx="0.4" dy="-3.4">+</tspan><tspan dy="3.4">) in CD45</tspan><tspan font-size="6.4" dx="0.4" dy="-3.4">+</tspan></text>
<text x="0" y="0" font-size="8.6" text-anchor="end" fill="#1a1a1a" class="b" transform="translate(271.1,663.2) rotate(-45)">HC</text>
<text x="0" y="0" font-size="8.6" text-anchor="end" fill="#1a1a1a" class="b" transform="translate(288.1,663.2) rotate(-45)">SCID other</text>
<text x="0" y="0" font-size="8.6" text-anchor="end" fill="#1a1a1a" class="b" transform="translate(305.2,663.2) rotate(-45)">GC/JAK3</text>
<text x="0" y="0" font-size="8.6" text-anchor="end" fill="#1a1a1a" class="b" transform="translate(322.6,663.2) rotate(-45)">GC/JAK3+IgRT</text>
<rect x="422" y="611.3" width="11" height="18.5" fill="#a78fc2"/>
<rect x="439.3" y="617.4" width="11.1" height="14.1" fill="#a3dea3"/>
<rect x="456.1" y="628.8" width="11.7" height="14.9" fill="#eb9aaa"/>
<rect x="473.5" y="618.8" width="11.4" height="16.7" fill="#8dabcf"/>
<line x1="419.4" y1="638.6" x2="488" y2="638.6" stroke="#111" stroke-width="1" stroke-dasharray="2.6 1.9"/>
<line x1="427.3" y1="585" x2="427.3" y2="611.3" stroke="#222" stroke-width="1.15" />
<line x1="427.3" y1="629.8" x2="427.3" y2="638.3" stroke="#222" stroke-width="1.15" />
<line x1="425.1" y1="585" x2="429.5" y2="585" stroke="#222" stroke-width="1.1" />
<line x1="425.1" y1="638.3" x2="429.5" y2="638.3" stroke="#222" stroke-width="1.1" />
<line x1="422.5" y1="626.2" x2="432.5" y2="626.2" stroke="#111" stroke-width="1.3" />
<line x1="444.8" y1="592.8" x2="444.8" y2="617.4" stroke="#222" stroke-width="1.15" />
<line x1="444.8" y1="631.5" x2="444.8" y2="635.5" stroke="#222" stroke-width="1.15" />
<line x1="442.6" y1="592.8" x2="447" y2="592.8" stroke="#222" stroke-width="1.1" />
<line x1="442.6" y1="635.5" x2="447" y2="635.5" stroke="#222" stroke-width="1.1" />
<line x1="439.8" y1="629" x2="449.9" y2="629" stroke="#111" stroke-width="1.3" />
<line x1="462.1" y1="619.8" x2="462.1" y2="628.8" stroke="#222" stroke-width="1.15" />
<line x1="462.1" y1="643.7" x2="462.1" y2="646.6" stroke="#222" stroke-width="1.15" />
<line x1="459.9" y1="619.8" x2="464.3" y2="619.8" stroke="#222" stroke-width="1.1" />
<line x1="459.9" y1="646.6" x2="464.3" y2="646.6" stroke="#222" stroke-width="1.1" />
<line x1="456.6" y1="638.6" x2="467.3" y2="638.6" stroke="#111" stroke-width="1.3" />
<line x1="479.2" y1="612.4" x2="479.2" y2="618.8" stroke="#222" stroke-width="1.15" />
<line x1="479.2" y1="635.5" x2="479.2" y2="636" stroke="#222" stroke-width="1.15" />
<line x1="477" y1="612.4" x2="481.4" y2="612.4" stroke="#222" stroke-width="1.1" />
<line x1="477" y1="636" x2="481.4" y2="636" stroke="#222" stroke-width="1.1" />
<line x1="474" y1="633.6" x2="484.4" y2="633.6" stroke="#111" stroke-width="1.3" />
<circle cx="427.25" cy="584.94" r="1.62" fill="#5a2483"/>
<circle cx="427.25" cy="607.28" r="1.62" fill="#5a2483"/>
<circle cx="429.1" cy="609.13" r="1.62" fill="#5a2483"/>
<circle cx="423.69" cy="611.98" r="1.62" fill="#5a2483"/>
<circle cx="425.83" cy="611.55" r="1.62" fill="#5a2483"/>
<circle cx="431.52" cy="612.41" r="1.62" fill="#5a2483"/>
<circle cx="425.83" cy="615.25" r="1.62" fill="#5a2483"/>
<circle cx="429.1" cy="615.25" r="1.62" fill="#5a2483"/>
<circle cx="423.69" cy="626.21" r="1.62" fill="#5a2483"/>
<circle cx="427.25" cy="627.63" r="1.62" fill="#5a2483"/>
<circle cx="432.23" cy="626.21" r="1.62" fill="#5a2483"/>
<circle cx="423.69" cy="629.77" r="1.62" fill="#5a2483"/>
<circle cx="427.25" cy="632.33" r="1.62" fill="#5a2483"/>
<circle cx="431.52" cy="628.35" r="1.62" fill="#5a2483"/>
<circle cx="423.69" cy="636.17" r="1.62" fill="#5a2483"/>
<circle cx="427.25" cy="638.02" r="1.62" fill="#5a2483"/>
<circle cx="431.52" cy="636.6" r="1.62" fill="#5a2483"/>
<circle cx="444.75" cy="592.77" r="1.62" fill="#2db84a"/>
<circle cx="444.75" cy="617.39" r="1.62" fill="#2db84a"/>
<circle cx="444.75" cy="626.64" r="1.62" fill="#2db84a"/>
<circle cx="440.77" cy="629.06" r="1.62" fill="#2db84a"/>
<circle cx="448.6" cy="629.06" r="1.62" fill="#2db84a"/>
<circle cx="444.75" cy="635.46" r="1.62" fill="#2db84a"/>
<circle cx="462.12" cy="619.81" r="1.62" fill="#d5123f"/>
<circle cx="462.12" cy="631.9" r="1.62" fill="#d5123f"/>
<circle cx="459.98" cy="636.88" r="1.62" fill="#d5123f"/>
<circle cx="463.54" cy="636.88" r="1.62" fill="#d5123f"/>
<circle cx="459.98" cy="639.73" r="1.62" fill="#d5123f"/>
<circle cx="463.54" cy="643.29" r="1.62" fill="#d5123f"/>
<circle cx="459.98" cy="646.56" r="1.62" fill="#d5123f"/>
<circle cx="479.19" cy="612.41" r="1.62" fill="#1c5894"/>
<circle cx="479.19" cy="624.08" r="1.62" fill="#1c5894"/>
<circle cx="475.63" cy="633.33" r="1.62" fill="#1c5894"/>
<circle cx="479.19" cy="636.17" r="1.62" fill="#1c5894"/>
<circle cx="482.75" cy="635.46" r="1.62" fill="#1c5894"/>
<line x1="419.4" y1="548.1" x2="419.4" y2="656" stroke="#222" stroke-width="1.4" />
<line x1="418.7" y1="655.4" x2="486.5" y2="655.4" stroke="#222" stroke-width="1.4" />
<line x1="427.3" y1="655.4" x2="427.3" y2="658" stroke="#222" stroke-width="0.9" />
<line x1="444.8" y1="655.4" x2="444.8" y2="658" stroke="#222" stroke-width="0.9" />
<line x1="462.1" y1="655.4" x2="462.1" y2="658" stroke="#222" stroke-width="0.9" />
<line x1="479.2" y1="655.4" x2="479.2" y2="658" stroke="#222" stroke-width="0.9" />
<line x1="416.9" y1="655.4" x2="419.4" y2="655.4" stroke="#222" stroke-width="0.9" />
<text x="412.5" y="658.1" font-size="7.4" text-anchor="end" fill="#222" class="b" >0</text>
<line x1="416.9" y1="640.5" x2="419.4" y2="640.5" stroke="#222" stroke-width="0.9" />
<text x="412.5" y="643.2" font-size="7.4" text-anchor="end" fill="#222" class="b" >1</text>
<line x1="416.9" y1="625.6" x2="419.4" y2="625.6" stroke="#222" stroke-width="0.9" />
<text x="412.5" y="628.3" font-size="7.4" text-anchor="end" fill="#222" class="b" >2</text>
<line x1="416.9" y1="610.7" x2="419.4" y2="610.7" stroke="#222" stroke-width="0.9" />
<text x="412.5" y="613.4" font-size="7.4" text-anchor="end" fill="#222" class="b" >3</text>
<line x1="416.9" y1="595.8" x2="419.4" y2="595.8" stroke="#222" stroke-width="0.9" />
<text x="412.5" y="598.5" font-size="7.4" text-anchor="end" fill="#222" class="b" >4</text>
<line x1="416.9" y1="580.9" x2="419.4" y2="580.9" stroke="#222" stroke-width="0.9" />
<text x="412.5" y="583.6" font-size="7.4" text-anchor="end" fill="#222" class="b" >5</text>
<line x1="416.9" y1="566" x2="419.4" y2="566" stroke="#222" stroke-width="0.9" />
<text x="412.5" y="568.7" font-size="7.4" text-anchor="end" fill="#222" class="b" >6</text>
<line x1="416.9" y1="551.1" x2="419.4" y2="551.1" stroke="#222" stroke-width="0.9" />
<text x="412.5" y="553.8" font-size="7.4" text-anchor="end" fill="#222" class="b" >7</text>
<line x1="428.4" y1="579.2" x2="442.2" y2="579.2" stroke="#333" stroke-width="1" />
<text x="436.1" y="578.1" font-size="5.6" text-anchor="middle" fill="#333" font-style="italic">n.s.</text>
<line x1="428.4" y1="574.2" x2="462.3" y2="574.2" stroke="#333" stroke-width="1" />
<text x="445.35" y="575.7" font-size="5.8" text-anchor="middle" fill="#222" >*</text>
<line x1="428.4" y1="568.8" x2="478.5" y2="568.8" stroke="#333" stroke-width="1" />
<text x="454.25" y="567.7" font-size="5.6" text-anchor="middle" fill="#333" font-style="italic">n.s.</text>
<line x1="444.5" y1="561.9" x2="462.3" y2="561.9" stroke="#333" stroke-width="1" />
<text x="454.2" y="560.8" font-size="5.6" text-anchor="middle" fill="#333" font-style="italic">n.s.</text>
<line x1="444.5" y1="554.5" x2="478.5" y2="554.5" stroke="#333" stroke-width="1" />
<text x="462.3" y="553.4" font-size="5.6" text-anchor="middle" fill="#333" font-style="italic">n.s.</text>
<text x="0" y="0" font-size="8.8" text-anchor="middle" fill="#1a1a1a" class="b" textLength="91.8" lengthAdjust="spacingAndGlyphs" transform="translate(401.5,603.5) rotate(-90)">% of Treg (CD25<tspan font-size="6.4" dx="0.4" dy="-3.4">+</tspan><tspan dy="3.4">) in CD45</tspan><tspan font-size="6.4" dx="0.4" dy="-3.4">+</tspan></text>
<text x="0" y="0" font-size="8.6" text-anchor="end" fill="#1a1a1a" class="b" transform="translate(431.1,663.2) rotate(-45)">HC</text>
<text x="0" y="0" font-size="8.6" text-anchor="end" fill="#1a1a1a" class="b" transform="translate(448.6,663.2) rotate(-45)">SCID other</text>
<text x="0" y="0" font-size="8.6" text-anchor="end" fill="#1a1a1a" class="b" transform="translate(465.9,663.2) rotate(-45)">GC/JAK3</text>
<text x="0" y="0" font-size="8.6" text-anchor="end" fill="#1a1a1a" class="b" transform="translate(483,663.2) rotate(-45)">GC/JAK3+IgRT</text>
<text x="9.3" y="393.6" font-size="11.8" text-anchor="start" fill="#000" font-weight="bold" >D</text>
<rect x="0.7" y="0.7" width="518.6" height="711.6" fill="none" stroke="#000" stroke-width="1.4"/>
</svg></body></html>
